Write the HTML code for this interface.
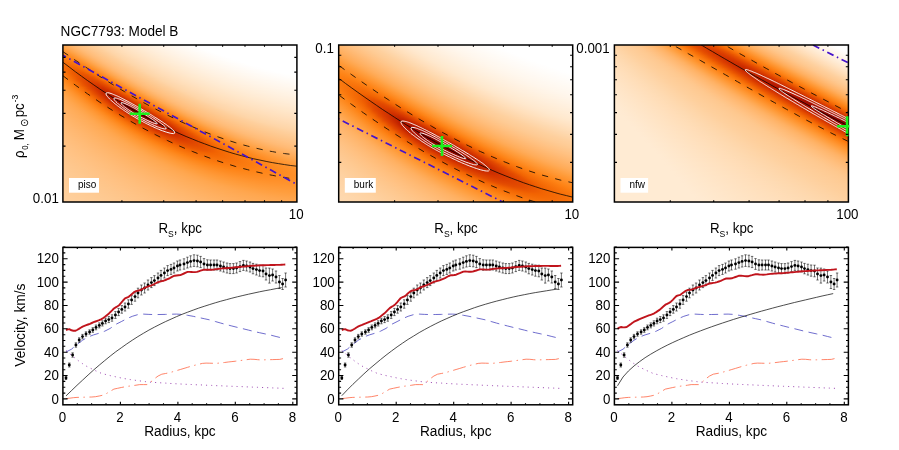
<!DOCTYPE html><html><head><meta charset="utf-8"><title>NGC7793</title><style>
html,body{margin:0;padding:0;background:#fff}body{width:899px;height:450px;position:relative;overflow:hidden;font-family:"Liberation Sans",sans-serif}
.hm{position:absolute;width:234px;overflow:hidden}.hm i{display:block;height:1px;width:100%}
svg{position:absolute;left:0;top:0;will-change:transform}text{font-family:"Liberation Sans",sans-serif;font-size:13.33px;fill:#000}
</style></head><body>
<div class="hm" style="left:63px;top:45px;height:157px">
<i style="background:linear-gradient(90deg,#ffa851,#ffb062,#ffb872,#ffbf7e,#ffc487,#fec991,#fecd99,#fed3a4,#fed7ac,#fedbb3,#ffdeb9,#ffe1bf,#ffe4c5,#ffe7cb,#ffe9d0,#ffecd5,#ffeed9,#fff0de,#fff2e2,#fff3e6,#fff5ea,#fff7ed,#fff8f1,#fffaf4,#fffbf7,#fffdfa,#fffefd,#ffffff,#ffffff,#ffffff,#ffffff,#ffffff,#ffffff,#ffffff,#ffffff,#ffffff,#ffffff,#ffffff,#ffffff,#ffffff,#ffffff,#ffffff,#ffffff,#ffffff,#ffffff,#ffffff,#ffffff,#ffffff)"></i>
<i style="background:linear-gradient(90deg,#ffa54b,#ffad5c,#ffb66d,#ffbd7a,#ffc284,#fec78e,#fecc97,#fed19f,#fed6aa,#fedab1,#ffddb7,#ffe0bd,#ffe3c3,#ffe6c9,#ffe8ce,#ffebd3,#ffedd8,#ffefdc,#fff1e0,#fff3e4,#fff4e8,#fff6ec,#fff8ef,#fff9f2,#fffbf6,#fffcf9,#fffdfb,#fffffe,#ffffff,#ffffff,#ffffff,#ffffff,#ffffff,#ffffff,#ffffff,#ffffff,#ffffff,#ffffff,#ffffff,#ffffff,#ffffff,#ffffff,#ffffff,#ffffff,#ffffff,#ffffff,#ffffff,#ffffff)"></i>
<i style="background:linear-gradient(90deg,#ffa144,#ffab57,#ffb367,#ffbb77,#ffc181,#fec68b,#fecb94,#fecf9c,#fed5a7,#fed8ae,#fedcb5,#ffdfbb,#ffe2c1,#ffe5c7,#ffe8cc,#ffead1,#ffecd6,#ffeedb,#fff0df,#fff2e3,#fff4e7,#fff5ea,#fff7ee,#fff9f1,#fffaf4,#fffbf7,#fffdfa,#fffefd,#ffffff,#ffffff,#ffffff,#ffffff,#ffffff,#ffffff,#ffffff,#ffffff,#ffffff,#ffffff,#ffffff,#ffffff,#ffffff,#ffffff,#ffffff,#ffffff,#ffffff,#ffffff,#ffffff,#ffffff)"></i>
<i style="background:linear-gradient(90deg,#ff9d3d,#ffa851,#ffb062,#ffb972,#ffbf7e,#ffc488,#fec991,#fece9a,#fed3a4,#fed7ac,#fedbb3,#ffdeb9,#ffe1bf,#ffe4c5,#ffe7ca,#ffe9cf,#ffebd4,#ffeed9,#ffefdd,#fff1e1,#fff3e5,#fff5e9,#fff6ec,#fff8f0,#fff9f3,#fffbf6,#fffcf9,#fffdfc,#fffffe,#ffffff,#ffffff,#ffffff,#ffffff,#ffffff,#ffffff,#ffffff,#ffffff,#ffffff,#ffffff,#ffffff,#ffffff,#ffffff,#ffffff,#ffffff,#ffffff,#ffffff,#ffffff,#ffffff)"></i>
<i style="background:linear-gradient(90deg,#ff9937,#ffa44a,#ffad5c,#ffb66d,#ffbd7b,#ffc285,#fec78e,#fecc97,#fed1a0,#fed6aa,#fedab1,#ffddb7,#ffe0bd,#ffe3c3,#ffe6c8,#ffe8ce,#ffebd3,#ffedd7,#ffefdc,#fff1e0,#fff2e4,#fff4e7,#fff6eb,#fff7ee,#fff9f1,#fffaf5,#fffcf7,#fffdfa,#fffefd,#ffffff,#ffffff,#ffffff,#ffffff,#ffffff,#ffffff,#ffffff,#ffffff,#ffffff,#ffffff,#ffffff,#ffffff,#ffffff,#ffffff,#ffffff,#ffffff,#ffffff,#ffffff,#ffffff)"></i>
<i style="background:linear-gradient(90deg,#ff9531,#ffa042,#ffaa56,#ffb367,#ffbb77,#ffc181,#fec68b,#fecb94,#fecf9c,#fed5a7,#fed8ae,#fedcb5,#ffdfbb,#ffe2c1,#ffe5c7,#ffe7cc,#ffead1,#ffecd6,#ffeeda,#fff0de,#fff2e2,#fff3e6,#fff5e9,#fff7ed,#fff8f0,#fffaf3,#fffbf6,#fffcf9,#fffdfc,#fffffe,#ffffff,#ffffff,#ffffff,#ffffff,#ffffff,#ffffff,#ffffff,#ffffff,#ffffff,#ffffff,#ffffff,#ffffff,#ffffff,#ffffff,#ffffff,#ffffff,#ffffff,#ffffff)"></i>
<i style="background:linear-gradient(90deg,#ff922b,#ff9c3b,#ffa750,#ffb062,#ffb972,#ffbf7e,#ffc488,#fec991,#fece9a,#fed3a4,#fed7ac,#fedbb3,#ffdeb9,#ffe1bf,#ffe4c5,#ffe6ca,#ffe9cf,#ffebd4,#ffedd8,#ffefdd,#fff1e1,#fff3e4,#fff4e8,#fff6eb,#fff7ef,#fff9f2,#fffaf5,#fffcf8,#fffdfa,#fffefd,#ffffff,#ffffff,#ffffff,#ffffff,#ffffff,#ffffff,#ffffff,#ffffff,#ffffff,#ffffff,#ffffff,#ffffff,#ffffff,#ffffff,#ffffff,#ffffff,#ffffff,#ffffff)"></i>
<i style="background:linear-gradient(90deg,#fe8e26,#ff9835,#ffa449,#ffad5c,#ffb66d,#ffbd7b,#ffc285,#fec78e,#fecc97,#fed1a0,#fed6aa,#fedab1,#ffddb7,#ffe0bd,#ffe3c3,#ffe5c8,#ffe8cd,#ffead2,#ffecd7,#ffeedb,#fff0df,#fff2e3,#fff4e6,#fff5ea,#fff7ed,#fff8f0,#fffaf3,#fffbf6,#fffcf9,#fffdfc,#fffffe,#ffffff,#ffffff,#ffffff,#ffffff,#ffffff,#ffffff,#ffffff,#ffffff,#ffffff,#ffffff,#ffffff,#ffffff,#ffffff,#ffffff,#ffffff,#ffffff,#ffffff)"></i>
<i style="background:linear-gradient(90deg,#fe8a20,#ff942f,#ffa041,#ffaa56,#ffb367,#ffbb77,#ffc181,#fec68b,#fecb94,#fecf9c,#fed5a7,#fed8ae,#fedcb5,#ffdfbb,#ffe2c1,#ffe5c6,#ffe7cb,#ffe9d0,#ffecd5,#ffeed9,#fff0dd,#fff1e1,#fff3e5,#fff5e9,#fff6ec,#fff8ef,#fff9f2,#fffaf5,#fffcf8,#fffdfa,#fffefd,#ffffff,#ffffff,#ffffff,#ffffff,#ffffff,#ffffff,#ffffff,#ffffff,#ffffff,#ffffff,#ffffff,#ffffff,#ffffff,#ffffff,#ffffff,#ffffff,#ffffff)"></i>
<i style="background:linear-gradient(90deg,#fe861b,#ff9029,#ff9b3a,#ffa750,#ffb062,#ffb972,#ffbf7e,#ffc488,#fec991,#fece9a,#fed3a4,#fed7ac,#fedbb3,#ffdeb9,#ffe1bf,#ffe4c4,#ffe6c9,#ffe9ce,#ffebd3,#ffedd8,#ffefdc,#fff1e0,#fff2e4,#fff4e7,#fff6ea,#fff7ee,#fff8f1,#fffaf4,#fffbf6,#fffcf9,#fffdfc,#fffffe,#ffffff,#ffffff,#ffffff,#ffffff,#ffffff,#ffffff,#ffffff,#ffffff,#ffffff,#ffffff,#ffffff,#ffffff,#ffffff,#ffffff,#ffffff,#ffffff)"></i>
<i style="background:linear-gradient(90deg,#fe8316,#fe8c23,#ff9734,#ffa348,#ffad5c,#ffb66d,#ffbd7b,#ffc385,#fec88e,#fecc97,#fed1a0,#fed6aa,#fed9b0,#ffddb7,#ffe0bd,#ffe3c2,#ffe5c8,#ffe8cd,#ffead1,#ffecd6,#ffeeda,#fff0de,#fff2e2,#fff3e6,#fff5e9,#fff6ec,#fff8ef,#fff9f2,#fffaf5,#fffcf8,#fffdfa,#fffefd,#ffffff,#ffffff,#ffffff,#ffffff,#ffffff,#ffffff,#ffffff,#ffffff,#ffffff,#ffffff,#ffffff,#ffffff,#ffffff,#ffffff,#ffffff,#ffffff)"></i>
<i style="background:linear-gradient(90deg,#fd8013,#fe881d,#ff932d,#ff9f40,#ffaa56,#ffb367,#ffbb77,#ffc182,#fec68b,#fecb94,#fecf9c,#fed5a7,#fed8ae,#fedcb5,#ffdfbb,#ffe2c0,#ffe4c6,#ffe7cb,#ffe9d0,#ffebd4,#ffedd9,#ffefdd,#fff1e0,#fff3e4,#fff4e8,#fff6eb,#fff7ee,#fff9f1,#fffaf4,#fffbf6,#fffcf9,#fffdfb,#fffefe,#ffffff,#ffffff,#ffffff,#ffffff,#ffffff,#ffffff,#ffffff,#ffffff,#ffffff,#ffffff,#ffffff,#ffffff,#ffffff,#ffffff,#ffffff)"></i>
<i style="background:linear-gradient(90deg,#fc7c11,#fe8417,#fe8f27,#ff9b39,#ffa74f,#ffb061,#ffb973,#ffbf7e,#ffc488,#fec991,#fece9a,#fed3a4,#fed7ac,#fedab2,#ffdeb9,#ffe1be,#ffe3c4,#ffe6c9,#ffe8ce,#ffebd3,#ffedd7,#ffeedb,#fff0df,#fff2e3,#fff4e6,#fff5e9,#fff6ed,#fff8f0,#fff9f2,#fffaf5,#fffcf8,#fffdfa,#fffefc,#ffffff,#ffffff,#ffffff,#ffffff,#ffffff,#ffffff,#ffffff,#ffffff,#ffffff,#ffffff,#ffffff,#ffffff,#ffffff,#ffffff,#ffffff)"></i>
<i style="background:linear-gradient(90deg,#fa790f,#fd8013,#fe8a20,#ff9633,#ffa347,#ffad5b,#ffb66d,#ffbd7b,#ffc385,#fec88e,#fecc97,#fed1a0,#fed6aa,#fed9b0,#ffdcb6,#ffdfbc,#ffe2c2,#ffe5c7,#ffe7cc,#ffead1,#ffecd5,#ffeed9,#fff0dd,#fff1e1,#fff3e5,#fff4e8,#fff6eb,#fff7ee,#fff9f1,#fffaf4,#fffbf6,#fffcf9,#fffdfb,#fffefd,#ffffff,#ffffff,#ffffff,#ffffff,#ffffff,#ffffff,#ffffff,#ffffff,#ffffff,#ffffff,#ffffff,#ffffff,#ffffff,#ffffff)"></i>
<i style="background:linear-gradient(90deg,#f9760d,#fc7c11,#fe861a,#ff922c,#ff9f3f,#ffaa55,#ffb367,#ffbb77,#ffc182,#fec68b,#fecb94,#fecf9c,#fed5a7,#fed8ae,#fedbb4,#ffdeba,#ffe1c0,#ffe4c5,#ffe7ca,#ffe9cf,#ffebd4,#ffedd8,#ffefdc,#fff1e0,#fff2e3,#fff4e6,#fff5ea,#fff7ed,#fff8f0,#fff9f2,#fffaf5,#fffcf8,#fffdfa,#fffefc,#fffffe,#ffffff,#ffffff,#ffffff,#ffffff,#ffffff,#ffffff,#ffffff,#ffffff,#ffffff,#ffffff,#ffffff,#ffffff,#ffffff)"></i>
<i style="background:linear-gradient(90deg,#f8740c,#fa780e,#fe8214,#fe8d25,#ff9a38,#ffa74f,#ffb061,#ffb973,#ffbf7e,#ffc488,#fec991,#fece9a,#fed3a3,#fed7ac,#fedab2,#ffddb8,#ffe0be,#ffe3c3,#ffe6c8,#ffe8cd,#ffead2,#ffecd6,#ffeeda,#fff0de,#fff1e2,#fff3e5,#fff5e8,#fff6eb,#fff7ee,#fff9f1,#fffaf4,#fffbf6,#fffcf9,#fffdfb,#fffefd,#ffffff,#ffffff,#ffffff,#ffffff,#ffffff,#ffffff,#ffffff,#ffffff,#ffffff,#ffffff,#ffffff,#ffffff,#ffffff)"></i>
<i style="background:linear-gradient(90deg,#f8720a,#f9750c,#fc7d11,#fe891e,#ff9531,#ffa247,#ffad5b,#ffb66d,#ffbd7b,#ffc385,#fec88e,#fecc97,#fed19f,#fed6a9,#fed9b0,#ffdcb6,#ffdfbc,#ffe2c1,#ffe5c6,#ffe7cb,#ffe9d0,#ffebd4,#ffedd9,#ffefdc,#fff1e0,#fff2e3,#fff4e7,#fff5ea,#fff7ed,#fff8f0,#fff9f2,#fffaf5,#fffbf7,#fffdfa,#fffefc,#fffefe,#ffffff,#ffffff,#ffffff,#ffffff,#ffffff,#ffffff,#ffffff,#ffffff,#ffffff,#ffffff,#ffffff,#ffffff)"></i>
<i style="background:linear-gradient(90deg,#f77009,#f7720a,#fa790f,#fe8417,#ff912a,#ff9e3e,#ffaa55,#ffb367,#ffbb77,#ffc182,#fec68b,#fecb94,#fecf9c,#fed5a7,#fed8ae,#fedbb4,#ffdeba,#ffe1bf,#ffe4c5,#ffe6c9,#ffe9ce,#ffebd3,#ffedd7,#ffeedb,#fff0de,#fff2e2,#fff3e5,#fff5e8,#fff6eb,#fff7ee,#fff9f1,#fffaf4,#fffbf6,#fffcf8,#fffdfb,#fffefd,#ffffff,#ffffff,#ffffff,#ffffff,#ffffff,#ffffff,#ffffff,#ffffff,#ffffff,#ffffff,#ffffff,#ffffff)"></i>
<i style="background:linear-gradient(90deg,#f66f09,#f66f08,#f9750c,#fd8013,#fe8c23,#ff9937,#ffa64e,#ffb061,#ffb973,#ffbf7e,#ffc488,#fec991,#fece99,#fed3a3,#fed7ab,#fedab2,#ffddb8,#ffe0bd,#ffe3c3,#ffe5c8,#ffe8cc,#ffead1,#ffecd5,#ffeed9,#ffefdd,#fff1e0,#fff2e4,#fff4e7,#fff5ea,#fff7ed,#fff8f0,#fff9f2,#fffaf5,#fffbf7,#fffcf9,#fffdfb,#fffefd,#ffffff,#ffffff,#ffffff,#ffffff,#ffffff,#ffffff,#ffffff,#ffffff,#ffffff,#ffffff,#ffffff)"></i>
<i style="background:linear-gradient(90deg,#f66e08,#f56c07,#f7710a,#fb7b10,#fe871c,#ff9530,#ffa246,#ffad5b,#ffb66d,#ffbd7b,#ffc385,#fec78e,#fecc97,#fed09f,#fed6a9,#fed9b0,#ffdcb6,#ffdfbb,#ffe2c1,#ffe4c6,#ffe7cb,#ffe9cf,#ffebd3,#ffedd8,#ffefdb,#fff0df,#fff2e2,#fff3e5,#fff5e9,#fff6eb,#fff7ee,#fff8f1,#fffaf3,#fffbf6,#fffcf8,#fffdfa,#fffefc,#fffffe,#ffffff,#ffffff,#ffffff,#ffffff,#ffffff,#ffffff,#ffffff,#ffffff,#ffffff,#ffffff)"></i>
<i style="background:linear-gradient(90deg,#f66e08,#f46a06,#f66d07,#f9760d,#fe8215,#fe9029,#ff9e3d,#ffaa55,#ffb367,#ffbb77,#ffc182,#fec68b,#fecb94,#fecf9c,#fed4a7,#fed8ad,#fedbb3,#ffdeb9,#ffe1bf,#ffe3c4,#ffe6c9,#ffe8cd,#ffead2,#ffecd6,#ffeeda,#fff0dd,#fff1e1,#fff3e4,#fff4e7,#fff5ea,#fff7ed,#fff8ef,#fff9f2,#fffaf4,#fffbf7,#fffcf9,#fffdfb,#fffefd,#ffffff,#ffffff,#ffffff,#ffffff,#ffffff,#ffffff,#ffffff,#ffffff,#ffffff,#ffffff)"></i>
<i style="background:linear-gradient(90deg,#f66e08,#f46805,#f46905,#f7710a,#fc7d11,#fe8b21,#ff9936,#ffa64e,#ffb061,#ffb972,#ffbf7e,#ffc488,#fec991,#fecd99,#fed2a2,#fed7ab,#fedab1,#ffddb7,#ffe0bd,#ffe2c2,#ffe5c7,#ffe7cb,#ffe9d0,#ffebd4,#ffedd8,#ffefdc,#fff0df,#fff2e3,#fff3e6,#fff5e9,#fff6eb,#fff7ee,#fff8f1,#fff9f3,#fffbf5,#fffcf7,#fffcfa,#fffdfc,#fffefd,#ffffff,#ffffff,#ffffff,#ffffff,#ffffff,#ffffff,#ffffff,#ffffff,#ffffff)"></i>
<i style="background:linear-gradient(90deg,#f66f08,#f36704,#f36603,#f56c07,#fa780e,#fe861a,#ff942f,#ffa245,#ffad5b,#ffb66d,#ffbd7b,#ffc285,#fec78e,#fecc96,#fed09e,#fed5a9,#fed9af,#fedcb5,#ffdfbb,#ffe1c0,#ffe4c5,#ffe6ca,#ffe9ce,#ffead2,#ffecd6,#ffeeda,#fff0de,#fff1e1,#fff3e4,#fff4e7,#fff5ea,#fff7ed,#fff8ef,#fff9f2,#fffaf4,#fffbf6,#fffcf8,#fffdfa,#fffefc,#fffefe,#ffffff,#ffffff,#ffffff,#ffffff,#ffffff,#ffffff,#ffffff,#ffffff)"></i>
<i style="background:linear-gradient(90deg,#f77009,#f36704,#f26302,#f46804,#f8730b,#fe8113,#fe8f27,#ff9d3d,#ffa954,#ffb367,#ffbb77,#ffc181,#fec68b,#feca93,#fecf9b,#fed4a6,#fed8ad,#fedbb3,#ffdeb9,#ffe0be,#ffe3c3,#ffe5c8,#ffe8cc,#ffead1,#ffecd5,#ffedd9,#ffefdc,#fff0df,#fff2e3,#fff3e6,#fff5e9,#fff6eb,#fff7ee,#fff8f0,#fff9f3,#fffaf5,#fffbf7,#fffcf9,#fffdfb,#fffefd,#fffffe,#ffffff,#ffffff,#ffffff,#ffffff,#ffffff,#ffffff,#ffffff)"></i>
<i style="background:linear-gradient(90deg,#f7710a,#f36704,#f06002,#f26402,#f66d08,#fb7b10,#fe8a20,#ff9835,#ffa64d,#ffb061,#ffb972,#ffbf7e,#ffc488,#fec990,#fecd99,#fed2a2,#fed6aa,#fedab1,#ffdcb6,#ffdfbc,#ffe2c1,#ffe4c6,#ffe7ca,#ffe9cf,#ffebd3,#ffedd7,#ffeedb,#fff0de,#fff1e1,#fff3e4,#fff4e7,#fff5ea,#fff6ec,#fff8ef,#fff9f1,#fffaf4,#fffbf6,#fffcf8,#fffcfa,#fffdfb,#fffefd,#ffffff,#ffffff,#ffffff,#ffffff,#ffffff,#ffffff,#ffffff)"></i>
<i style="background:linear-gradient(90deg,#f8730b,#f36804,#ee5d02,#ee5d02,#f46805,#f9750c,#fe8418,#ff932e,#ffa144,#ffac5a,#ffb66c,#ffbd7b,#ffc284,#fec78d,#fecc96,#fed09e,#fed5a8,#fed8ae,#fedbb4,#ffdeba,#ffe1bf,#ffe3c4,#ffe6c9,#ffe8cd,#ffead1,#ffecd5,#ffedd9,#ffefdc,#fff1e0,#fff2e3,#fff3e6,#fff5e8,#fff6eb,#fff7ee,#fff8f0,#fff9f2,#fffaf4,#fffbf6,#fffcf8,#fffdfa,#fffefc,#fffefd,#ffffff,#ffffff,#ffffff,#ffffff,#ffffff,#ffffff)"></i>
<i style="background:linear-gradient(90deg,#f9750c,#f46905,#ed5c02,#ec5902,#f16302,#f77009,#fd7f12,#fe8e26,#ff9d3c,#ffa954,#ffb366,#ffbb77,#ffc181,#fec68a,#feca93,#fece9b,#fed4a5,#fed7ac,#fedab2,#ffddb8,#ffe0bd,#ffe2c2,#ffe5c7,#ffe7cb,#ffe9cf,#ffebd3,#ffedd7,#ffeedb,#fff0de,#fff1e1,#fff3e4,#fff4e7,#fff5ea,#fff6ec,#fff7ef,#fff8f1,#fff9f3,#fffaf5,#fffbf7,#fffcf9,#fffdfb,#fffefc,#fffefe,#ffffff,#ffffff,#ffffff,#ffffff,#ffffff)"></i>
<i style="background:linear-gradient(90deg,#fa770e,#f46a06,#ed5c02,#ea5701,#ec5a02,#f46a06,#fa790f,#fe891e,#ff9835,#ffa54d,#ffaf60,#ffb872,#ffbf7e,#ffc487,#fec990,#fecd98,#fed1a1,#fed6aa,#fed9b0,#ffdcb6,#ffdfbb,#ffe1c0,#ffe4c5,#ffe6c9,#ffe8ce,#ffead2,#ffecd6,#ffeed9,#ffefdd,#fff1e0,#fff2e3,#fff3e6,#fff5e8,#fff6eb,#fff7ed,#fff8ef,#fff9f2,#fffaf4,#fffbf6,#fffcf8,#fffcf9,#fffdfb,#fffefd,#fffffe,#ffffff,#ffffff,#ffffff,#ffffff)"></i>
<i style="background:linear-gradient(90deg,#fb7a0f,#f56c07,#ed5c02,#e95501,#ea5701,#f26402,#f8730b,#fe8316,#ff932d,#ffa144,#ffac5a,#ffb56c,#ffbd7a,#ffc284,#fec78d,#fecb95,#fed09d,#fed5a7,#fed8ae,#fedbb4,#ffdeb9,#ffe0be,#ffe3c3,#ffe5c8,#ffe7cc,#ffe9d0,#ffebd4,#ffedd8,#ffeedb,#fff0de,#fff1e1,#fff3e4,#fff4e7,#fff5e9,#fff6ec,#fff7ee,#fff8f0,#fff9f2,#fffaf4,#fffbf6,#fffcf8,#fffdfa,#fffdfb,#fffefd,#fffffe,#ffffff,#ffffff,#ffffff)"></i>
<i style="background:linear-gradient(90deg,#fc7c10,#f66e08,#ef5e02,#e95401,#e85301,#ec5b02,#f66d07,#fc7e11,#fe8d25,#ff9c3b,#ffa953,#ffb266,#ffbb77,#ffc081,#fec58a,#feca93,#fece9a,#fed3a4,#fed7ab,#fedab1,#ffddb7,#ffdfbc,#ffe2c1,#ffe4c6,#ffe6ca,#ffe9ce,#ffead2,#ffecd6,#ffeed9,#ffefdd,#fff1e0,#fff2e3,#fff3e5,#fff4e8,#fff6ea,#fff7ed,#fff8ef,#fff9f1,#fff9f3,#fffaf5,#fffbf7,#fffcf8,#fffdfa,#fffdfb,#fffefd,#fffffe,#ffffff,#ffffff)"></i>
<i style="background:linear-gradient(90deg,#fd7f12,#f7710a,#f06102,#e85401,#e65001,#e95601,#f36704,#fa770e,#fe881d,#ff9734,#ffa54c,#ffaf60,#ffb871,#ffbf7d,#ffc487,#fec890,#fecd98,#fed1a0,#fed6a9,#fed9af,#fedcb5,#ffdeba,#ffe1bf,#ffe3c4,#ffe6c8,#ffe8cc,#ffead0,#ffebd4,#ffedd8,#ffeedb,#fff0de,#fff1e1,#fff2e4,#fff4e6,#fff5e9,#fff6eb,#fff7ee,#fff8f0,#fff9f2,#fffaf4,#fffbf5,#fffbf7,#fffcf9,#fffdfa,#fffdfc,#fffefd,#fffffe,#ffffff)"></i>
<i style="background:linear-gradient(90deg,#fe8114,#f8730b,#f26402,#e85401,#e54e01,#e75101,#ee5d02,#f7710a,#fe8214,#ff922c,#ffa043,#ffac59,#ffb56b,#ffbd7a,#ffc284,#fec78d,#fecb95,#fecf9c,#fed4a7,#fed8ad,#fedbb3,#ffddb8,#ffe0bd,#ffe2c2,#ffe5c6,#ffe7cb,#ffe9cf,#ffebd2,#ffecd6,#ffeed9,#ffefdd,#fff1e0,#fff2e2,#fff3e5,#fff4e8,#fff5ea,#fff6ec,#fff7ee,#fff8f0,#fff9f2,#fffaf4,#fffbf6,#fffcf7,#fffcf9,#fffdfa,#fffefc,#fffefd,#fffffe)"></i>
<i style="background:linear-gradient(90deg,#fe8417,#f9760d,#f36704,#e95501,#e44d01,#e44d01,#ea5601,#f46a06,#fc7c10,#fe8c24,#ff9c3a,#ffa953,#ffb265,#ffbb76,#ffc080,#fec589,#feca92,#fece9a,#fed2a3,#fed6ab,#fed9b0,#ffdcb6,#ffdfbb,#ffe1c0,#ffe4c4,#ffe6c9,#ffe8cd,#ffead1,#ffebd4,#ffedd8,#ffeedb,#fff0de,#fff1e1,#fff2e4,#fff4e6,#fff5e8,#fff6eb,#fff7ed,#fff8ef,#fff9f1,#fff9f3,#fffaf4,#fffbf6,#fffcf8,#fffcf9,#fffdfb,#fffefc,#fffefd)"></i>
<i style="background:linear-gradient(90deg,#fe861b,#fa790e,#f46905,#ea5601,#e44c01,#e24a01,#e75101,#f16302,#f9760d,#fe871b,#ff9633,#ffa54b,#ffaf5f,#ffb871,#ffbe7d,#ffc386,#fec88f,#fecc97,#fed09e,#fed5a8,#fed8ae,#fedbb4,#ffdeb9,#ffe0be,#ffe3c3,#ffe5c7,#ffe7cb,#ffe9cf,#ffebd3,#ffecd6,#ffeed9,#ffefdc,#fff0df,#fff2e2,#fff3e5,#fff4e7,#fff5e9,#fff6ec,#fff7ee,#fff8f0,#fff9f1,#fffaf3,#fffaf5,#fffbf6,#fffcf8,#fffcf9,#fffdfb,#fffefc)"></i>
<i style="background:linear-gradient(90deg,#fe891e,#fb7c10,#f56c07,#eb5801,#e44c01,#e04701,#e34c01,#eb5901,#f66f08,#fe8114,#ff912b,#ffa042,#ffac59,#ffb56b,#ffbc79,#ffc283,#fec68c,#fecb94,#fecf9c,#fed4a5,#fed7ac,#fedab2,#ffddb7,#ffdfbc,#ffe2c1,#ffe4c5,#ffe6c9,#ffe8cd,#ffead1,#ffebd4,#ffedd8,#ffeedb,#fff0de,#fff1e1,#fff2e3,#fff3e6,#fff4e8,#fff5ea,#fff6ec,#fff7ee,#fff8f0,#fff9f2,#fffaf3,#fffaf5,#fffbf7,#fffcf8,#fffcf9,#fffdfb)"></i>
<i style="background:linear-gradient(90deg,#fe8b22,#fd7e12,#f76f09,#ed5b02,#e44d01,#df4501,#e14701,#e75201,#f36804,#fb7b10,#fe8c22,#ff9b3a,#ffa852,#ffb265,#ffba75,#ffc080,#fec589,#fec991,#fecd99,#fed2a1,#fed6aa,#fed9af,#fedcb5,#ffdeba,#ffe1bf,#ffe3c3,#ffe5c7,#ffe7cb,#ffe9cf,#ffebd3,#ffecd6,#ffeed9,#ffefdc,#fff0df,#fff1e2,#fff3e4,#fff4e6,#fff5e9,#fff6eb,#fff7ed,#fff7ef,#fff8f0,#fff9f2,#fffaf4,#fffbf5,#fffbf7,#fffcf8,#fffcf9)"></i>
<i style="background:linear-gradient(90deg,#fe8e26,#fe8114,#f8730b,#f06002,#e54e01,#df4401,#de4301,#e44c01,#ee5d02,#f8740c,#fe861a,#ff9632,#ffa44a,#ffae5e,#ffb770,#ffbe7c,#ffc386,#fec88e,#fecc96,#fed09d,#fed5a7,#fed8ad,#fedbb3,#ffddb8,#ffe0bd,#ffe2c1,#ffe4c6,#ffe6ca,#ffe8cd,#ffead1,#ffebd4,#ffedd8,#ffeedb,#fff0de,#fff1e0,#fff2e3,#fff3e5,#fff4e7,#fff5e9,#fff6eb,#fff7ed,#fff8ef,#fff8f1,#fff9f2,#fffaf4,#fffbf5,#fffbf7,#fffcf8)"></i>
<i style="background:linear-gradient(90deg,#ff9029,#fe8418,#f9760d,#f26503,#e65101,#de4301,#dc3f00,#e04601,#e95501,#f66d07,#fd8013,#ff902a,#ff9f41,#ffab58,#ffb46a,#ffbc79,#ffc182,#fec68b,#feca93,#fece9b,#fed3a4,#fed7ab,#fed9b1,#ffdcb6,#ffdfbb,#ffe1bf,#ffe3c4,#ffe5c8,#ffe7cc,#ffe9cf,#ffebd3,#ffecd6,#ffeed9,#ffefdc,#fff0df,#fff1e1,#fff2e4,#fff3e6,#fff4e8,#fff5ea,#fff6ec,#fff7ee,#fff8ef,#fff9f1,#fff9f3,#fffaf4,#fffbf5,#fffbf7)"></i>
<i style="background:linear-gradient(90deg,#ff922d,#fe871c,#fa790f,#f46905,#e85301,#df4401,#da3c00,#dd4100,#e54f01,#f36503,#fb790f,#fe8b21,#ff9a39,#ffa851,#ffb164,#ffba74,#ffbf7f,#ffc488,#fec990,#fecd98,#fed1a0,#fed5a9,#fed8ae,#fedbb4,#ffdeb9,#ffe0bd,#ffe2c2,#ffe4c6,#ffe6ca,#ffe8cd,#ffead1,#ffebd4,#ffedd8,#ffeeda,#ffefdd,#fff1e0,#fff2e2,#fff3e4,#fff4e7,#fff5e9,#fff6eb,#fff6ec,#fff7ee,#fff8f0,#fff9f1,#fff9f3,#fffaf4,#fffbf5)"></i>
<i style="background:linear-gradient(90deg,#ff9530,#fe8a20,#fc7c10,#f56c07,#ea5601,#e04601,#d93b00,#da3b00,#e14801,#ec5a02,#f8720b,#fe8518,#ff9531,#ffa349,#ffae5d,#ffb76f,#ffbe7c,#ffc385,#fec78d,#fecb95,#fecf9c,#fed4a6,#fed7ac,#fedab2,#ffddb7,#ffdfbb,#ffe1c0,#ffe3c4,#ffe5c8,#ffe7cc,#ffe9cf,#ffebd3,#ffecd6,#ffedd9,#ffefdc,#fff0de,#fff1e1,#fff2e3,#fff3e5,#fff4e7,#fff5e9,#fff6eb,#fff7ed,#fff7ee,#fff8f0,#fff9f1,#fff9f3,#fffaf4)"></i>
<i style="background:linear-gradient(90deg,#ff9733,#fe8c23,#fd7f12,#f77009,#ec5902,#e14801,#d93a00,#d73700,#dd4100,#e75201,#f56b06,#fd7f12,#fe9028,#ff9f3f,#ffab57,#ffb469,#ffbc78,#ffc182,#fec58a,#feca92,#fece9a,#fed2a2,#fed6aa,#fed9af,#fedbb4,#ffdeb9,#ffe0be,#ffe2c2,#ffe5c6,#ffe6ca,#ffe8ce,#ffead1,#ffebd4,#ffedd7,#ffeeda,#ffefdd,#fff0df,#fff1e1,#fff2e4,#fff3e6,#fff4e8,#fff5ea,#fff6eb,#fff7ed,#fff7ef,#fff8f0,#fff9f2,#fff9f3)"></i>
<i style="background:linear-gradient(90deg,#ff9936,#fe8f27,#fe8315,#f8730b,#ef6002,#e34b01,#d93b00,#d33400,#d93a00,#e34b01,#f16202,#fa780e,#fe8a20,#ff9a38,#ffa750,#ffb163,#ffb973,#ffbf7e,#ffc487,#fec88f,#fecc97,#fed09e,#fed5a7,#fed8ad,#fedab2,#ffddb7,#ffdfbc,#ffe1c0,#ffe4c4,#ffe6c8,#ffe7cc,#ffe9cf,#ffebd2,#ffecd6,#ffedd8,#ffeedb,#fff0de,#fff1e0,#fff2e2,#fff3e4,#fff4e6,#fff5e8,#fff5ea,#fff6ec,#fff7ed,#fff8ef,#fff8f0,#fff9f2)"></i>
<i style="background:linear-gradient(90deg,#ff9b39,#ff912b,#fe8619,#fa770d,#f36603,#e54f01,#da3d00,#d13200,#d43400,#de4301,#ea5701,#f7710a,#fe8417,#ff9430,#ffa347,#ffad5c,#ffb66e,#ffbd7b,#ffc284,#fec78c,#fecb94,#fece9b,#fed3a4,#fed7ab,#fed9b0,#fedcb5,#ffdeba,#ffe0be,#ffe3c2,#ffe5c6,#ffe6ca,#ffe8cd,#ffead1,#ffebd4,#ffedd7,#ffeeda,#ffefdc,#fff0de,#fff1e1,#fff2e3,#fff3e5,#fff4e7,#fff5e9,#fff5ea,#fff6ec,#fff7ed,#fff8ef,#fff8f0)"></i>
<i style="background:linear-gradient(90deg,#ff9d3c,#ff932e,#fe881e,#fb7a0f,#f46a05,#e75201,#dc3f00,#d03100,#ce2f00,#da3c00,#e65001,#f46905,#fc7e11,#fe8f27,#ff9e3e,#ffaa56,#ffb368,#ffbb77,#ffc081,#fec589,#fec991,#fecd98,#fed1a0,#fed5a9,#fed8ae,#fedbb3,#ffddb8,#ffdfbc,#ffe2c0,#ffe4c4,#ffe6c8,#ffe7cc,#ffe9cf,#ffead2,#ffecd5,#ffedd8,#ffeedb,#ffefdd,#fff0df,#fff1e1,#fff2e3,#fff3e5,#fff4e7,#fff5e9,#fff6eb,#fff6ec,#fff7ed,#fff8ef)"></i>
<i style="background:linear-gradient(90deg,#ff9e3f,#ff9631,#fe8b22,#fc7e11,#f66e08,#ea5601,#de4301,#d13100,#ca2b00,#d43400,#e14801,#ef5f02,#fa770d,#fe891f,#ff9936,#ffa74f,#ffb061,#ffb872,#ffbe7d,#ffc386,#fec88e,#fecc96,#fecf9d,#fed4a6,#fed7ac,#fedab1,#ffdcb6,#ffdeba,#ffe1bf,#ffe3c3,#ffe5c6,#ffe6ca,#ffe8cd,#ffead0,#ffebd3,#ffecd6,#ffeed9,#ffefdb,#fff0de,#fff1e0,#fff2e2,#fff3e4,#fff3e6,#fff4e7,#fff5e9,#fff6eb,#fff6ec,#fff7ed)"></i>
<i style="background:linear-gradient(90deg,#ffa042,#ff9835,#fe8e25,#fe8113,#f7710a,#ec5b02,#e04701,#d33300,#c72800,#cc2d00,#dc3f00,#e95501,#f76f09,#fe8316,#ff942e,#ffa246,#ffad5b,#ffb66c,#ffbd7a,#ffc183,#fec68b,#feca93,#fece9a,#fed2a2,#fed6a9,#fed9af,#fedbb4,#ffddb8,#ffe0bd,#ffe2c1,#ffe4c4,#ffe5c8,#ffe7cb,#ffe9cf,#ffead2,#ffecd5,#ffedd7,#ffeeda,#ffefdc,#fff0de,#fff1e0,#fff2e2,#fff3e4,#fff4e6,#fff4e8,#fff5e9,#fff6eb,#fff6ec)"></i>
<i style="background:linear-gradient(90deg,#ffa144,#ff9a38,#ff9029,#fe8418,#f9750c,#f16302,#e34b01,#d63600,#c52700,#c52700,#d73700,#e44d01,#f36704,#fc7d11,#fe8e26,#ff9d3d,#ffa954,#ffb266,#ffbb76,#ffc080,#ffc488,#fec890,#fecc97,#fed09e,#fed5a7,#fed7ad,#fedab2,#ffdcb6,#ffdfbb,#ffe1bf,#ffe3c3,#ffe5c6,#ffe6ca,#ffe8cd,#ffe9d0,#ffebd3,#ffecd6,#ffedd8,#ffeedb,#ffefdd,#fff0df,#fff1e1,#fff2e3,#fff3e5,#fff4e6,#fff4e8,#fff5e9,#fff6eb)"></i>
<i style="background:linear-gradient(90deg,#ffa347,#ff9c3b,#ff932d,#fe871c,#fa790f,#f36804,#e64f01,#d93a00,#c62800,#c02200,#ce2f00,#df4401,#ed5b02,#f9760d,#fe881d,#ff9835,#ffa64d,#ffaf60,#ffb870,#ffbe7c,#ffc385,#fec78d,#fecb94,#fece9b,#fed3a3,#fed6aa,#fed9af,#fedbb4,#ffdeb9,#ffe0bd,#ffe2c1,#ffe4c4,#ffe5c8,#ffe7cb,#ffe9ce,#ffead1,#ffebd4,#ffecd7,#ffeed9,#ffefdb,#fff0de,#fff1e0,#fff1e1,#fff2e3,#fff3e5,#fff4e6,#fff4e8,#fff5e9)"></i>
<i style="background:linear-gradient(90deg,#ffa44a,#ff9e3e,#ff9530,#fe8a20,#fc7d11,#f56c07,#e85401,#db3e00,#c82a00,#bc1f00,#c52700,#da3b00,#e85301,#f66e08,#fe8214,#ff932d,#ffa144,#ffac5a,#ffb56b,#ffbc79,#ffc182,#fec58a,#fec991,#fecd98,#fed19f,#fed5a8,#fed8ad,#fedab2,#ffddb7,#ffdfbb,#ffe1bf,#ffe3c3,#ffe4c6,#ffe6c9,#ffe8cd,#ffe9d0,#ffead2,#ffecd5,#ffedd8,#ffeeda,#ffefdc,#fff0de,#fff1e0,#fff2e2,#fff2e3,#fff3e5,#fff4e7,#fff4e8)"></i>
<i style="background:linear-gradient(90deg,#ffa54c,#ff9f40,#ff9734,#fe8d24,#fd8013,#f77009,#eb5901,#de4301,#cb2d00,#bb1e00,#bd2000,#d23200,#e34b01,#f36603,#fb7c10,#fe8d25,#ff9c3b,#ffa953,#ffb265,#ffba74,#ffbf7e,#ffc487,#fec88f,#fecc96,#fecf9c,#fed4a5,#fed7ab,#fed9b0,#fedbb4,#ffdeb9,#ffe0bd,#ffe2c1,#ffe4c4,#ffe5c8,#ffe7cb,#ffe8ce,#ffead1,#ffebd3,#ffecd6,#ffedd8,#ffeeda,#ffefdd,#fff0de,#fff1e0,#fff2e2,#fff2e4,#fff3e5,#fff4e7)"></i>
<i style="background:linear-gradient(90deg,#ffa74f,#ffa143,#ff9937,#fe9028,#fe8417,#f9740c,#f06002,#e14801,#d03100,#bb1e00,#b71b00,#c82900,#dd4200,#ec5902,#f9740c,#fe871c,#ff9734,#ffa54b,#ffaf5e,#ffb76f,#ffbd7b,#ffc284,#fec68c,#feca93,#fece9a,#fed1a1,#fed5a9,#fed8ae,#fedab2,#ffddb7,#ffdfbb,#ffe1bf,#ffe3c2,#ffe4c6,#ffe6c9,#ffe8cc,#ffe9cf,#ffead2,#ffebd4,#ffecd7,#ffedd9,#ffeedb,#ffefdd,#fff0df,#fff1e1,#fff2e2,#fff2e4,#fff3e5)"></i>
<i style="background:linear-gradient(90deg,#ffa851,#ffa246,#ff9b3a,#ff922c,#fe871b,#fa780e,#f36704,#e44d01,#d53600,#bd2000,#b31700,#be2100,#d83800,#e75101,#f56d07,#fe8114,#ff922b,#ffa042,#ffab58,#ffb469,#ffbb77,#ffc080,#ffc488,#fec890,#fecc97,#fed09d,#fed4a6,#fed7ab,#fed9b0,#fedcb5,#ffdeb9,#ffe0bd,#ffe2c0,#ffe3c4,#ffe5c7,#ffe7ca,#ffe8cd,#ffe9d0,#ffebd3,#ffecd5,#ffedd7,#ffeed9,#ffefdb,#ffefdd,#fff0df,#fff1e1,#fff2e2,#fff2e4)"></i>
<i style="background:linear-gradient(90deg,#ffa954,#ffa449,#ff9d3d,#ff9430,#fe8a20,#fc7c10,#f56b06,#e85301,#da3b00,#c12300,#b01500,#b61a00,#cd2f00,#e24901,#f26402,#fb7a0f,#fe8c23,#ff9b3a,#ffa851,#ffb163,#ffb972,#ffbe7d,#ffc385,#fec78d,#fecb94,#fece9b,#fed2a2,#fed6a9,#fed8ae,#fedbb3,#ffddb7,#ffdfbb,#ffe1bf,#ffe2c2,#ffe4c5,#ffe6c9,#ffe7cb,#ffe9ce,#ffead1,#ffebd3,#ffecd6,#ffedd8,#ffeeda,#ffefdc,#fff0de,#fff0df,#fff1e1,#fff2e2)"></i>
<i style="background:linear-gradient(90deg,#ffaa55,#ffa54c,#ff9f3f,#ff9733,#fe8d24,#fd8013,#f77009,#eb5801,#dd4100,#c62800,#b11500,#ae1300,#c22500,#dc3f00,#eb5801,#f8730b,#fe861a,#ff9632,#ffa449,#ffae5d,#ffb66d,#ffbc7a,#ffc182,#fec58a,#fec991,#fecd98,#fed09e,#fed5a7,#fed7ac,#fed9b0,#fedcb5,#ffdeb9,#ffe0bd,#ffe1c0,#ffe3c4,#ffe5c7,#ffe6ca,#ffe8cc,#ffe9cf,#ffead2,#ffebd4,#ffecd6,#ffedd8,#ffeeda,#ffefdc,#fff0de,#fff0df,#fff1e1)"></i>
<i style="background:linear-gradient(90deg,#ffab57,#ffa64e,#ffa042,#ff9936,#fe8f28,#fe8316,#f8740c,#ef5f02,#e14701,#cd2e00,#b31700,#a80e00,#b91c00,#d53500,#e65001,#f56b06,#fd8013,#ff912a,#ff9f40,#ffaa56,#ffb367,#ffbb76,#ffbf7f,#ffc487,#fec88e,#fecb95,#fecf9b,#fed3a3,#fed6aa,#fed8ae,#fedbb3,#ffddb7,#ffdfbb,#ffe1be,#ffe2c2,#ffe4c5,#ffe5c8,#ffe7cb,#ffe8cd,#ffe9d0,#ffead2,#ffecd5,#ffecd7,#ffedd9,#ffeedb,#ffefdc,#fff0de,#fff0df)"></i>
<i style="background:linear-gradient(90deg,#ffab58,#ffa851,#ffa245,#ff9b39,#ff922c,#fe871b,#fa780e,#f36704,#e44d01,#d33400,#b71b00,#a40d00,#af1300,#ca2b00,#e04701,#f16202,#fa790f,#fe8b21,#ff9a38,#ffa74f,#ffb061,#ffb870,#ffbe7b,#ffc284,#fec68b,#feca92,#fecd99,#fed19f,#fed5a7,#fed7ac,#fedab1,#fedcb5,#ffdeb9,#ffe0bc,#ffe1c0,#ffe3c3,#ffe4c6,#ffe6c9,#ffe7cc,#ffe9ce,#ffead1,#ffebd3,#ffecd5,#ffedd7,#ffeed9,#ffeedb,#ffefdc,#fff0de)"></i>
<i style="background:linear-gradient(90deg,#ffac5a,#ffa953,#ffa348,#ff9d3c,#ff942f,#fe8a1f,#fc7c10,#f56b06,#e85301,#d93a00,#bd2000,#a40d00,#a50d00,#be2100,#db3d00,#ea5701,#f8720a,#fe8518,#ff9530,#ffa247,#ffad5b,#ffb56b,#ffbc78,#ffc081,#ffc488,#fec88f,#fecc96,#fecf9c,#fed3a4,#fed6aa,#fed8ae,#fedbb3,#ffddb7,#ffdfba,#ffe0be,#ffe2c1,#ffe4c4,#ffe5c7,#ffe6ca,#ffe8cd,#ffe9cf,#ffead1,#ffebd3,#ffecd6,#ffedd7,#ffeed9,#ffeedb,#ffefdc)"></i>
<i style="background:linear-gradient(90deg,#ffad5b,#ffaa55,#ffa54b,#ff9e3f,#ff9633,#fe8c24,#fd8013,#f77009,#eb5801,#dd4100,#c42600,#a80e00,#9b0a00,#b41800,#d23300,#e54e01,#f46a06,#fd7f12,#fe8f28,#ff9e3e,#ffa954,#ffb265,#ffb974,#ffbe7d,#ffc385,#fec78d,#feca93,#fece99,#fed1a0,#fed5a8,#fed7ac,#fedab1,#fedcb5,#ffdeb8,#ffdfbc,#ffe1bf,#ffe3c2,#ffe4c5,#ffe6c8,#ffe7cb,#ffe8cd,#ffe9d0,#ffead2,#ffebd4,#ffecd6,#ffedd8,#ffeed9,#ffeedb)"></i>
<i style="background:linear-gradient(90deg,#ffad5c,#ffaa56,#ffa64e,#ffa042,#ff9936,#fe8f28,#fe8417,#f9750c,#f06102,#e14801,#cc2d00,#ae1300,#960800,#a90f00,#c72900,#df4501,#f06002,#fa780e,#fe8a1f,#ff9936,#ffa64d,#ffaf5f,#ffb66e,#ffbd7a,#ffc182,#fec58a,#fec990,#fecc97,#fecf9d,#fed3a4,#fed6aa,#fed8ae,#fedbb3,#ffdcb6,#ffdeba,#ffe0bd,#ffe2c1,#ffe3c4,#ffe5c6,#ffe6c9,#ffe7cc,#ffe8ce,#ffe9d0,#ffead2,#ffebd4,#ffecd6,#ffedd8,#ffeed9)"></i>
<i style="background:linear-gradient(90deg,#ffae5e,#ffab58,#ffa750,#ffa245,#ff9b39,#ff922c,#fe871b,#fa790e,#f36704,#e54e01,#d43400,#b51900,#960800,#9b0a00,#bb1e00,#da3b00,#e95501,#f7710a,#fe8417,#ff932e,#ffa144,#ffab58,#ffb468,#ffbb76,#ffbf7f,#ffc387,#fec78e,#fecb94,#fece9a,#fed1a0,#fed5a8,#fed7ac,#fed9b0,#fedbb4,#ffddb8,#ffdfbc,#ffe1bf,#ffe2c2,#ffe4c5,#ffe5c7,#ffe6ca,#ffe8cc,#ffe9ce,#ffead1,#ffebd3,#ffebd4,#ffecd6,#ffedd8)"></i>
<i style="background:linear-gradient(90deg,#ffaf5f,#ffac59,#ffa853,#ffa348,#ff9d3c,#ff942f,#fe8a20,#fc7d11,#f56c07,#e85401,#da3b00,#bd2000,#9b0a00,#900600,#b01500,#d13100,#e44d01,#f46905,#fc7e11,#fe8e26,#ff9c3c,#ffa852,#ffb162,#ffb871,#ffbe7b,#ffc283,#fec68b,#fec991,#fecc97,#fecf9d,#fed3a5,#fed6aa,#fed8ae,#fedab2,#ffdcb6,#ffdeba,#ffe0bd,#ffe1c0,#ffe3c3,#ffe4c5,#ffe5c8,#ffe7ca,#ffe8cd,#ffe9cf,#ffead1,#ffebd3,#ffebd5,#ffecd6)"></i>
<i style="background:linear-gradient(90deg,#ffaf60,#ffad5b,#ffa954,#ffa44b,#ff9e3f,#ff9733,#fe8d24,#fd8113,#f7710a,#ec5902,#de4301,#c52700,#a40d00,#890400,#a30d00,#c52700,#df4401,#ee5e02,#f9770d,#fe881e,#ff9734,#ffa44a,#ffad5c,#ffb56b,#ffbc78,#ffc080,#ffc488,#fec88e,#fecb95,#fece9a,#fed1a1,#fed5a8,#fed7ac,#fed9b0,#fedbb4,#ffddb8,#ffdfbb,#ffe0be,#ffe2c1,#ffe3c4,#ffe5c6,#ffe6c9,#ffe7cb,#ffe8cd,#ffe9cf,#ffead1,#ffebd3,#ffecd5)"></i>
<i style="background:linear-gradient(90deg,#ffb061,#ffad5c,#ffaa56,#ffa64d,#ffa042,#ff9936,#fe8f28,#fe8417,#f9760d,#f26402,#e24a01,#ce2f00,#ae1300,#890400,#940800,#b91d00,#d93a00,#e95401,#f76f09,#fe8315,#ff922c,#ffa041,#ffaa56,#ffb266,#ffb974,#ffbe7d,#ffc285,#fec68b,#feca92,#fecd98,#fed09d,#fed3a5,#fed6aa,#fed8ae,#fedab2,#ffdcb6,#ffdeb9,#ffdfbc,#ffe1bf,#ffe2c2,#ffe4c4,#ffe5c7,#ffe6c9,#ffe7cb,#ffe8cd,#ffe9cf,#ffead1,#ffebd3)"></i>
<i style="background:linear-gradient(90deg,#ffb162,#ffae5d,#ffab58,#ffa750,#ffa245,#ff9b39,#ff922c,#fe881c,#fb7a0f,#f46905,#e65001,#d73700,#b71b00,#900600,#870300,#ae1300,#cf3000,#e44c01,#f36804,#fc7c11,#fe8d24,#ff9b39,#ffa74f,#ffaf60,#ffb76e,#ffbd7a,#ffc181,#fec589,#fec88f,#fecb95,#fece9b,#fed2a1,#fed5a8,#fed7ac,#fed9b0,#fedbb4,#ffddb7,#ffdeba,#ffe0bd,#ffe1c0,#ffe3c3,#ffe4c5,#ffe5c8,#ffe6ca,#ffe7cc,#ffe8ce,#ffe9d0,#ffead1)"></i>
<i style="background:linear-gradient(90deg,#ffb164,#ffaf5f,#ffac59,#ffa852,#ffa348,#ff9d3c,#ff9530,#fe8b21,#fc7e11,#f66e08,#ea5601,#dc3f00,#c02200,#9c0a00,#800100,#a00c00,#c42600,#de4301,#ed5c02,#f9750c,#fe871b,#ff9632,#ffa347,#ffac5a,#ffb469,#ffbb76,#ffbf7e,#ffc385,#fec68c,#feca92,#fecd98,#fed09d,#fed3a5,#fed6aa,#fed8ae,#fedab1,#fedcb5,#ffddb8,#ffdfbb,#ffe0be,#ffe2c1,#ffe3c3,#ffe4c6,#ffe5c8,#ffe7ca,#ffe8cc,#ffe8ce,#ffe9d0)"></i>
<i style="background:linear-gradient(90deg,#ffb265,#ffaf60,#ffad5a,#ffa954,#ffa44b,#ff9e3f,#ff9733,#fe8d25,#fe8214,#f8730b,#ee5e02,#e04601,#ca2b00,#a90f00,#810100,#910700,#b91c00,#d83900,#e85301,#f66e08,#fe8114,#ff912a,#ff9e3e,#ffa953,#ffb163,#ffb871,#ffbd7b,#ffc182,#fec589,#fec890,#fecb95,#fece9b,#fed1a1,#fed5a8,#fed7ac,#fed9af,#fedbb3,#ffdcb6,#ffdeb9,#ffdfbc,#ffe1bf,#ffe2c2,#ffe3c4,#ffe5c6,#ffe6c8,#ffe7ca,#ffe8cc,#ffe8ce)"></i>
<i style="background:linear-gradient(90deg,#ffb266,#ffb061,#ffad5c,#ffaa56,#ffa64d,#ffa042,#ff9937,#ff9029,#fe8519,#fa770e,#f36603,#e44d01,#d33300,#b31700,#8a0400,#840200,#ae1200,#cf3000,#e34b01,#f36603,#fb7b10,#fe8b22,#ff9937,#ffa54c,#ffae5d,#ffb56b,#ffbb77,#ffc07f,#ffc386,#fec78d,#feca93,#fecd98,#fed09d,#fed3a4,#fed6a9,#fed8ad,#fedab1,#fedbb4,#ffddb7,#ffdeba,#ffe0bd,#ffe1c0,#ffe2c2,#ffe4c4,#ffe5c7,#ffe6c9,#ffe7cb,#ffe8cc)"></i>
<i style="background:linear-gradient(90deg,#ffb367,#ffb062,#ffae5d,#ffab57,#ffa750,#ffa245,#ff9b3a,#ff932d,#fe891e,#fb7b10,#f56c07,#e85301,#da3c00,#bd2000,#980900,#7e0000,#a00c00,#c32600,#de4201,#ec5a02,#f8740c,#fe8519,#ff942f,#ffa143,#ffab57,#ffb266,#ffb973,#ffbe7c,#ffc283,#fec58a,#fec890,#fecb96,#fece9b,#fed1a1,#fed5a7,#fed7ab,#fed9af,#fedab2,#fedcb5,#ffddb8,#ffdfbb,#ffe0be,#ffe2c0,#ffe3c3,#ffe4c5,#ffe5c7,#ffe6c9,#ffe7cb)"></i>
<i style="background:linear-gradient(90deg,#ffb368,#ffb163,#ffae5e,#ffac59,#ffa852,#ffa348,#ff9d3d,#ff9531,#fe8c22,#fd7f12,#f7710a,#ec5902,#de4301,#c72900,#a60e00,#800100,#930700,#b91d00,#d83900,#e85301,#f66d07,#fd8013,#fe8f27,#ff9c3b,#ffa750,#ffaf60,#ffb66e,#ffbc79,#ffc080,#ffc487,#fec78d,#feca93,#fecd98,#fed09d,#fed3a4,#fed6a9,#fed7ad,#fed9b0,#fedbb3,#ffdcb6,#ffdeb9,#ffdfbc,#ffe1be,#ffe2c1,#ffe3c3,#ffe4c5,#ffe5c7,#ffe6c9)"></i>
<i style="background:linear-gradient(90deg,#ffb469,#ffb265,#ffaf60,#ffac5a,#ffa954,#ffa54b,#ff9f3f,#ff9734,#fe8e27,#fe8316,#f9750c,#f26402,#e34b01,#d13100,#b21600,#8b0500,#880400,#af1400,#cf3000,#e34b01,#f36503,#fb790f,#fe8a1f,#ff9734,#ffa348,#ffac5a,#ffb368,#ffba75,#ffbe7d,#ffc284,#fec58a,#fec990,#fecb96,#fece9b,#fed1a0,#fed4a7,#fed6ab,#fed8ae,#fedab1,#fedbb4,#ffddb7,#ffdeba,#ffe0bd,#ffe1bf,#ffe2c1,#ffe3c3,#ffe4c5,#ffe5c7)"></i>
<i style="background:linear-gradient(90deg,#ffb56a,#ffb266,#ffb061,#ffad5c,#ffaa56,#ffa64e,#ffa043,#ff9a37,#ff912b,#fe871b,#fb790f,#f46a05,#e75101,#d93a00,#bc1f00,#990900,#840200,#a40d00,#c42600,#de4200,#ec5902,#f8730b,#fe8417,#ff922d,#ff9f40,#ffa954,#ffb062,#ffb770,#ffbd7a,#ffc081,#ffc487,#fec78d,#feca93,#fecd98,#fecf9d,#fed3a3,#fed5a8,#fed7ac,#fed9af,#fedab2,#fedcb5,#ffddb8,#ffdfbb,#ffe0bd,#ffe1bf,#ffe2c2,#ffe3c4,#ffe4c5)"></i>
<i style="background:linear-gradient(90deg,#ffb56b,#ffb367,#ffb062,#ffae5d,#ffab57,#ffa750,#ffa246,#ff9c3b,#ff942e,#fe8a20,#fc7d11,#f66f08,#eb5801,#de4200,#c62800,#a70e00,#880400,#990900,#bb1e00,#d83900,#e75201,#f56c07,#fd7e12,#fe8d25,#ff9a38,#ffa54d,#ffae5c,#ffb46a,#ffbb76,#ffbf7e,#ffc284,#fec68a,#fec990,#fecb95,#fece9a,#fed19f,#fed4a6,#fed6aa,#fed8ad,#fed9b0,#fedbb3,#ffdcb6,#ffdeb9,#ffdfbb,#ffe0be,#ffe1c0,#ffe2c2,#ffe3c4)"></i>
<i style="background:linear-gradient(90deg,#ffb66c,#ffb368,#ffb163,#ffae5e,#ffac59,#ffa852,#ffa349,#ff9e3d,#ff9632,#fe8d24,#fe8214,#f8730b,#f06102,#e24901,#d03100,#b31700,#920700,#910700,#b21600,#d03100,#e34a01,#f26402,#fa780e,#fe881d,#ff9531,#ffa144,#ffaa56,#ffb265,#ffb871,#ffbd7a,#ffc181,#ffc488,#fec78d,#feca93,#fecd98,#fecf9c,#fed2a2,#fed5a8,#fed7ab,#fed8ae,#fedab1,#fedbb4,#ffddb7,#ffdeb9,#ffdfbc,#ffe0be,#ffe1c0,#ffe2c2)"></i>
<i style="background:linear-gradient(90deg,#ffb66d,#ffb469,#ffb264,#ffaf60,#ffac5a,#ffa954,#ffa54c,#ff9f40,#ff9835,#fe9028,#fe8519,#fa780e,#f46805,#e65001,#d83900,#bd2000,#9f0b00,#8f0600,#aa0f00,#c62800,#de4201,#eb5902,#f7710a,#fe8315,#ff902a,#ff9d3c,#ffa750,#ffaf5f,#ffb56c,#ffbb77,#ffbf7e,#ffc285,#fec68b,#fec990,#fecb95,#fece9a,#fed09e,#fed3a5,#fed6a9,#fed7ac,#fed9af,#fedab2,#fedcb5,#ffddb7,#ffdeba,#ffdfbc,#ffe0be,#ffe1c0)"></i>
<i style="background:linear-gradient(90deg,#ffb76e,#ffb56a,#ffb266,#ffb061,#ffad5c,#ffaa56,#ffa64e,#ffa144,#ff9a39,#ff922c,#fe891e,#fc7c10,#f66d08,#ea5701,#dd4200,#c72900,#ac1100,#940800,#a10c00,#bd2000,#d93a00,#e75201,#f56a06,#fc7d11,#fe8b22,#ff9835,#ffa348,#ffac59,#ffb366,#ffb973,#ffbd7b,#ffc182,#ffc488,#fec78d,#feca92,#fecc97,#fecf9c,#fed1a1,#fed4a7,#fed6aa,#fed8ad,#fed9b0,#fedbb3,#ffdcb6,#ffddb8,#ffdeba,#ffdfbc,#ffe0be)"></i>
<i style="background:linear-gradient(90deg,#ffb770,#ffb56b,#ffb367,#ffb062,#ffae5d,#ffab58,#ffa851,#ffa247,#ff9c3c,#ff9530,#fe8c22,#fd8013,#f8720b,#ef6002,#e24901,#d13200,#b61a00,#9d0b00,#9d0b00,#b61a00,#d23200,#e34a01,#f16302,#f9760d,#fe861a,#ff932e,#ff9f40,#ffa953,#ffb061,#ffb66d,#ffbc78,#ffbf7e,#ffc285,#fec68a,#fec890,#fecb95,#fecd99,#fed09d,#fed3a3,#fed5a8,#fed7ab,#fed8ae,#fedab1,#fedbb4,#ffdcb6,#ffddb8,#ffdfba,#ffe0bc)"></i>
<i style="background:linear-gradient(90deg,#ffb871,#ffb66c,#ffb368,#ffb163,#ffae5e,#ffac59,#ffa953,#ffa44a,#ff9e3e,#ff9734,#fe8e27,#fe8417,#fa770d,#f36704,#e65001,#d93a00,#c02200,#a80e00,#9d0b00,#b01400,#c92b00,#de4301,#eb5801,#f77009,#fe8113,#fe8f27,#ff9b39,#ffa54c,#ffad5b,#ffb368,#ffb974,#ffbd7b,#ffc182,#ffc488,#fec78d,#feca92,#fecc97,#fece9b,#fed19f,#fed4a5,#fed6a9,#fed7ac,#fed9af,#fedab2,#fedbb4,#ffdcb6,#ffdeb9,#ffdfbb)"></i>
<i style="background:linear-gradient(90deg,#ffb872,#ffb66d,#ffb469,#ffb265,#ffaf60,#ffad5b,#ffaa55,#ffa54c,#ffa042,#ff9937,#ff912b,#fe881c,#fb7b10,#f66d07,#ea5701,#de4301,#ca2c00,#b21600,#a20c00,#ab1000,#c12300,#da3b00,#e75201,#f46905,#fb7b10,#fe891f,#ff9632,#ffa144,#ffaa55,#ffb162,#ffb76e,#ffbc78,#ffbf7f,#ffc285,#fec58a,#fec88f,#fecb94,#fecd98,#fecf9c,#fed2a2,#fed5a7,#fed6aa,#fed8ad,#fed9b0,#fedab2,#fedbb4,#ffddb7,#ffdeb9)"></i>
<i style="background:linear-gradient(90deg,#ffb972,#ffb76e,#ffb56a,#ffb266,#ffb061,#ffad5c,#ffaa56,#ffa74f,#ffa145,#ff9b3a,#ff942e,#fe8b21,#fd7f12,#f7720a,#ef6002,#e24a01,#d43400,#bb1e00,#a90f00,#a90f00,#bb1e00,#d43400,#e34b01,#f16202,#f9750c,#fe8417,#ff912b,#ff9d3c,#ffa74f,#ffae5d,#ffb469,#ffba74,#ffbe7c,#ffc182,#ffc487,#fec78d,#fec991,#fecc96,#fece9a,#fed09e,#fed3a3,#fed5a8,#fed7ab,#fed8ae,#fed9b0,#fedab2,#fedcb5,#ffddb7)"></i>
<i style="background:linear-gradient(90deg,#ffb973,#ffb770,#ffb56b,#ffb367,#ffb062,#ffae5d,#ffab58,#ffa852,#ffa348,#ff9d3d,#ff9632,#fe8e25,#fe8316,#f9760d,#f36704,#e75101,#da3d00,#c52700,#b11600,#ab0f00,#b71a00,#cd2e00,#df4401,#eb5801,#f66f08,#fd7f12,#fe8c24,#ff9836,#ffa347,#ffab57,#ffb164,#ffb76f,#ffbc78,#ffbf7f,#ffc284,#fec58a,#fec88f,#feca93,#fecd97,#fecf9b,#fed1a0,#fed4a5,#fed5a9,#fed7ab,#fed8ae,#fed9b0,#fedbb3,#fedcb5)"></i>
<i style="background:linear-gradient(90deg,#ffba74,#ffb871,#ffb66c,#ffb368,#ffb163,#ffaf5f,#ffac59,#ffa953,#ffa54b,#ff9f40,#ff9836,#ff9029,#fe871b,#fb7b10,#f56d07,#ea5701,#df4501,#cf3000,#ba1d00,#ae1300,#b41800,#c62800,#db3d00,#e75201,#f46905,#fb790f,#fe881c,#ff942f,#ff9f3f,#ffa851,#ffae5e,#ffb46a,#ffba75,#ffbe7c,#ffc182,#ffc487,#fec68c,#fec991,#fecb95,#fecd99,#fecf9d,#fed2a1,#fed4a6,#fed6a9,#fed7ac,#fed8ae,#fedab1,#fedbb3)"></i>
<i style="background:linear-gradient(90deg,#ffba75,#ffb872,#ffb66d,#ffb469,#ffb265,#ffaf60,#ffad5b,#ffaa55,#ffa64e,#ffa143,#ff9b39,#ff932d,#fe8a20,#fd7f12,#f7720a,#f06102,#e44c01,#d73800,#c22400,#b41800,#b31700,#c12300,#d73700,#e34c01,#f06102,#f8740b,#fe8315,#fe8f28,#ff9a39,#ffa44a,#ffac59,#ffb265,#ffb770,#ffbc78,#ffbf7f,#ffc284,#fec589,#fec78e,#feca92,#fecc96,#fece9a,#fed09e,#fed2a3,#fed5a7,#fed6aa,#fed7ac,#fed9af,#fedab1)"></i>
<i style="background:linear-gradient(90deg,#ffbb76,#ffb973,#ffb76f,#ffb56a,#ffb266,#ffb061,#ffad5c,#ffab57,#ffa750,#ffa246,#ff9c3c,#ff9531,#fe8d24,#fe8316,#f9760d,#f46804,#e85301,#dc4000,#cb2d00,#ba1e00,#b51900,#be2100,#d13200,#e04501,#eb5801,#f66e08,#fc7d11,#fe8a21,#ff9632,#ffa042,#ffa953,#ffaf5f,#ffb56b,#ffba75,#ffbe7b,#ffc181,#ffc386,#fec68b,#fec890,#fecb94,#fecd98,#fecf9b,#fed19f,#fed3a4,#fed5a8,#fed6aa,#fed8ad,#fed9af)"></i>
<i style="background:linear-gradient(90deg,#ffbb77,#ffb973,#ffb770,#ffb56b,#ffb367,#ffb162,#ffae5e,#ffab58,#ffa852,#ffa449,#ff9e3f,#ff9834,#fe9028,#fe861b,#fb7a0f,#f66d08,#eb5902,#e14801,#d43500,#c22400,#b91c00,#bc1f00,#cc2d00,#dc4000,#e75201,#f46804,#fa780e,#fe8619,#ff922b,#ff9c3b,#ffa54d,#ffac5a,#ffb265,#ffb770,#ffbc78,#ffbf7e,#ffc284,#ffc488,#fec78d,#fec991,#fecb95,#fecd99,#fecf9c,#fed1a0,#fed4a5,#fed5a8,#fed6ab,#fed8ad)"></i>
<i style="background:linear-gradient(90deg,#ffbc78,#ffba74,#ffb871,#ffb66d,#ffb468,#ffb164,#ffaf5f,#ffac5a,#ffa954,#ffa54c,#ffa042,#ff9a38,#ff922c,#fe8a1f,#fd7e12,#f8720a,#f26302,#e54f01,#da3d00,#ca2c00,#bd2000,#bd2000,#c82a00,#d93a00,#e44d01,#f06002,#f8720b,#fe8113,#fe8d24,#ff9835,#ffa245,#ffa954,#ffaf60,#ffb56b,#ffba75,#ffbd7b,#ffc081,#ffc386,#fec68a,#fec88f,#feca93,#fecc96,#fece9a,#fed09d,#fed2a1,#fed4a6,#fed5a9,#fed7ab)"></i>
<i style="background:linear-gradient(90deg,#ffbc79,#ffba75,#ffb872,#ffb66e,#ffb469,#ffb265,#ffaf60,#ffad5b,#ffaa56,#ffa74f,#ffa245,#ff9c3b,#ff9530,#fe8d24,#fe8315,#f9770d,#f46905,#e95501,#df4401,#d33300,#c42600,#bf2100,#c62800,#d63600,#e14701,#eb5801,#f66d07,#fc7c10,#fe881d,#ff942e,#ff9e3d,#ffa64e,#ffad5b,#ffb266,#ffb770,#ffbc78,#ffbf7e,#ffc183,#ffc488,#fec68c,#fec990,#fecb94,#fecd97,#fece9b,#fed09e,#fed2a2,#fed4a6,#fed6a9)"></i>
<i style="background:linear-gradient(90deg,#ffbd7a,#ffbb76,#ffb973,#ffb76f,#ffb56b,#ffb266,#ffb062,#ffae5d,#ffab57,#ffa851,#ffa348,#ff9e3e,#ff9734,#fe8f28,#fe861b,#fb7b10,#f66e08,#ed5c02,#e34b01,#d93b00,#cb2d00,#c32500,#c52700,#d23300,#de4201,#e85301,#f36704,#f9770d,#fe8416,#fe8f28,#ff9937,#ffa347,#ffaa55,#ffb061,#ffb56b,#ffba75,#ffbd7b,#ffc080,#ffc385,#fec589,#fec78e,#fec991,#fecb95,#fecd98,#fecf9b,#fed09f,#fed2a3,#fed4a7)"></i>
<i style="background:linear-gradient(90deg,#ffbd7b,#ffbb77,#ffb974,#ffb770,#ffb56c,#ffb367,#ffb163,#ffae5e,#ffac59,#ffa953,#ffa54b,#ff9f41,#ff9937,#ff922c,#fe891f,#fd7f12,#f8730b,#f36603,#e75201,#de4200,#d33300,#c82a00,#c72800,#d03000,#db3e00,#e54e01,#f06002,#f7710a,#fd7f12,#fe8b21,#ff9531,#ff9f40,#ffa750,#ffad5b,#ffb266,#ffb770,#ffbb78,#ffbe7d,#ffc182,#ffc387,#fec68b,#fec88f,#feca92,#fecc96,#fecd99,#fecf9c,#fed19f,#fed3a3)"></i>
<i style="background:linear-gradient(90deg,#ffbd7b,#ffbc78,#ffba75,#ffb871,#ffb66d,#ffb469,#ffb164,#ffaf5f,#ffac5a,#ffaa55,#ffa64e,#ffa144,#ff9b3a,#ff9430,#fe8c24,#fe8316,#fa780e,#f56b06,#eb5801,#e24901,#d93a00,#ce2f00,#c92b00,#ce2f00,#d93b00,#e24a01,#eb5901,#f56c07,#fb7a0f,#fe861a,#ff912b,#ff9b39,#ffa349,#ffaa56,#ffb061,#ffb56b,#ffba74,#ffbd7a,#ffbf7f,#ffc284,#ffc488,#fec68c,#fec890,#feca93,#fecc97,#fece9a,#fecf9c,#fed1a0)"></i>
<i style="background:linear-gradient(90deg,#ffbe7c,#ffbc79,#ffba75,#ffb872,#ffb66e,#ffb46a,#ffb265,#ffb061,#ffad5c,#ffab57,#ffa750,#ffa347,#ff9d3d,#ff9733,#fe8f28,#fe871b,#fb7c10,#f77009,#f16202,#e65001,#dd4100,#d53500,#cd2e00,#cf3000,#d83800,#e04601,#e95401,#f36704,#f9750c,#fe8214,#fe8d24,#ff9733,#ffa042,#ffa751,#ffad5c,#ffb266,#ffb76f,#ffbb77,#ffbe7c,#ffc181,#ffc385,#fec58a,#fec78d,#fec991,#fecb94,#fecc97,#fece9a,#fecf9d)"></i>
<i style="background:linear-gradient(90deg,#ffbe7d,#ffbd7a,#ffbb76,#ffb973,#ffb76f,#ffb56b,#ffb367,#ffb062,#ffae5d,#ffab58,#ffa852,#ffa44a,#ff9f40,#ff9937,#ff922c,#fe8a20,#fd8013,#f9750c,#f46805,#e95601,#e14801,#da3b00,#d23300,#d13100,#d73700,#de4301,#e65001,#f06102,#f77009,#fc7d11,#fe891e,#ff932d,#ff9c3b,#ffa44a,#ffaa56,#ffb061,#ffb56a,#ffb973,#ffbc79,#ffbf7e,#ffc183,#ffc487,#fec68b,#fec88e,#fec992,#fecb95,#fecd98,#fece9a)"></i>
<i style="background:linear-gradient(90deg,#ffbf7e,#ffbd7b,#ffbb77,#ffb974,#ffb770,#ffb56c,#ffb368,#ffb163,#ffaf5f,#ffac5a,#ffa954,#ffa64d,#ffa143,#ff9b3a,#ff9430,#fe8d24,#fe8417,#fa790f,#f66d08,#ee5e02,#e54e01,#dd4200,#d73800,#d33400,#d73700,#dc4000,#e44c01,#ec5a02,#f56c07,#fa790e,#fe8418,#fe8f27,#ff9835,#ffa143,#ffa851,#ffad5c,#ffb265,#ffb76e,#ffbb76,#ffbd7b,#ffc080,#ffc284,#ffc488,#fec68c,#fec88f,#feca92,#fecb95,#fecd98)"></i>
<i style="background:linear-gradient(90deg,#ffbf7f,#ffbe7b,#ffbc78,#ffba75,#ffb871,#ffb66d,#ffb469,#ffb265,#ffaf60,#ffad5b,#ffaa56,#ffa750,#ffa246,#ff9d3d,#ff9733,#fe8f28,#fe871c,#fc7d11,#f8720a,#f36603,#e95401,#e14801,#db3d00,#d73700,#d73800,#dc3f00,#e24901,#e95601,#f36704,#f9740c,#fd8013,#fe8b21,#ff942f,#ff9d3c,#ffa54b,#ffab57,#ffb061,#ffb46a,#ffb972,#ffbc78,#ffbe7d,#ffc181,#ffc385,#fec589,#fec78d,#fec890,#feca93,#fecc96)"></i>
<i style="background:linear-gradient(90deg,#ffc07f,#ffbe7c,#ffbc79,#ffba76,#ffb872,#ffb76e,#ffb46a,#ffb266,#ffb061,#ffae5d,#ffab58,#ffa852,#ffa44a,#ff9f40,#ff9936,#ff922c,#fe8a20,#fe8114,#f9760d,#f56b06,#ec5b02,#e54e01,#de4301,#da3c00,#d93a00,#db3e00,#e14701,#e75201,#f16202,#f77009,#fc7c10,#fe871b,#ff9029,#ff9937,#ffa144,#ffa851,#ffad5b,#ffb265,#ffb66d,#ffba75,#ffbd7a,#ffbf7f,#ffc183,#ffc387,#fec58a,#fec78d,#fec990,#feca93)"></i>
<i style="background:linear-gradient(90deg,#ffc080,#ffbe7d,#ffbd7a,#ffbb77,#ffb973,#ffb76f,#ffb56b,#ffb367,#ffb163,#ffae5e,#ffac59,#ffa954,#ffa54d,#ffa043,#ff9b3a,#ff9530,#fe8d25,#fe8518,#fb7b10,#f77009,#f26402,#e85401,#e24901,#dd4100,#da3d00,#dc3f00,#e04601,#e65001,#ed5b02,#f56c07,#fa780e,#fe8315,#fe8c23,#ff9531,#ff9e3d,#ffa54b,#ffaa56,#ffaf60,#ffb469,#ffb871,#ffbb77,#ffbe7c,#ffc080,#ffc284,#ffc487,#fec68b,#fec78e,#fec991)"></i>
<i style="background:linear-gradient(90deg,#ffc081,#ffbf7e,#ffbd7b,#ffbb77,#ffba74,#ffb870,#ffb66c,#ffb468,#ffb164,#ffaf5f,#ffad5b,#ffaa55,#ffa74f,#ffa246,#ff9d3c,#ff9733,#fe9029,#fe881d,#fd7f12,#f9740c,#f46a05,#ec5902,#e54f01,#e04601,#dd4000,#dc4000,#df4501,#e44d01,#eb5801,#f46804,#f8740b,#fd7f12,#fe881e,#ff922b,#ff9a38,#ffa145,#ffa851,#ffad5b,#ffb164,#ffb56c,#ffb974,#ffbc79,#ffbe7d,#ffc181,#ffc385,#ffc488,#fec68b,#fec88e)"></i>
<i style="background:linear-gradient(90deg,#ffc182,#ffbf7f,#ffbe7c,#ffbc78,#ffba75,#ffb871,#ffb66d,#ffb469,#ffb265,#ffb061,#ffad5c,#ffab57,#ffa851,#ffa449,#ff9f3f,#ff9937,#ff932d,#fe8b22,#fe8315,#fa790e,#f66e08,#f26302,#e95401,#e34b01,#df4501,#de4201,#df4501,#e44c01,#e95501,#f26402,#f77009,#fb7b10,#fe8518,#fe8e26,#ff9632,#ff9e3e,#ffa54c,#ffaa56,#ffaf5f,#ffb367,#ffb76f,#ffbb76,#ffbd7a,#ffbf7e,#ffc182,#ffc386,#fec589,#fec68c)"></i>
<i style="background:linear-gradient(90deg,#ffc182,#ffc07f,#ffbe7c,#ffbc79,#ffbb76,#ffb972,#ffb76f,#ffb56b,#ffb366,#ffb062,#ffae5d,#ffac59,#ffa953,#ffa54c,#ffa043,#ff9b3a,#ff9530,#fe8e26,#fe861a,#fc7d11,#f8730b,#f46905,#ec5a02,#e65001,#e24901,#e04501,#e04601,#e34b01,#e85301,#ef5f02,#f56c07,#fa770d,#fe8114,#fe8a20,#ff932d,#ff9a39,#ffa245,#ffa851,#ffac5a,#ffb163,#ffb56b,#ffb872,#ffbb77,#ffbe7c,#ffc07f,#ffc283,#ffc386,#fec589)"></i>
<i style="background:linear-gradient(90deg,#ffc283,#ffc080,#ffbe7d,#ffbd7a,#ffbb77,#ffb973,#ffb770,#ffb56c,#ffb368,#ffb163,#ffaf5f,#ffac5a,#ffaa55,#ffa74f,#ffa246,#ff9d3d,#ff9734,#ff912a,#fe891f,#fe8113,#fa770e,#f66e08,#f16302,#e95501,#e54e01,#e24901,#e14801,#e34b01,#e75201,#ec5a02,#f46905,#f8730b,#fc7d11,#fe871b,#fe8f28,#ff9733,#ff9e3f,#ffa54b,#ffaa55,#ffae5e,#ffb266,#ffb66d,#ffba74,#ffbc79,#ffbe7d,#ffc080,#ffc284,#ffc487)"></i>
<i style="background:linear-gradient(90deg,#ffc284,#ffc081,#ffbf7e,#ffbd7b,#ffbc78,#ffba74,#ffb871,#ffb66d,#ffb469,#ffb265,#ffaf60,#ffad5c,#ffab57,#ffa851,#ffa449,#ff9f40,#ff9937,#ff932e,#fe8c23,#fe8518,#fb7b10,#f8720a,#f46805,#ed5b02,#e75201,#e44d01,#e34a01,#e44c01,#e75101,#eb5801,#f36603,#f77009,#fb7a0f,#fe8316,#fe8c22,#ff932e,#ff9b39,#ffa245,#ffa750,#ffac59,#ffb061,#ffb469,#ffb770,#ffbb76,#ffbd7a,#ffbf7e,#ffc081,#ffc284)"></i>
<i style="background:linear-gradient(90deg,#ffc284,#ffc182,#ffbf7f,#ffbe7c,#ffbc79,#ffba75,#ffb872,#ffb66e,#ffb46a,#ffb266,#ffb062,#ffae5d,#ffab58,#ffa953,#ffa54c,#ffa143,#ff9b3a,#ff9631,#fe8f27,#fe881d,#fd7f12,#f9760d,#f66d07,#f26402,#ea5701,#e65101,#e44d01,#e44d01,#e75101,#ea5701,#f26302,#f66d07,#f9760d,#fd8013,#fe881d,#ff9029,#ff9834,#ff9e3f,#ffa54b,#ffa954,#ffae5d,#ffb264,#ffb56b,#ffb872,#ffbb77,#ffbd7b,#ffbf7e,#ffc182)"></i>
<i style="background:linear-gradient(90deg,#ffc385,#ffc182,#ffc080,#ffbe7d,#ffbc79,#ffbb76,#ffb973,#ffb76f,#ffb56b,#ffb367,#ffb163,#ffaf5e,#ffac5a,#ffaa55,#ffa74f,#ffa246,#ff9d3d,#ff9835,#ff922b,#fe8b21,#fe8316,#fb7a0f,#f7720a,#f46905,#ee5e02,#e95501,#e65101,#e64f01,#e75101,#ea5601,#f06002,#f56a06,#f8730b,#fc7c11,#fe8518,#fe8d24,#ff942f,#ff9b3a,#ffa145,#ffa750,#ffab58,#ffaf60,#ffb367,#ffb66e,#ffb974,#ffbc78,#ffbe7c,#ffbf7f)"></i>
<i style="background:linear-gradient(90deg,#ffc386,#ffc283,#ffc080,#ffbf7d,#ffbd7a,#ffbb77,#ffb974,#ffb870,#ffb66c,#ffb468,#ffb164,#ffaf60,#ffad5b,#ffaa56,#ffa851,#ffa449,#ff9f40,#ff9a38,#ff942f,#fe8e25,#fe871b,#fc7e12,#f9760d,#f66d08,#f26503,#ec5902,#e95401,#e75201,#e85301,#ea5601,#ee5d02,#f46804,#f7710a,#fb790f,#fe8214,#fe8a1f,#ff912a,#ff9835,#ff9e3f,#ffa44a,#ffa953,#ffad5b,#ffb163,#ffb469,#ffb770,#ffba75,#ffbc79,#ffbe7c)"></i>
<i style="background:linear-gradient(90deg,#ffc386,#ffc284,#ffc181,#ffbf7e,#ffbd7b,#ffbc78,#ffba75,#ffb871,#ffb66d,#ffb46a,#ffb265,#ffb061,#ffae5d,#ffab58,#ffa953,#ffa54c,#ffa143,#ff9c3b,#ff9633,#ff9029,#fe8a1f,#fe8215,#fb7a0f,#f7720a,#f46a05,#f06102,#eb5801,#e95501,#e95401,#ea5701,#ed5c02,#f36603,#f66e08,#f9760d,#fd7f12,#fe861b,#fe8e26,#ff9530,#ff9b3a,#ffa144,#ffa74f,#ffab57,#ffae5e,#ffb265,#ffb56b,#ffb871,#ffbb76,#ffbc79)"></i>
<i style="background:linear-gradient(90deg,#ffc487,#ffc284,#ffc182,#ffbf7f,#ffbe7c,#ffbc79,#ffba76,#ffb972,#ffb76f,#ffb56b,#ffb367,#ffb163,#ffae5e,#ffac5a,#ffaa55,#ffa74f,#ffa247,#ff9e3e,#ff9936,#ff932d,#fe8c24,#fe8619,#fc7d11,#f9760d,#f66e08,#f36704,#ee5e02,#eb5801,#ea5601,#ea5701,#ed5c02,#f26503,#f56c07,#f8740c,#fc7c10,#fe8316,#fe8b21,#ff922b,#ff9835,#ff9e3e,#ffa449,#ffa852,#ffac5a,#ffb061,#ffb367,#ffb66d,#ffb972,#ffbb77)"></i>
<i style="background:linear-gradient(90deg,#ffc488,#ffc385,#ffc183,#ffc080,#ffbe7d,#ffbd7a,#ffbb77,#ffb973,#ffb770,#ffb56c,#ffb368,#ffb164,#ffaf60,#ffad5b,#ffaa56,#ffa851,#ffa44a,#ffa041,#ff9b39,#ff9531,#fe8f28,#fe891e,#fe8214,#fb790f,#f8720a,#f56b06,#f26503,#ee5d02,#eb5902,#eb5902,#ee5d02,#f26502,#f56b06,#f7720a,#fb790f,#fe8113,#fe881d,#fe8f27,#ff9531,#ff9b3a,#ffa143,#ffa64e,#ffaa55,#ffad5c,#ffb163,#ffb469,#ffb76e,#ffb974)"></i>
<i style="background:linear-gradient(90deg,#ffc488,#ffc386,#ffc283,#ffc080,#ffbf7e,#ffbd7b,#ffbb77,#ffba74,#ffb871,#ffb66d,#ffb469,#ffb265,#ffb061,#ffae5d,#ffab58,#ffa953,#ffa64d,#ffa144,#ff9d3c,#ff9734,#ff922b,#fe8b22,#fe8518,#fc7d11,#f9760d,#f66f09,#f46905,#f26402,#ee5e02,#ed5c02,#ef5e02,#f26402,#f46a05,#f77009,#fa770d,#fc7e12,#fe8519,#fe8c23,#ff922c,#ff9835,#ff9e3e,#ffa348,#ffa851,#ffab58,#ffae5e,#ffb265,#ffb56a,#ffb770)"></i>
<i style="background:linear-gradient(90deg,#fec589,#ffc386,#ffc284,#ffc181,#ffbf7e,#ffbe7b,#ffbc78,#ffba75,#ffb872,#ffb66e,#ffb56a,#ffb366,#ffb062,#ffae5e,#ffac59,#ffaa55,#ffa74f,#ffa347,#ff9e3f,#ff9a37,#ff942f,#fe8e26,#fe881d,#fe8114,#fb7a0f,#f8730b,#f66d07,#f36804,#f26402,#f06002,#f06102,#f26502,#f46905,#f66f08,#f9750c,#fc7c10,#fe8315,#fe891f,#fe8f28,#ff9531,#ff9b3a,#ffa042,#ffa54c,#ffa953,#ffac5a,#ffaf60,#ffb266,#ffb56b)"></i>
<i style="background:linear-gradient(90deg,#fec58a,#ffc487,#ffc285,#ffc182,#ffc07f,#ffbe7c,#ffbc79,#ffbb76,#ffb973,#ffb76f,#ffb56b,#ffb368,#ffb164,#ffaf5f,#ffad5b,#ffaa56,#ffa851,#ffa44a,#ffa042,#ff9c3a,#ff9633,#ff912a,#fe8b21,#fe8518,#fc7d11,#fa770d,#f7710a,#f56b06,#f36704,#f26502,#f26402,#f36603,#f46905,#f66e08,#f8730b,#fb7a0f,#fd8013,#fe871b,#fe8d24,#ff932d,#ff9835,#ff9e3d,#ffa247,#ffa74f,#ffaa56,#ffad5c,#ffb062,#ffb367)"></i>
<i style="background:linear-gradient(90deg,#fec58a,#ffc488,#ffc385,#ffc183,#ffc080,#ffbe7d,#ffbd7a,#ffbb77,#ffb974,#ffb870,#ffb66d,#ffb469,#ffb265,#ffb061,#ffae5c,#ffab58,#ffa953,#ffa64d,#ffa245,#ff9d3d,#ff9936,#ff932e,#fe8e25,#fe881d,#fe8214,#fb7a0f,#f9740c,#f66f09,#f56b06,#f36804,#f36603,#f36704,#f46905,#f66d07,#f8720a,#fa780e,#fc7e12,#fe8417,#fe8a20,#fe9029,#ff9531,#ff9b39,#ffa041,#ffa44a,#ffa852,#ffab58,#ffae5e,#ffb163)"></i>
<i style="background:linear-gradient(90deg,#fec68b,#ffc488,#ffc386,#ffc283,#ffc081,#ffbf7e,#ffbd7b,#ffbc78,#ffba75,#ffb871,#ffb66e,#ffb46a,#ffb266,#ffb062,#ffae5e,#ffac5a,#ffaa55,#ffa750,#ffa348,#ff9f40,#ff9b39,#ff9631,#ff9029,#fe8b21,#fe8518,#fc7e11,#fa780e,#f8730b,#f66e08,#f56b06,#f46905,#f46805,#f46a06,#f66d07,#f7710a,#f9770d,#fc7c11,#fe8214,#fe881d,#fe8d25,#ff932d,#ff9835,#ff9d3d,#ffa245,#ffa64d,#ffa954,#ffac5a,#ffaf5f)"></i>
<i style="background:linear-gradient(90deg,#fec68b,#fec589,#ffc387,#ffc284,#ffc181,#ffbf7f,#ffbe7c,#ffbc79,#ffba76,#ffb972,#ffb76f,#ffb56b,#ffb367,#ffb163,#ffaf5f,#ffad5b,#ffab57,#ffa852,#ffa54b,#ffa143,#ff9c3c,#ff9835,#ff932d,#fe8d25,#fe881d,#fe8214,#fb7b10,#f9760d,#f7710a,#f66e08,#f56b06,#f56a06,#f56b06,#f66d08,#f7710a,#f9750c,#fb7b10,#fd8013,#fe861a,#fe8b22,#ff902a,#ff9531,#ff9a39,#ff9f40,#ffa348,#ffa750,#ffaa56,#ffad5b)"></i>
<i style="background:linear-gradient(90deg,#fec68c,#fec58a,#ffc487,#ffc385,#ffc182,#ffc080,#ffbe7d,#ffbd7a,#ffbb77,#ffb973,#ffb770,#ffb66c,#ffb469,#ffb265,#ffb061,#ffae5c,#ffab58,#ffa954,#ffa64e,#ffa247,#ff9e3f,#ff9a38,#ff9530,#fe9029,#fe8a21,#fe8519,#fd7f12,#fb790f,#f9750c,#f7710a,#f66e08,#f56d07,#f56d07,#f66e08,#f7710a,#f9750c,#fb790f,#fd7f12,#fe8417,#fe891e,#fe8e26,#ff932e,#ff9835,#ff9c3c,#ffa143,#ffa54b,#ffa852,#ffab57)"></i>
<i style="background:linear-gradient(90deg,#fec78c,#fec58a,#ffc488,#ffc385,#ffc283,#ffc080,#ffbf7d,#ffbd7b,#ffbb78,#ffba74,#ffb871,#ffb66d,#ffb46a,#ffb266,#ffb062,#ffae5e,#ffac5a,#ffaa55,#ffa750,#ffa44a,#ffa042,#ff9c3b,#ff9734,#ff922c,#fe8d25,#fe881d,#fe8315,#fc7d11,#fa780e,#f8740c,#f7710a,#f66f09,#f66e08,#f66f09,#f7710a,#f9740c,#fa790e,#fc7d11,#fe8214,#fe871c,#fe8c23,#ff912a,#ff9531,#ff9a38,#ff9e3f,#ffa246,#ffa64e,#ffa953)"></i>
<i style="background:linear-gradient(90deg,#fec78d,#fec68b,#fec589,#ffc386,#ffc284,#ffc081,#ffbf7e,#ffbe7b,#ffbc78,#ffba75,#ffb872,#ffb76f,#ffb56b,#ffb367,#ffb163,#ffaf5f,#ffad5b,#ffab57,#ffa852,#ffa54d,#ffa245,#ff9e3d,#ff9937,#ff9530,#fe9028,#fe8b21,#fe8619,#fd8013,#fb7b10,#fa770d,#f8740b,#f7710a,#f77009,#f7710a,#f8720a,#f9750c,#fa780e,#fc7c10,#fd8113,#fe8519,#fe8a20,#fe8f27,#ff932e,#ff9834,#ff9c3b,#ffa042,#ffa449,#ffa74f)"></i>
<i style="background:linear-gradient(90deg,#fec78e,#fec68b,#fec589,#ffc487,#ffc284,#ffc182,#ffbf7f,#ffbe7c,#ffbc79,#ffbb76,#ffb973,#ffb770,#ffb56c,#ffb468,#ffb265,#ffb061,#ffae5d,#ffab58,#ffa954,#ffa74f,#ffa348,#ff9f41,#ff9b3a,#ff9733,#ff922c,#fe8d25,#fe881e,#fe8417,#fd7e12,#fb7a0f,#f9770d,#f8740c,#f8720b,#f8720a,#f8730b,#f9750c,#fa780e,#fb7b10,#fd8013,#fe8417,#fe881d,#fe8d24,#ff912b,#ff9531,#ff9a37,#ff9e3d,#ffa144,#ffa54b)"></i>
<i style="background:linear-gradient(90deg,#fec78e,#fec68c,#fec58a,#ffc487,#ffc385,#ffc182,#ffc080,#ffbe7d,#ffbd7a,#ffbb77,#ffba74,#ffb871,#ffb66d,#ffb46a,#ffb266,#ffb062,#ffae5e,#ffac5a,#ffaa56,#ffa851,#ffa54b,#ffa144,#ff9d3d,#ff9936,#ff9430,#fe9029,#fe8b22,#fe871b,#fe8214,#fc7d11,#fb790f,#f9770d,#f9750c,#f8740c,#f8740c,#f9760d,#fa780e,#fb7b10,#fd7f12,#fe8315,#fe871b,#fe8b21,#fe8f28,#ff932e,#ff9734,#ff9b3a,#ff9f40,#ffa247)"></i>
<i style="background:linear-gradient(90deg,#fec88f,#fec78d,#fec58a,#ffc488,#ffc386,#ffc283,#ffc081,#ffbf7e,#ffbd7b,#ffbc78,#ffba75,#ffb872,#ffb76e,#ffb56b,#ffb367,#ffb163,#ffaf60,#ffad5c,#ffab57,#ffa953,#ffa64e,#ffa347,#ff9f40,#ff9b39,#ff9733,#ff922c,#fe8e25,#fe891f,#fe8518,#fd8113,#fc7c11,#fb790f,#fa770d,#f9760d,#f9760d,#f9770d,#fa780e,#fb7b10,#fc7e12,#fe8214,#fe8619,#fe891f,#fe8d25,#ff912b,#ff9531,#ff9937,#ff9d3c,#ffa042)"></i>
<i style="background:linear-gradient(90deg,#fec88f,#fec78d,#fec68b,#fec589,#ffc386,#ffc284,#ffc181,#ffbf7f,#ffbe7c,#ffbc79,#ffbb76,#ffb973,#ffb76f,#ffb56c,#ffb468,#ffb265,#ffb061,#ffae5d,#ffac59,#ffaa55,#ffa750,#ffa44a,#ffa043,#ff9d3c,#ff9936,#ff9430,#ff9029,#fe8c23,#fe881c,#fe8416,#fd7f12,#fc7c10,#fb7a0f,#fa780e,#fa770e,#fa780e,#fa790f,#fb7b10,#fc7e11,#fe8113,#fe8518,#fe881d,#fe8c23,#fe9029,#ff932e,#ff9734,#ff9b39,#ff9e3e)"></i>
<i style="background:linear-gradient(90deg,#fec890,#fec78e,#fec68c,#fec589,#ffc487,#ffc285,#ffc182,#ffc07f,#ffbe7d,#ffbd7a,#ffbb77,#ffb974,#ffb871,#ffb66d,#ffb46a,#ffb266,#ffb062,#ffaf5e,#ffad5a,#ffaa56,#ffa852,#ffa64d,#ffa246,#ff9e3f,#ff9b39,#ff9733,#ff922d,#fe8e26,#fe8a20,#fe861a,#fe8315,#fd7f12,#fc7c10,#fb7a0f,#fb790f,#fa790f,#fb7a0f,#fb7b10,#fc7e11,#fd8113,#fe8417,#fe871c,#fe8b21,#fe8e26,#ff922c,#ff9531,#ff9936,#ff9c3b)"></i>
<i style="background:linear-gradient(90deg,#fec990,#fec88e,#fec68c,#fec58a,#ffc488,#ffc385,#ffc183,#ffc080,#ffbf7e,#ffbd7b,#ffbc78,#ffba75,#ffb872,#ffb76e,#ffb56b,#ffb367,#ffb164,#ffaf60,#ffad5c,#ffab58,#ffa954,#ffa74f,#ffa449,#ffa042,#ff9c3c,#ff9936,#ff9530,#ff912a,#fe8d24,#fe891e,#fe8519,#fe8214,#fd7f12,#fc7d11,#fb7b10,#fb7b10,#fb7b10,#fc7c11,#fc7e12,#fd8013,#fe8316,#fe861b,#fe8a1f,#fe8d24,#ff9029,#ff942e,#ff9733,#ff9a38)"></i>
<i style="background:linear-gradient(90deg,#fec991,#fec88f,#fec78d,#fec68b,#ffc488,#ffc386,#ffc284,#ffc081,#ffbf7e,#ffbe7c,#ffbc79,#ffba76,#ffb973,#ffb76f,#ffb56c,#ffb469,#ffb265,#ffb061,#ffae5d,#ffac5a,#ffaa56,#ffa851,#ffa54c,#ffa245,#ff9e3e,#ff9b39,#ff9733,#ff932d,#fe8f28,#fe8b22,#fe881d,#fe8518,#fe8214,#fd7f12,#fc7d11,#fc7c11,#fc7c11,#fc7d11,#fd7f12,#fd8013,#fe8316,#fe861a,#fe891e,#fe8c23,#fe8f27,#ff922c,#ff9531,#ff9835)"></i>
<i style="background:linear-gradient(90deg,#fec991,#fec88f,#fec78d,#fec68b,#fec589,#ffc387,#ffc284,#ffc182,#ffbf7f,#ffbe7c,#ffbd7a,#ffbb77,#ffb974,#ffb870,#ffb66d,#ffb46a,#ffb266,#ffb163,#ffaf5f,#ffad5b,#ffab57,#ffa953,#ffa64f,#ffa348,#ffa042,#ff9c3c,#ff9936,#ff9531,#ff912b,#fe8e26,#fe8a20,#fe871c,#fe8417,#fe8214,#fd8013,#fd7e12,#fc7e12,#fd7e12,#fd7f12,#fe8113,#fe8316,#fe8519,#fe881d,#fe8b21,#fe8e26,#ff912a,#ff942f,#ff9733)"></i>
<i style="background:linear-gradient(90deg,#fec992,#fec890,#fec78e,#fec68c,#fec58a,#ffc487,#ffc385,#ffc182,#ffc080,#ffbe7d,#ffbd7a,#ffbb78,#ffba75,#ffb872,#ffb76e,#ffb56b,#ffb367,#ffb164,#ffaf60,#ffae5d,#ffac59,#ffaa55,#ffa751,#ffa54b,#ffa145,#ff9e3e,#ff9b39,#ff9734,#ff942e,#ff9029,#fe8d24,#fe8a1f,#fe871b,#fe8417,#fe8215,#fd8113,#fd8013,#fd8013,#fd8013,#fe8214,#fe8316,#fe8519,#fe881c,#fe8a20,#fe8d24,#fe9028,#ff922d,#ff9531)"></i>
<i style="background:linear-gradient(90deg,#feca92,#fec990,#fec88e,#fec78c,#fec58a,#ffc488,#ffc386,#ffc283,#ffc081,#ffbf7e,#ffbd7b,#ffbc79,#ffba76,#ffb973,#ffb76f,#ffb56c,#ffb469,#ffb265,#ffb062,#ffae5e,#ffac5a,#ffaa56,#ffa852,#ffa64e,#ffa348,#ffa042,#ff9d3c,#ff9937,#ff9632,#ff922c,#fe8f27,#fe8c23,#fe891e,#fe871b,#fe8518,#fe8316,#fe8214,#fe8214,#fe8214,#fe8315,#fe8417,#fe8519,#fe871c,#fe8a20,#fe8c23,#fe8f27,#ff912b,#ff942f)"></i>
<i style="background:linear-gradient(90deg,#feca93,#fec991,#fec88f,#fec78d,#fec68b,#fec589,#ffc386,#ffc284,#ffc181,#ffbf7f,#ffbe7c,#ffbc79,#ffbb77,#ffb974,#ffb870,#ffb66d,#ffb46a,#ffb366,#ffb163,#ffaf5f,#ffad5c,#ffab58,#ffa954,#ffa750,#ffa54b,#ffa145,#ff9e3e,#ff9b3a,#ff9835,#ff9430,#ff912b,#fe8e26,#fe8b22,#fe891e,#fe871b,#fe8519,#fe8417,#fe8316,#fe8316,#fe8416,#fe8418,#fe861a,#fe871c,#fe891f,#fe8c22,#fe8e26,#ff9029,#ff932d)"></i>
<i style="background:linear-gradient(90deg,#feca93,#fec991,#fec88f,#fec78d,#fec68b,#fec589,#ffc487,#ffc285,#ffc182,#ffc080,#ffbe7d,#ffbd7a,#ffbb77,#ffba75,#ffb871,#ffb76e,#ffb56b,#ffb368,#ffb164,#ffb061,#ffae5d,#ffac5a,#ffaa56,#ffa852,#ffa64e,#ffa348,#ffa042,#ff9d3c,#ff9a38,#ff9633,#ff932e,#ff9029,#fe8d25,#fe8b21,#fe891e,#fe871c,#fe861a,#fe8518,#fe8518,#fe8518,#fe8519,#fe861a,#fe881d,#fe891f,#fe8b22,#fe8d25,#fe9028,#ff922c)"></i>
<i style="background:linear-gradient(90deg,#feca94,#fec992,#fec890,#fec78e,#fec68c,#fec58a,#ffc488,#ffc385,#ffc183,#ffc080,#ffbf7e,#ffbd7b,#ffbc78,#ffba76,#ffb973,#ffb76f,#ffb66c,#ffb469,#ffb266,#ffb062,#ffaf5f,#ffad5b,#ffab57,#ffa954,#ffa750,#ffa44b,#ffa145,#ff9e3f,#ff9b3a,#ff9836,#ff9531,#ff922d,#fe9028,#fe8d25,#fe8b21,#fe891f,#fe881c,#fe871b,#fe861a,#fe861a,#fe861a,#fe871b,#fe881d,#fe8a1f,#fe8b22,#fe8d25,#fe8f28,#ff912b)"></i>
<i style="background:linear-gradient(90deg,#fecb94,#feca92,#fec990,#fec88e,#fec78c,#fec58a,#ffc488,#ffc386,#ffc284,#ffc181,#ffbf7f,#ffbe7c,#ffbc79,#ffbb76,#ffb974,#ffb871,#ffb66d,#ffb46a,#ffb367,#ffb163,#ffaf60,#ffae5d,#ffac59,#ffaa55,#ffa852,#ffa64d,#ffa348,#ffa042,#ff9d3d,#ff9a38,#ff9734,#ff9430,#ff922c,#fe8f28,#fe8d24,#fe8b22,#fe891f,#fe881d,#fe881c,#fe871c,#fe871c,#fe881d,#fe891e,#fe8a20,#fe8b22,#fe8d24,#fe8f27,#ff912a)"></i>
<i style="background:linear-gradient(90deg,#fecb94,#feca93,#fec991,#fec88f,#fec78d,#fec68b,#fec589,#ffc387,#ffc284,#ffc182,#ffc07f,#ffbe7d,#ffbd7a,#ffbb77,#ffba75,#ffb872,#ffb76e,#ffb56b,#ffb368,#ffb265,#ffb061,#ffae5e,#ffad5a,#ffab57,#ffa953,#ffa750,#ffa44b,#ffa245,#ff9f40,#ff9c3b,#ff9937,#ff9633,#ff942f,#ff912b,#fe8f27,#fe8d24,#fe8b22,#fe8a20,#fe891f,#fe891e,#fe891e,#fe891e,#fe891f,#fe8a20,#fe8c22,#fe8d24,#fe8e27,#ff9029)"></i>
<i style="background:linear-gradient(90deg,#fecb95,#feca93,#fec991,#fec890,#fec78e,#fec68c,#fec589,#ffc487,#ffc385,#ffc183,#ffc080,#ffbf7e,#ffbd7b,#ffbc78,#ffba75,#ffb973,#ffb770,#ffb66c,#ffb469,#ffb266,#ffb163,#ffaf5f,#ffad5c,#ffac59,#ffaa55,#ffa851,#ffa64d,#ffa348,#ffa043,#ff9e3e,#ff9b3a,#ff9835,#ff9632,#ff932e,#ff912a,#fe8f27,#fe8d25,#fe8c23,#fe8b21,#fe8a20,#fe8a20,#fe8a20,#fe8a20,#fe8b21,#fe8c23,#fe8d25,#fe8e27,#fe9029)"></i>
<i style="background:linear-gradient(90deg,#fecb95,#feca94,#fec992,#fec990,#fec78e,#fec68c,#fec58a,#ffc488,#ffc386,#ffc283,#ffc081,#ffbf7e,#ffbe7c,#ffbc79,#ffbb76,#ffb974,#ffb871,#ffb66e,#ffb56a,#ffb367,#ffb164,#ffb061,#ffae5d,#ffac5a,#ffab57,#ffa953,#ffa750,#ffa54b,#ffa246,#ff9f41,#ff9d3c,#ff9a38,#ff9834,#ff9531,#ff932d,#ff912a,#fe8f28,#fe8e25,#fe8d24,#fe8c23,#fe8b22,#fe8b22,#fe8b22,#fe8c23,#fe8c24,#fe8d25,#fe8f27,#fe9029)"></i>
<i style="background:linear-gradient(90deg,#fecc96,#fecb94,#feca92,#fec991,#fec88f,#fec78d,#fec68b,#fec589,#ffc386,#ffc284,#ffc182,#ffc07f,#ffbe7d,#ffbd7a,#ffbb77,#ffba75,#ffb872,#ffb76f,#ffb56c,#ffb469,#ffb265,#ffb062,#ffaf5f,#ffad5c,#ffab58,#ffaa55,#ffa851,#ffa64e,#ffa349,#ffa144,#ff9e3f,#ff9c3b,#ff9937,#ff9734,#ff9530,#ff932d,#ff912a,#fe8f28,#fe8e26,#fe8d25,#fe8d24,#fe8c24,#fe8c24,#fe8d24,#fe8d25,#fe8e26,#fe8f27,#ff9029)"></i>
<i style="background:linear-gradient(90deg,#fecc96,#fecb94,#feca93,#fec991,#fec88f,#fec78d,#fec68b,#fec589,#ffc487,#ffc285,#ffc182,#ffc080,#ffbf7e,#ffbd7b,#ffbc78,#ffba76,#ffb973,#ffb770,#ffb66d,#ffb46a,#ffb367,#ffb163,#ffaf60,#ffae5d,#ffac5a,#ffaa57,#ffa953,#ffa750,#ffa54b,#ffa246,#ffa042,#ff9d3d,#ff9b3a,#ff9936,#ff9733,#ff9530,#ff932d,#ff912b,#fe9029,#fe8f27,#fe8e26,#fe8e26,#fe8e25,#fe8e25,#fe8e26,#fe8f27,#fe8f28,#ff9029)"></i>
<i style="background:linear-gradient(90deg,#fecc97,#fecb95,#feca93,#fec992,#fec890,#fec78e,#fec68c,#fec58a,#ffc488,#ffc385,#ffc283,#ffc081,#ffbf7e,#ffbe7c,#ffbc79,#ffbb77,#ffb974,#ffb871,#ffb66e,#ffb56b,#ffb368,#ffb265,#ffb062,#ffaf5e,#ffad5b,#ffab58,#ffaa55,#ffa852,#ffa64e,#ffa449,#ffa145,#ff9f40,#ff9d3c,#ff9b39,#ff9836,#ff9633,#ff9530,#ff932d,#ff922b,#ff902a,#fe9028,#fe8f28,#fe8f27,#fe8f27,#fe8f27,#fe8f28,#fe9029,#ff912a)"></i>
<i style="background:linear-gradient(90deg,#fecc97,#fecb95,#feca94,#feca92,#fec990,#fec88e,#fec78c,#fec58a,#ffc488,#ffc386,#ffc284,#ffc182,#ffbf7f,#ffbe7d,#ffbd7a,#ffbb77,#ffba75,#ffb872,#ffb76f,#ffb56c,#ffb469,#ffb266,#ffb163,#ffaf60,#ffae5d,#ffac5a,#ffaa56,#ffa953,#ffa750,#ffa54c,#ffa347,#ffa143,#ff9e3f,#ff9c3b,#ff9a38,#ff9835,#ff9632,#ff9530,#ff932e,#ff922c,#ff912b,#ff902a,#ff9029,#fe9029,#fe9029,#ff9029,#ff912a,#ff912b)"></i>
<i style="background:linear-gradient(90deg,#fecc97,#fecc96,#fecb94,#feca92,#fec991,#fec88f,#fec78d,#fec68b,#fec589,#ffc487,#ffc285,#ffc182,#ffc080,#ffbf7d,#ffbd7b,#ffbc78,#ffba76,#ffb973,#ffb870,#ffb66d,#ffb56a,#ffb367,#ffb164,#ffb061,#ffae5e,#ffad5b,#ffab58,#ffaa55,#ffa852,#ffa64f,#ffa44a,#ffa246,#ffa042,#ff9e3e,#ff9c3b,#ff9a38,#ff9835,#ff9633,#ff9530,#ff942f,#ff932d,#ff922c,#ff912b,#ff912b,#ff912a,#ff912b,#ff912b,#ff922c)"></i>
<i style="background:linear-gradient(90deg,#fecd98,#fecc96,#fecb95,#feca93,#fec991,#fec88f,#fec78d,#fec68c,#fec58a,#ffc487,#ffc385,#ffc283,#ffc081,#ffbf7e,#ffbe7c,#ffbc79,#ffbb77,#ffba74,#ffb871,#ffb76e,#ffb56b,#ffb469,#ffb266,#ffb163,#ffaf60,#ffae5d,#ffac5a,#ffab57,#ffa954,#ffa750,#ffa64d,#ffa349,#ffa144,#ff9f40,#ff9d3d,#ff9b3a,#ff9a38,#ff9835,#ff9733,#ff9531,#ff942f,#ff932e,#ff932d,#ff922d,#ff922c,#ff922c,#ff922c,#ff932d)"></i>
<i style="background:linear-gradient(90deg,#fecd98,#fecc97,#fecb95,#feca93,#fec992,#fec890,#fec78e,#fec68c,#fec58a,#ffc488,#ffc386,#ffc284,#ffc181,#ffbf7f,#ffbe7d,#ffbd7a,#ffbb78,#ffba75,#ffb972,#ffb76f,#ffb66d,#ffb46a,#ffb367,#ffb164,#ffb061,#ffae5e,#ffad5b,#ffab58,#ffaa55,#ffa852,#ffa74f,#ffa54b,#ffa347,#ffa143,#ff9f40,#ff9d3d,#ff9b3a,#ff9a38,#ff9835,#ff9733,#ff9632,#ff9530,#ff942f,#ff942e,#ff932e,#ff932e,#ff932e,#ff932e)"></i>
<i style="background:linear-gradient(90deg,#fecd99,#fecc97,#fecb95,#fecb94,#feca92,#fec990,#fec88f,#fec78d,#fec68b,#fec589,#ffc387,#ffc284,#ffc182,#ffc080,#ffbf7d,#ffbd7b,#ffbc78,#ffbb76,#ffb973,#ffb871,#ffb66e,#ffb56b,#ffb368,#ffb265,#ffb062,#ffaf5f,#ffae5c,#ffac5a,#ffab57,#ffa954,#ffa851,#ffa64e,#ffa44a,#ffa246,#ffa042,#ff9e3f,#ff9d3c,#ff9b3a,#ff9a38,#ff9836,#ff9734,#ff9633,#ff9631,#ff9530,#ff9530,#ff942f,#ff942f,#ff9430)"></i>
<i style="background:linear-gradient(90deg,#fecd99,#fecc97,#fecc96,#fecb94,#feca93,#fec991,#fec88f,#fec78d,#fec68b,#fec589,#ffc487,#ffc385,#ffc183,#ffc081,#ffbf7e,#ffbe7c,#ffbc79,#ffbb77,#ffba74,#ffb872,#ffb76f,#ffb56c,#ffb469,#ffb366,#ffb164,#ffb061,#ffae5e,#ffad5b,#ffab58,#ffaa56,#ffa953,#ffa750,#ffa64d,#ffa449,#ffa245,#ffa042,#ff9e3f,#ff9d3c,#ff9b3a,#ff9a38,#ff9936,#ff9835,#ff9733,#ff9632,#ff9632,#ff9631,#ff9531,#ff9531)"></i>
<i style="background:linear-gradient(90deg,#fecd99,#fecd98,#fecc96,#fecb95,#feca93,#fec991,#fec890,#fec78e,#fec68c,#fec58a,#ffc488,#ffc386,#ffc284,#ffc181,#ffbf7f,#ffbe7d,#ffbd7a,#ffbc78,#ffba75,#ffb973,#ffb770,#ffb66d,#ffb56a,#ffb368,#ffb265,#ffb062,#ffaf5f,#ffae5c,#ffac5a,#ffab57,#ffa954,#ffa852,#ffa74f,#ffa54c,#ffa348,#ffa145,#ffa041,#ff9e3e,#ff9d3c,#ff9b3a,#ff9a39,#ff9937,#ff9836,#ff9835,#ff9734,#ff9733,#ff9633,#ff9633)"></i>
<i style="background:linear-gradient(90deg,#fece9a,#fecd98,#fecc97,#fecb95,#feca94,#feca92,#fec990,#fec88e,#fec78c,#fec68b,#fec589,#ffc386,#ffc284,#ffc182,#ffc080,#ffbf7e,#ffbd7b,#ffbc79,#ffbb76,#ffb974,#ffb871,#ffb76e,#ffb56c,#ffb469,#ffb266,#ffb163,#ffb061,#ffae5e,#ffad5b,#ffac59,#ffaa56,#ffa953,#ffa851,#ffa64e,#ffa44b,#ffa347,#ffa144,#ffa041,#ff9e3e,#ff9d3c,#ff9c3b,#ff9b39,#ff9a38,#ff9937,#ff9836,#ff9835,#ff9834,#ff9734)"></i>
<i style="background:linear-gradient(90deg,#fece9a,#fecd99,#fecc97,#fecc96,#fecb94,#feca92,#fec991,#fec88f,#fec78d,#fec68b,#fec589,#ffc487,#ffc385,#ffc183,#ffc081,#ffbf7e,#ffbe7c,#ffbd7a,#ffbb77,#ffba75,#ffb972,#ffb76f,#ffb66d,#ffb46a,#ffb367,#ffb265,#ffb062,#ffaf5f,#ffae5d,#ffac5a,#ffab57,#ffaa55,#ffa852,#ffa750,#ffa64d,#ffa44a,#ffa247,#ffa144,#ffa041,#ff9e3f,#ff9d3d,#ff9c3b,#ff9b3a,#ff9a39,#ff9a38,#ff9937,#ff9936,#ff9936)"></i>
<i style="background:linear-gradient(90deg,#fece9a,#fecd99,#fecd98,#fecc96,#fecb94,#feca93,#fec991,#fec88f,#fec78e,#fec68c,#fec58a,#ffc488,#ffc386,#ffc284,#ffc181,#ffbf7f,#ffbe7d,#ffbd7a,#ffbc78,#ffba76,#ffb973,#ffb871,#ffb66e,#ffb56b,#ffb469,#ffb266,#ffb163,#ffb061,#ffae5e,#ffad5b,#ffac59,#ffaa57,#ffa954,#ffa852,#ffa74f,#ffa54d,#ffa449,#ffa246,#ffa144,#ffa041,#ff9e3f,#ff9d3d,#ff9c3c,#ff9c3b,#ff9b3a,#ff9a39,#ff9a38,#ff9a37)"></i>
<i style="background:linear-gradient(90deg,#fece9b,#fece99,#fecd98,#fecc96,#fecb95,#feca93,#fec992,#fec890,#fec88e,#fec78c,#fec58a,#ffc488,#ffc386,#ffc284,#ffc182,#ffc080,#ffbf7e,#ffbd7b,#ffbc79,#ffbb77,#ffba74,#ffb872,#ffb76f,#ffb66c,#ffb46a,#ffb367,#ffb265,#ffb062,#ffaf5f,#ffae5d,#ffac5a,#ffab58,#ffaa56,#ffa953,#ffa851,#ffa74f,#ffa54c,#ffa449,#ffa246,#ffa144,#ffa041,#ff9f3f,#ff9e3e,#ff9d3c,#ff9c3b,#ff9c3b,#ff9b3a,#ff9b39)"></i>
<i style="background:linear-gradient(90deg,#fece9b,#fece9a,#fecd98,#fecc97,#fecb95,#fecb94,#feca92,#fec990,#fec88f,#fec78d,#fec68b,#fec589,#ffc487,#ffc385,#ffc183,#ffc081,#ffbf7e,#ffbe7c,#ffbd7a,#ffbb77,#ffba75,#ffb973,#ffb870,#ffb66e,#ffb56b,#ffb468,#ffb266,#ffb163,#ffb061,#ffae5e,#ffad5c,#ffac59,#ffab57,#ffaa55,#ffa953,#ffa750,#ffa64e,#ffa54c,#ffa449,#ffa246,#ffa144,#ffa042,#ff9f40,#ff9e3e,#ff9d3d,#ff9d3c,#ff9c3b,#ff9c3b)"></i>
<i style="background:linear-gradient(90deg,#fecf9b,#fece9a,#fecd99,#fecc97,#fecc96,#fecb94,#feca93,#fec991,#fec88f,#fec78d,#fec68c,#fec58a,#ffc488,#ffc386,#ffc284,#ffc181,#ffc07f,#ffbe7d,#ffbd7b,#ffbc78,#ffbb76,#ffb974,#ffb871,#ffb76f,#ffb66c,#ffb46a,#ffb367,#ffb265,#ffb062,#ffaf60,#ffae5d,#ffad5b,#ffac59,#ffaa56,#ffa954,#ffa852,#ffa750,#ffa64e,#ffa54b,#ffa349,#ffa246,#ffa144,#ffa042,#ff9f41,#ff9f3f,#ff9e3e,#ff9d3d,#ff9d3d)"></i>
<i style="background:linear-gradient(90deg,#fecf9c,#fece9a,#fecd99,#fecd98,#fecc96,#fecb95,#feca93,#fec991,#fec890,#fec78e,#fec68c,#fec58a,#ffc488,#ffc386,#ffc284,#ffc182,#ffc080,#ffbf7e,#ffbe7c,#ffbc79,#ffbb77,#ffba75,#ffb972,#ffb770,#ffb66d,#ffb56b,#ffb468,#ffb266,#ffb163,#ffb061,#ffaf5f,#ffad5c,#ffac5a,#ffab58,#ffaa56,#ffa954,#ffa852,#ffa750,#ffa64e,#ffa54b,#ffa449,#ffa247,#ffa145,#ffa143,#ffa042,#ff9f40,#ff9f3f,#ff9e3e)"></i>
<i style="background:linear-gradient(90deg,#fecf9c,#fece9b,#fece99,#fecd98,#fecc97,#fecb95,#feca94,#feca92,#fec990,#fec88e,#fec78d,#fec68b,#fec589,#ffc487,#ffc385,#ffc183,#ffc081,#ffbf7f,#ffbe7c,#ffbd7a,#ffbc78,#ffba76,#ffb973,#ffb871,#ffb76e,#ffb56c,#ffb46a,#ffb367,#ffb265,#ffb162,#ffaf60,#ffae5e,#ffad5c,#ffac59,#ffab57,#ffaa55,#ffa953,#ffa851,#ffa750,#ffa64e,#ffa54b,#ffa449,#ffa347,#ffa245,#ffa144,#ffa043,#ffa041,#ff9f40)"></i>
<i style="background:linear-gradient(90deg,#fecf9c,#fece9b,#fece9a,#fecd98,#fecc97,#fecb95,#fecb94,#feca92,#fec991,#fec88f,#fec78d,#fec68b,#fec58a,#ffc488,#ffc386,#ffc284,#ffc182,#ffc07f,#ffbe7d,#ffbd7b,#ffbc79,#ffbb77,#ffba74,#ffb872,#ffb76f,#ffb66d,#ffb56b,#ffb468,#ffb266,#ffb164,#ffb061,#ffaf5f,#ffae5d,#ffad5b,#ffac59,#ffab57,#ffaa55,#ffa953,#ffa851,#ffa750,#ffa64e,#ffa54c,#ffa44a,#ffa348,#ffa246,#ffa145,#ffa144,#ffa042)"></i>
<i style="background:linear-gradient(90deg,#fecf9d,#fecf9b,#fece9a,#fecd99,#fecc97,#fecc96,#fecb94,#feca93,#fec991,#fec890,#fec78e,#fec68c,#fec58a,#ffc488,#ffc386,#ffc284,#ffc182,#ffc080,#ffbf7e,#ffbe7c,#ffbd7a,#ffbb77,#ffba75,#ffb973,#ffb871,#ffb76e,#ffb56c,#ffb46a,#ffb367,#ffb265,#ffb163,#ffb060,#ffae5e,#ffad5c,#ffac5a,#ffab58,#ffaa56,#ffaa55,#ffa953,#ffa851,#ffa750,#ffa64e,#ffa54c,#ffa44a,#ffa349,#ffa347,#ffa246,#ffa145)"></i>
<i style="background:linear-gradient(90deg,#fecf9d,#fecf9c,#fece9b,#fecd99,#fecd98,#fecc96,#fecb95,#feca93,#fec992,#fec990,#fec88e,#fec78d,#fec68b,#fec589,#ffc487,#ffc385,#ffc283,#ffc081,#ffbf7f,#ffbe7d,#ffbd7b,#ffbc78,#ffbb76,#ffb974,#ffb872,#ffb76f,#ffb66d,#ffb56b,#ffb468,#ffb266,#ffb164,#ffb062,#ffaf60,#ffae5e,#ffad5c,#ffac5a,#ffab58,#ffaa56,#ffa954,#ffa953,#ffa851,#ffa750,#ffa64e,#ffa54d,#ffa54b,#ffa449,#ffa348,#ffa247)"></i>
<i style="background:linear-gradient(90deg,#fed09d,#fecf9c,#fece9b,#fece9a,#fecd98,#fecc97,#fecb95,#fecb94,#feca92,#fec991,#fec88f,#fec78d,#fec68b,#fec589,#ffc488,#ffc386,#ffc284,#ffc182,#ffc080,#ffbf7e,#ffbd7b,#ffbc79,#ffbb77,#ffba75,#ffb973,#ffb870,#ffb76e,#ffb56c,#ffb46a,#ffb367,#ffb265,#ffb163,#ffb061,#ffaf5f,#ffae5d,#ffad5b,#ffac59,#ffab58,#ffaa56,#ffa954,#ffa953,#ffa851,#ffa750,#ffa64f,#ffa64d,#ffa54c,#ffa44a,#ffa449)"></i>
<i style="background:linear-gradient(90deg,#fed09e,#fecf9c,#fecf9b,#fece9a,#fecd99,#fecc97,#fecc96,#fecb94,#feca93,#fec991,#fec88f,#fec78e,#fec68c,#fec58a,#ffc488,#ffc386,#ffc284,#ffc182,#ffc080,#ffbf7e,#ffbe7c,#ffbd7a,#ffbc78,#ffbb76,#ffb974,#ffb871,#ffb76f,#ffb66d,#ffb56b,#ffb469,#ffb366,#ffb264,#ffb062,#ffaf60,#ffae5e,#ffad5c,#ffad5b,#ffac59,#ffab57,#ffaa56,#ffa954,#ffa953,#ffa851,#ffa750,#ffa74f,#ffa64e,#ffa54c,#ffa54b)"></i>
<i style="background:linear-gradient(90deg,#fed09e,#fecf9d,#fecf9c,#fece9a,#fecd99,#fecd98,#fecc96,#fecb95,#feca93,#fec992,#fec890,#fec88e,#fec78c,#fec68b,#fec589,#ffc487,#ffc385,#ffc283,#ffc181,#ffbf7f,#ffbe7d,#ffbd7b,#ffbc79,#ffbb77,#ffba75,#ffb972,#ffb870,#ffb66e,#ffb56c,#ffb46a,#ffb368,#ffb266,#ffb164,#ffb062,#ffaf60,#ffae5e,#ffad5c,#ffac5a,#ffac59,#ffab57,#ffaa56,#ffa954,#ffa953,#ffa852,#ffa751,#ffa750,#ffa64f,#ffa64d)"></i>
<i style="background:linear-gradient(90deg,#fed09e,#fed09d,#fecf9c,#fece9b,#fecd99,#fecd98,#fecc97,#fecb95,#feca94,#feca92,#fec990,#fec88f,#fec78d,#fec68b,#fec589,#ffc488,#ffc386,#ffc284,#ffc182,#ffc080,#ffbf7e,#ffbe7c,#ffbd7a,#ffbb78,#ffba76,#ffb973,#ffb871,#ffb76f,#ffb66d,#ffb56b,#ffb469,#ffb367,#ffb265,#ffb163,#ffb061,#ffaf5f,#ffae5d,#ffad5c,#ffac5a,#ffac59,#ffab57,#ffaa56,#ffa954,#ffa953,#ffa852,#ffa851,#ffa750,#ffa74f)"></i>
</div>
<div class="hm" style="left:339px;top:45px;height:157px">
<i style="background:linear-gradient(90deg,#ffb770,#ffbc78,#ffc080,#ffc488,#fec88f,#fecc96,#fecf9c,#fed2a2,#fed6aa,#fedab1,#ffdeb9,#ffe1bf,#ffe4c6,#ffe8cc,#ffead1,#ffecd5,#ffedd9,#ffefdc,#fff1e0,#fff2e3,#fff4e7,#fff5ea,#fff6ed,#fff8ef,#fff9f1,#fffaf3,#fffaf5,#fffbf7,#fffcf9,#fffdfb,#fffefd,#fffffe,#ffffff,#ffffff,#ffffff,#ffffff,#ffffff,#ffffff,#ffffff,#ffffff,#ffffff,#ffffff,#ffffff,#ffffff,#ffffff,#ffffff,#ffffff,#ffffff)"></i>
<i style="background:linear-gradient(90deg,#ffb66d,#ffba75,#ffbf7d,#ffc385,#fec78d,#fecb94,#fece9a,#fed1a0,#fed5a7,#fed9af,#ffdcb6,#ffe0bd,#ffe3c4,#ffe7ca,#ffe9cf,#ffebd3,#ffedd7,#ffeedb,#fff0df,#fff2e2,#fff3e5,#fff5e9,#fff6ec,#fff7ee,#fff8f0,#fff9f2,#fffaf4,#fffbf6,#fffcf8,#fffdfa,#fffefc,#fffefe,#ffffff,#ffffff,#ffffff,#ffffff,#ffffff,#ffffff,#ffffff,#ffffff,#ffffff,#ffffff,#ffffff,#ffffff,#ffffff,#ffffff,#ffffff,#ffffff)"></i>
<i style="background:linear-gradient(90deg,#ffb56a,#ffb973,#ffbd7b,#ffc183,#fec58a,#fec992,#fecd98,#fed09d,#fed4a5,#fed7ad,#fedbb4,#ffdfbb,#ffe2c2,#ffe6c8,#ffe8ce,#ffead2,#ffecd6,#ffeeda,#ffefdd,#fff1e1,#fff3e4,#fff4e7,#fff6ea,#fff7ed,#fff8ef,#fff9f1,#fffaf3,#fffbf5,#fffbf7,#fffcf9,#fffdfb,#fffefd,#fffffe,#ffffff,#ffffff,#ffffff,#ffffff,#ffffff,#ffffff,#ffffff,#ffffff,#ffffff,#ffffff,#ffffff,#ffffff,#ffffff,#ffffff,#ffffff)"></i>
<i style="background:linear-gradient(90deg,#ffb368,#ffb770,#ffbc78,#ffc080,#ffc488,#fec88f,#fecc96,#fecf9c,#fed2a2,#fed6aa,#fedab1,#ffdeb9,#ffe1bf,#ffe4c6,#ffe8cc,#ffead1,#ffebd4,#ffedd8,#ffefdc,#fff0df,#fff2e3,#fff4e6,#fff5e9,#fff6ec,#fff7ee,#fff8f0,#fff9f3,#fffaf5,#fffbf7,#fffcf8,#fffdfa,#fffefc,#fffefe,#ffffff,#ffffff,#ffffff,#ffffff,#ffffff,#ffffff,#ffffff,#ffffff,#ffffff,#ffffff,#ffffff,#ffffff,#ffffff,#ffffff,#ffffff)"></i>
<i style="background:linear-gradient(90deg,#ffb265,#ffb66d,#ffba75,#ffbf7e,#ffc385,#fec78d,#fecb94,#fece9a,#fed1a0,#fed5a8,#fed9af,#ffdcb6,#ffe0bd,#ffe3c4,#ffe6ca,#ffe9cf,#ffebd3,#ffedd7,#ffeedb,#fff0de,#fff1e2,#fff3e5,#fff4e8,#fff6eb,#fff7ed,#fff8f0,#fff9f2,#fffaf4,#fffbf6,#fffcf8,#fffcf9,#fffdfb,#fffefd,#ffffff,#ffffff,#ffffff,#ffffff,#ffffff,#ffffff,#ffffff,#ffffff,#ffffff,#ffffff,#ffffff,#ffffff,#ffffff,#ffffff,#ffffff)"></i>
<i style="background:linear-gradient(90deg,#ffb062,#ffb56a,#ffb973,#ffbd7b,#ffc183,#fec68a,#feca92,#fecd98,#fed09d,#fed4a5,#fed7ad,#fedbb4,#ffdfbb,#ffe2c1,#ffe5c8,#ffe8ce,#ffead2,#ffecd6,#ffeed9,#ffefdd,#fff1e0,#fff2e4,#fff4e7,#fff5ea,#fff7ed,#fff8ef,#fff8f1,#fff9f3,#fffaf5,#fffbf7,#fffcf9,#fffdfa,#fffefc,#fffefe,#ffffff,#ffffff,#ffffff,#ffffff,#ffffff,#ffffff,#ffffff,#ffffff,#ffffff,#ffffff,#ffffff,#ffffff,#ffffff,#ffffff)"></i>
<i style="background:linear-gradient(90deg,#ffaf5f,#ffb367,#ffb770,#ffbc78,#ffc080,#ffc488,#fec88f,#fecc96,#fecf9c,#fed2a2,#fed6aa,#fedab1,#ffdeb8,#ffe1bf,#ffe4c6,#ffe7cc,#ffead0,#ffebd4,#ffedd8,#ffefdc,#fff0df,#fff2e2,#fff3e6,#fff5e9,#fff6ec,#fff7ee,#fff8f0,#fff9f2,#fffaf4,#fffbf6,#fffcf8,#fffcfa,#fffdfb,#fffefd,#ffffff,#ffffff,#ffffff,#ffffff,#ffffff,#ffffff,#ffffff,#ffffff,#ffffff,#ffffff,#ffffff,#ffffff,#ffffff,#ffffff)"></i>
<i style="background:linear-gradient(90deg,#ffad5c,#ffb264,#ffb66d,#ffba75,#ffbf7e,#ffc385,#fec78d,#fecb94,#fece9a,#fed1a0,#fed5a8,#fed9af,#ffdcb6,#ffe0bd,#ffe3c3,#ffe6ca,#ffe9cf,#ffebd3,#ffecd7,#ffeeda,#fff0de,#fff1e1,#fff3e4,#fff4e7,#fff6ea,#fff7ed,#fff8ef,#fff9f1,#fffaf3,#fffaf5,#fffbf7,#fffcf9,#fffdfa,#fffefc,#fffefe,#ffffff,#ffffff,#ffffff,#ffffff,#ffffff,#ffffff,#ffffff,#ffffff,#ffffff,#ffffff,#ffffff,#ffffff,#ffffff)"></i>
<i style="background:linear-gradient(90deg,#ffac59,#ffb062,#ffb46a,#ffb973,#ffbd7b,#ffc283,#fec68b,#feca92,#fecd98,#fed09d,#fed4a5,#fed7ac,#fedbb4,#ffdfbb,#ffe2c1,#ffe5c8,#ffe8cd,#ffead1,#ffecd5,#ffedd9,#ffefdc,#fff1e0,#fff2e3,#fff4e6,#fff5e9,#fff6ec,#fff7ee,#fff8f0,#fff9f2,#fffaf4,#fffbf6,#fffcf8,#fffdfa,#fffdfb,#fffefd,#ffffff,#ffffff,#ffffff,#ffffff,#ffffff,#ffffff,#ffffff,#ffffff,#ffffff,#ffffff,#ffffff,#ffffff,#ffffff)"></i>
<i style="background:linear-gradient(90deg,#ffaa56,#ffaf5f,#ffb367,#ffb770,#ffbc78,#ffc080,#ffc488,#fec890,#fecc96,#fecf9c,#fed2a2,#fed6aa,#fedab1,#ffddb8,#ffe1bf,#ffe4c5,#ffe7cc,#ffe9d0,#ffebd4,#ffedd8,#ffeedb,#fff0df,#fff2e2,#fff3e5,#fff4e8,#fff6eb,#fff7ed,#fff8ef,#fff9f1,#fffaf3,#fffbf5,#fffbf7,#fffcf9,#fffdfb,#fffefc,#fffefe,#ffffff,#ffffff,#ffffff,#ffffff,#ffffff,#ffffff,#ffffff,#ffffff,#ffffff,#ffffff,#ffffff,#ffffff)"></i>
<i style="background:linear-gradient(90deg,#ffa852,#ffad5b,#ffb164,#ffb66d,#ffba75,#ffbf7e,#ffc386,#fec78d,#fecb94,#fece9a,#fed1a0,#fed5a7,#fed9af,#ffdcb6,#ffe0bd,#ffe3c3,#ffe6c9,#ffe9cf,#ffebd2,#ffecd6,#ffeeda,#ffefdd,#fff1e1,#fff2e4,#fff4e7,#fff5ea,#fff6ec,#fff7ef,#fff8f1,#fff9f3,#fffaf4,#fffbf6,#fffcf8,#fffdfa,#fffdfb,#fffefd,#ffffff,#ffffff,#ffffff,#ffffff,#ffffff,#ffffff,#ffffff,#ffffff,#ffffff,#ffffff,#ffffff,#ffffff)"></i>
<i style="background:linear-gradient(90deg,#ffa64e,#ffab58,#ffb061,#ffb46a,#ffb973,#ffbd7b,#ffc283,#fec68b,#feca92,#fecd98,#fed09d,#fed4a5,#fed7ac,#fedbb4,#ffdeba,#ffe2c1,#ffe5c7,#ffe8cd,#ffead1,#ffecd5,#ffedd8,#ffefdc,#fff0df,#fff2e3,#fff3e6,#fff5e9,#fff6ec,#fff7ee,#fff8f0,#fff9f2,#fffaf4,#fffbf5,#fffbf7,#fffcf9,#fffdfb,#fffefc,#fffefe,#ffffff,#ffffff,#ffffff,#ffffff,#ffffff,#ffffff,#ffffff,#ffffff,#ffffff,#ffffff,#ffffff)"></i>
<i style="background:linear-gradient(90deg,#ffa449,#ffaa55,#ffae5e,#ffb367,#ffb770,#ffbc78,#ffc080,#ffc488,#fec890,#fecc97,#fecf9c,#fed2a2,#fed6aa,#fedab1,#ffddb8,#ffe1bf,#ffe4c5,#ffe7cb,#ffe9d0,#ffebd3,#ffedd7,#ffeedb,#fff0de,#fff1e1,#fff3e4,#fff4e7,#fff5ea,#fff7ed,#fff8ef,#fff8f1,#fff9f3,#fffaf5,#fffbf6,#fffcf8,#fffdfa,#fffdfb,#fffefd,#fffffe,#ffffff,#ffffff,#ffffff,#ffffff,#ffffff,#ffffff,#ffffff,#ffffff,#ffffff,#ffffff)"></i>
<i style="background:linear-gradient(90deg,#ffa245,#ffa851,#ffad5b,#ffb164,#ffb66d,#ffba75,#ffbf7e,#ffc386,#fec78d,#fecb94,#fece9a,#fed1a0,#fed5a7,#fed8af,#ffdcb6,#ffdfbc,#ffe3c3,#ffe6c9,#ffe9ce,#ffead2,#ffecd6,#ffeed9,#ffefdd,#fff1e0,#fff2e3,#fff4e6,#fff5e9,#fff6ec,#fff7ee,#fff8f0,#fff9f2,#fffaf4,#fffbf6,#fffbf7,#fffcf9,#fffdfb,#fffefc,#fffefe,#ffffff,#ffffff,#ffffff,#ffffff,#ffffff,#ffffff,#ffffff,#ffffff,#ffffff,#ffffff)"></i>
<i style="background:linear-gradient(90deg,#ffa041,#ffa54c,#ffab58,#ffb061,#ffb46a,#ffb973,#ffbd7b,#ffc283,#fec68b,#feca92,#fecd98,#fed09d,#fed3a5,#fed7ac,#fedbb3,#ffdeba,#ffe2c0,#ffe5c7,#ffe8cd,#ffead1,#ffebd4,#ffedd8,#ffefdb,#fff0df,#fff2e2,#fff3e5,#fff4e8,#fff6eb,#fff7ed,#fff8ef,#fff9f1,#fff9f3,#fffaf5,#fffbf6,#fffcf8,#fffdfa,#fffdfb,#fffefd,#fffffe,#ffffff,#ffffff,#ffffff,#ffffff,#ffffff,#ffffff,#ffffff,#ffffff,#ffffff)"></i>
<i style="background:linear-gradient(90deg,#ff9d3d,#ffa348,#ffa954,#ffae5e,#ffb367,#ffb770,#ffbc78,#ffc080,#ffc488,#fec890,#fecc96,#fecf9c,#fed2a2,#fed6aa,#fedab1,#ffddb8,#ffe0be,#ffe4c4,#ffe7cb,#ffe9cf,#ffebd3,#ffecd7,#ffeeda,#fff0dd,#fff1e1,#fff2e4,#fff4e7,#fff5ea,#fff6ec,#fff7ee,#fff8f0,#fff9f2,#fffaf4,#fffbf6,#fffbf7,#fffcf9,#fffdfb,#fffefc,#fffefe,#ffffff,#ffffff,#ffffff,#ffffff,#ffffff,#ffffff,#ffffff,#ffffff,#ffffff)"></i>
<i style="background:linear-gradient(90deg,#ff9b3a,#ffa144,#ffa750,#ffad5b,#ffb164,#ffb66d,#ffba75,#ffbf7e,#ffc386,#fec78d,#fecb94,#fece9a,#fed1a0,#fed5a7,#fed8ae,#fedcb5,#ffdfbc,#ffe3c2,#ffe6c8,#ffe8ce,#ffead2,#ffecd5,#ffedd9,#ffefdc,#fff0df,#fff2e2,#fff3e5,#fff5e8,#fff6eb,#fff7ed,#fff8ef,#fff9f1,#fff9f3,#fffaf5,#fffbf7,#fffcf8,#fffdfa,#fffdfb,#fffefd,#fffffe,#ffffff,#ffffff,#ffffff,#ffffff,#ffffff,#ffffff,#ffffff,#ffffff)"></i>
<i style="background:linear-gradient(90deg,#ff9937,#ff9f40,#ffa54b,#ffab57,#ffb061,#ffb46a,#ffb973,#ffbd7b,#ffc283,#fec68b,#feca92,#fecd98,#fed09d,#fed3a5,#fed7ac,#fedbb3,#ffdeba,#ffe1c0,#ffe5c6,#ffe8cc,#ffe9d0,#ffebd4,#ffedd7,#ffeedb,#fff0de,#fff1e1,#fff3e4,#fff4e7,#fff5ea,#fff6ec,#fff7ee,#fff8f0,#fff9f2,#fffaf4,#fffbf6,#fffbf7,#fffcf9,#fffdfb,#fffefc,#fffefd,#ffffff,#ffffff,#ffffff,#ffffff,#ffffff,#ffffff,#ffffff,#ffffff)"></i>
<i style="background:linear-gradient(90deg,#ff9733,#ff9d3c,#ffa347,#ffa953,#ffae5e,#ffb367,#ffb770,#ffbc78,#ffc080,#ffc488,#fec890,#fecc96,#fecf9c,#fed2a2,#fed6a9,#fed9b0,#ffddb7,#ffe0be,#ffe3c4,#ffe6ca,#ffe9cf,#ffebd2,#ffecd6,#ffeed9,#ffefdd,#fff1e0,#fff2e3,#fff3e6,#fff5e9,#fff6eb,#fff7ee,#fff8ef,#fff9f1,#fffaf3,#fffaf5,#fffbf7,#fffcf8,#fffdfa,#fffdfb,#fffefd,#fffffe,#ffffff,#ffffff,#ffffff,#ffffff,#ffffff,#ffffff,#ffffff)"></i>
<i style="background:linear-gradient(90deg,#ff9530,#ff9a38,#ffa043,#ffa74f,#ffac5a,#ffb164,#ffb66d,#ffba75,#ffbf7e,#ffc386,#fec78d,#fecb94,#fece9a,#fed19f,#fed4a7,#fed8ae,#fedcb5,#ffdfbb,#ffe2c2,#ffe5c8,#ffe8cd,#ffead1,#ffecd5,#ffedd8,#ffefdb,#fff0df,#fff2e2,#fff3e5,#fff4e8,#fff5ea,#fff7ed,#fff7ef,#fff8f0,#fff9f2,#fffaf4,#fffbf6,#fffbf7,#fffcf9,#fffdfa,#fffefc,#fffefd,#ffffff,#ffffff,#ffffff,#ffffff,#ffffff,#ffffff,#ffffff)"></i>
<i style="background:linear-gradient(90deg,#ff932d,#ff9835,#ff9e3e,#ffa44a,#ffab57,#ffb060,#ffb46a,#ffb972,#ffbd7b,#ffc183,#fec68b,#fec992,#fecd98,#fed09d,#fed3a4,#fed7ac,#fedab2,#ffdeb9,#ffe1bf,#ffe4c6,#ffe7cb,#ffe9d0,#ffebd3,#ffedd7,#ffeeda,#fff0dd,#fff1e0,#fff2e3,#fff4e6,#fff5e9,#fff6ec,#fff7ee,#fff8f0,#fff9f1,#fffaf3,#fffaf5,#fffbf7,#fffcf8,#fffdfa,#fffdfb,#fffefd,#fffefe,#ffffff,#ffffff,#ffffff,#ffffff,#ffffff,#ffffff)"></i>
<i style="background:linear-gradient(90deg,#ff912a,#ff9632,#ff9c3b,#ffa246,#ffa953,#ffae5d,#ffb367,#ffb770,#ffbc78,#ffc080,#ffc488,#fec88f,#fecc96,#fecf9b,#fed2a2,#fed6a9,#fed9b0,#ffddb7,#ffe0bd,#ffe3c3,#ffe6c9,#ffe9ce,#ffead2,#ffecd5,#ffedd9,#ffefdc,#fff0df,#fff2e2,#fff3e5,#fff4e8,#fff6eb,#fff7ed,#fff8ef,#fff8f1,#fff9f2,#fffaf4,#fffbf6,#fffbf7,#fffcf9,#fffdfa,#fffdfc,#fffefd,#fffffe,#ffffff,#ffffff,#ffffff,#ffffff,#ffffff)"></i>
<i style="background:linear-gradient(90deg,#fe8e27,#ff932e,#ff9937,#ffa041,#ffa64e,#ffac5a,#ffb163,#ffb66d,#ffba75,#ffbf7e,#ffc385,#fec78d,#fecb94,#fece9a,#fed09f,#fed4a6,#fed8ae,#fedbb4,#ffdfbb,#ffe2c1,#ffe5c7,#ffe8cd,#ffead1,#ffebd4,#ffedd7,#ffeedb,#fff0de,#fff1e1,#fff3e4,#fff4e7,#fff5e9,#fff6ec,#fff7ee,#fff8f0,#fff9f1,#fffaf3,#fffaf5,#fffbf6,#fffcf8,#fffcf9,#fffdfb,#fffefc,#fffefe,#ffffff,#ffffff,#ffffff,#ffffff,#ffffff)"></i>
<i style="background:linear-gradient(90deg,#fe8c24,#ff912b,#ff9733,#ff9d3d,#ffa44a,#ffaa57,#ffaf60,#ffb469,#ffb972,#ffbd7b,#ffc183,#fec68a,#fec992,#fecd98,#fecf9d,#fed3a4,#fed7ab,#fedab2,#ffdeb9,#ffe1bf,#ffe4c5,#ffe7cb,#ffe9cf,#ffebd3,#ffecd6,#ffeed9,#ffefdd,#fff1e0,#fff2e3,#fff3e5,#fff5e8,#fff6eb,#fff7ed,#fff8ef,#fff8f1,#fff9f2,#fffaf4,#fffbf6,#fffbf7,#fffcf9,#fffdfa,#fffdfc,#fffefd,#fffffe,#ffffff,#ffffff,#ffffff,#ffffff)"></i>
<i style="background:linear-gradient(90deg,#fe8b21,#fe8f27,#ff9430,#ff9b39,#ffa245,#ffa852,#ffae5d,#ffb366,#ffb76f,#ffbc78,#ffc080,#ffc488,#fec88f,#fecc96,#fece9b,#fed2a1,#fed5a9,#fed9af,#ffdcb6,#ffe0bd,#ffe3c3,#ffe6c8,#ffe8ce,#ffead1,#ffecd5,#ffedd8,#ffefdb,#fff0de,#fff1e1,#fff3e4,#fff4e7,#fff5ea,#fff6ec,#fff7ee,#fff8f0,#fff9f1,#fffaf3,#fffaf5,#fffbf6,#fffcf8,#fffcf9,#fffdfb,#fffefc,#fffefd,#ffffff,#ffffff,#ffffff,#ffffff)"></i>
<i style="background:linear-gradient(90deg,#fe891e,#fe8d24,#ff922c,#ff9836,#ff9f40,#ffa64d,#ffac5a,#ffb163,#ffb66c,#ffba75,#ffbf7d,#ffc385,#fec78d,#fecb94,#fece99,#fed09f,#fed4a6,#fed8ad,#fedbb4,#ffdeba,#ffe2c0,#ffe5c6,#ffe7cc,#ffe9d0,#ffebd3,#ffedd7,#ffeeda,#ffefdd,#fff1e0,#fff2e3,#fff3e6,#fff5e8,#fff6eb,#fff7ed,#fff8ef,#fff8f1,#fff9f2,#fffaf4,#fffbf6,#fffbf7,#fffcf9,#fffdfa,#fffdfb,#fffefd,#fffefe,#ffffff,#ffffff,#ffffff)"></i>
<i style="background:linear-gradient(90deg,#fe871b,#fe8a21,#fe9028,#ff9632,#ff9d3c,#ffa349,#ffaa56,#ffaf60,#ffb469,#ffb972,#ffbd7b,#ffc183,#fec58a,#fec991,#fecd98,#fecf9d,#fed3a3,#fed6ab,#fedab1,#ffddb8,#ffe0be,#ffe3c4,#ffe6ca,#ffe9ce,#ffead2,#ffecd5,#ffedd9,#ffefdc,#fff0df,#fff2e2,#fff3e5,#fff4e7,#fff5ea,#fff6ec,#fff7ee,#fff8f0,#fff9f1,#fffaf3,#fffaf5,#fffbf6,#fffcf8,#fffcf9,#fffdfb,#fffefc,#fffefd,#fffffe,#ffffff,#ffffff)"></i>
<i style="background:linear-gradient(90deg,#fe8519,#fe881e,#fe8d25,#ff932e,#ff9a38,#ffa144,#ffa851,#ffae5d,#ffb266,#ffb76f,#ffbc78,#ffc080,#ffc488,#fec88f,#fecc96,#fece9b,#fed1a1,#fed5a8,#fed9af,#fedcb5,#ffdfbc,#ffe2c2,#ffe5c8,#ffe8cd,#ffead1,#ffebd4,#ffedd7,#ffeedb,#fff0de,#fff1e1,#fff2e3,#fff4e6,#fff5e9,#fff6eb,#fff7ed,#fff8ef,#fff8f1,#fff9f2,#fffaf4,#fffbf5,#fffbf7,#fffcf8,#fffdfa,#fffdfb,#fffefc,#fffefe,#ffffff,#ffffff)"></i>
<i style="background:linear-gradient(90deg,#fe8416,#fe861a,#fe8b21,#ff912a,#ff9734,#ff9f3f,#ffa54d,#ffac59,#ffb163,#ffb56c,#ffba75,#ffbe7d,#ffc385,#fec78c,#feca94,#fecd99,#fed09e,#fed4a5,#fed7ac,#fedbb3,#ffdeb9,#ffe1c0,#ffe4c5,#ffe7cb,#ffe9cf,#ffebd3,#ffecd6,#ffeed9,#ffefdc,#fff0df,#fff2e2,#fff3e5,#fff4e7,#fff5ea,#fff6ec,#fff7ee,#fff8f0,#fff9f1,#fff9f3,#fffaf5,#fffbf6,#fffcf8,#fffcf9,#fffdfa,#fffdfc,#fffefd,#fffffe,#ffffff)"></i>
<i style="background:linear-gradient(90deg,#fe8214,#fe8417,#fe891e,#fe8e26,#ff9530,#ff9c3b,#ffa348,#ffaa55,#ffaf60,#ffb469,#ffb872,#ffbd7a,#ffc182,#fec58a,#fec991,#fecc97,#fecf9c,#fed2a3,#fed6aa,#fedab1,#ffddb7,#ffe0bd,#ffe3c3,#ffe6c9,#ffe8ce,#ffead1,#ffecd5,#ffedd8,#ffeedb,#fff0de,#fff1e1,#fff2e4,#fff4e6,#fff5e9,#fff6eb,#fff7ed,#fff8ef,#fff8f1,#fff9f2,#fffaf4,#fffbf5,#fffbf7,#fffcf8,#fffcf9,#fffdfb,#fffefc,#fffefd,#fffffe)"></i>
<i style="background:linear-gradient(90deg,#fd8013,#fe8215,#fe861a,#fe8c22,#ff922c,#ff9937,#ffa143,#ffa751,#ffad5c,#ffb266,#ffb76f,#ffbb78,#ffc080,#ffc487,#fec88f,#fecb96,#fece9b,#fed1a0,#fed5a7,#fed8ae,#fedcb5,#ffdfbb,#ffe2c1,#ffe5c7,#ffe8cc,#ffe9d0,#ffebd3,#ffecd7,#ffeeda,#ffefdd,#fff1e0,#fff2e2,#fff3e5,#fff4e8,#fff5ea,#fff6ec,#fff7ee,#fff8f0,#fff9f1,#fff9f3,#fffaf4,#fffbf6,#fffbf7,#fffcf9,#fffdfa,#fffdfb,#fffefc,#fffefe)"></i>
<i style="background:linear-gradient(90deg,#fd7f12,#fd8013,#fe8417,#fe891f,#fe9028,#ff9733,#ff9e3e,#ffa54c,#ffac59,#ffb163,#ffb56c,#ffba75,#ffbe7d,#ffc285,#fec68c,#feca93,#fecd99,#fed09e,#fed3a5,#fed7ac,#fedab2,#ffdeb9,#ffe1bf,#ffe4c4,#ffe6ca,#ffe9ce,#ffead2,#ffecd5,#ffedd8,#ffefdb,#fff0de,#fff1e1,#fff2e4,#fff4e6,#fff5e9,#fff6eb,#fff7ed,#fff8ef,#fff8f0,#fff9f2,#fffaf4,#fffaf5,#fffbf6,#fffcf8,#fffcf9,#fffdfa,#fffdfc,#fffefd)"></i>
<i style="background:linear-gradient(90deg,#fc7e11,#fc7e12,#fe8214,#fe871b,#fe8d24,#ff942f,#ff9b3a,#ffa347,#ffaa55,#ffaf5f,#ffb469,#ffb872,#ffbd7a,#ffc182,#fec58a,#fec991,#fecc97,#fecf9c,#fed2a2,#fed6a9,#fed9b0,#ffdcb6,#ffdfbc,#ffe2c2,#ffe5c8,#ffe8cd,#ffead1,#ffebd4,#ffedd7,#ffeeda,#ffefdd,#fff1e0,#fff2e3,#fff3e5,#fff4e8,#fff5ea,#fff6ec,#fff7ee,#fff8f0,#fff9f1,#fff9f3,#fffaf4,#fffbf6,#fffbf7,#fffcf8,#fffdfa,#fffdfb,#fffefc)"></i>
<i style="background:linear-gradient(90deg,#fc7d11,#fc7c10,#fd7f12,#fe8417,#fe8a20,#ff912b,#ff9936,#ffa042,#ffa750,#ffad5c,#ffb265,#ffb76f,#ffbb77,#ffc07f,#ffc487,#fec88e,#fecb95,#fece9a,#fed1a0,#fed4a7,#fed8ad,#fedbb4,#ffdeba,#ffe1c0,#ffe4c6,#ffe7cb,#ffe9cf,#ffebd2,#ffecd6,#ffedd9,#ffefdc,#fff0df,#fff1e1,#fff3e4,#fff4e6,#fff5e9,#fff6eb,#fff7ed,#fff8ef,#fff8f0,#fff9f2,#fffaf3,#fffaf5,#fffbf6,#fffcf8,#fffcf9,#fffdfa,#fffdfb)"></i>
<i style="background:linear-gradient(90deg,#fc7c10,#fb7b10,#fc7c11,#fe8214,#fe871c,#fe8e27,#ff9632,#ff9d3d,#ffa54b,#ffab58,#ffb062,#ffb56c,#ffba74,#ffbe7d,#ffc284,#fec68c,#feca93,#fecd98,#fed09d,#fed3a4,#fed7ab,#fedab1,#ffddb8,#ffe0be,#ffe3c3,#ffe6c9,#ffe8ce,#ffead1,#ffebd4,#ffedd7,#ffeeda,#ffefdd,#fff1e0,#fff2e3,#fff3e5,#fff4e8,#fff5ea,#fff6ec,#fff7ee,#fff8ef,#fff9f1,#fff9f3,#fffaf4,#fffbf5,#fffbf7,#fffcf8,#fffcf9,#fffdfb)"></i>
<i style="background:linear-gradient(90deg,#fb7b10,#fa790f,#fb7a0f,#fd7e12,#fe8518,#fe8c22,#ff932d,#ff9b39,#ffa246,#ffa954,#ffaf5f,#ffb468,#ffb871,#ffbd7a,#ffc182,#fec589,#fec990,#fecc97,#fecf9c,#fed2a1,#fed5a8,#fed9af,#fedcb5,#ffdfbb,#ffe2c1,#ffe5c7,#ffe7cc,#ffe9d0,#ffebd3,#ffecd6,#ffeed9,#ffefdc,#fff0df,#fff1e1,#fff3e4,#fff4e7,#fff5e9,#fff6eb,#fff7ed,#fff7ef,#fff8f0,#fff9f2,#fffaf3,#fffaf5,#fffbf6,#fffbf7,#fffcf9,#fffdfa)"></i>
<i style="background:linear-gradient(90deg,#fb7b10,#fa780e,#fa780e,#fb7c10,#fe8214,#fe891e,#ff9029,#ff9835,#ffa041,#ffa74f,#ffad5b,#ffb265,#ffb76e,#ffbb77,#ffbf7f,#ffc387,#fec78e,#fecb95,#fece9a,#fed09f,#fed4a6,#fed7ad,#fedbb3,#ffdeb9,#ffe1bf,#ffe4c4,#ffe6ca,#ffe9ce,#ffead2,#ffecd5,#ffedd8,#ffeedb,#fff0de,#fff1e0,#fff2e3,#fff3e5,#fff4e8,#fff5ea,#fff6ec,#fff7ee,#fff8ef,#fff8f1,#fff9f2,#fffaf4,#fffaf5,#fffbf6,#fffcf8,#fffcf9)"></i>
<i style="background:linear-gradient(90deg,#fb7b10,#fa770d,#f9760d,#fa790f,#fd7f12,#fe861a,#fe8d25,#ff9531,#ff9d3c,#ffa44a,#ffab58,#ffb062,#ffb56b,#ffba74,#ffbe7c,#ffc284,#fec68b,#feca92,#fecd98,#fecf9d,#fed3a3,#fed6aa,#fed9b1,#ffddb7,#ffe0bd,#ffe2c2,#ffe5c8,#ffe8cd,#ffe9d0,#ffebd3,#ffecd6,#ffeed9,#ffefdc,#fff0df,#fff1e2,#fff3e4,#fff4e7,#fff5e9,#fff6eb,#fff7ed,#fff7ee,#fff8f0,#fff9f1,#fff9f3,#fffaf4,#fffbf6,#fffbf7,#fffcf8)"></i>
<i style="background:linear-gradient(90deg,#fb7b10,#f9760d,#f9750c,#f9770d,#fb7b10,#fe8315,#fe8a20,#ff922c,#ff9a38,#ffa245,#ffa953,#ffae5e,#ffb368,#ffb871,#ffbc79,#ffc181,#fec589,#fec890,#fecc96,#fece9b,#fed1a1,#fed5a8,#fed8ae,#fedbb4,#ffdeba,#ffe1c0,#ffe4c5,#ffe7cb,#ffe9cf,#ffead2,#ffecd5,#ffedd8,#ffeedb,#fff0de,#fff1e0,#fff2e3,#fff3e5,#fff4e8,#fff5ea,#fff6ec,#fff7ee,#fff8ef,#fff8f1,#fff9f2,#fffaf3,#fffaf5,#fffbf6,#fffbf7)"></i>
<i style="background:linear-gradient(90deg,#fb7b10,#f9760d,#f8730b,#f9740c,#fa780e,#fd7f12,#fe871c,#fe8f28,#ff9734,#ff9f40,#ffa64f,#ffad5b,#ffb265,#ffb66e,#ffbb76,#ffbf7f,#ffc386,#fec78d,#fecb94,#fece99,#fed09e,#fed4a5,#fed7ac,#fedab2,#ffddb8,#ffe0be,#ffe3c3,#ffe6c8,#ffe8cd,#ffead1,#ffebd4,#ffecd7,#ffeeda,#ffefdc,#fff0df,#fff1e2,#fff3e4,#fff4e6,#fff5e9,#fff6eb,#fff7ed,#fff7ee,#fff8f0,#fff9f1,#fff9f3,#fffaf4,#fffbf5,#fffbf7)"></i>
<i style="background:linear-gradient(90deg,#fc7c10,#f9760d,#f8720b,#f8720b,#f9760d,#fc7c10,#fe8417,#fe8c23,#ff942f,#ff9c3b,#ffa449,#ffab57,#ffb061,#ffb56b,#ffb974,#ffbe7c,#ffc283,#fec68b,#fec992,#fecd98,#fecf9c,#fed2a2,#fed6a9,#fed9af,#ffdcb6,#ffdfbb,#ffe2c1,#ffe5c6,#ffe7cb,#ffe9cf,#ffead2,#ffecd5,#ffedd8,#ffeedb,#fff0de,#fff1e0,#fff2e3,#fff3e5,#fff4e8,#fff5ea,#fff6ec,#fff7ed,#fff8ef,#fff8f0,#fff9f2,#fffaf3,#fffaf4,#fffbf6)"></i>
<i style="background:linear-gradient(90deg,#fc7d11,#f9760d,#f7710a,#f77009,#f8730b,#fa790e,#fe8113,#fe891f,#ff912b,#ff9937,#ffa144,#ffa953,#ffae5e,#ffb367,#ffb870,#ffbc79,#ffc081,#ffc488,#fec88f,#fecc96,#fece9b,#fed1a0,#fed4a7,#fed8ad,#fedbb3,#ffdeb9,#ffe1bf,#ffe3c4,#ffe6c9,#ffe8ce,#ffead1,#ffebd4,#ffedd7,#ffeeda,#ffefdd,#fff0df,#fff1e2,#fff3e4,#fff4e6,#fff5e9,#fff6eb,#fff6ed,#fff7ee,#fff8f0,#fff9f1,#fff9f2,#fffaf4,#fffaf5)"></i>
<i style="background:linear-gradient(90deg,#fc7e11,#f9760d,#f7710a,#f66f08,#f77009,#f9750c,#fc7d11,#fe861a,#fe8e26,#ff9633,#ff9f3f,#ffa64e,#ffac5a,#ffb164,#ffb66d,#ffbb76,#ffbf7e,#ffc386,#fec78d,#feca93,#fecd99,#fed09d,#fed3a4,#fed6ab,#fedab1,#ffddb7,#ffe0bc,#ffe2c2,#ffe5c7,#ffe8cc,#ffe9d0,#ffebd3,#ffecd6,#ffedd8,#ffefdb,#fff0de,#fff1e0,#fff2e3,#fff3e5,#fff4e7,#fff5ea,#fff6ec,#fff7ed,#fff7ef,#fff8f0,#fff9f1,#fff9f3,#fffaf4)"></i>
<i style="background:linear-gradient(90deg,#fd7f12,#f9770d,#f7710a,#f66d08,#f66e08,#f8720b,#fb790f,#fe8315,#fe8b22,#ff932e,#ff9c3b,#ffa349,#ffab57,#ffb061,#ffb56a,#ffb973,#ffbd7b,#ffc183,#fec58a,#fec991,#fecc97,#fecf9c,#fed2a1,#fed5a8,#fed8ae,#fedbb4,#ffdeba,#ffe1c0,#ffe4c5,#ffe6ca,#ffe9ce,#ffead1,#ffebd4,#ffedd7,#ffeeda,#ffefdd,#fff0df,#fff1e2,#fff3e4,#fff4e6,#fff5e8,#fff6ea,#fff6ec,#fff7ee,#fff8ef,#fff8f1,#fff9f2,#fffaf3)"></i>
<i style="background:linear-gradient(90deg,#fd8013,#fa770e,#f7710a,#f56c07,#f56c07,#f66f09,#f9760d,#fd7f12,#fe881d,#ff902a,#ff9936,#ffa143,#ffa852,#ffae5d,#ffb367,#ffb770,#ffbc78,#ffc080,#ffc488,#fec88e,#fecb95,#fece9a,#fed09f,#fed4a5,#fed7ac,#fedab2,#ffddb8,#ffe0bd,#ffe3c3,#ffe5c8,#ffe8cd,#ffe9d0,#ffebd3,#ffecd6,#ffedd9,#ffefdb,#fff0de,#fff1e0,#fff2e3,#fff3e5,#fff4e7,#fff5e9,#fff6eb,#fff7ed,#fff7ee,#fff8f0,#fff9f1,#fff9f2)"></i>
<i style="background:linear-gradient(90deg,#fe8214,#fa780e,#f7710a,#f56c07,#f46a06,#f56c07,#f8720b,#fb7b10,#fe8518,#fe8d25,#ff9632,#ff9e3e,#ffa64d,#ffac5a,#ffb164,#ffb66d,#ffba75,#ffbf7d,#ffc385,#fec68c,#feca93,#fecd98,#fecf9d,#fed2a3,#fed6a9,#fed9b0,#fedcb5,#ffdfbb,#ffe2c0,#ffe4c6,#ffe7cb,#ffe9cf,#ffead2,#ffebd4,#ffedd7,#ffeeda,#ffefdd,#fff0df,#fff1e1,#fff2e4,#fff3e6,#fff4e8,#fff5ea,#fff6ec,#fff7ed,#fff8ef,#fff8f0,#fff9f2)"></i>
<i style="background:linear-gradient(90deg,#fe8316,#fb790f,#f7710a,#f56b06,#f46805,#f46a05,#f66f08,#fa770d,#fe8113,#fe8a20,#ff932d,#ff9b3a,#ffa348,#ffaa56,#ffaf60,#ffb46a,#ffb972,#ffbd7b,#ffc182,#fec589,#fec990,#fecc96,#fece9b,#fed1a0,#fed5a7,#fed8ad,#fedbb3,#ffdeb9,#ffe0be,#ffe3c3,#ffe6c8,#ffe8cd,#ffe9d0,#ffebd3,#ffecd6,#ffedd9,#ffefdb,#fff0de,#fff1e0,#fff2e3,#fff3e5,#fff4e7,#fff5e9,#fff6eb,#fff7ed,#fff7ee,#fff8ef,#fff8f1)"></i>
<i style="background:linear-gradient(90deg,#fe8418,#fb7b10,#f8720a,#f56b06,#f36704,#f36704,#f56b06,#f8730b,#fc7c11,#fe871b,#fe9028,#ff9835,#ffa042,#ffa851,#ffae5d,#ffb366,#ffb76f,#ffbc78,#ffc07f,#ffc487,#fec78e,#fecb94,#fecd99,#fed09e,#fed3a4,#fed6ab,#fedab1,#ffdcb6,#ffdfbc,#ffe2c1,#ffe5c6,#ffe7cb,#ffe9cf,#ffead2,#ffecd5,#ffedd7,#ffeeda,#ffefdd,#fff0df,#fff1e1,#fff2e4,#fff3e6,#fff4e8,#fff5ea,#fff6ec,#fff7ed,#fff7ef,#fff8f0)"></i>
<i style="background:linear-gradient(90deg,#fe861a,#fc7c11,#f8730b,#f56b06,#f36603,#f26503,#f46805,#f66f09,#fa780e,#fe8316,#fe8c23,#ff9531,#ff9d3d,#ffa54c,#ffac59,#ffb163,#ffb66c,#ffba75,#ffbe7d,#ffc284,#fec68b,#fec992,#fecd97,#fecf9c,#fed2a2,#fed5a8,#fed8ae,#fedbb4,#ffdeba,#ffe1bf,#ffe3c4,#ffe6c9,#ffe8cd,#ffead0,#ffebd3,#ffecd6,#ffedd9,#ffefdb,#fff0de,#fff1e0,#fff2e2,#fff3e5,#fff4e7,#fff5e9,#fff6eb,#fff6ec,#fff7ee,#fff8ef)"></i>
<i style="background:linear-gradient(90deg,#fe871c,#fc7e11,#f8740c,#f56c07,#f36503,#f16202,#f26503,#f56b06,#f9740c,#fd7f12,#fe891e,#ff922c,#ff9b39,#ffa247,#ffaa55,#ffaf60,#ffb469,#ffb872,#ffbd7a,#ffc181,#fec589,#fec88f,#fecc96,#fece9a,#fed19f,#fed4a6,#fed7ac,#fedab2,#ffddb7,#ffe0bd,#ffe2c2,#ffe5c7,#ffe7cb,#ffe9cf,#ffead2,#ffecd5,#ffedd7,#ffeeda,#ffefdc,#fff0df,#fff1e1,#fff2e3,#fff3e5,#fff4e7,#fff5e9,#fff6eb,#fff7ed,#fff7ee)"></i>
<i style="background:linear-gradient(90deg,#fe891e,#fd8013,#f9750c,#f56c07,#f26503,#ef5f02,#f06102,#f36804,#f77009,#fb7b10,#fe8519,#fe8f27,#ff9734,#ffa041,#ffa750,#ffad5c,#ffb266,#ffb76f,#ffbb77,#ffbf7f,#ffc386,#fec78d,#feca93,#fecd99,#fecf9d,#fed3a3,#fed6a9,#fed9af,#fedcb5,#ffdeba,#ffe1c0,#ffe4c5,#ffe6c9,#ffe8ce,#ffead1,#ffebd3,#ffecd6,#ffedd9,#ffefdb,#fff0de,#fff1e0,#fff2e2,#fff3e4,#fff4e6,#fff5e8,#fff5ea,#fff6ec,#fff7ed)"></i>
<i style="background:linear-gradient(90deg,#fe8b21,#fe8214,#fa770d,#f66d08,#f26503,#ee5d02,#ed5c02,#f26402,#f56c07,#f9760d,#fe8214,#fe8b22,#ff9430,#ff9d3c,#ffa54b,#ffab58,#ffb162,#ffb56b,#ffba74,#ffbe7c,#ffc283,#fec58a,#fec991,#fecc97,#fecf9b,#fed1a0,#fed4a7,#fed8ad,#fedbb3,#ffddb8,#ffe0bd,#ffe3c2,#ffe5c7,#ffe7cc,#ffe9cf,#ffead2,#ffecd5,#ffedd7,#ffeeda,#ffefdc,#fff0df,#fff1e1,#fff2e3,#fff3e5,#fff4e7,#fff5e9,#fff6eb,#fff6ec)"></i>
<i style="background:linear-gradient(90deg,#fe8c23,#fe8316,#fa790e,#f66e08,#f36603,#ed5c02,#eb5801,#ee5e02,#f46804,#f8720a,#fc7d11,#fe881d,#ff912b,#ff9a38,#ffa246,#ffa954,#ffaf5f,#ffb468,#ffb871,#ffbc79,#ffc081,#ffc488,#fec88e,#fecb95,#fece9a,#fed09e,#fed3a4,#fed6aa,#fed9b0,#ffdcb6,#ffdfbb,#ffe1c0,#ffe4c5,#ffe6ca,#ffe8ce,#ffead1,#ffebd3,#ffecd6,#ffedd9,#ffeedb,#fff0dd,#fff1e0,#fff2e2,#fff3e4,#fff3e6,#fff4e8,#fff5ea,#fff6eb)"></i>
<i style="background:linear-gradient(90deg,#fe8e26,#fe8519,#fb7b10,#f77009,#f36603,#ed5b02,#e95501,#eb5801,#f26402,#f66e08,#fa790e,#fe8418,#fe8e26,#ff9733,#ff9f40,#ffa74f,#ffad5b,#ffb265,#ffb66e,#ffbb76,#ffbf7e,#ffc385,#fec68c,#feca92,#fecd98,#fecf9c,#fed2a2,#fed5a8,#fed8ae,#fedbb3,#ffdeb9,#ffe0be,#ffe3c3,#ffe5c7,#ffe7cc,#ffe9cf,#ffead2,#ffecd5,#ffedd7,#ffeeda,#ffefdc,#fff0de,#fff1e1,#fff2e3,#fff3e5,#fff4e7,#fff5e8,#fff5ea)"></i>
<i style="background:linear-gradient(90deg,#fe9028,#fe871b,#fc7d11,#f7720a,#f36704,#ec5b02,#e75201,#e85301,#ee5d02,#f46905,#f9740c,#fd8013,#fe8a21,#ff942e,#ff9c3b,#ffa44a,#ffab58,#ffb062,#ffb56b,#ffb973,#ffbd7b,#ffc182,#fec589,#fec890,#fecc96,#fece9a,#fed09f,#fed4a5,#fed7ab,#fedab1,#ffdcb6,#ffdfbc,#ffe2c1,#ffe4c5,#ffe6ca,#ffe8ce,#ffead1,#ffebd3,#ffecd6,#ffedd8,#ffeedb,#ffefdd,#fff0df,#fff1e1,#fff2e3,#fff3e5,#fff4e7,#fff5e9)"></i>
<i style="background:linear-gradient(90deg,#ff912b,#fe891e,#fd7f12,#f8730b,#f46905,#ed5b02,#e65001,#e54e01,#ea5601,#f26502,#f77009,#fb7b10,#fe871b,#ff902a,#ff9937,#ffa145,#ffa953,#ffae5e,#ffb367,#ffb870,#ffbc78,#ffc080,#ffc487,#fec78d,#feca94,#fecd99,#fecf9d,#fed2a3,#fed6a9,#fed8af,#fedbb4,#ffdeb9,#ffe1be,#ffe3c3,#ffe5c8,#ffe8cc,#ffe9cf,#ffead2,#ffebd5,#ffedd7,#ffeeda,#ffefdc,#fff0de,#fff1e0,#fff2e2,#fff3e4,#fff4e6,#fff4e8)"></i>
<i style="background:linear-gradient(90deg,#ff932e,#fe8a21,#fe8113,#f9750c,#f46a06,#ee5d02,#e64f01,#e34c01,#e64f01,#ee5d02,#f56b06,#fa770d,#fe8316,#fe8d24,#ff9632,#ff9f3f,#ffa64e,#ffad5b,#ffb164,#ffb66d,#ffba75,#ffbe7d,#ffc284,#fec68b,#fec991,#fecc97,#fecf9b,#fed1a0,#fed4a6,#fed7ac,#fedab2,#ffddb7,#ffdfbc,#ffe2c1,#ffe4c6,#ffe6ca,#ffe8ce,#ffead1,#ffebd3,#ffecd6,#ffedd8,#ffeedb,#ffefdd,#fff0df,#fff1e1,#fff2e3,#fff3e5,#fff4e7)"></i>
<i style="background:linear-gradient(90deg,#ff9530,#fe8c23,#fe8316,#fa780e,#f56c07,#ef5f02,#e54f01,#e24a01,#e34b01,#e95501,#f36603,#f8720b,#fd7f12,#fe891f,#ff932d,#ff9c3a,#ffa349,#ffab57,#ffb061,#ffb46a,#ffb972,#ffbd7a,#ffc181,#ffc488,#fec88f,#fecb95,#fece99,#fed09e,#fed3a4,#fed6aa,#fed9af,#fedcb5,#ffdeba,#ffe1bf,#ffe3c3,#ffe5c8,#ffe8cc,#ffe9cf,#ffead2,#ffebd4,#ffedd7,#ffeed9,#ffefdc,#fff0de,#fff1e0,#fff2e2,#fff2e4,#fff3e6)"></i>
<i style="background:linear-gradient(90deg,#ff9733,#fe8e26,#fe8519,#fb7a0f,#f66e08,#f06102,#e64f01,#e14801,#e14801,#e54e01,#ef6002,#f66d08,#fb7a0f,#fe861a,#fe9028,#ff9936,#ffa143,#ffa852,#ffae5d,#ffb367,#ffb76f,#ffbb77,#ffbf7f,#ffc386,#fec78c,#feca92,#fecd98,#fecf9c,#fed2a1,#fed5a7,#fed8ad,#fedab2,#ffddb8,#ffe0bc,#ffe2c1,#ffe4c6,#ffe6ca,#ffe8ce,#ffead1,#ffebd3,#ffecd6,#ffedd8,#ffeeda,#ffefdc,#fff0df,#fff1e1,#fff2e3,#fff3e4)"></i>
<i style="background:linear-gradient(90deg,#ff9836,#ff9029,#fe871b,#fc7c10,#f77009,#f26402,#e65101,#e14801,#e04501,#e24901,#ea5701,#f46905,#f9750c,#fe8214,#fe8c23,#ff9531,#ff9e3e,#ffa64d,#ffac5a,#ffb163,#ffb56c,#ffba74,#ffbe7c,#ffc283,#fec58a,#fec990,#fecc96,#fece9a,#fed09f,#fed3a5,#fed6aa,#fed9b0,#fedcb5,#ffdeba,#ffe1bf,#ffe3c4,#ffe5c8,#ffe8cc,#ffe9cf,#ffead2,#ffebd4,#ffecd7,#ffedd9,#ffefdb,#ffefdd,#fff0df,#fff1e1,#fff2e3)"></i>
<i style="background:linear-gradient(90deg,#ff9a38,#ff922c,#fe891e,#fd7e12,#f8720b,#f36603,#e85301,#e14701,#de4301,#e04601,#e54e01,#f16302,#f77009,#fc7d11,#fe891e,#ff922c,#ff9b39,#ffa348,#ffaa56,#ffaf60,#ffb469,#ffb871,#ffbc79,#ffc080,#ffc487,#fec78e,#feca94,#fecd98,#fecf9d,#fed2a2,#fed5a8,#fed8ad,#fedbb3,#ffddb8,#ffe0bd,#ffe2c1,#ffe4c6,#ffe6ca,#ffe8ce,#ffead0,#ffebd3,#ffecd5,#ffedd8,#ffeeda,#ffefdc,#fff0de,#fff1e0,#fff2e2)"></i>
<i style="background:linear-gradient(90deg,#ff9c3b,#ff942f,#fe8b21,#fe8113,#f9750c,#f46805,#e95601,#e14801,#dd4100,#de4200,#e24901,#ec5a02,#f56b06,#fa780e,#fe8518,#fe8f27,#ff9835,#ffa042,#ffa751,#ffad5c,#ffb266,#ffb76e,#ffbb76,#ffbf7e,#ffc285,#fec68b,#fec991,#fecc97,#fece9b,#fed19f,#fed4a5,#fed7ab,#fed9b0,#ffdcb6,#ffdfba,#ffe1bf,#ffe3c4,#ffe5c8,#ffe7cc,#ffe9cf,#ffead2,#ffebd4,#ffecd6,#ffedd9,#ffeedb,#ffefdd,#fff0df,#fff1e1)"></i>
<i style="background:linear-gradient(90deg,#ff9e3d,#ff9631,#fe8d24,#fe8316,#fa770e,#f56b06,#eb5902,#e14801,#dd4000,#dc3f00,#df4401,#e65001,#f36603,#f8730b,#fd8113,#fe8b22,#ff9530,#ff9d3d,#ffa54b,#ffac59,#ffb062,#ffb56b,#ffb973,#ffbd7b,#ffc182,#fec589,#fec88f,#fecb95,#fecd99,#fed09d,#fed2a3,#fed5a9,#fed8ae,#fedbb3,#ffddb8,#ffe0bd,#ffe2c1,#ffe4c6,#ffe6ca,#ffe8ce,#ffe9d0,#ffebd3,#ffecd5,#ffedd7,#ffeed9,#ffefdc,#fff0de,#fff1e0)"></i>
<i style="background:linear-gradient(90deg,#ff9f40,#ff9734,#fe8f27,#fe8619,#fb7a0f,#f66d07,#ee5d02,#e24a01,#dc4000,#da3c00,#dc4000,#e24a01,#ee5e02,#f66e08,#fb7c10,#fe881c,#ff912b,#ff9a38,#ffa246,#ffa954,#ffaf5f,#ffb368,#ffb870,#ffbc78,#ffc07f,#ffc386,#fec78c,#feca92,#fecc97,#fecf9c,#fed1a0,#fed4a6,#fed7ac,#fedab1,#ffdcb6,#ffdfbb,#ffe1bf,#ffe3c4,#ffe5c8,#ffe7cc,#ffe9cf,#ffead1,#ffebd4,#ffecd6,#ffedd8,#ffeeda,#ffefdc,#fff0de)"></i>
<i style="background:linear-gradient(90deg,#ffa144,#ff9937,#ff912a,#fe881c,#fc7c11,#f77009,#f06102,#e34b01,#dc4000,#d93a00,#da3c00,#df4401,#e85401,#f46905,#f9770d,#fe8417,#fe8e26,#ff9734,#ff9f41,#ffa74f,#ffad5b,#ffb264,#ffb66d,#ffba75,#ffbe7c,#ffc283,#fec58a,#fec890,#fecc96,#fece9a,#fed09e,#fed3a4,#fed6a9,#fed8ae,#fedbb4,#ffddb8,#ffe0bd,#ffe2c1,#ffe4c6,#ffe6ca,#ffe8cd,#ffe9d0,#ffead2,#ffecd5,#ffedd7,#ffeed9,#ffeedb,#ffefdd)"></i>
<i style="background:linear-gradient(90deg,#ffa347,#ff9b3a,#ff932d,#fe8a20,#fd7f12,#f8720b,#f26503,#e44d01,#dd4100,#d83900,#d83800,#dc3f00,#e34b01,#f26302,#f7720a,#fd7f12,#fe8a20,#ff942f,#ff9c3c,#ffa44a,#ffab58,#ffb061,#ffb46a,#ffb972,#ffbd7a,#ffc081,#ffc487,#fec78d,#feca93,#fecd98,#fecf9c,#fed2a1,#fed4a7,#fed7ac,#fedab1,#ffdcb6,#ffdfbb,#ffe1bf,#ffe3c3,#ffe5c8,#ffe7cb,#ffe9cf,#ffead1,#ffebd3,#ffecd6,#ffedd8,#ffeeda,#ffefdc)"></i>
<i style="background:linear-gradient(90deg,#ffa44a,#ff9d3c,#ff9530,#fe8c23,#fe8214,#f9750c,#f36804,#e75101,#de4201,#d83800,#d53500,#d93a00,#e04601,#eb5902,#f56c07,#fb7a0f,#fe871b,#ff902a,#ff9937,#ffa145,#ffa953,#ffae5e,#ffb367,#ffb76f,#ffbb77,#ffbf7e,#ffc285,#fec68b,#fec991,#fecc96,#fece9a,#fed09e,#fed3a4,#fed6aa,#fed9af,#fedbb4,#ffdeb8,#ffe0bd,#ffe2c1,#ffe4c5,#ffe6c9,#ffe8cd,#ffe9d0,#ffead2,#ffebd4,#ffecd6,#ffedd8,#ffeeda)"></i>
<i style="background:linear-gradient(90deg,#ffa64d,#ff9f3f,#ff9733,#fe8e26,#fe8417,#fa780e,#f56b06,#ea5601,#df4401,#d83800,#d23300,#d53500,#dc4000,#e54e01,#f36704,#f9750c,#fe8315,#fe8d24,#ff9632,#ff9f3f,#ffa64e,#ffac5a,#ffb163,#ffb56c,#ffb974,#ffbd7b,#ffc182,#ffc488,#fec88e,#fecb94,#fecd99,#fecf9d,#fed2a2,#fed5a7,#fed7ac,#fedab1,#ffdcb6,#ffdfbb,#ffe1bf,#ffe3c3,#ffe5c7,#ffe7cb,#ffe9ce,#ffead1,#ffebd3,#ffecd5,#ffedd7,#ffeed9)"></i>
<i style="background:linear-gradient(90deg,#ffa750,#ffa043,#ff9936,#fe9029,#fe871b,#fb7b10,#f66e08,#ed5b02,#e04601,#d83900,#d13100,#d13100,#d93a00,#e14801,#ef5f02,#f77009,#fc7e11,#fe891f,#ff932d,#ff9c3a,#ffa348,#ffaa56,#ffaf60,#ffb469,#ffb871,#ffbc78,#ffc07f,#ffc386,#fec68c,#fec992,#fecc97,#fece9b,#fed09f,#fed3a5,#fed6aa,#fed9af,#fedbb4,#ffdeb8,#ffe0bd,#ffe2c1,#ffe4c5,#ffe6c9,#ffe8cd,#ffe9cf,#ffead2,#ffebd4,#ffecd6,#ffedd8)"></i>
<i style="background:linear-gradient(90deg,#ffa953,#ffa246,#ff9a39,#ff922c,#fe891e,#fc7e11,#f77009,#f06102,#e24901,#d93b00,#d03100,#cd2e00,#d43400,#dd4200,#e95401,#f56b06,#fa790e,#fe8619,#fe8f28,#ff9836,#ffa143,#ffa851,#ffad5c,#ffb265,#ffb66e,#ffba75,#ffbe7d,#ffc283,#fec589,#fec88f,#fecb95,#fecd99,#fecf9d,#fed2a2,#fed5a7,#fed7ad,#fedab1,#ffdcb6,#ffdfbb,#ffe1bf,#ffe3c3,#ffe5c7,#ffe7cb,#ffe8ce,#ffe9d0,#ffead2,#ffebd5,#ffecd7)"></i>
<i style="background:linear-gradient(90deg,#ffaa56,#ffa449,#ff9c3b,#ff942f,#fe8b21,#fd8113,#f8740b,#f36503,#e44c01,#da3d00,#d03100,#ca2b00,#ce2f00,#d93b00,#e34b01,#f26503,#f8740b,#fe8214,#fe8c23,#ff9531,#ff9e3e,#ffa54c,#ffac59,#ffb062,#ffb56b,#ffb972,#ffbd7a,#ffc081,#ffc487,#fec78d,#feca93,#fecc97,#fecf9b,#fed19f,#fed4a5,#fed6aa,#fed9af,#fedbb4,#ffddb8,#ffe0bd,#ffe2c1,#ffe4c5,#ffe6c9,#ffe8cc,#ffe9cf,#ffead1,#ffebd3,#ffecd5)"></i>
<i style="background:linear-gradient(90deg,#ffac59,#ffa54c,#ff9e3e,#ff9632,#fe8d25,#fe8316,#f9770d,#f46905,#e65101,#dc3f00,#d13100,#c82900,#c92b00,#d53500,#df4401,#ec5b02,#f66e08,#fc7c11,#fe881d,#ff922c,#ff9b39,#ffa247,#ffa955,#ffaf5f,#ffb367,#ffb76f,#ffbb77,#ffbf7e,#ffc284,#fec68a,#fec990,#fecb96,#fece9a,#fed09d,#fed2a2,#fed5a8,#fed8ad,#fedab2,#ffdcb6,#ffdfba,#ffe1bf,#ffe3c3,#ffe5c6,#ffe7ca,#ffe8cd,#ffe9d0,#ffead2,#ffebd4)"></i>
<i style="background:linear-gradient(90deg,#ffad5c,#ffa74f,#ffa042,#ff9835,#fe8f28,#fe861a,#fb7a0f,#f56c07,#ea5701,#de4201,#d33300,#c72900,#c52700,#ce2f00,#db3e00,#e64f01,#f46905,#fa770e,#fe8418,#fe8f27,#ff9834,#ffa041,#ffa74f,#ffad5b,#ffb164,#ffb66c,#ffba74,#ffbd7b,#ffc182,#ffc488,#fec78e,#feca93,#fecd98,#fecf9c,#fed1a0,#fed4a5,#fed6aa,#fed9af,#fedbb4,#ffddb8,#ffe0bc,#ffe2c0,#ffe4c4,#ffe5c8,#ffe7cc,#ffe9ce,#ffead1,#ffebd3)"></i>
<i style="background:linear-gradient(90deg,#ffaf5f,#ffa853,#ffa245,#ff9a38,#ff912b,#fe881d,#fc7d11,#f66f09,#ee5d02,#e04601,#d53500,#c72900,#c12300,#c82900,#d63700,#e14801,#f16202,#f8720a,#fd8013,#fe8b21,#ff942f,#ff9d3c,#ffa44a,#ffab57,#ffb061,#ffb469,#ffb871,#ffbc78,#ffbf7f,#ffc385,#fec68b,#fec991,#fecc96,#fece9a,#fed09e,#fed2a3,#fed5a8,#fed8ad,#fedab1,#ffdcb6,#ffdeba,#ffe0be,#ffe2c2,#ffe4c6,#ffe6c9,#ffe8cd,#ffe9cf,#ffead1)"></i>
<i style="background:linear-gradient(90deg,#ffb061,#ffaa56,#ffa348,#ff9c3b,#ff942e,#fe8a21,#fd8013,#f8720b,#f26302,#e24901,#d83800,#c82a00,#be2100,#c12400,#cf3000,#dd4100,#ea5701,#f56d07,#fb7b10,#fe871c,#ff912a,#ff9a38,#ffa245,#ffa953,#ffae5d,#ffb266,#ffb66e,#ffba75,#ffbe7c,#ffc183,#fec589,#fec88e,#fecb94,#fecd98,#fecf9c,#fed1a0,#fed4a5,#fed6aa,#fed9af,#fedbb4,#ffddb8,#ffdfbc,#ffe1c0,#ffe3c4,#ffe5c7,#ffe7cb,#ffe8ce,#ffe9d0)"></i>
<i style="background:linear-gradient(90deg,#ffb163,#ffac59,#ffa54c,#ff9e3e,#ff9631,#fe8d24,#fe8315,#f9760d,#f36704,#e44d01,#da3b00,#ca2b00,#bd2000,#bc1f00,#c82a00,#d93a00,#e44c01,#f36704,#f9760d,#fe8316,#fe8e25,#ff9733,#ff9f3f,#ffa64e,#ffac5a,#ffb162,#ffb56b,#ffb972,#ffbc79,#ffc080,#ffc386,#fec68c,#fec991,#fecc96,#fece9a,#fed09e,#fed2a3,#fed5a8,#fed7ad,#fedab1,#ffdcb6,#ffdeba,#ffe0be,#ffe2c2,#ffe4c5,#ffe6c9,#ffe8cc,#ffe9cf)"></i>
<i style="background:linear-gradient(90deg,#ffb265,#ffad5c,#ffa74f,#ffa041,#ff9835,#fe8f27,#fe8519,#fa790f,#f56b06,#e85301,#dc3f00,#cd2e00,#bd2000,#b91c00,#c12300,#d23300,#df4501,#ef5e02,#f77009,#fd7e12,#fe8a20,#ff932e,#ff9c3b,#ffa348,#ffaa56,#ffaf5f,#ffb368,#ffb76f,#ffbb77,#ffbf7d,#ffc284,#fec589,#fec88f,#fecb94,#fecd98,#fecf9c,#fed1a0,#fed4a5,#fed6aa,#fed9af,#fedbb3,#ffddb8,#ffdfbc,#ffe1bf,#ffe3c3,#ffe5c7,#ffe6ca,#ffe8cd)"></i>
<i style="background:linear-gradient(90deg,#ffb367,#ffaf5f,#ffa852,#ffa145,#ff9a38,#ff912b,#fe881d,#fc7c10,#f66e08,#ec5a02,#de4301,#d03100,#be2100,#b61a00,#ba1d00,#ca2b00,#db3e00,#e85301,#f56b06,#fb790f,#fe861a,#fe9029,#ff9936,#ffa143,#ffa851,#ffad5c,#ffb164,#ffb66c,#ffb974,#ffbd7b,#ffc081,#ffc487,#fec78d,#feca92,#fecc97,#fece9a,#fed09e,#fed2a3,#fed5a8,#fed7ad,#fedab1,#fedcb5,#ffdeb9,#ffe0bd,#ffe2c1,#ffe4c5,#ffe5c8,#ffe7cb)"></i>
<i style="background:linear-gradient(90deg,#ffb469,#ffb061,#ffaa55,#ffa348,#ff9c3b,#ff932e,#fe8a20,#fd7f12,#f8720a,#f06102,#e14701,#d43500,#c12300,#b51900,#b51900,#c22400,#d63600,#e24a01,#f26503,#f8740c,#fe8214,#fe8c24,#ff9631,#ff9e3e,#ffa54c,#ffab58,#ffb061,#ffb469,#ffb871,#ffbc78,#ffbf7e,#ffc284,#fec58a,#fec890,#fecb95,#fecd99,#fecf9c,#fed1a0,#fed4a5,#fed6aa,#fed8af,#fedbb3,#ffddb7,#ffdfbb,#ffe1bf,#ffe3c2,#ffe4c6,#ffe6c9)"></i>
<i style="background:linear-gradient(90deg,#ffb56b,#ffb163,#ffab58,#ffa54b,#ff9e3d,#ff9631,#fe8d24,#fe8315,#f9750c,#f36603,#e34c01,#d83900,#c42600,#b51900,#b11600,#ba1d00,#ce2f00,#de4201,#ec5b02,#f66f09,#fc7d11,#fe891e,#ff922c,#ff9b39,#ffa246,#ffa954,#ffae5d,#ffb266,#ffb66e,#ffba75,#ffbe7c,#ffc182,#ffc488,#fec78d,#feca92,#fecc97,#fece9a,#fed09e,#fed2a3,#fed5a8,#fed7ac,#fedab1,#fedcb5,#ffdeb9,#ffe0bd,#ffe1c0,#ffe3c4,#ffe5c7)"></i>
<i style="background:linear-gradient(90deg,#ffb66c,#ffb265,#ffad5b,#ffa64f,#ff9f41,#ff9834,#fe8f27,#fe8519,#fa790e,#f56a06,#e75201,#db3d00,#c92a00,#b61a00,#ae1300,#b41800,#c52700,#d93b00,#e54f01,#f46905,#fa780e,#fe8518,#fe8f27,#ff9834,#ff9f41,#ffa64f,#ffac5a,#ffb163,#ffb56b,#ffb872,#ffbc79,#ffbf7f,#ffc385,#fec68b,#fec890,#fecb95,#fecd99,#fecf9c,#fed1a0,#fed4a5,#fed6aa,#fed8ae,#fedab2,#ffddb7,#ffdeba,#ffe0be,#ffe2c2,#ffe4c5)"></i>
<i style="background:linear-gradient(90deg,#ffb76e,#ffb367,#ffae5e,#ffa852,#ffa144,#ff9a38,#ff912b,#fe881d,#fc7c10,#f66e08,#ec5902,#de4200,#cd2e00,#b91c00,#ad1200,#ae1300,#bc1f00,#d23300,#e14701,#f16302,#f8730b,#fd8113,#fe8b22,#ff9430,#ff9d3c,#ffa449,#ffaa56,#ffaf5f,#ffb367,#ffb76f,#ffbb76,#ffbe7c,#ffc182,#ffc488,#fec78e,#feca93,#fecc97,#fece9b,#fed09e,#fed2a3,#fed5a7,#fed7ac,#fed9b0,#fedbb4,#ffddb8,#ffdfbc,#ffe1bf,#ffe3c3)"></i>
<i style="background:linear-gradient(90deg,#ffb770,#ffb469,#ffb061,#ffaa55,#ffa348,#ff9c3b,#ff932e,#fe8a20,#fd7f12,#f8720a,#f06102,#e04701,#d23300,#bc1f00,#ad1200,#aa0f00,#b51900,#ca2b00,#dc4000,#ea5701,#f66d08,#fb7b10,#fe881c,#ff912b,#ff9a37,#ffa144,#ffa851,#ffad5c,#ffb164,#ffb56c,#ffb973,#ffbd7a,#ffc080,#ffc386,#fec68b,#fec990,#fecb95,#fecd99,#fecf9c,#fed1a0,#fed4a5,#fed6a9,#fed8ae,#fedab2,#ffdcb6,#ffdeba,#ffe0bd,#ffe2c1)"></i>
<i style="background:linear-gradient(90deg,#ffb872,#ffb56b,#ffb163,#ffab58,#ffa54b,#ff9e3e,#ff9631,#fe8d24,#fe8315,#f9750c,#f36603,#e34b01,#d73800,#c12300,#af1300,#a50d00,#ae1300,#c02300,#d73800,#e44c01,#f36704,#f9760d,#fe8417,#fe8e25,#ff9633,#ff9e3f,#ffa54c,#ffab58,#ffb061,#ffb469,#ffb770,#ffbb77,#ffbe7d,#ffc283,#fec589,#fec78e,#feca93,#fecc97,#fece9b,#fed09e,#fed2a2,#fed5a7,#fed7ab,#fed9b0,#fedbb4,#ffddb7,#ffdfbb,#ffe1bf)"></i>
<i style="background:linear-gradient(90deg,#ffb973,#ffb66c,#ffb265,#ffad5b,#ffa74f,#ffa041,#ff9835,#fe8f28,#fe8519,#fa790f,#f56b06,#e75201,#da3d00,#c62800,#b21600,#a30d00,#a70e00,#b81b00,#cf3000,#df4501,#ef5f02,#f7710a,#fd7f12,#fe8a20,#ff932e,#ff9b3a,#ffa347,#ffa954,#ffae5d,#ffb265,#ffb66d,#ffba74,#ffbd7a,#ffc080,#ffc386,#fec68b,#fec991,#fecb95,#fecd99,#fecf9c,#fed1a0,#fed3a5,#fed6a9,#fed8ad,#fedab1,#fedcb5,#ffdeb9,#ffe0bc)"></i>
<i style="background:linear-gradient(90deg,#ffba75,#ffb66e,#ffb367,#ffae5e,#ffa852,#ffa145,#ff9a38,#ff912b,#fe881d,#fc7c11,#f66f08,#ec5a02,#de4200,#cc2d00,#b51900,#a30d00,#a00c00,#b01400,#c62800,#db3d00,#e85401,#f56c07,#fb7a0f,#fe861b,#fe9029,#ff9835,#ffa042,#ffa74f,#ffac5a,#ffb062,#ffb46a,#ffb871,#ffbb78,#ffbf7e,#ffc284,#fec589,#fec88e,#feca93,#fecc97,#fece9a,#fed09e,#fed2a2,#fed4a7,#fed7ab,#fed9af,#fedbb3,#ffddb7,#ffdeba)"></i>
<i style="background:linear-gradient(90deg,#ffbb76,#ffb770,#ffb469,#ffb061,#ffaa55,#ffa348,#ff9c3b,#ff942f,#fe8b21,#fd8013,#f8720b,#f16202,#e14701,#d23300,#ba1d00,#a60e00,#9a0a00,#a80e00,#bc1f00,#d53500,#e24a01,#f36603,#f9750c,#fe8215,#fe8c24,#ff9531,#ff9d3d,#ffa44a,#ffaa56,#ffaf5f,#ffb367,#ffb66e,#ffba75,#ffbd7b,#ffc081,#ffc386,#fec68c,#fec991,#fecb95,#fecd99,#fecf9c,#fed1a0,#fed3a4,#fed5a8,#fed7ad,#fed9b1,#fedbb4,#ffddb8)"></i>
<i style="background:linear-gradient(90deg,#ffbc78,#ffb871,#ffb56b,#ffb163,#ffab58,#ffa54c,#ff9e3e,#ff9632,#fe8d25,#fe8316,#f9760d,#f36704,#e44c01,#d83800,#c02200,#ab1000,#980900,#9e0b00,#b41800,#cc2d00,#de4301,#ed5c02,#f77009,#fc7d11,#fe891e,#ff922c,#ff9a38,#ffa145,#ffa851,#ffad5b,#ffb163,#ffb56b,#ffb872,#ffbc78,#ffbf7e,#ffc284,#fec589,#fec88e,#feca93,#fecc97,#fece9a,#fed09d,#fed2a2,#fed4a6,#fed6aa,#fed8ae,#fedab2,#ffdcb6)"></i>
<i style="background:linear-gradient(90deg,#ffbc79,#ffb973,#ffb66c,#ffb265,#ffad5b,#ffa74f,#ffa042,#ff9835,#fe9028,#fe861a,#fb7a0f,#f56b06,#e85401,#db3e00,#c62800,#af1400,#990900,#960800,#ac1000,#c22400,#d93b00,#e65001,#f46a06,#fa780e,#fe8519,#fe8f27,#ff9733,#ff9f3f,#ffa54c,#ffab58,#ffaf60,#ffb368,#ffb76f,#ffba76,#ffbe7c,#ffc181,#ffc487,#fec68c,#fec991,#fecb95,#fecd99,#fecf9c,#fed19f,#fed3a4,#fed5a8,#fed7ac,#fed9b0,#fedbb3)"></i>
<i style="background:linear-gradient(90deg,#ffbd7b,#ffba75,#ffb66e,#ffb367,#ffaf5f,#ffa852,#ffa245,#ff9a38,#ff922c,#fe891e,#fc7d11,#f77009,#ed5c02,#de4301,#cd2e00,#b51900,#9d0b00,#900600,#a10c00,#b91c00,#d23300,#e14801,#f26402,#f8730b,#fe8113,#fe8b22,#ff942f,#ff9c3b,#ffa347,#ffa953,#ffae5d,#ffb265,#ffb56c,#ffb973,#ffbc79,#ffbf7f,#ffc284,#fec589,#fec88e,#feca93,#fecc97,#fece9a,#fed09d,#fed2a1,#fed4a5,#fed6a9,#fed8ad,#fedab1)"></i>
<i style="background:linear-gradient(90deg,#ffbe7c,#ffbb76,#ffb770,#ffb469,#ffb061,#ffaa56,#ffa449,#ff9c3c,#ff942f,#fe8b22,#fe8113,#f8740b,#f26402,#e24901,#d43400,#ba1e00,#a30d00,#8d0500,#960800,#b11500,#c92b00,#dd4100,#eb5902,#f66e08,#fb7c10,#fe871c,#ff912a,#ff9936,#ffa042,#ffa64f,#ffac59,#ffb061,#ffb469,#ffb770,#ffbb76,#ffbe7c,#ffc182,#ffc487,#fec68c,#fec991,#fecb95,#fecd98,#fecf9b,#fed09f,#fed3a3,#fed5a7,#fed7ab,#fed9af)"></i>
<i style="background:linear-gradient(90deg,#ffbf7d,#ffbb78,#ffb871,#ffb56b,#ffb163,#ffac59,#ffa54c,#ff9e3f,#ff9733,#fe8e26,#fe8417,#fa770e,#f46905,#e54e01,#d93a00,#c22400,#aa0f00,#8f0600,#8d0500,#a70e00,#bf2200,#d83900,#e44d01,#f46805,#fa770d,#fe8416,#fe8d25,#ff9631,#ff9d3d,#ffa44a,#ffaa55,#ffae5e,#ffb266,#ffb66d,#ffb973,#ffbc79,#ffbf7f,#ffc284,#fec589,#fec88e,#feca93,#fecc97,#fece9a,#fecf9d,#fed1a0,#fed3a5,#fed5a9,#fed7ac)"></i>
<i style="background:linear-gradient(90deg,#ffbf7f,#ffbc79,#ffb973,#ffb66c,#ffb265,#ffad5c,#ffa750,#ffa042,#ff9936,#ff9029,#fe871b,#fb7b10,#f66d07,#ea5701,#dc4000,#c92b00,#b01500,#940800,#860300,#9b0a00,#b61a00,#d03100,#e04601,#f06102,#f7720a,#fd7f12,#fe8a1f,#ff922d,#ff9a38,#ffa144,#ffa751,#ffad5b,#ffb162,#ffb46a,#ffb870,#ffbb77,#ffbe7c,#ffc182,#ffc487,#fec68c,#fec990,#fecb95,#fecd98,#fece9b,#fed09e,#fed2a2,#fed4a6,#fed6aa)"></i>
<i style="background:linear-gradient(90deg,#ffc080,#ffbd7b,#ffba75,#ffb76e,#ffb367,#ffaf5f,#ffa953,#ffa246,#ff9b39,#ff932d,#fe8a20,#fd7f12,#f7710a,#f06002,#e04601,#d03100,#b71a00,#9c0a00,#840200,#900600,#ae1200,#c72800,#dc3f00,#e95601,#f56c07,#fb7a0f,#fe861a,#fe8f28,#ff9734,#ff9f3f,#ffa54c,#ffab57,#ffaf5f,#ffb367,#ffb66d,#ffb974,#ffbd7a,#ffc07f,#ffc284,#fec589,#fec78e,#feca92,#fecc96,#fece99,#fecf9c,#fed1a0,#fed3a4,#fed5a8)"></i>
<i style="background:linear-gradient(90deg,#ffc181,#ffbe7c,#ffbb76,#ffb770,#ffb469,#ffb062,#ffaa56,#ffa44a,#ff9d3c,#ff9531,#fe8c23,#fe8315,#f9750c,#f36603,#e34b01,#d73700,#be2000,#a50d00,#870300,#860300,#a30d00,#bd2000,#d73700,#e34b01,#f36704,#f9750c,#fe8214,#fe8c23,#ff942f,#ff9c3b,#ffa247,#ffa852,#ffad5c,#ffb163,#ffb56a,#ffb871,#ffbb77,#ffbe7d,#ffc182,#ffc487,#fec68c,#fec990,#fecb94,#fecd98,#fece9b,#fed09d,#fed2a1,#fed4a5)"></i>
<i style="background:linear-gradient(90deg,#ffc182,#ffbf7d,#ffbc78,#ffb872,#ffb56b,#ffb164,#ffac5a,#ffa64d,#ff9f40,#ff9734,#fe8f27,#fe8519,#fa790f,#f56b06,#e85301,#db3d00,#c62800,#ad1200,#8e0600,#800100,#980900,#b51800,#ce2f00,#df4401,#ee5e02,#f77009,#fc7d11,#fe881d,#ff912a,#ff9936,#ffa041,#ffa64e,#ffab58,#ffaf60,#ffb367,#ffb66e,#ffba74,#ffbd7a,#ffc07f,#ffc284,#fec589,#fec78e,#feca92,#fecc96,#fecd99,#fecf9c,#fed09f,#fed2a3)"></i>
<i style="background:linear-gradient(90deg,#ffc284,#ffbf7f,#ffbc79,#ffb973,#ffb66d,#ffb266,#ffae5d,#ffa851,#ffa144,#ff9a37,#ff912b,#fe881d,#fc7d11,#f76f09,#ed5c02,#de4301,#cd2f00,#b41800,#980900,#7f0100,#8c0500,#ac1100,#c52700,#db3d00,#e85301,#f56b06,#fa780e,#fe8518,#fe8e25,#ff9632,#ff9d3c,#ffa349,#ffa954,#ffae5d,#ffb164,#ffb56b,#ffb871,#ffbb77,#ffbe7d,#ffc182,#ffc487,#fec68b,#fec890,#fecb94,#fecc97,#fece9a,#fecf9d,#fed1a0)"></i>
<i style="background:linear-gradient(90deg,#ffc385,#ffc080,#ffbd7b,#ffba75,#ffb76f,#ffb368,#ffaf60,#ffa954,#ffa347,#ff9c3b,#ff942f,#fe8b21,#fe8113,#f8740b,#f26502,#e24901,#d53500,#bb1e00,#a20c00,#830200,#830200,#a10c00,#bb1e00,#d53500,#e24a01,#f26503,#f8730b,#fd8013,#fe8a20,#ff932d,#ff9a38,#ffa144,#ffa74f,#ffac59,#ffb061,#ffb368,#ffb76e,#ffba74,#ffbd7a,#ffc07f,#ffc284,#fec589,#fec78d,#fec992,#fecc96,#fecd99,#fecf9b,#fed09e)"></i>
<i style="background:linear-gradient(90deg,#ffc386,#ffc181,#ffbe7c,#ffbb76,#ffb870,#ffb46a,#ffb062,#ffab57,#ffa54b,#ff9e3e,#ff9632,#fe8e25,#fe8417,#fa780e,#f46905,#e65001,#da3c00,#c42600,#ac1000,#8c0500,#7e0000,#960800,#b31700,#cc2e00,#de4301,#ed5b02,#f66e08,#fb7b10,#fe871b,#fe8f28,#ff9734,#ff9e3e,#ffa44a,#ffaa56,#ffae5e,#ffb265,#ffb56b,#ffb872,#ffbb77,#ffbe7d,#ffc182,#ffc387,#fec68b,#fec88f,#feca93,#fecc97,#fece9a,#fecf9c)"></i>
<i style="background:linear-gradient(90deg,#ffc487,#ffc183,#ffbf7d,#ffbc78,#ffb872,#ffb56b,#ffb164,#ffad5b,#ffa64f,#ffa041,#ff9835,#ff9029,#fe871b,#fb7b10,#f66e08,#ec5902,#de4200,#cc2d00,#b31700,#970900,#7e0000,#8c0500,#ab1000,#c32600,#da3b00,#e65001,#f46905,#f9770d,#fe8315,#fe8c23,#ff942f,#ff9b3a,#ffa245,#ffa851,#ffac5a,#ffb062,#ffb468,#ffb76f,#ffba75,#ffbd7a,#ffc07f,#ffc284,#fec589,#fec78d,#fec991,#fecb95,#fecd98,#fece9b)"></i>
<i style="background:linear-gradient(90deg,#ffc488,#ffc284,#ffbf7f,#ffbc79,#ffb974,#ffb66d,#ffb366,#ffae5e,#ffa852,#ffa245,#ff9b39,#ff932d,#fe8a20,#fd7f12,#f8720a,#f16302,#e14801,#d33400,#bb1e00,#a20c00,#840200,#840200,#a10c00,#ba1e00,#d43400,#e14801,#f16302,#f7720a,#fc7e12,#fe891e,#ff912a,#ff9836,#ff9f40,#ffa54c,#ffab57,#ffae5e,#ffb265,#ffb56c,#ffb872,#ffbb77,#ffbe7d,#ffc182,#ffc386,#fec68b,#fec88f,#feca93,#fecc96,#fecd99)"></i>
<i style="background:linear-gradient(90deg,#fec58a,#ffc385,#ffc080,#ffbd7b,#ffba75,#ffb76f,#ffb368,#ffb061,#ffaa55,#ffa449,#ff9d3c,#ff9530,#fe8c24,#fe8316,#f9760d,#f46804,#e54e01,#d93b00,#c32500,#ac1100,#8e0600,#810100,#970900,#b31700,#cb2d00,#dd4100,#eb5801,#f56d07,#fb7a0f,#fe8519,#fe8e26,#ff9531,#ff9c3c,#ffa347,#ffa852,#ffad5b,#ffb062,#ffb469,#ffb76f,#ffba75,#ffbd7a,#ffbf7f,#ffc284,#ffc488,#fec78c,#fec990,#fecb94,#fecc97)"></i>
<i style="background:linear-gradient(90deg,#fec68b,#ffc386,#ffc181,#ffbe7c,#ffbb77,#ffb871,#ffb46a,#ffb163,#ffac59,#ffa54d,#ff9f3f,#ff9734,#fe8f28,#fe861a,#fb7a0f,#f56d07,#eb5801,#dd4100,#cc2d00,#b41800,#990900,#830200,#8f0600,#ac1000,#c32500,#d93a00,#e44d01,#f36704,#f9750c,#fe8114,#fe8a21,#ff922d,#ff9a37,#ffa042,#ffa64d,#ffab58,#ffaf5f,#ffb266,#ffb56c,#ffb872,#ffbb77,#ffbe7c,#ffc181,#ffc386,#fec58a,#fec88e,#feca92,#fecc96)"></i>
<i style="background:linear-gradient(90deg,#fec68c,#ffc487,#ffc183,#ffbf7e,#ffbc78,#ffb972,#ffb56c,#ffb265,#ffad5c,#ffa750,#ffa143,#ff9a37,#ff922b,#fe891e,#fc7e12,#f7710a,#f06102,#e14701,#d33400,#bb1e00,#a40d00,#8a0400,#890400,#a30d00,#ba1e00,#d33300,#e04701,#ef6002,#f77009,#fc7c11,#fe871b,#fe8f28,#ff9733,#ff9d3d,#ffa349,#ffa953,#ffad5c,#ffb163,#ffb469,#ffb76f,#ffba75,#ffbd7a,#ffbf7f,#ffc283,#ffc488,#fec68c,#fec890,#feca94)"></i>
<i style="background:linear-gradient(90deg,#fec78d,#ffc488,#ffc284,#ffbf7f,#ffbd7a,#ffba74,#ffb66e,#ffb367,#ffaf5f,#ffa953,#ffa347,#ff9c3b,#ff942f,#fe8c22,#fe8214,#f9750c,#f36704,#e44d01,#d93b00,#c42600,#ae1200,#940800,#880400,#9b0a00,#b41800,#cb2c00,#dc4000,#e95501,#f56b06,#fa780e,#fe8316,#fe8c23,#ff942f,#ff9b39,#ffa144,#ffa74f,#ffab58,#ffaf5f,#ffb266,#ffb56c,#ffb872,#ffbb77,#ffbe7c,#ffc081,#ffc385,#fec58a,#fec78d,#fec991)"></i>
<i style="background:linear-gradient(90deg,#fec78e,#fec58a,#ffc385,#ffc080,#ffbd7b,#ffba76,#ffb76f,#ffb469,#ffb062,#ffab57,#ffa54b,#ff9e3e,#ff9633,#fe8e26,#fe8519,#fb790f,#f56c07,#ea5701,#dd4100,#cc2e00,#b61900,#9e0b00,#8c0500,#940800,#ad1200,#c32500,#d83900,#e44c01,#f36603,#f8730b,#fd7f12,#fe891e,#ff912a,#ff9835,#ff9e3f,#ffa44a,#ffa954,#ffad5c,#ffb163,#ffb469,#ffb76f,#ffba74,#ffbd7a,#ffbf7e,#ffc183,#ffc487,#fec68b,#fec88f)"></i>
<i style="background:linear-gradient(90deg,#fec88f,#fec68b,#ffc386,#ffc182,#ffbe7c,#ffbb77,#ffb871,#ffb56b,#ffb164,#ffac5a,#ffa64e,#ffa042,#ff9936,#ff912a,#fe881d,#fc7d11,#f7710a,#f06002,#e14701,#d43400,#bd2000,#a90f00,#930700,#910700,#a60e00,#bb1e00,#d23300,#e04601,#ee5d02,#f66e08,#fb7a0f,#fe8519,#fe8d25,#ff9530,#ff9c3a,#ffa245,#ffa750,#ffac59,#ffaf60,#ffb266,#ffb56c,#ffb872,#ffbb77,#ffbe7c,#ffc080,#ffc285,#fec589,#fec78d)"></i>
<i style="background:linear-gradient(90deg,#fec890,#fec68c,#ffc487,#ffc183,#ffbf7e,#ffbc79,#ffb973,#ffb66d,#ffb266,#ffae5d,#ffa852,#ffa246,#ff9b39,#ff932e,#fe8b21,#fe8114,#f9750c,#f36704,#e44d01,#da3b00,#c62800,#b11500,#9c0a00,#920700,#a00c00,#b51900,#cb2c00,#dc3f00,#e85301,#f46905,#f9760d,#fe8214,#fe8a20,#ff922c,#ff9936,#ff9f40,#ffa54b,#ffaa55,#ffae5d,#ffb163,#ffb469,#ffb76f,#ffba74,#ffbc79,#ffbf7e,#ffc182,#ffc386,#fec58a)"></i>
<i style="background:linear-gradient(90deg,#fec991,#fec78d,#fec589,#ffc284,#ffc07f,#ffbd7a,#ffba74,#ffb76e,#ffb368,#ffb060,#ffaa55,#ffa449,#ff9d3d,#ff9632,#fe8e25,#fe8518,#fa790f,#f56c07,#ea5701,#de4200,#ce2f00,#b91c00,#a50d00,#960800,#9c0a00,#af1400,#c32500,#d83900,#e34b01,#f26402,#f7710a,#fc7d11,#fe871b,#fe8f27,#ff9632,#ff9c3c,#ffa246,#ffa751,#ffac59,#ffaf60,#ffb266,#ffb56c,#ffb871,#ffbb77,#ffbd7b,#ffc080,#ffc284,#ffc488)"></i>
<i style="background:linear-gradient(90deg,#fec992,#fec78e,#fec58a,#ffc385,#ffc081,#ffbe7b,#ffbb76,#ffb870,#ffb46a,#ffb163,#ffac59,#ffa64d,#ff9f40,#ff9835,#ff9029,#fe881c,#fc7d11,#f77009,#f06102,#e14801,#d63600,#c12300,#ae1300,#9d0b00,#9b0a00,#ab1000,#bc1f00,#d23200,#df4501,#ec5a02,#f56c07,#fa780e,#fe8316,#fe8c22,#ff932d,#ff9a37,#ffa041,#ffa54c,#ffaa56,#ffae5d,#ffb163,#ffb469,#ffb76f,#ffb974,#ffbc79,#ffbe7d,#ffc182,#ffc386)"></i>
<i style="background:linear-gradient(90deg,#feca93,#fec88f,#fec68b,#ffc386,#ffc182,#ffbe7d,#ffbb78,#ffb872,#ffb56c,#ffb265,#ffad5c,#ffa750,#ffa144,#ff9a38,#ff932d,#fe8a21,#fe8113,#f9750c,#f36704,#e54f01,#db3d00,#c92b00,#b51900,#a50d00,#9c0a00,#a60e00,#b71b00,#cb2c00,#dc3f00,#e65101,#f36804,#f8740c,#fd7f12,#fe881e,#fe9029,#ff9733,#ff9d3d,#ffa347,#ffa851,#ffac5a,#ffaf60,#ffb266,#ffb56c,#ffb871,#ffbb76,#ffbd7b,#ffbf7f,#ffc283)"></i>
<i style="background:linear-gradient(90deg,#feca94,#fec890,#fec68c,#ffc488,#ffc283,#ffbf7e,#ffbc79,#ffb973,#ffb66d,#ffb367,#ffaf5f,#ffa954,#ffa348,#ff9d3c,#ff9531,#fe8d25,#fe8418,#fa790f,#f56c07,#eb5901,#df4401,#d13200,#bd1f00,#ad1200,#a10c00,#a40d00,#b31700,#c52700,#d83800,#e24a01,#f06102,#f76f09,#fb7b10,#fe8519,#fe8d24,#ff942f,#ff9a39,#ffa042,#ffa54d,#ffaa56,#ffae5d,#ffb163,#ffb469,#ffb76e,#ffb973,#ffbc78,#ffbe7d,#ffc081)"></i>
<i style="background:linear-gradient(90deg,#fecb95,#fec991,#fec78d,#fec589,#ffc284,#ffc080,#ffbd7a,#ffba75,#ffb76f,#ffb469,#ffb062,#ffab57,#ffa54c,#ff9f3f,#ff9834,#fe9029,#fe871c,#fc7d11,#f7710a,#f16202,#e24a01,#d83900,#c52700,#b41800,#a70e00,#a40d00,#af1400,#be2100,#d23300,#df4401,#eb5801,#f56b06,#f9770d,#fe8214,#fe8a20,#ff912b,#ff9834,#ff9e3d,#ffa348,#ffa852,#ffac5a,#ffaf60,#ffb266,#ffb56b,#ffb871,#ffba75,#ffbd7a,#ffbf7e)"></i>
<i style="background:linear-gradient(90deg,#fecb95,#fec992,#fec78e,#fec58a,#ffc385,#ffc081,#ffbe7c,#ffbb77,#ffb871,#ffb56b,#ffb164,#ffad5b,#ffa74f,#ffa143,#ff9a38,#ff922d,#fe8a20,#fe8113,#f9750c,#f46804,#e75101,#dc3f00,#cd2e00,#ba1e00,#ad1200,#a70e00,#ad1200,#ba1d00,#cc2d00,#db3e00,#e54f01,#f36603,#f8720b,#fc7d11,#fe871b,#fe8e26,#ff9530,#ff9b3a,#ffa143,#ffa64d,#ffaa56,#ffae5d,#ffb163,#ffb469,#ffb66e,#ffb973,#ffbb77,#ffbe7c)"></i>
<i style="background:linear-gradient(90deg,#fecc96,#feca93,#fec88f,#fec68b,#ffc487,#ffc182,#ffbf7d,#ffbc78,#ffb973,#ffb66d,#ffb266,#ffae5e,#ffa953,#ffa347,#ff9c3b,#ff9530,#fe8d24,#fe8418,#fb790f,#f66d07,#ed5b02,#e04601,#d53500,#c32500,#b41800,#ab1000,#ac1100,#b61a00,#c72800,#d83900,#e24901,#ef5f02,#f66e08,#fa790f,#fe8316,#fe8b21,#ff922c,#ff9835,#ff9e3e,#ffa348,#ffa852,#ffac5a,#ffaf60,#ffb266,#ffb56b,#ffb770,#ffba75,#ffbc79)"></i>
<i style="background:linear-gradient(90deg,#fecc97,#feca94,#fec890,#fec68c,#ffc488,#ffc283,#ffbf7f,#ffbd7a,#ffba74,#ffb76e,#ffb368,#ffb061,#ffaa56,#ffa54b,#ff9e3f,#ff9734,#fe9028,#fe871c,#fc7d11,#f7710a,#f26402,#e34c01,#da3c00,#cb2c00,#ba1d00,#b01400,#ad1200,#b41800,#c22400,#d33400,#df4401,#ea5601,#f46905,#f9750c,#fd7f12,#fe881d,#fe8f28,#ff9631,#ff9c3a,#ffa144,#ffa64d,#ffaa56,#ffae5d,#ffb163,#ffb368,#ffb66d,#ffb972,#ffbb77)"></i>
<i style="background:linear-gradient(90deg,#fecd98,#fecb95,#fec991,#fec78d,#fec589,#ffc285,#ffc080,#ffbd7b,#ffba76,#ffb870,#ffb46a,#ffb163,#ffac5a,#ffa64e,#ffa043,#ff9a37,#ff922c,#fe8a20,#fe8114,#f9760d,#f46905,#e95501,#de4301,#d23300,#c12400,#b51900,#b01400,#b31700,#bd2000,#ce2f00,#db3e00,#e44d01,#f26502,#f77009,#fb7b10,#fe8518,#fe8c23,#ff932d,#ff9936,#ff9f3f,#ffa449,#ffa852,#ffac5a,#ffaf60,#ffb265,#ffb56a,#ffb76f,#ffba74)"></i>
<i style="background:linear-gradient(90deg,#fecd99,#fecb95,#feca92,#fec88e,#fec58a,#ffc386,#ffc181,#ffbe7c,#ffbb77,#ffb872,#ffb56c,#ffb265,#ffae5d,#ffa852,#ffa246,#ff9c3b,#ff9530,#fe8d25,#fe8518,#fb7a0f,#f66e08,#ef5e02,#e24901,#d83900,#c92b00,#ba1e00,#b31700,#b31700,#bb1e00,#c92b00,#d83900,#e14801,#ee5d02,#f56c07,#fa770d,#fe8114,#fe891e,#fe9029,#ff9632,#ff9c3b,#ffa144,#ffa64e,#ffaa56,#ffae5d,#ffb062,#ffb368,#ffb66d,#ffb871)"></i>
<i style="background:linear-gradient(90deg,#fece9a,#fecc96,#feca93,#fec88f,#fec68b,#ffc487,#ffc183,#ffbf7e,#ffbc79,#ffb973,#ffb66e,#ffb367,#ffaf60,#ffaa55,#ffa44a,#ff9e3e,#ff9734,#fe9029,#fe881c,#fc7e12,#f8730b,#f36603,#e54f01,#dc4000,#d03100,#c12400,#b71b00,#b51800,#b91d00,#c52700,#d53500,#de4301,#e95401,#f36804,#f8730b,#fc7d11,#fe861a,#fe8d24,#ff932e,#ff9937,#ff9f40,#ffa449,#ffa852,#ffac59,#ffaf5f,#ffb265,#ffb46a,#ffb76f)"></i>
<i style="background:linear-gradient(90deg,#fece9a,#fecc97,#fecb94,#fec990,#fec78c,#ffc488,#ffc284,#ffc07f,#ffbd7a,#ffba75,#ffb76f,#ffb469,#ffb163,#ffac59,#ffa64e,#ffa042,#ff9937,#ff922c,#fe8b21,#fe8214,#fa770d,#f56b06,#eb5902,#e04601,#d73700,#c92a00,#bc1f00,#b71b00,#b91c00,#c22500,#d03100,#dc3f00,#e44d01,#f16302,#f66f08,#fa790f,#fe8315,#fe8a20,#ff912a,#ff9733,#ff9c3b,#ffa145,#ffa64e,#ffaa56,#ffad5c,#ffb062,#ffb367,#ffb56c)"></i>
<i style="background:linear-gradient(90deg,#fecf9b,#fecd98,#fecb95,#fec991,#fec78d,#fec589,#ffc385,#ffc081,#ffbe7c,#ffbb77,#ffb871,#ffb56b,#ffb265,#ffad5c,#ffa851,#ffa246,#ff9c3b,#ff9530,#fe8d25,#fe8519,#fb7b10,#f77009,#f16302,#e44c01,#db3e00,#d03000,#c32500,#ba1e00,#ba1d00,#c02300,#cd2e00,#d93a00,#e14801,#ed5b02,#f56b06,#f9750c,#fd7f12,#fe871c,#fe8e26,#ff942f,#ff9a38,#ff9f40,#ffa449,#ffa852,#ffac59,#ffaf5f,#ffb164,#ffb469)"></i>
<i style="background:linear-gradient(90deg,#fecf9c,#fecd99,#fecb96,#feca92,#fec88e,#fec68a,#ffc386,#ffc182,#ffbe7d,#ffbc78,#ffb973,#ffb66d,#ffb367,#ffaf5f,#ffaa55,#ffa44a,#ff9e3e,#ff9734,#fe9029,#fe881d,#fd7f12,#f8740c,#f46805,#e95501,#df4401,#d63600,#c92b00,#bf2200,#bc1f00,#c02200,#ca2b00,#d63700,#df4401,#e85301,#f36603,#f7710a,#fb7b10,#fe8417,#fe8b21,#ff912b,#ff9734,#ff9c3c,#ffa145,#ffa64d,#ffaa56,#ffad5c,#ffb061,#ffb266)"></i>
<i style="background:linear-gradient(90deg,#fecf9d,#fece9a,#fecc96,#feca93,#fec88f,#fec68c,#ffc487,#ffc283,#ffbf7f,#ffbd7a,#ffba74,#ffb76f,#ffb469,#ffb062,#ffab58,#ffa64d,#ffa042,#ff9a37,#ff932d,#fe8b22,#fe8315,#fa780e,#f66d07,#ef5e02,#e24a01,#da3d00,#d03100,#c52700,#bf2200,#c02300,#c82900,#d33300,#dc4000,#e44c01,#f06102,#f66d08,#fa770d,#fd8113,#fe881d,#fe8e27,#ff9430,#ff9a38,#ff9f40,#ffa449,#ffa851,#ffac59,#ffae5e,#ffb163)"></i>
<i style="background:linear-gradient(90deg,#fed09e,#fece9b,#fecc97,#fecb94,#fec990,#fec78d,#fec589,#ffc284,#ffc080,#ffbd7b,#ffbb76,#ffb871,#ffb56b,#ffb264,#ffad5c,#ffa851,#ffa246,#ff9c3b,#ff9531,#fe8e26,#fe861a,#fc7c11,#f7720a,#f36603,#e75101,#de4301,#d63600,#cb2c00,#c32600,#c22400,#c72800,#d03100,#da3c00,#e14801,#ec5a02,#f46905,#f8730b,#fc7d11,#fe8519,#fe8c23,#ff922c,#ff9734,#ff9d3c,#ffa145,#ffa64d,#ffaa55,#ffad5b,#ffb060)"></i>
<i style="background:linear-gradient(90deg,#fed09f,#fecf9b,#fecd98,#fecb95,#fec991,#fec78e,#fec58a,#ffc386,#ffc181,#ffbe7c,#ffbb78,#ffb972,#ffb66c,#ffb366,#ffaf5f,#ffa955,#ffa44a,#ff9e3e,#ff9734,#ff902a,#fe891e,#fd8013,#f9760d,#f56b06,#ed5b02,#e24901,#da3c00,#d13200,#c82a00,#c42600,#c72900,#ce2f00,#d83900,#df4501,#e85301,#f36503,#f77009,#fa790f,#fe8214,#fe891e,#fe8f28,#ff9530,#ff9a38,#ff9f40,#ffa349,#ffa851,#ffab58,#ffae5d)"></i>
<i style="background:linear-gradient(90deg,#fed1a0,#fecf9c,#fecd99,#fecc96,#feca92,#fec88f,#fec68b,#ffc487,#ffc182,#ffbf7e,#ffbc79,#ffb974,#ffb76e,#ffb468,#ffb062,#ffab58,#ffa64d,#ffa042,#ff9a38,#ff932e,#fe8c23,#fe8417,#fb7a0f,#f76f09,#f26402,#e54f01,#de4201,#d73700,#ce2f00,#c82a00,#c82a00,#cd2e00,#d63600,#dd4100,#e44d01,#ef6002,#f56c07,#f9750c,#fc7e12,#fe861a,#fe8c24,#ff922c,#ff9834,#ff9d3c,#ffa144,#ffa54d,#ffa954,#ffad5a)"></i>
<i style="background:linear-gradient(90deg,#fed1a1,#fecf9d,#fece9a,#fecc97,#feca93,#fec890,#fec68c,#ffc488,#ffc284,#ffc07f,#ffbd7a,#ffba75,#ffb770,#ffb56a,#ffb164,#ffad5b,#ffa851,#ffa246,#ff9c3b,#ff9531,#fe8e27,#fe871b,#fc7e12,#f8740b,#f46905,#eb5801,#e14801,#db3d00,#d33300,#cc2d00,#ca2b00,#cd2e00,#d43500,#db3e00,#e24901,#eb5902,#f46804,#f7720a,#fb7b10,#fe8316,#fe8a1f,#fe9028,#ff9531,#ff9a38,#ff9f40,#ffa348,#ffa750,#ffab57)"></i>
<i style="background:linear-gradient(90deg,#fed2a2,#fed09e,#fece9b,#fecd97,#fecb94,#fec991,#fec78d,#fec589,#ffc385,#ffc081,#ffbe7c,#ffbb77,#ffb872,#ffb56c,#ffb266,#ffaf5e,#ffa954,#ffa44a,#ff9e3e,#ff9835,#ff912b,#fe8a20,#fe8214,#fa780e,#f66e08,#f16202,#e44d01,#de4301,#d83800,#d13100,#cd2e00,#ce2f00,#d33400,#da3c00,#e04601,#e85301,#f26502,#f66e08,#fa770d,#fd8013,#fe871b,#fe8d24,#ff932d,#ff9835,#ff9d3c,#ffa144,#ffa54c,#ffa954)"></i>
<i style="background:linear-gradient(90deg,#fed2a2,#fed09f,#fecf9b,#fecd98,#fecb95,#fec992,#fec78e,#fec58a,#ffc386,#ffc182,#ffbf7d,#ffbc79,#ffb973,#ffb66e,#ffb368,#ffb062,#ffab58,#ffa64e,#ffa043,#ff9a38,#ff942e,#fe8d24,#fe8519,#fc7c10,#f8720a,#f36804,#ea5701,#e14801,#db3e00,#d63600,#d03100,#cf3000,#d33300,#d93a00,#de4301,#e44d01,#ef5f02,#f56b06,#f8740b,#fc7c10,#fe8417,#fe8a20,#fe9029,#ff9531,#ff9a38,#ff9f40,#ffa348,#ffa74f)"></i>
<i style="background:linear-gradient(90deg,#fed2a3,#fed1a0,#fecf9c,#fecd99,#fecc96,#feca93,#fec88f,#fec68b,#ffc487,#ffc283,#ffbf7f,#ffbd7a,#ffba75,#ffb770,#ffb46a,#ffb164,#ffad5b,#ffa851,#ffa246,#ff9c3c,#ff9632,#fe8f28,#fe881d,#fd8013,#f9760d,#f56c07,#f06002,#e44d01,#de4301,#d93b00,#d43500,#d23200,#d33400,#d83900,#dd4100,#e24a01,#eb5902,#f36704,#f77009,#fa790e,#fe8113,#fe881c,#fe8d25,#ff932d,#ff9835,#ff9d3c,#ffa143,#ffa54b)"></i>
<i style="background:linear-gradient(90deg,#fed3a3,#fed1a1,#fecf9d,#fece9a,#fecc97,#feca94,#fec990,#fec78c,#ffc488,#ffc284,#ffc080,#ffbe7b,#ffbb77,#ffb871,#ffb56c,#ffb266,#ffaf5e,#ffaa55,#ffa44a,#ff9f3f,#ff9836,#ff922c,#fe8b22,#fe8416,#fb7a0f,#f7710a,#f36704,#ea5601,#e14801,#dc4000,#d83900,#d53500,#d53500,#d83800,#dc3f00,#e14801,#e85301,#f26402,#f66d07,#f9750c,#fc7d11,#fe8518,#fe8b21,#ff9029,#ff9531,#ff9a38,#ff9f3f,#ffa347)"></i>
<i style="background:linear-gradient(90deg,#fed3a4,#fed2a2,#fed09e,#fece9b,#fecd98,#fecb94,#fec991,#fec78d,#fec58a,#ffc386,#ffc181,#ffbe7d,#ffbc78,#ffb973,#ffb66e,#ffb368,#ffb062,#ffab58,#ffa64e,#ffa143,#ff9b39,#ff9430,#fe8e26,#fe871b,#fd7e12,#f9750c,#f56b06,#ef5f02,#e44d01,#df4501,#db3d00,#d83800,#d73700,#d83900,#db3e00,#e04501,#e54e01,#ef5f02,#f46a05,#f8720b,#fb7a0f,#fe8214,#fe881d,#fe8e26,#ff932d,#ff9835,#ff9c3b,#ffa043)"></i>
<i style="background:linear-gradient(90deg,#fed3a5,#fed2a2,#fed09f,#fecf9c,#fecd99,#fecb95,#feca92,#fec88e,#fec68b,#ffc487,#ffc183,#ffbf7e,#ffbd7a,#ffba75,#ffb76f,#ffb46a,#ffb164,#ffad5b,#ffa852,#ffa347,#ff9d3d,#ff9733,#ff902a,#fe8a1f,#fe8215,#fa790f,#f77009,#f36603,#ea5601,#e24901,#dd4200,#da3c00,#d83900,#d93a00,#db3e00,#df4401,#e34c01,#ec5902,#f36704,#f66f09,#fa770d,#fd7f12,#fe8619,#fe8b22,#ff902a,#ff9531,#ff9a38,#ff9e3f)"></i>
<i style="background:linear-gradient(90deg,#fed4a5,#fed3a3,#fed1a0,#fecf9c,#fece99,#fecc96,#feca93,#fec88f,#fec68c,#ffc488,#ffc284,#ffc080,#ffbd7b,#ffbb76,#ffb871,#ffb56c,#ffb266,#ffaf5f,#ffaa55,#ffa54b,#ff9f40,#ff9937,#ff932d,#fe8c24,#fe8519,#fc7d11,#f8740c,#f56b06,#ef5f02,#e54f01,#e04601,#dc4000,#da3c00,#da3b00,#db3e00,#de4301,#e24a01,#e95501,#f26402,#f56c07,#f8740c,#fb7b10,#fe8315,#fe891e,#fe8e26,#ff932d,#ff9834,#ff9c3b)"></i>
<i style="background:linear-gradient(90deg,#fed4a6,#fed3a4,#fed2a1,#fed09d,#fece9a,#fecc97,#fecb94,#fec990,#fec78d,#fec589,#ffc385,#ffc081,#ffbe7c,#ffbc78,#ffb973,#ffb66e,#ffb368,#ffb062,#ffab58,#ffa64f,#ffa144,#ff9c3a,#ff9531,#fe8f28,#fe881d,#fe8113,#fa780e,#f66f09,#f36603,#eb5801,#e34b01,#df4401,#dc4000,#db3e00,#dc3f00,#de4201,#e14801,#e75101,#ef5f02,#f46905,#f7710a,#fa780e,#fd8013,#fe861a,#fe8c22,#ff912a,#ff9531,#ff9a38)"></i>
<i style="background:linear-gradient(90deg,#fed4a7,#fed3a4,#fed2a2,#fed09e,#fece9b,#fecd98,#fecb95,#fec991,#fec78e,#fec58a,#ffc386,#ffc182,#ffbf7e,#ffbc79,#ffba74,#ffb76f,#ffb46a,#ffb164,#ffad5c,#ffa852,#ffa348,#ff9e3e,#ff9835,#ff922c,#fe8b22,#fe8417,#fc7c10,#f8730b,#f56a06,#f06002,#e75101,#e14801,#de4301,#dc4000,#dc4000,#de4201,#e14701,#e54e01,#ed5b02,#f36704,#f66e08,#f9760d,#fc7d11,#fe8416,#fe891f,#fe8e26,#ff932d,#ff9734)"></i>
<i style="background:linear-gradient(90deg,#fed5a7,#fed3a5,#fed2a2,#fed19f,#fecf9c,#fecd99,#fecc96,#feca92,#fec88f,#fec68b,#ffc487,#ffc283,#ffc07f,#ffbd7b,#ffbb76,#ffb871,#ffb56c,#ffb266,#ffaf5f,#ffaa56,#ffa54c,#ffa042,#ff9a38,#ff942f,#fe8e26,#fe871c,#fd8013,#fa770e,#f66f08,#f36603,#ec5902,#e44d01,#e14701,#de4301,#dd4200,#de4301,#e04701,#e44c01,#ea5701,#f26402,#f56c07,#f8730b,#fb7a0f,#fe8113,#fe871b,#fe8c23,#ff912a,#ff9531)"></i>
<i style="background:linear-gradient(90deg,#fed5a8,#fed4a5,#fed3a3,#fed1a0,#fecf9d,#fece9a,#fecc97,#feca93,#fec890,#fec78c,#fec589,#ffc285,#ffc081,#ffbe7c,#ffbb78,#ffb973,#ffb66d,#ffb368,#ffb062,#ffac59,#ffa750,#ffa246,#ff9c3c,#ff9733,#ff912a,#fe8a20,#fe8316,#fb7b10,#f8730b,#f56b06,#f06102,#e85401,#e34b01,#e04601,#df4401,#df4401,#e14701,#e34b01,#e95401,#f06002,#f46905,#f77009,#fa770d,#fc7e11,#fe8417,#fe891f,#fe8e26,#ff932d)"></i>
<i style="background:linear-gradient(90deg,#fed5a8,#fed4a6,#fed3a4,#fed2a1,#fed09d,#fece9a,#fecc97,#fecb94,#fec991,#fec78d,#fec58a,#ffc386,#ffc182,#ffbf7e,#ffbc79,#ffba74,#ffb76f,#ffb46a,#ffb164,#ffad5c,#ffa953,#ffa449,#ff9f3f,#ff9936,#ff932e,#fe8d24,#fe861b,#fd7f12,#fa770d,#f66f09,#f36704,#ed5c02,#e65001,#e24a01,#e04701,#e04601,#e14701,#e34b01,#e75201,#ee5d02,#f36704,#f66e08,#f9740c,#fb7b10,#fe8214,#fe871c,#fe8c23,#ff912a)"></i>
<i style="background:linear-gradient(90deg,#fed6a9,#fed4a7,#fed3a4,#fed2a2,#fed09e,#fecf9b,#fecd98,#fecb95,#feca92,#fec88e,#fec68b,#ffc487,#ffc283,#ffbf7f,#ffbd7b,#ffbb76,#ffb871,#ffb56c,#ffb266,#ffaf60,#ffab57,#ffa64d,#ffa143,#ff9b3a,#ff9631,#fe9028,#fe891f,#fe8315,#fb7b10,#f8730b,#f56b06,#f26402,#eb5801,#e54e01,#e24a01,#e14801,#e14801,#e34b01,#e65101,#ec5a02,#f26502,#f56b06,#f8720a,#fa780e,#fd7f12,#fe8518,#fe8a20,#fe8e27)"></i>
<i style="background:linear-gradient(90deg,#fed6a9,#fed5a7,#fed4a5,#fed2a3,#fed19f,#fecf9c,#fecd99,#fecc96,#feca93,#fec890,#fec68c,#ffc488,#ffc284,#ffc080,#ffbe7c,#ffbb77,#ffb973,#ffb66e,#ffb468,#ffb163,#ffac5a,#ffa851,#ffa347,#ff9d3d,#ff9835,#ff922c,#fe8c23,#fe861a,#fd7f12,#fa770d,#f76f09,#f46804,#ef5f02,#e95401,#e44d01,#e34a01,#e24a01,#e34c01,#e65001,#eb5801,#f16202,#f46905,#f77009,#f9760d,#fc7c10,#fe8315,#fe871c,#fe8c23)"></i>
<i style="background:linear-gradient(90deg,#fed6aa,#fed5a8,#fed4a6,#fed3a3,#fed1a1,#fecf9d,#fece9a,#fecc97,#fecb94,#fec991,#fec78d,#fec589,#ffc386,#ffc182,#ffbf7d,#ffbc79,#ffba74,#ffb76f,#ffb46a,#ffb265,#ffae5d,#ffa954,#ffa54b,#ffa041,#ff9a38,#ff9530,#fe8f27,#fe891e,#fe8315,#fb7b10,#f8730b,#f56c07,#f36503,#ed5b02,#e85301,#e44d01,#e44c01,#e44c01,#e65001,#ea5701,#f06002,#f36704,#f66d08,#f8740b,#fb7a0f,#fd8013,#fe8519,#fe8a20)"></i>
<i style="background:linear-gradient(90deg,#fed6aa,#fed5a8,#fed4a6,#fed3a4,#fed2a1,#fed09e,#fece9b,#fecd98,#fecb95,#fec991,#fec78e,#fec68b,#ffc487,#ffc183,#ffbf7f,#ffbd7a,#ffbb76,#ffb871,#ffb56c,#ffb367,#ffaf60,#ffab58,#ffa64f,#ffa245,#ff9c3c,#ff9733,#ff912b,#fe8b22,#fe8519,#fd7f12,#fa770e,#f77009,#f46905,#f16202,#ec5902,#e75201,#e54f01,#e54e01,#e75101,#ea5701,#ef5e02,#f36603,#f56c07,#f7710a,#fa770e,#fc7d11,#fe8316,#fe881d)"></i>
<i style="background:linear-gradient(90deg,#fed7ab,#fed6a9,#fed4a7,#fed3a4,#fed2a2,#fed09f,#fecf9c,#fecd99,#fecc96,#feca92,#fec88f,#fec68c,#ffc488,#ffc284,#ffc080,#ffbe7c,#ffbb77,#ffb973,#ffb66e,#ffb469,#ffb163,#ffad5b,#ffa852,#ffa449,#ff9f3f,#ff9937,#ff942f,#fe8e26,#fe881d,#fe8215,#fb7b10,#f8740c,#f66d08,#f36704,#ef6002,#eb5801,#e85301,#e75101,#e85301,#ea5701,#ee5d02,#f26502,#f46a06,#f76f09,#f9750c,#fb7b10,#fd8113,#fe8619)"></i>
<i style="background:linear-gradient(90deg,#fed7ac,#fed6a9,#fed5a7,#fed4a5,#fed2a3,#fed1a0,#fecf9c,#fece9a,#fecc97,#feca93,#fec990,#fec78d,#fec589,#ffc385,#ffc181,#ffbf7d,#ffbc79,#ffba74,#ffb770,#ffb56a,#ffb265,#ffae5e,#ffaa56,#ffa54d,#ffa143,#ff9c3a,#ff9632,#ff912a,#fe8b22,#fe8519,#fd7f12,#fa780e,#f7710a,#f56b06,#f36503,#ee5e02,#eb5801,#e95501,#e95501,#eb5801,#ee5d02,#f26402,#f46905,#f66e08,#f8730b,#fa790e,#fc7e12,#fe8416)"></i>
<i style="background:linear-gradient(90deg,#fed7ac,#fed6aa,#fed5a8,#fed4a6,#fed3a3,#fed1a1,#fed09d,#fece9a,#fecc97,#fecb94,#fec991,#fec78e,#fec58a,#ffc387,#ffc183,#ffbf7f,#ffbd7a,#ffbb76,#ffb871,#ffb66c,#ffb367,#ffb061,#ffac59,#ffa750,#ffa347,#ff9e3e,#ff9936,#ff932e,#fe8e26,#fe881d,#fe8215,#fb7b10,#f9750c,#f66f08,#f46905,#f26402,#ee5e02,#ec5902,#eb5801,#ec5902,#ee5d02,#f16302,#f36804,#f56c07,#f7710a,#f9770d,#fc7c10,#fe8214)"></i>
<i style="background:linear-gradient(90deg,#fed7ad,#fed6ab,#fed5a8,#fed4a6,#fed3a4,#fed2a2,#fed09e,#fece9b,#fecd98,#fecb95,#feca92,#fec88f,#fec68b,#ffc488,#ffc284,#ffc080,#ffbe7c,#ffbb78,#ffb973,#ffb76e,#ffb469,#ffb164,#ffad5c,#ffa954,#ffa54b,#ffa042,#ff9b39,#ff9631,#ff9029,#fe8b21,#fe8519,#fd7f12,#fa790e,#f8720b,#f56d07,#f36804,#f26302,#ee5e02,#ed5b02,#ed5b02,#ee5e02,#f16302,#f36704,#f56b06,#f77009,#f9750c,#fb7a0f,#fd7f12)"></i>
<i style="background:linear-gradient(90deg,#fed8ad,#fed7ab,#fed6a9,#fed5a7,#fed3a5,#fed2a2,#fed19f,#fecf9c,#fecd99,#fecc96,#feca93,#fec890,#fec78c,#fec589,#ffc385,#ffc181,#ffbf7d,#ffbc79,#ffba75,#ffb770,#ffb56b,#ffb266,#ffaf5f,#ffab57,#ffa64e,#ffa245,#ff9d3d,#ff9835,#ff932d,#fe8d25,#fe881d,#fe8315,#fc7c11,#f9760d,#f77009,#f56b06,#f36704,#f16302,#ef5f02,#ef5e02,#ef6002,#f16302,#f36603,#f46a06,#f66e08,#f8730b,#fa780e,#fc7d11)"></i>
<i style="background:linear-gradient(90deg,#fed8ae,#fed7ac,#fed6aa,#fed5a7,#fed4a5,#fed3a3,#fed1a0,#fecf9d,#fece9a,#fecc97,#fecb94,#fec991,#fec78d,#fec58a,#ffc386,#ffc183,#ffbf7f,#ffbd7b,#ffbb76,#ffb872,#ffb66d,#ffb368,#ffb162,#ffac5a,#ffa852,#ffa449,#ff9f40,#ff9a38,#ff9531,#ff9029,#fe8b21,#fe8619,#fd8013,#fb7a0f,#f8740c,#f66f08,#f46a06,#f36603,#f26402,#f16202,#f16202,#f26402,#f36603,#f46a05,#f66d08,#f8720a,#f9760d,#fb7b10)"></i>
<i style="background:linear-gradient(90deg,#fed8ae,#fed7ac,#fed6aa,#fed5a8,#fed4a6,#fed3a4,#fed2a1,#fed09d,#fece9b,#fecd98,#fecb95,#fec992,#fec88f,#fec68b,#ffc488,#ffc284,#ffc080,#ffbe7c,#ffbc78,#ffb973,#ffb76f,#ffb46a,#ffb265,#ffae5e,#ffaa55,#ffa64d,#ffa144,#ff9c3c,#ff9834,#ff932d,#fe8d25,#fe881d,#fe8316,#fc7d11,#fa770e,#f8720a,#f66d08,#f46905,#f36704,#f26502,#f26402,#f26503,#f36704,#f46905,#f56d07,#f7710a,#f9750c,#fb790f)"></i>
<i style="background:linear-gradient(90deg,#fed8ae,#fed7ad,#fed6ab,#fed5a9,#fed4a6,#fed3a4,#fed2a2,#fed09e,#fecf9c,#fecd99,#fecc96,#feca93,#fec890,#fec68c,#fec589,#ffc385,#ffc181,#ffbf7d,#ffbc79,#ffba75,#ffb870,#ffb56c,#ffb367,#ffb061,#ffac59,#ffa751,#ffa348,#ff9f3f,#ff9a38,#ff9530,#fe9029,#fe8b21,#fe861a,#fd8113,#fb7b10,#f9760d,#f7710a,#f56d07,#f46905,#f36704,#f36603,#f36603,#f36704,#f46905,#f56c07,#f77009,#f8740b,#fa780e)"></i>
<i style="background:linear-gradient(90deg,#fed9af,#fed8ad,#fed7ab,#fed6a9,#fed5a7,#fed3a5,#fed2a3,#fed1a0,#fecf9c,#fece9a,#fecc97,#feca94,#fec991,#fec78d,#fec58a,#ffc386,#ffc183,#ffbf7f,#ffbd7b,#ffbb76,#ffb972,#ffb66d,#ffb469,#ffb163,#ffad5c,#ffa954,#ffa54c,#ffa143,#ff9c3b,#ff9734,#ff922d,#fe8e25,#fe891e,#fe8417,#fd7e12,#fa790f,#f8740c,#f77009,#f56c07,#f46a05,#f46804,#f36804,#f46804,#f46a05,#f56c07,#f66f09,#f8730b,#f9760d)"></i>
<i style="background:linear-gradient(90deg,#fed9af,#fed8ae,#fed7ac,#fed6aa,#fed5a8,#fed4a5,#fed3a3,#fed1a1,#fed09d,#fece9a,#fecd98,#fecb95,#fec992,#fec88e,#fec68b,#ffc487,#ffc284,#ffc080,#ffbe7c,#ffbc78,#ffb974,#ffb76f,#ffb56a,#ffb265,#ffaf5f,#ffab57,#ffa74f,#ffa347,#ff9e3e,#ff9a37,#ff9530,#ff9029,#fe8b22,#fe871b,#fe8214,#fc7c11,#fa770e,#f8730b,#f66f09,#f56c07,#f46a06,#f46905,#f46905,#f56a06,#f56c07,#f66f08,#f8720a,#f9750c)"></i>
<i style="background:linear-gradient(90deg,#fed9b0,#fed8ae,#fed7ac,#fed6aa,#fed5a8,#fed4a6,#fed3a4,#fed2a1,#fed09e,#fece9b,#fecd98,#fecb96,#feca92,#fec88f,#fec68c,#fec589,#ffc385,#ffc181,#ffbf7e,#ffbc7a,#ffba75,#ffb871,#ffb66c,#ffb367,#ffb162,#ffad5b,#ffa953,#ffa44b,#ffa042,#ff9c3b,#ff9734,#ff932d,#fe8e26,#fe891f,#fe8518,#fd8013,#fb7b10,#f9760d,#f8720a,#f66f09,#f56d07,#f56b06,#f56b06,#f56b06,#f56d07,#f66f08,#f7710a,#f9750c)"></i>
<i style="background:linear-gradient(90deg,#fed9b0,#fed8af,#fed7ad,#fed6ab,#fed5a9,#fed4a7,#fed3a4,#fed2a2,#fed09f,#fecf9c,#fecd99,#fecc96,#feca93,#fec990,#fec78d,#fec58a,#ffc386,#ffc183,#ffbf7f,#ffbd7b,#ffbb77,#ffb973,#ffb66e,#ffb469,#ffb264,#ffae5e,#ffaa56,#ffa64e,#ffa246,#ff9e3e,#ff9937,#ff9530,#ff9029,#fe8c23,#fe871c,#fe8315,#fc7e11,#fa790f,#f9750c,#f7720a,#f66f09,#f66d08,#f56c07,#f56c07,#f66d08,#f66f09,#f7710a,#f8740c)"></i>
<i style="background:linear-gradient(90deg,#fedab1,#fed9af,#fed8ad,#fed7ab,#fed6a9,#fed5a7,#fed4a5,#fed2a3,#fed1a0,#fecf9d,#fece9a,#fecc97,#fecb94,#fec991,#fec88e,#fec68b,#ffc487,#ffc284,#ffc080,#ffbe7c,#ffbc78,#ffba74,#ffb770,#ffb56b,#ffb366,#ffb061,#ffac5a,#ffa852,#ffa44a,#ffa042,#ff9c3a,#ff9734,#ff932d,#fe8e26,#fe8a20,#fe8619,#fe8114,#fc7c11,#fa780e,#f9750c,#f7720a,#f77009,#f66e08,#f66e08,#f66e08,#f76f09,#f7710a,#f8740b)"></i>
<i style="background:linear-gradient(90deg,#fedab1,#fed9af,#fed8ae,#fed7ac,#fed6aa,#fed5a8,#fed4a6,#fed3a3,#fed2a1,#fed09e,#fece9b,#fecd98,#fecb95,#feca92,#fec88f,#fec68c,#fec589,#ffc385,#ffc182,#ffbf7e,#ffbd7a,#ffbb76,#ffb872,#ffb66d,#ffb468,#ffb164,#ffae5d,#ffaa55,#ffa64e,#ffa246,#ff9e3e,#ff9937,#ff9531,#ff912a,#fe8c24,#fe881d,#fe8417,#fd8013,#fb7b10,#fa780e,#f9740c,#f8720a,#f77009,#f76f09,#f76f09,#f77009,#f7710a,#f8730b)"></i>
</div>
<div class="hm" style="left:614px;top:45px;height:157px">
<i style="background:linear-gradient(90deg,#fed4a6,#fed1a1,#fecf9c,#fecd97,#feca93,#fec78d,#ffc283,#ffbc79,#ffb66e,#ffaf60,#ffa64d,#ff9b39,#fe8f27,#fe8316,#f8730b,#f16202,#e65001,#df4501,#dd4100,#e04701,#e85301,#f36603,#f9760d,#fe8518,#ff9029,#ff9c3b,#ffa750,#ffb062,#ffb770,#ffbe7c,#ffc488,#fec992,#fecd99,#fed2a1,#fed7ac,#ffdcb6,#ffe1bf,#ffe6c8,#ffead1,#ffeeda,#fff1e1,#fff5e8,#fff8ef,#fffbf6,#fffefd,#ffffff,#ffffff,#ffffff)"></i>
<i style="background:linear-gradient(90deg,#fed5a7,#fed2a2,#fecf9d,#fecd99,#fecb94,#fec88f,#ffc386,#ffbe7c,#ffb871,#ffb265,#ffa953,#ff9e3e,#ff922d,#fe871b,#fa780e,#f36804,#e85401,#e14701,#dd4000,#de4301,#e44d01,#ed5c02,#f77009,#fd8013,#fe8c23,#ff9835,#ffa348,#ffad5b,#ffb56a,#ffbb77,#ffc284,#fec88f,#fecc96,#fed09d,#fed5a8,#fedab2,#ffdfbc,#ffe4c5,#ffe8ce,#ffecd7,#fff0de,#fff3e6,#fff7ed,#fffaf4,#fffdfa,#ffffff,#ffffff,#ffffff)"></i>
<i style="background:linear-gradient(90deg,#fed6a9,#fed3a4,#fed09e,#fece9a,#fecb95,#fec991,#fec589,#ffc07f,#ffba74,#ffb469,#ffac59,#ffa145,#ff9632,#fe8a20,#fc7d11,#f56d07,#eb5901,#e24a01,#dd4100,#dc4000,#e14801,#e95501,#f46905,#fb7a0f,#fe871c,#ff932e,#ff9f40,#ffa954,#ffb265,#ffb972,#ffbf7f,#fec68b,#feca93,#fece9b,#fed3a4,#fed8ae,#ffddb8,#ffe2c1,#ffe7ca,#ffebd3,#ffefdb,#fff2e3,#fff5ea,#fff9f1,#fffcf8,#fffffe,#ffffff,#ffffff)"></i>
<i style="background:linear-gradient(90deg,#fed6aa,#fed4a5,#fed19f,#fece9b,#fecc97,#feca92,#fec68b,#ffc182,#ffbc78,#ffb66c,#ffae5e,#ffa54b,#ff9a38,#fe8e26,#fe8214,#f8720a,#ef5f02,#e54e01,#de4200,#db3e00,#de4301,#e64f01,#f16202,#f8730b,#fe8316,#fe8e26,#ff9a39,#ffa54c,#ffaf5f,#ffb66d,#ffbd7a,#ffc386,#fec991,#fecd98,#fed1a0,#fed6aa,#fedbb4,#ffe0be,#ffe5c7,#ffe9d0,#ffedd8,#fff1e0,#fff4e7,#fff7ee,#fffaf5,#fffefc,#ffffff,#ffffff)"></i>
<i style="background:linear-gradient(90deg,#fed7ab,#fed4a6,#fed1a1,#fecf9c,#fecd98,#feca93,#fec78e,#ffc385,#ffbd7b,#ffb770,#ffb163,#ffa851,#ff9d3d,#ff912b,#fe861a,#fa770d,#f36603,#e75201,#df4401,#db3d00,#dc3f00,#e24901,#eb5801,#f66d07,#fc7d11,#fe8a20,#ff9632,#ffa144,#ffab58,#ffb368,#ffba75,#ffc182,#fec78d,#fecb95,#fecf9c,#fed4a6,#fed9b0,#ffdeba,#ffe3c3,#ffe8cc,#ffecd5,#ffefdd,#fff3e5,#fff6ec,#fff9f3,#fffcf9,#ffffff,#ffffff)"></i>
<i style="background:linear-gradient(90deg,#fed7ad,#fed5a8,#fed2a2,#fecf9d,#fecd99,#fecb95,#fec890,#ffc488,#ffbf7e,#ffb973,#ffb367,#ffab57,#ffa143,#ff9531,#fe891f,#fc7c10,#f56b06,#ea5701,#e14801,#db3e00,#da3c00,#df4401,#e75201,#f36603,#fa770d,#fe8619,#ff912a,#ff9d3c,#ffa851,#ffb162,#ffb870,#ffbe7d,#fec589,#feca92,#fece9a,#fed2a2,#fed7ac,#ffdcb6,#ffe1c0,#ffe6c9,#ffead2,#ffeeda,#fff2e2,#fff5e9,#fff8f0,#fffbf7,#fffefd,#ffffff)"></i>
<i style="background:linear-gradient(90deg,#fed8ae,#fed6a9,#fed3a4,#fed09e,#fece9a,#fecc96,#fec991,#fec58a,#ffc081,#ffbb76,#ffb56b,#ffad5c,#ffa449,#ff9936,#fe8d24,#fe8114,#f7710a,#ed5c02,#e44c01,#dc3f00,#d93a00,#dc3f00,#e34c01,#ed5c02,#f77009,#fd8113,#fe8c23,#ff9836,#ffa449,#ffae5d,#ffb56b,#ffbc78,#ffc284,#fec88f,#fecc97,#fed09e,#fed5a8,#fedab3,#ffdfbc,#ffe4c6,#ffe9ce,#ffedd7,#fff0df,#fff4e6,#fff7ed,#fffaf4,#fffdfb,#ffffff)"></i>
<i style="background:linear-gradient(90deg,#fed9af,#fed6aa,#fed4a5,#fed19f,#fece9b,#fecc97,#feca92,#fec78d,#ffc284,#ffbd7a,#ffb76e,#ffb062,#ffa74f,#ff9c3b,#ff912a,#fe8519,#f9760d,#f26502,#e65001,#de4200,#d93a00,#da3b00,#e04601,#e95501,#f46a05,#fb7a0f,#fe881d,#ff942f,#ff9f41,#ffaa55,#ffb266,#ffb973,#ffc080,#fec68b,#fecb94,#fece9b,#fed3a4,#fed9af,#ffdeb9,#ffe2c2,#ffe7cb,#ffebd4,#ffefdc,#fff2e4,#fff6eb,#fff9f2,#fffcf8,#ffffff)"></i>
<i style="background:linear-gradient(90deg,#fed9b0,#fed7ab,#fed4a6,#fed1a1,#fecf9c,#fecd98,#fecb94,#fec88f,#ffc386,#ffbe7d,#ffb872,#ffb266,#ffaa55,#ffa041,#ff942f,#fe891e,#fb7b10,#f46a06,#e95501,#e04601,#d93b00,#d83800,#dc4000,#e54e01,#f16202,#f8740c,#fe8416,#fe8f27,#ff9b3a,#ffa64d,#ffaf60,#ffb66e,#ffbd7b,#ffc487,#fec991,#fecd98,#fed1a0,#fed7ab,#fedcb5,#ffe1be,#ffe5c8,#ffead1,#ffeed9,#fff1e1,#fff4e8,#fff8ef,#fffbf6,#fffefd)"></i>
<i style="background:linear-gradient(90deg,#fedab1,#fed7ad,#fed5a8,#fed2a2,#fed09d,#fecd99,#fecb95,#fec990,#fec589,#ffc07f,#ffba75,#ffb46a,#ffad5b,#ffa348,#ff9835,#fe8c23,#fd8013,#f76f09,#ec5b02,#e24a01,#da3d00,#d73700,#da3b00,#e14801,#eb5801,#f66d08,#fc7e12,#fe8a21,#ff9633,#ffa245,#ffac59,#ffb469,#ffbb76,#ffc182,#fec78e,#fecc96,#fecf9d,#fed4a7,#fedab1,#ffdfbb,#ffe3c4,#ffe8cd,#ffecd6,#fff0de,#fff3e5,#fff6ec,#fffaf3,#fffdfa)"></i>
<i style="background:linear-gradient(90deg,#fedab2,#fed8ae,#fed6a9,#fed3a4,#fed09e,#fece9a,#fecc96,#fec992,#fec68b,#ffc182,#ffbc78,#ffb66d,#ffaf60,#ffa64e,#ff9c3a,#fe9029,#fe8418,#f9750c,#f16302,#e54f01,#dc4000,#d73700,#d73700,#dd4200,#e75101,#f36704,#fa780e,#fe861a,#ff922c,#ff9e3d,#ffa852,#ffb163,#ffb871,#ffbf7e,#fec589,#feca93,#fece9a,#fed2a3,#fed8ad,#ffddb7,#ffe2c1,#ffe6ca,#ffebd3,#ffeedb,#fff2e2,#fff5ea,#fff8f1,#fffcf8)"></i>
<i style="background:linear-gradient(90deg,#fedbb3,#fed9af,#fed6aa,#fed4a5,#fed1a0,#fecf9b,#fecc97,#feca93,#fec78e,#ffc385,#ffbd7b,#ffb871,#ffb265,#ffa954,#ff9f40,#ff942e,#fe881d,#fb7a0f,#f46905,#e85401,#df4401,#d73800,#d53500,#da3c00,#e34b01,#ed5c02,#f7710a,#fe8114,#fe8d24,#ff9937,#ffa44a,#ffae5e,#ffb56c,#ffbc79,#ffc385,#fec890,#fecc97,#fed09f,#fed6a9,#fedbb3,#ffe0bd,#ffe5c6,#ffe9cf,#ffedd8,#fff1e0,#fff4e7,#fff7ee,#fffaf5)"></i>
<i style="background:linear-gradient(90deg,#fedbb4,#fed9b0,#fed7ab,#fed4a6,#fed2a1,#fecf9c,#fecd98,#fecb94,#fec890,#ffc488,#ffbf7e,#ffba74,#ffb469,#ffac59,#ffa246,#ff9734,#fe8c22,#fd7f12,#f66e08,#ec5a02,#e14801,#d93a00,#d33400,#d73700,#df4401,#e95501,#f56a06,#fb7b10,#fe891e,#ff9430,#ffa042,#ffaa56,#ffb367,#ffba74,#ffc080,#fec68c,#fecb94,#fecf9c,#fed4a5,#fed9b0,#ffdeb9,#ffe3c3,#ffe7cc,#ffecd5,#ffefdd,#fff3e4,#fff6eb,#fff9f2)"></i>
<i style="background:linear-gradient(90deg,#fedcb5,#fedab1,#fed7ac,#fed5a8,#fed2a2,#fed09d,#fece9a,#fecb95,#fec991,#fec58a,#ffc181,#ffbb77,#ffb66c,#ffaf5f,#ffa54c,#ff9b39,#fe8f28,#fe8417,#f8740c,#f06102,#e44d01,#db3e00,#d43400,#d43400,#db3e00,#e54e01,#f16302,#f9750c,#fe8417,#fe9029,#ff9c3b,#ffa74f,#ffb061,#ffb76f,#ffbe7c,#ffc488,#fec992,#fecd99,#fed2a1,#fed7ac,#ffdcb6,#ffe1bf,#ffe6c9,#ffead1,#ffeeda,#fff1e2,#fff5e9,#fff8f0)"></i>
<i style="background:linear-gradient(90deg,#ffdcb6,#fedab2,#fed8ae,#fed6a9,#fed3a4,#fed09e,#fece9b,#fecc97,#feca92,#fec78d,#ffc284,#ffbd7a,#ffb770,#ffb164,#ffa852,#ff9e3e,#ff932d,#fe871c,#fa790f,#f46804,#e85301,#dd4200,#d53500,#d13200,#d83800,#e14701,#eb5801,#f66e08,#fd7f12,#fe8b22,#ff9734,#ffa347,#ffad5b,#ffb46a,#ffbb77,#ffc283,#fec88f,#fecc96,#fed09d,#fed5a8,#fedab2,#ffdfbc,#ffe4c5,#ffe9ce,#ffedd7,#fff0df,#fff4e6,#fff7ed)"></i>
<i style="background:linear-gradient(90deg,#ffddb7,#fedbb3,#fed9af,#fed6aa,#fed4a5,#fed1a0,#fecf9c,#fecd98,#feca94,#fec88f,#ffc386,#ffbe7d,#ffb973,#ffb368,#ffab58,#ffa145,#ff9733,#fe8b21,#fd7e12,#f66e08,#eb5801,#e04701,#d73800,#d03100,#d43400,#dd4000,#e75101,#f36704,#fa780e,#fe871b,#ff932d,#ff9e3f,#ffa953,#ffb264,#ffb972,#ffbf7f,#fec58a,#feca93,#fece9b,#fed3a4,#fed8ae,#ffddb8,#ffe2c2,#ffe7cb,#ffebd4,#ffefdc,#fff2e3,#fff6eb)"></i>
<i style="background:linear-gradient(90deg,#ffddb8,#fedbb4,#fed9b0,#fed7ab,#fed4a6,#fed2a1,#fecf9d,#fecd99,#fecb95,#fec990,#fec589,#ffc080,#ffbb76,#ffb56b,#ffae5d,#ffa54b,#ff9a38,#fe8e27,#fe8316,#f8730b,#ef5f02,#e44c01,#da3c00,#d13100,#d03100,#d93a00,#e34a01,#ee5d02,#f8720a,#fe8214,#fe8e25,#ff9a38,#ffa54c,#ffaf5f,#ffb66d,#ffbd7a,#ffc386,#fec990,#fecd98,#fed1a0,#fed6aa,#fedbb4,#ffe0be,#ffe5c7,#ffead0,#ffedd9,#fff1e1,#fff4e8)"></i>
<i style="background:linear-gradient(90deg,#ffdeb9,#fedcb5,#fedab1,#fed7ac,#fed5a8,#fed2a3,#fed09e,#fece9a,#fecc96,#fec992,#fec68b,#ffc183,#ffbc79,#ffb76f,#ffb163,#ffa851,#ff9e3d,#ff922c,#fe871b,#fa780e,#f36704,#e75201,#dc4000,#d23300,#ce2f00,#d43500,#de4301,#e95501,#f56b06,#fc7c11,#fe891f,#ff9531,#ffa144,#ffab58,#ffb368,#ffba75,#ffc181,#fec78d,#fecb95,#fecf9c,#fed4a6,#fed9b0,#ffdeba,#ffe3c4,#ffe8cd,#ffecd6,#fff0de,#fff3e5)"></i>
<i style="background:linear-gradient(90deg,#ffdeb9,#ffdcb6,#fedab2,#fed8ad,#fed6a9,#fed3a4,#fed09f,#fece9b,#fecc97,#feca93,#fec78e,#ffc385,#ffbe7c,#ffb872,#ffb367,#ffaa56,#ffa143,#ff9632,#fe8a21,#fc7e11,#f66d07,#ea5701,#e04501,#d63600,#cd2e00,#d03000,#da3c00,#e54e01,#f26402,#f9760d,#fe8518,#ff912a,#ff9d3c,#ffa750,#ffb062,#ffb770,#ffbe7d,#fec589,#feca92,#fece9a,#fed2a2,#fed7ad,#ffddb7,#ffe1c0,#ffe6c9,#ffead2,#ffeedb,#fff2e2)"></i>
<i style="background:linear-gradient(90deg,#ffdeba,#ffddb7,#fedbb3,#fed8af,#fed6aa,#fed4a5,#fed1a0,#fecf9c,#fecd98,#fecb94,#fec890,#ffc488,#ffbf7f,#ffba75,#ffb46a,#ffad5c,#ffa44a,#ff9937,#fe8e26,#fe8315,#f8720b,#ee5e02,#e34b01,#d93a00,#ce2f00,#cc2d00,#d63600,#e04701,#eb5902,#f66f09,#fd8013,#fe8c23,#ff9835,#ffa348,#ffad5c,#ffb56b,#ffbc78,#ffc284,#fec88f,#fecc97,#fed09e,#fed5a9,#fedbb3,#ffe0bd,#ffe4c6,#ffe9cf,#ffedd8,#fff1e0)"></i>
<i style="background:linear-gradient(90deg,#ffdfbb,#ffddb8,#fedbb4,#fed9b0,#fed7ab,#fed4a6,#fed2a1,#fecf9d,#fecd99,#fecb95,#fec991,#fec58a,#ffc182,#ffbc78,#ffb66e,#ffb061,#ffa750,#ff9d3c,#ff922b,#fe861b,#fa780e,#f36603,#e65101,#dc3f00,#d03100,#ca2c00,#d03100,#dc3f00,#e75201,#f46804,#fb790f,#fe881c,#ff932e,#ff9f40,#ffaa55,#ffb265,#ffb973,#ffc080,#fec68b,#fecb94,#fecf9b,#fed3a5,#fed9af,#ffdeb9,#ffe3c2,#ffe7cc,#ffebd5,#ffefdd)"></i>
<i style="background:linear-gradient(90deg,#ffdfbc,#ffddb8,#fedcb5,#fedab1,#fed7ac,#fed5a8,#fed2a3,#fed09e,#fece9a,#fecc96,#feca92,#fec78d,#ffc284,#ffbd7b,#ffb871,#ffb266,#ffaa55,#ffa042,#ff9531,#fe8a20,#fc7d11,#f56c07,#ea5701,#df4401,#d33400,#ca2b00,#cc2d00,#d83800,#e24a01,#ee5e02,#f8730b,#fe8316,#fe8f27,#ff9b39,#ffa64d,#ffaf60,#ffb66e,#ffbd7b,#ffc487,#fec991,#fecd99,#fed1a1,#fed7ab,#fedcb5,#ffe1bf,#ffe6c8,#ffead1,#ffeeda)"></i>
<i style="background:linear-gradient(90deg,#ffe0bd,#ffdeb9,#ffdcb6,#fedab2,#fed8ad,#fed6a9,#fed3a4,#fed09f,#fece9b,#fecc97,#feca93,#fec88f,#ffc487,#ffbf7e,#ffba74,#ffb469,#ffad5b,#ffa348,#ff9936,#fe8e25,#fe8214,#f8720a,#ee5d02,#e24a01,#d83800,#cb2c00,#c82a00,#d23200,#de4301,#e95501,#f56c07,#fc7d11,#fe8a20,#ff9632,#ffa245,#ffac59,#ffb469,#ffbb76,#ffc182,#fec78e,#fecc96,#fecf9d,#fed5a7,#fedab1,#ffdfbb,#ffe4c5,#ffe8ce,#ffecd7)"></i>
<i style="background:linear-gradient(90deg,#ffe0bd,#ffdeba,#ffddb6,#fedbb3,#fed8ae,#fed6aa,#fed4a5,#fed1a0,#fecf9c,#fecd98,#fecb95,#fec990,#fec589,#ffc081,#ffbb77,#ffb66d,#ffaf60,#ffa64e,#ff9c3c,#ff912b,#fe861a,#fa770e,#f36603,#e65001,#db3d00,#ce2f00,#c72900,#cc2d00,#da3b00,#e54e01,#f26502,#f9770d,#fe861a,#ff912b,#ff9d3d,#ffa852,#ffb163,#ffb871,#ffbf7e,#fec58a,#feca93,#fece9a,#fed3a3,#fed8ae,#ffddb8,#ffe2c1,#ffe7ca,#ffebd3)"></i>
<i style="background:linear-gradient(90deg,#ffe0be,#ffdfbb,#ffddb7,#fedbb4,#fed9af,#fed7ab,#fed4a7,#fed2a2,#fecf9d,#fece99,#fecc96,#fec991,#fec68c,#ffc283,#ffbd7a,#ffb770,#ffb265,#ffa954,#ffa041,#ff9530,#fe8a1f,#fc7d11,#f56c07,#ea5601,#de4301,#d23200,#c72800,#c82900,#d43500,#e04601,#ec5a02,#f77009,#fe8113,#fe8d24,#ff9936,#ffa44a,#ffae5e,#ffb56c,#ffbc79,#ffc385,#fec990,#fecd98,#fed19f,#fed6aa,#fedbb4,#ffe0be,#ffe5c7,#ffe9d0)"></i>
<i style="background:linear-gradient(90deg,#ffe1bf,#ffdfbc,#ffddb8,#fedcb5,#fed9b1,#fed7ac,#fed5a8,#fed3a3,#fed09e,#fece9a,#fecc97,#feca93,#fec78e,#ffc386,#ffbe7d,#ffb973,#ffb468,#ffac5a,#ffa348,#ff9836,#fe8d25,#fe8214,#f7710a,#ed5c02,#e24901,#d63700,#c82a00,#c52700,#ce2f00,#dc3f00,#e75201,#f46905,#fb7b10,#fe881e,#ff942f,#ffa042,#ffaa56,#ffb367,#ffba74,#ffc081,#fec78c,#fecb95,#fecf9c,#fed4a6,#fed9b0,#ffdeba,#ffe3c4,#ffe8cd)"></i>
<i style="background:linear-gradient(90deg,#ffe1c0,#ffe0bc,#ffdeb9,#fedcb5,#fedab2,#fed8ad,#fed6a9,#fed3a4,#fed19f,#fecf9b,#fecd98,#fecb94,#fec890,#ffc488,#ffc080,#ffbb76,#ffb56c,#ffaf5f,#ffa64d,#ff9c3b,#ff912a,#fe861a,#fa770d,#f36503,#e64f01,#da3c00,#cb2d00,#c32500,#c82a00,#d73700,#e34a01,#ef6002,#f8740c,#fe8417,#fe8f28,#ff9c3b,#ffa74f,#ffb061,#ffb76f,#ffbe7c,#ffc488,#fec992,#fecd99,#fed2a2,#fed7ac,#ffdcb6,#ffe1c0,#ffe6c9)"></i>
<i style="background:linear-gradient(90deg,#ffe1c0,#ffe0bd,#ffdeba,#ffdcb6,#fedab3,#fed8ae,#fed6aa,#fed4a5,#fed1a1,#fecf9c,#fecd99,#fecb95,#fec991,#fec68b,#ffc182,#ffbc79,#ffb76f,#ffb164,#ffa953,#ff9f40,#ff9430,#fe891f,#fc7c11,#f56b06,#e95501,#de4200,#d03100,#c42600,#c42600,#d03100,#de4301,#ea5601,#f66d07,#fd7e12,#fe8b21,#ff9734,#ffa347,#ffad5b,#ffb46a,#ffbb77,#ffc283,#fec88f,#fecc96,#fed09e,#fed5a8,#fedab3,#ffe0bc,#ffe4c6)"></i>
<i style="background:linear-gradient(90deg,#ffe2c1,#ffe0be,#ffdfbb,#ffddb7,#fedbb3,#fed9af,#fed7ab,#fed4a7,#fed2a2,#fed09d,#fece9a,#fecc96,#feca92,#fec78d,#ffc385,#ffbe7c,#ffb972,#ffb368,#ffac59,#ffa247,#ff9835,#fe8d24,#fe8214,#f7710a,#ed5c02,#e14801,#d53500,#c62800,#c12300,#c92b00,#d93b00,#e54f01,#f36603,#fa780e,#fe871b,#ff922d,#ff9e3f,#ffa953,#ffb265,#ffb972,#ffbf7f,#fec68b,#feca94,#fece9b,#fed3a4,#fed9af,#ffdeb9,#ffe3c2)"></i>
<i style="background:linear-gradient(90deg,#ffe2c2,#ffe1bf,#ffdfbb,#ffddb8,#fedbb4,#fed9b0,#fed7ac,#fed5a8,#fed3a3,#fed09e,#fece9b,#fecc97,#feca93,#fec88f,#ffc487,#ffbf7f,#ffba75,#ffb56b,#ffae5e,#ffa54d,#ff9c3a,#ff902a,#fe8519,#f9770d,#f26503,#e54f01,#d93b00,#c92b00,#c02300,#c42600,#d33400,#e04701,#ec5a02,#f7710a,#fe8214,#fe8e25,#ff9a38,#ffa54c,#ffaf5f,#ffb66d,#ffbd7a,#ffc386,#fec991,#fecd98,#fed1a0,#fed7ab,#fedcb5,#ffe1bf)"></i>
<i style="background:linear-gradient(90deg,#ffe3c2,#ffe1bf,#ffdfbc,#ffdeb9,#fedcb5,#fedab1,#fed8ad,#fed6a9,#fed3a4,#fed19f,#fecf9c,#fecd98,#fecb94,#fec990,#fec58a,#ffc181,#ffbc78,#ffb76e,#ffb163,#ffa852,#ff9f40,#ff942f,#fe891f,#fc7c10,#f56b06,#e95501,#dd4100,#ce2f00,#c12300,#c02200,#cc2d00,#dc3f00,#e85301,#f46a06,#fb7c10,#fe891f,#ff9531,#ffa144,#ffab58,#ffb368,#ffba75,#ffc182,#fec78d,#fecb95,#fecf9d,#fed5a7,#fedab1,#ffdfbb)"></i>
<i style="background:linear-gradient(90deg,#ffe3c3,#ffe1c0,#ffe0bd,#ffdeb9,#ffdcb6,#fedab2,#fed8ae,#fed6aa,#fed4a6,#fed1a1,#fecf9d,#fecd99,#fecb95,#fec991,#fec68c,#ffc284,#ffbd7b,#ffb872,#ffb367,#ffab58,#ffa246,#ff9835,#fe8d24,#fe8114,#f7710a,#ed5b02,#e14801,#d43400,#c42600,#bd2000,#c52700,#d73700,#e34b01,#f06102,#f9750c,#fe8518,#ff912a,#ff9d3c,#ffa751,#ffb162,#ffb870,#ffbe7d,#fec589,#feca93,#fece9a,#fed2a3,#fed8ad,#ffddb7)"></i>
<i style="background:linear-gradient(90deg,#ffe3c4,#ffe2c1,#ffe0bd,#ffdeba,#ffddb7,#fedbb3,#fed9af,#fed7ab,#fed4a7,#fed2a2,#fed09d,#fece9a,#fecc97,#feca93,#fec88e,#ffc386,#ffbf7e,#ffba75,#ffb56a,#ffae5d,#ffa54c,#ff9b3a,#ff9029,#fe8519,#f9760d,#f26502,#e54e01,#d93a00,#c82900,#bd2000,#c02200,#cf3000,#de4301,#ea5701,#f66e08,#fd8013,#fe8c23,#ff9835,#ffa349,#ffae5d,#ffb56b,#ffbc78,#ffc285,#fec890,#fecc97,#fed09f,#fed6a9,#fedbb4)"></i>
<i style="background:linear-gradient(90deg,#ffe4c4,#ffe2c1,#ffe0be,#ffdfbb,#ffddb8,#fedbb4,#fed9b0,#fed7ac,#fed5a8,#fed3a3,#fed09e,#fece9b,#fecd98,#fecb94,#fec890,#fec589,#ffc081,#ffbb78,#ffb66e,#ffb162,#ffa852,#ff9f3f,#ff942f,#fe891e,#fc7c10,#f56b06,#e95501,#dd4100,#cd2e00,#be2100,#bc1f00,#c72900,#d93b00,#e64f01,#f36704,#fa790f,#fe871c,#ff932e,#ff9f41,#ffaa55,#ffb266,#ffb974,#ffc080,#fec68c,#fecb94,#fecf9c,#fed4a5,#fed9b0)"></i>
<i style="background:linear-gradient(90deg,#ffe4c5,#ffe2c2,#ffe1bf,#ffdfbc,#ffdeb8,#fedcb5,#fedab1,#fed8ad,#fed6a9,#fed3a4,#fed1a0,#fecf9c,#fecd99,#fecb95,#fec991,#fec68b,#ffc283,#ffbd7a,#ffb871,#ffb366,#ffab57,#ffa245,#ff9734,#fe8c24,#fe8113,#f7710a,#ed5b02,#e14701,#d33300,#c12400,#ba1d00,#c12300,#d23300,#e14701,#ed5c02,#f8720b,#fe8315,#fe8f27,#ff9b39,#ffa64e,#ffb060,#ffb76e,#ffbe7b,#ffc487,#fec992,#fecd99,#fed2a1,#fed7ac)"></i>
<i style="background:linear-gradient(90deg,#ffe4c6,#ffe3c3,#ffe1c0,#ffe0bc,#ffdeb9,#ffdcb6,#fedab2,#fed8ae,#fed6aa,#fed4a6,#fed2a1,#fecf9d,#fece9a,#fecc96,#feca92,#fec78d,#ffc386,#ffbe7d,#ffba74,#ffb46a,#ffad5c,#ffa54b,#ff9b39,#fe9029,#fe8519,#f9760d,#f26502,#e54e01,#d93a00,#c62800,#ba1d00,#bc1f00,#ca2c00,#dc3f00,#e85401,#f56b06,#fc7d11,#fe8a20,#ff9633,#ffa246,#ffac5a,#ffb469,#ffbb77,#ffc283,#fec88f,#fecc96,#fed09d,#fed5a8)"></i>
<i style="background:linear-gradient(90deg,#ffe5c6,#ffe3c3,#ffe2c0,#ffe0bd,#ffdeba,#ffddb7,#fedbb3,#fed9af,#fed7ab,#fed4a7,#fed2a2,#fed09e,#fece9a,#fecc97,#feca93,#fec88f,#ffc488,#ffc080,#ffbb77,#ffb66d,#ffb062,#ffa851,#ff9e3f,#ff942f,#fe891e,#fb7c10,#f56b06,#e95501,#dd4000,#cc2d00,#bc1f00,#b91c00,#c32500,#d63700,#e34c01,#f26402,#f9760d,#fe861a,#ff922b,#ff9e3e,#ffa852,#ffb164,#ffb872,#ffbf7e,#fec58a,#feca93,#fece9b,#fed3a4)"></i>
<i style="background:linear-gradient(90deg,#ffe5c7,#ffe3c4,#ffe2c1,#ffe0be,#ffdfbb,#ffddb7,#fedbb4,#fed9b0,#fed7ac,#fed5a8,#fed3a3,#fed09f,#fecf9b,#fecd98,#fecb94,#fec990,#fec58a,#ffc182,#ffbd7a,#ffb870,#ffb266,#ffaa56,#ffa145,#ff9734,#fe8c24,#fe8113,#f7710a,#ed5b02,#e14701,#d23300,#c02200,#b81b00,#bc1f00,#ce2f00,#de4301,#eb5801,#f76f09,#fe8113,#fe8d24,#ff9937,#ffa44b,#ffae5e,#ffb66d,#ffbd7a,#ffc386,#fec991,#fecd98,#fed1a0)"></i>
<i style="background:linear-gradient(90deg,#ffe5c7,#ffe4c5,#ffe2c2,#ffe1bf,#ffdfbb,#ffddb8,#fedcb5,#fedab1,#fed8ad,#fed6a9,#fed3a5,#fed1a0,#fecf9c,#fecd99,#fecb95,#fec992,#fec78c,#ffc285,#ffbe7c,#ffb973,#ffb469,#ffad5c,#ffa44b,#ff9b39,#fe9029,#fe8519,#f9760d,#f26502,#e54e01,#d83900,#c52700,#b81c00,#b81c00,#c62800,#d93b00,#e65001,#f46805,#fb7a0f,#fe881e,#ff9530,#ffa043,#ffab57,#ffb367,#ffba75,#ffc181,#fec78d,#fecb95,#fecf9d)"></i>
<i style="background:linear-gradient(90deg,#ffe5c8,#ffe4c5,#ffe3c2,#ffe1bf,#ffdfbc,#ffdeb9,#ffdcb6,#fedab2,#fed8ae,#fed6aa,#fed4a6,#fed2a1,#fed09d,#fece9a,#fecc96,#feca93,#fec88f,#ffc487,#ffbf7f,#ffbb76,#ffb66c,#ffb061,#ffa750,#ff9e3e,#ff942e,#fe891e,#fc7c10,#f56b06,#e95501,#dd4000,#cb2c00,#ba1d00,#b61a00,#be2100,#d23300,#e14801,#ee5e02,#f8740b,#fe8417,#fe9029,#ff9c3b,#ffa74f,#ffb062,#ffb770,#ffbe7d,#fec589,#feca92,#fece9a)"></i>
<i style="background:linear-gradient(90deg,#ffe6c9,#ffe4c6,#ffe3c3,#ffe1c0,#ffe0bd,#ffdeba,#ffdcb6,#fedbb3,#fed9af,#fed7ab,#fed5a7,#fed2a3,#fed09e,#fece9b,#fecc97,#fecb94,#fec890,#fec589,#ffc182,#ffbc79,#ffb770,#ffb265,#ffaa56,#ffa144,#ff9734,#fe8c24,#fe8113,#f7710a,#ed5b02,#e14701,#d23200,#be2100,#b51900,#b91c00,#c92b00,#dc4000,#e95501,#f56d07,#fd7e12,#fe8b22,#ff9734,#ffa348,#ffad5c,#ffb56b,#ffbc78,#ffc284,#fec88f,#fecc97)"></i>
<i style="background:linear-gradient(90deg,#ffe6c9,#ffe5c6,#ffe3c4,#ffe2c1,#ffe0be,#ffdfba,#ffddb7,#fedbb4,#fed9b0,#fed7ac,#fed5a8,#fed3a4,#fed19f,#fecf9c,#fecd98,#fecb95,#fec991,#fec68c,#ffc284,#ffbe7c,#ffb973,#ffb469,#ffad5b,#ffa44a,#ff9b39,#fe9029,#fe8519,#f9760d,#f26502,#e54e01,#d83900,#c42600,#b61a00,#b51900,#c12300,#d73700,#e44d01,#f26503,#fa780e,#fe871b,#ff932d,#ff9f3f,#ffa954,#ffb265,#ffb973,#ffc080,#fec68b,#fecb94)"></i>
<i style="background:linear-gradient(90deg,#ffe6ca,#ffe5c7,#ffe3c4,#ffe2c1,#ffe0be,#ffdfbb,#ffddb8,#fedcb5,#fedab1,#fed8ad,#fed6a9,#fed3a5,#fed1a0,#fecf9d,#fecd99,#fecc96,#feca92,#fec78e,#ffc386,#ffbf7e,#ffba76,#ffb56c,#ffaf60,#ffa750,#ff9e3e,#ff932e,#fe891e,#fc7c10,#f56b06,#e95501,#dc4000,#ca2c00,#b91c00,#b31700,#ba1d00,#ce2f00,#df4401,#ec5902,#f7710a,#fe8214,#fe8e26,#ff9a38,#ffa54d,#ffaf60,#ffb66e,#ffbd7b,#ffc487,#fec991)"></i>
<i style="background:linear-gradient(90deg,#ffe7ca,#ffe5c8,#ffe4c5,#ffe2c2,#ffe1bf,#ffdfbc,#ffdeb9,#fedcb5,#fedab2,#fed8ae,#fed6aa,#fed4a6,#fed2a2,#fed09d,#fece9a,#fecc97,#feca93,#fec88f,#fec589,#ffc081,#ffbc78,#ffb76f,#ffb265,#ffaa55,#ffa144,#ff9734,#fe8c24,#fe8114,#f7710a,#ed5c02,#e14701,#d13200,#bc1f00,#b31700,#b51900,#c52700,#da3b00,#e75101,#f46a05,#fc7c10,#fe891f,#ff9632,#ffa145,#ffac59,#ffb469,#ffbb76,#ffc183,#fec88e)"></i>
<i style="background:linear-gradient(90deg,#ffe7cb,#ffe6c8,#ffe4c5,#ffe3c3,#ffe1c0,#ffe0bd,#ffdeb9,#ffdcb6,#fedbb3,#fed9af,#fed7ab,#fed5a7,#fed2a3,#fed09e,#fece9b,#fecd98,#fecb94,#fec991,#fec68b,#ffc283,#ffbd7b,#ffb972,#ffb468,#ffad5b,#ffa44a,#ff9b39,#fe9029,#fe8519,#f9770d,#f26503,#e54e01,#d83900,#c32500,#b41800,#b21600,#bc1f00,#d23300,#e24901,#f06002,#f9750c,#fe8518,#ff912a,#ff9d3d,#ffa851,#ffb163,#ffb871,#ffbf7e,#fec58a)"></i>
<i style="background:linear-gradient(90deg,#ffe7cb,#ffe6c9,#ffe4c6,#ffe3c3,#ffe1c0,#ffe0bd,#ffdeba,#ffddb7,#fedbb4,#fed9b0,#fed7ac,#fed5a8,#fed3a4,#fed19f,#fecf9c,#fecd99,#fecb95,#fec992,#fec78d,#ffc386,#ffbf7e,#ffba75,#ffb56c,#ffaf60,#ffa750,#ff9e3e,#ff932e,#fe891e,#fc7c10,#f56b06,#e95501,#dd4000,#ca2b00,#b71b00,#b01500,#b61a00,#c92b00,#dd4000,#ea5601,#f66e08,#fd8013,#fe8c23,#ff9936,#ffa44a,#ffae5e,#ffb56c,#ffbc79,#ffc385)"></i>
<i style="background:linear-gradient(90deg,#ffe7cc,#ffe6c9,#ffe5c7,#ffe3c4,#ffe2c1,#ffe0be,#ffdfbb,#ffddb8,#fedbb5,#fedab1,#fed8ad,#fed6a9,#fed4a5,#fed1a1,#fecf9d,#fece9a,#fecc96,#feca93,#fec88f,#ffc488,#ffc080,#ffbc78,#ffb76f,#ffb264,#ffaa55,#ffa144,#ff9734,#fe8c24,#fe8114,#f7710a,#ed5c02,#e14801,#d13200,#bb1f00,#b11500,#b21600,#c02200,#d73700,#e54e01,#f36704,#fa790f,#fe881d,#ff942f,#ffa042,#ffaa56,#ffb367,#ffba74,#ffc081)"></i>
<i style="background:linear-gradient(90deg,#ffe8cc,#ffe6ca,#ffe5c7,#ffe4c4,#ffe2c1,#ffe1bf,#ffdfbc,#ffdeb8,#fedcb5,#fedab2,#fed8ae,#fed6aa,#fed4a6,#fed2a2,#fed09e,#fece9b,#fecc97,#fecb94,#fec990,#fec58a,#ffc183,#ffbd7b,#ffb872,#ffb368,#ffac5a,#ffa44a,#ff9b39,#fe9029,#fe8519,#fa770d,#f36503,#e54f01,#d83900,#c22400,#b31700,#af1300,#b81c00,#ce2f00,#e04501,#ec5b02,#f8720b,#fe8316,#fe8f28,#ff9b3a,#ffa64f,#ffb061,#ffb76f,#ffbe7c)"></i>
<i style="background:linear-gradient(90deg,#ffe8cd,#ffe7ca,#ffe5c8,#ffe4c5,#ffe2c2,#ffe1bf,#ffdfbc,#ffdeb9,#ffdcb6,#fedbb3,#fed9af,#fed7ab,#fed5a7,#fed3a3,#fed09f,#fecf9b,#fecd98,#fecb95,#fec991,#fec78c,#ffc385,#ffbe7d,#ffba75,#ffb56b,#ffaf5f,#ffa74f,#ff9e3e,#ff942e,#fe891f,#fc7c11,#f56c07,#e95601,#dd4100,#ca2b00,#b61a00,#ae1200,#b31700,#c42600,#da3c00,#e85301,#f56b06,#fc7d11,#fe8a21,#ff9733,#ffa247,#ffad5b,#ffb46a,#ffbb78)"></i>
<i style="background:linear-gradient(90deg,#ffe8cd,#ffe7cb,#ffe6c8,#ffe4c6,#ffe3c3,#ffe1c0,#ffe0bd,#ffdeba,#ffddb7,#fedbb4,#fed9b0,#fed7ac,#fed5a8,#fed3a4,#fed1a0,#fecf9c,#fecd99,#fecc96,#feca92,#fec88e,#ffc487,#ffc080,#ffbb77,#ffb76e,#ffb164,#ffaa55,#ffa144,#ff9734,#fe8d24,#fe8214,#f7720a,#ed5c02,#e14801,#d23200,#bb1e00,#ae1300,#ae1300,#bb1e00,#d33300,#e34a01,#f16302,#f9770d,#fe861a,#ff922c,#ff9e3e,#ffa953,#ffb265,#ffb973)"></i>
<i style="background:linear-gradient(90deg,#ffe8ce,#ffe7cb,#ffe6c9,#ffe4c6,#ffe3c3,#ffe2c1,#ffe0be,#ffdfbb,#ffddb8,#fedbb4,#fedab1,#fed8ad,#fed6a9,#fed4a5,#fed2a1,#fed09d,#fece9a,#fecc97,#feca93,#fec890,#fec58a,#ffc182,#ffbd7a,#ffb871,#ffb368,#ffac5a,#ffa44a,#ff9b39,#ff9029,#fe8619,#fa770e,#f36603,#e64f01,#d83900,#c22400,#b11500,#ac1000,#b51800,#c92b00,#dd4100,#eb5801,#f76f09,#fe8114,#fe8d25,#ff9a38,#ffa54c,#ffaf5f,#ffb66d)"></i>
<i style="background:linear-gradient(90deg,#ffe9ce,#ffe7cc,#ffe6c9,#ffe5c7,#ffe3c4,#ffe2c1,#ffe0be,#ffdfbb,#ffddb8,#fedcb5,#fedab2,#fed8ae,#fed6aa,#fed4a6,#fed2a2,#fed09e,#fece9b,#fecd98,#fecb94,#fec991,#fec68c,#ffc285,#ffbe7d,#ffba74,#ffb56b,#ffaf5f,#ffa74f,#ff9e3e,#ff942f,#fe891f,#fc7d11,#f56c07,#ea5601,#dd4100,#ca2b00,#b51900,#ab1000,#af1300,#bf2200,#d83800,#e64f01,#f46804,#fb7b10,#fe891e,#ff9531,#ffa144,#ffab58,#ffb368)"></i>
<i style="background:linear-gradient(90deg,#ffe9cf,#ffe8cc,#ffe6ca,#ffe5c7,#ffe4c5,#ffe2c2,#ffe1bf,#ffdfbc,#ffdeb9,#ffdcb6,#fedbb3,#fed9af,#fed7ab,#fed5a7,#fed3a3,#fed19f,#fecf9c,#fecd99,#fecb95,#feca92,#fec78e,#ffc487,#ffc07f,#ffbb77,#ffb66e,#ffb164,#ffaa55,#ffa144,#ff9734,#fe8d24,#fe8214,#f8720a,#ee5d02,#e24901,#d23200,#ba1e00,#ac1100,#ab1000,#b71b00,#ce2f00,#e04701,#ee5d02,#f8740b,#fe8417,#ff9029,#ff9d3c,#ffa851,#ffb163)"></i>
<i style="background:linear-gradient(90deg,#ffe9cf,#ffe8cd,#ffe7ca,#ffe5c8,#ffe4c5,#ffe3c2,#ffe1c0,#ffe0bd,#ffdeba,#ffddb7,#fedbb3,#fed9b0,#fed7ac,#fed5a8,#fed3a4,#fed1a0,#fecf9d,#fece9a,#fecc96,#feca93,#fec88f,#fec589,#ffc182,#ffbd7a,#ffb871,#ffb367,#ffac5a,#ffa44a,#ff9b39,#ff9029,#fe861a,#fa780e,#f36603,#e65001,#d93a00,#c22400,#b01400,#a80e00,#b11500,#c42600,#db3d00,#e95401,#f56d07,#fd7f12,#fe8c22,#ff9835,#ffa349,#ffae5d)"></i>
<i style="background:linear-gradient(90deg,#ffe9d0,#ffe8ce,#ffe7cb,#ffe6c8,#ffe4c6,#ffe3c3,#ffe1c0,#ffe0bd,#ffdeba,#ffddb7,#fedbb4,#fedab1,#fed8ad,#fed6a9,#fed4a5,#fed2a1,#fed09d,#fece9a,#fecc97,#fecb94,#fec991,#fec68b,#ffc284,#ffbe7c,#ffba74,#ffb56b,#ffaf5f,#ffa74f,#ff9e3e,#ff942f,#fe8a1f,#fc7d11,#f56d07,#ea5701,#dd4200,#ca2b00,#b51800,#a80e00,#ab1000,#ba1e00,#d43400,#e34c01,#f26503,#fa780e,#fe871c,#ff932e,#ff9f41,#ffaa55)"></i>
<i style="background:linear-gradient(90deg,#ffead0,#ffe8ce,#ffe7cb,#ffe6c9,#ffe5c6,#ffe3c4,#ffe2c1,#ffe0be,#ffdfbb,#ffddb8,#fedcb5,#fedab2,#fed8ae,#fed6aa,#fed4a6,#fed2a2,#fed09e,#fecf9b,#fecd98,#fecb95,#fec992,#fec78d,#ffc386,#ffbf7f,#ffbb77,#ffb66e,#ffb164,#ffaa55,#ffa144,#ff9734,#fe8d25,#fe8215,#f8730b,#ee5e02,#e24901,#d23300,#ba1d00,#ab1000,#a60e00,#b31700,#c92b00,#de4301,#eb5902,#f7710a,#fe8215,#fe8e27,#ff9b39,#ffa64e)"></i>
<i style="background:linear-gradient(90deg,#ffead1,#ffe9cf,#ffe7cc,#ffe6c9,#ffe5c7,#ffe3c4,#ffe2c1,#ffe1bf,#ffdfbc,#ffdeb9,#ffdcb6,#fedbb3,#fed9af,#fed7ab,#fed5a8,#fed3a4,#fed19f,#fecf9c,#fecd99,#fecc96,#feca93,#fec88f,#fec589,#ffc181,#ffbc79,#ffb871,#ffb367,#ffac5a,#ffa44a,#ff9b39,#ff902a,#fe861a,#fa780e,#f36704,#e65101,#d93b00,#c22400,#af1300,#a40d00,#ac1100,#bf2200,#d83900,#e65101,#f46a05,#fc7c11,#fe8a20,#ff9632,#ffa246)"></i>
<i style="background:linear-gradient(90deg,#ffead1,#ffe9cf,#ffe8cc,#ffe6ca,#ffe5c7,#ffe4c5,#ffe2c2,#ffe1bf,#ffe0bc,#ffdeb9,#ffddb6,#fedbb3,#fed9b0,#fed7ac,#fed5a9,#fed3a5,#fed1a1,#fecf9d,#fece9a,#fecc97,#feca94,#fec990,#fec68b,#ffc284,#ffbe7c,#ffb974,#ffb56b,#ffaf5f,#ffa74f,#ff9e3e,#ff942f,#fe8a20,#fc7e12,#f66d08,#eb5801,#de4301,#cb2c00,#b41800,#a50d00,#a60e00,#b61a00,#cf3000,#e14801,#f06002,#f9750c,#fe8519,#ff912b,#ff9e3e)"></i>
<i style="background:linear-gradient(90deg,#ffead2,#ffe9cf,#ffe8cd,#ffe7ca,#ffe5c8,#ffe4c5,#ffe3c3,#ffe1c0,#ffe0bd,#ffdeba,#ffddb7,#fedbb4,#fedab1,#fed8ad,#fed6aa,#fed4a6,#fed2a2,#fed09e,#fece9b,#fecd98,#fecb95,#fec991,#fec78d,#ffc386,#ffbf7e,#ffbb76,#ffb66e,#ffb164,#ffaa55,#ffa144,#ff9835,#fe8d25,#fe8315,#f8730b,#ef6002,#e34a01,#d33400,#ba1d00,#a90f00,#a20c00,#af1300,#c42700,#dc3f00,#e95601,#f66e08,#fd8013,#fe8d24,#ff9937)"></i>
<i style="background:linear-gradient(90deg,#ffead2,#ffe9d0,#ffe8cd,#ffe7cb,#ffe6c8,#ffe4c6,#ffe3c3,#ffe2c0,#ffe0be,#ffdfbb,#ffddb8,#fedcb5,#fedab2,#fed8ae,#fed6aa,#fed4a7,#fed2a3,#fed09f,#fecf9c,#fecd99,#fecc96,#feca92,#fec88f,#ffc488,#ffc081,#ffbc79,#ffb871,#ffb367,#ffac5a,#ffa44a,#ff9b3a,#ff912a,#fe871b,#fa790f,#f46804,#e75201,#da3b00,#c22500,#ae1300,#a10c00,#a80e00,#ba1d00,#d53500,#e44d01,#f36704,#fb7a0f,#fe881d,#ff9530)"></i>
<i style="background:linear-gradient(90deg,#ffebd3,#ffead0,#ffe8ce,#ffe7cb,#ffe6c9,#ffe5c6,#ffe3c4,#ffe2c1,#ffe0be,#ffdfbb,#ffdeb9,#ffdcb6,#fedab3,#fed9af,#fed7ab,#fed5a8,#fed3a4,#fed1a0,#fecf9c,#fece9a,#fecc97,#feca93,#fec890,#fec58a,#ffc283,#ffbe7c,#ffb974,#ffb56a,#ffaf5f,#ffa74f,#ff9e3f,#ff9430,#fe8a20,#fd7f12,#f66e08,#eb5901,#df4401,#cb2d00,#b41800,#a30d00,#a10c00,#b21600,#ca2c00,#df4401,#ec5b02,#f8730b,#fe8416,#fe9028)"></i>
<i style="background:linear-gradient(90deg,#ffebd3,#ffead1,#ffe9ce,#ffe7cc,#ffe6c9,#ffe5c7,#ffe4c4,#ffe2c2,#ffe1bf,#ffdfbc,#ffdeb9,#ffdcb6,#fedbb3,#fed9b0,#fed7ac,#fed5a9,#fed4a5,#fed1a1,#fed09d,#fece9a,#fecd97,#fecb94,#fec991,#fec68c,#ffc385,#ffbf7e,#ffbb76,#ffb66e,#ffb164,#ffaa55,#ffa145,#ff9835,#fe8e26,#fe8316,#f8740c,#f06102,#e34b01,#d43400,#ba1e00,#a80e00,#9e0b00,#aa0f00,#bf2200,#d93a00,#e75201,#f56b06,#fc7e11,#fe8b21)"></i>
<i style="background:linear-gradient(90deg,#ffebd3,#ffead1,#ffe9cf,#ffe8cc,#ffe6ca,#ffe5c7,#ffe4c5,#ffe2c2,#ffe1c0,#ffe0bd,#ffdeba,#ffddb7,#fedbb4,#fedab1,#fed8ad,#fed6aa,#fed4a6,#fed2a2,#fed09e,#fecf9b,#fecd98,#fecb95,#feca92,#fec88e,#ffc488,#ffc081,#ffbc79,#ffb871,#ffb367,#ffac5a,#ffa44a,#ff9b3a,#ff912b,#fe871c,#fb7a0f,#f46905,#e85301,#da3d00,#c32500,#ae1200,#9d0b00,#a20c00,#b61a00,#d03100,#e24901,#f16302,#fa770d,#fe861b)"></i>
<i style="background:linear-gradient(90deg,#ffebd3,#ffead2,#ffe9cf,#ffe8cd,#ffe7ca,#ffe5c8,#ffe4c5,#ffe3c3,#ffe1c0,#ffe0bd,#ffdfbb,#ffddb8,#fedcb5,#fedab2,#fed8ae,#fed6ab,#fed5a7,#fed3a3,#fed19f,#fecf9c,#fecd99,#fecc96,#feca93,#fec890,#fec58a,#ffc183,#ffbe7b,#ffb973,#ffb56a,#ffaf5f,#ffa750,#ff9f3f,#ff9530,#fe8b21,#fd7f12,#f66f09,#ec5a02,#df4501,#cc2d00,#b41800,#a10c00,#9c0a00,#ae1200,#c52700,#dc4000,#ea5701,#f77009,#fe8214)"></i>
<i style="background:linear-gradient(90deg,#ffebd3,#ffead2,#ffe9d0,#ffe8cd,#ffe7cb,#ffe6c8,#ffe4c6,#ffe3c3,#ffe2c1,#ffe0be,#ffdfbb,#ffddb8,#ffdcb6,#fedab2,#fed9af,#fed7ac,#fed5a8,#fed3a4,#fed1a0,#fecf9d,#fece9a,#fecc97,#fecb94,#fec991,#fec68c,#ffc385,#ffbf7e,#ffbb76,#ffb66d,#ffb164,#ffaa55,#ffa245,#ff9835,#fe8e26,#fe8417,#f9750c,#f16302,#e44c01,#d53500,#bb1e00,#a60e00,#990900,#a50d00,#ba1d00,#d63600,#e54f01,#f46804,#fb7b10)"></i>
<i style="background:linear-gradient(90deg,#ffebd3,#ffebd3,#ffead0,#ffe8ce,#ffe7cb,#ffe6c9,#ffe5c6,#ffe3c4,#ffe2c1,#ffe1bf,#ffdfbc,#ffdeb9,#ffdcb6,#fedbb3,#fed9b0,#fed7ac,#fed6a9,#fed4a5,#fed2a1,#fed09e,#fece9b,#fecd98,#fecb95,#fec992,#fec78e,#ffc487,#ffc080,#ffbc79,#ffb870,#ffb367,#ffac5a,#ffa44b,#ff9c3a,#ff922b,#fe881c,#fb7b10,#f46a06,#e85401,#db3e00,#c42600,#ad1200,#9a0a00,#9c0a00,#b11600,#cb2c00,#e04601,#ee5d02,#f8740c)"></i>
<i style="background:linear-gradient(90deg,#ffebd3,#ffebd3,#ffead1,#ffe9ce,#ffe7cc,#ffe6c9,#ffe5c7,#ffe4c4,#ffe2c2,#ffe1bf,#ffe0bd,#ffdeba,#ffddb7,#fedbb4,#fedab1,#fed8ad,#fed6aa,#fed4a6,#fed2a2,#fed09e,#fecf9c,#fecd99,#fecc96,#feca93,#fec88f,#fec589,#ffc183,#ffbd7b,#ffb973,#ffb56a,#ffaf5f,#ffa750,#ff9f40,#ff9531,#fe8b22,#fd8013,#f77009,#ec5b02,#e04601,#cd2e00,#b41800,#9f0b00,#970900,#a90f00,#c02200,#da3c00,#e85401,#f66d07)"></i>
<i style="background:linear-gradient(90deg,#ffebd3,#ffebd3,#ffead1,#ffe9cf,#ffe8cc,#ffe6ca,#ffe5c8,#ffe4c5,#ffe3c2,#ffe1c0,#ffe0bd,#ffdfba,#ffddb8,#fedcb5,#fedab2,#fed8ae,#fed7ab,#fed5a7,#fed3a3,#fed1a0,#fecf9c,#fece9a,#fecc97,#feca94,#fec990,#fec68b,#ffc385,#ffbf7e,#ffbb76,#ffb66d,#ffb164,#ffaa55,#ffa246,#ff9936,#fe8f27,#fe8418,#f9760d,#f26502,#e54e01,#d63600,#bc1f00,#a60e00,#950800,#9e0b00,#b61a00,#d13200,#e34b01,#f26503)"></i>
<i style="background:linear-gradient(90deg,#ffebd3,#ffebd3,#ffead2,#ffe9cf,#ffe8cd,#ffe7ca,#ffe5c8,#ffe4c6,#ffe3c3,#ffe2c0,#ffe0be,#ffdfbb,#ffddb8,#fedcb5,#fedab2,#fed9af,#fed7ac,#fed5a8,#fed3a4,#fed1a1,#fed09d,#fece9a,#fecd98,#fecb95,#fec991,#fec78d,#ffc487,#ffc080,#ffbc79,#ffb870,#ffb367,#ffad5b,#ffa54b,#ff9c3b,#ff922c,#fe881d,#fb7c10,#f56b06,#e95501,#dc3f00,#c52700,#ae1200,#970900,#960800,#ad1100,#c62800,#dd4200,#eb5902)"></i>
<i style="background:linear-gradient(90deg,#ffebd3,#ffebd3,#ffead2,#ffe9d0,#ffe8cd,#ffe7cb,#ffe6c9,#ffe4c6,#ffe3c4,#ffe2c1,#ffe1be,#ffdfbc,#ffdeb9,#ffdcb6,#fedbb3,#fed9b0,#fed7ad,#fed6a9,#fed4a5,#fed2a2,#fed09e,#fecf9b,#fecd98,#fecb96,#feca92,#fec88f,#fec589,#ffc182,#ffbd7b,#ffb973,#ffb56b,#ffaf5f,#ffa751,#ff9f40,#ff9632,#fe8c23,#fe8113,#f7710a,#ed5c02,#e14701,#cf3000,#b51900,#9d0b00,#920700,#a20c00,#ba1e00,#d73700,#e65001)"></i>
<i style="background:linear-gradient(90deg,#ffebd3,#ffebd3,#ffebd2,#ffe9d0,#ffe8ce,#ffe7cb,#ffe6c9,#ffe5c7,#ffe3c4,#ffe2c2,#ffe1bf,#ffdfbc,#ffdeba,#ffddb7,#fedbb4,#fedab1,#fed8ad,#fed6aa,#fed4a6,#fed2a3,#fed09f,#fecf9c,#fecd99,#fecc96,#feca93,#fec990,#fec68b,#ffc285,#ffbf7e,#ffbb76,#ffb66e,#ffb164,#ffaa56,#ffa246,#ff9937,#fe8f28,#fe8519,#fa770d,#f36603,#e54f01,#d83800,#bd1f00,#a60e00,#910700,#980900,#b11500,#cc2d00,#e14701)"></i>
<i style="background:linear-gradient(90deg,#ffebd3,#ffebd3,#ffebd3,#ffead1,#ffe9ce,#ffe7cc,#ffe6ca,#ffe5c7,#ffe4c5,#ffe2c2,#ffe1c0,#ffe0bd,#ffdeba,#ffddb7,#fedcb5,#fedab2,#fed8ae,#fed7ab,#fed5a7,#fed3a4,#fed1a0,#fecf9d,#fece9a,#fecc97,#fecb94,#fec991,#fec78d,#ffc487,#ffc080,#ffbc79,#ffb870,#ffb368,#ffad5b,#ffa54c,#ff9c3c,#ff932d,#fe891e,#fc7d11,#f56c07,#ea5601,#dd4000,#c72800,#ae1200,#950800,#900600,#a70e00,#c02300,#db3d00)"></i>
<i style="background:linear-gradient(90deg,#ffebd3,#ffebd3,#ffebd3,#ffead1,#ffe9cf,#ffe8cc,#ffe6ca,#ffe5c8,#ffe4c5,#ffe3c3,#ffe1c0,#ffe0bd,#ffdfbb,#ffddb8,#fedcb5,#fedab2,#fed9af,#fed7ac,#fed5a8,#fed3a5,#fed2a1,#fed09d,#fece9b,#fecd98,#fecb95,#feca92,#fec88f,#fec589,#ffc182,#ffbd7b,#ffb973,#ffb56b,#ffaf60,#ffa851,#ffa041,#ff9632,#fe8c23,#fe8214,#f8720b,#ee5d02,#e24901,#d03100,#b61900,#9c0a00,#8c0500,#9b0a00,#b61a00,#d33300)"></i>
<i style="background:linear-gradient(90deg,#ffebd3,#ffebd3,#ffebd3,#ffead1,#ffe9cf,#ffe8cd,#ffe7ca,#ffe5c8,#ffe4c6,#ffe3c3,#ffe2c1,#ffe0be,#ffdfbb,#ffdeb9,#ffdcb6,#fedbb3,#fed9b0,#fed8ad,#fed6a9,#fed4a6,#fed2a2,#fed09e,#fecf9c,#fecd99,#fecc96,#feca93,#fec890,#fec68b,#ffc284,#ffbf7e,#ffbb76,#ffb66e,#ffb265,#ffaa56,#ffa347,#ff9a38,#fe9029,#fe861a,#fa780e,#f36704,#e65001,#d83900,#be2100,#a60e00,#8e0600,#910700,#ac1100,#c72900)"></i>
<i style="background:linear-gradient(90deg,#ffebd3,#ffebd3,#ffebd3,#ffead2,#ffe9d0,#ffe8cd,#ffe7cb,#ffe6c9,#ffe5c6,#ffe3c4,#ffe2c1,#ffe1bf,#ffdfbc,#ffdeb9,#ffddb7,#fedbb4,#fedab1,#fed8ae,#fed6aa,#fed4a7,#fed3a3,#fed19f,#fecf9c,#fece9a,#fecc97,#fecb94,#fec991,#fec78d,#ffc387,#ffc080,#ffbc79,#ffb871,#ffb368,#ffad5b,#ffa54c,#ff9d3c,#ff932e,#fe891f,#fc7e11,#f66d08,#eb5801,#de4200,#c82a00,#af1300,#930700,#8a0400,#a00c00,#bb1e00)"></i>
<i style="background:linear-gradient(90deg,#ffebd3,#ffebd3,#ffebd3,#ffead2,#ffe9d0,#ffe8ce,#ffe7cb,#ffe6c9,#ffe5c7,#ffe4c4,#ffe2c2,#ffe1bf,#ffe0bd,#ffdeba,#ffddb7,#fedcb5,#fedab2,#fed8ae,#fed7ab,#fed5a8,#fed3a4,#fed1a0,#fed09d,#fece9b,#fecd98,#fecb95,#feca92,#fec88f,#fec589,#ffc182,#ffbd7b,#ffb973,#ffb56b,#ffaf60,#ffa852,#ffa042,#ff9733,#fe8d24,#fe8315,#f8730b,#f06002,#e34a01,#d23300,#b71a00,#9c0a00,#880400,#940800,#b11500)"></i>
<i style="background:linear-gradient(90deg,#ffebd3,#ffebd3,#ffebd3,#ffebd3,#ffead0,#ffe9ce,#ffe7cc,#ffe6ca,#ffe5c7,#ffe4c5,#ffe3c2,#ffe1c0,#ffe0bd,#ffdfbb,#ffddb8,#fedcb5,#fedab2,#fed9af,#fed7ac,#fed5a9,#fed4a5,#fed2a2,#fed09e,#fecf9b,#fecd99,#fecc96,#feca93,#fec890,#fec68b,#ffc284,#ffbf7d,#ffbb76,#ffb66e,#ffb265,#ffab57,#ffa348,#ff9a38,#ff9029,#fe861b,#fa790f,#f46805,#e75201,#d93b00,#c02200,#a60e00,#8b0500,#8a0400,#a60e00)"></i>
<i style="background:linear-gradient(90deg,#ffebd3,#ffebd3,#ffebd3,#ffebd3,#ffead1,#ffe9cf,#ffe8cc,#ffe6ca,#ffe5c8,#ffe4c5,#ffe3c3,#ffe2c0,#ffe0be,#ffdfbb,#ffdeb9,#ffdcb6,#fedbb3,#fed9b0,#fed8ad,#fed6aa,#fed4a6,#fed2a3,#fed09f,#fecf9c,#fece9a,#fecc97,#fecb94,#fec991,#fec78d,#ffc386,#ffc080,#ffbc79,#ffb871,#ffb368,#ffad5c,#ffa64d,#ff9d3d,#ff942f,#fe8a20,#fd7f12,#f66f08,#ec5902,#df4401,#ca2b00,#b01400,#920700,#830200,#990900)"></i>
<i style="background:linear-gradient(90deg,#ffebd3,#ffebd3,#ffebd3,#ffebd3,#ffead1,#ffe9cf,#ffe8cd,#ffe7ca,#ffe6c8,#ffe4c6,#ffe3c3,#ffe2c1,#ffe1be,#ffdfbc,#ffdeb9,#ffddb7,#fedbb4,#fedab1,#fed8ae,#fed6aa,#fed5a7,#fed3a4,#fed1a0,#fecf9d,#fece9a,#fecd98,#fecb95,#fec992,#fec88f,#ffc488,#ffc182,#ffbd7b,#ffb974,#ffb56b,#ffb061,#ffa853,#ffa143,#ff9734,#fe8e25,#fe8316,#f9750c,#f16202,#e44c01,#d43400,#b81b00,#9c0a00,#830200,#8c0500)"></i>
<i style="background:linear-gradient(90deg,#ffebd3,#ffebd3,#ffebd3,#ffebd3,#ffead2,#ffe9d0,#ffe8cd,#ffe7cb,#ffe6c9,#ffe5c6,#ffe3c4,#ffe2c1,#ffe1bf,#ffe0bc,#ffdeba,#ffddb7,#fedcb5,#fedab2,#fed8af,#fed7ab,#fed5a8,#fed3a5,#fed2a1,#fed09e,#fece9b,#fecd98,#fecc96,#feca93,#fec890,#fec68a,#ffc284,#ffbf7e,#ffbb76,#ffb76e,#ffb265,#ffab58,#ffa349,#ff9b39,#ff912b,#fe871c,#fb7a0f,#f46a05,#e85401,#db3d00,#c12400,#a70e00,#880400,#820200)"></i>
<i style="background:linear-gradient(90deg,#ffebd3,#ffebd3,#ffebd3,#ffebd3,#ffead2,#ffe9d0,#ffe8ce,#ffe7cb,#ffe6c9,#ffe5c7,#ffe4c4,#ffe2c2,#ffe1c0,#ffe0bd,#ffdfba,#ffddb8,#fedcb5,#fedab2,#fed9af,#fed7ac,#fed6a9,#fed4a6,#fed2a2,#fed09e,#fecf9c,#fecd99,#fecc97,#fecb94,#fec991,#fec78c,#ffc386,#ffc080,#ffbc79,#ffb871,#ffb468,#ffae5d,#ffa64e,#ff9e3e,#ff9530,#fe8b21,#fd8013,#f77009,#ed5b02,#e04601,#cc2d00,#b11500,#910700,#7d0000)"></i>
<i style="background:linear-gradient(90deg,#ffebd3,#ffebd3,#ffebd3,#ffebd3,#ffebd3,#ffead0,#ffe9ce,#ffe7cc,#ffe6ca,#ffe5c7,#ffe4c5,#ffe3c3,#ffe1c0,#ffe0be,#ffdfbb,#ffdeb9,#ffdcb6,#fedbb3,#fed9b0,#fed8ad,#fed6aa,#fed4a6,#fed3a3,#fed19f,#fecf9d,#fece9a,#fecc97,#fecb95,#fec992,#fec88e,#ffc488,#ffc182,#ffbd7b,#ffb974,#ffb56b,#ffb062,#ffa953,#ffa144,#ff9835,#fe8e27,#fe8417,#f9760d,#f26502,#e54e01,#d63600,#b91d00,#9d0b00,#7f0100)"></i>
<i style="background:linear-gradient(90deg,#ffebd3,#ffebd3,#ffebd3,#ffebd3,#ffebd3,#ffead1,#ffe9cf,#ffe8cc,#ffe6ca,#ffe5c8,#ffe4c5,#ffe3c3,#ffe2c1,#ffe0be,#ffdfbc,#ffdeb9,#ffddb7,#fedbb4,#fedab1,#fed8ae,#fed6ab,#fed5a7,#fed3a4,#fed1a0,#fed09d,#fece9b,#fecd98,#fecb96,#feca93,#fec890,#fec68a,#ffc284,#ffbf7e,#ffbb76,#ffb76e,#ffb266,#ffac59,#ffa44a,#ff9b3a,#ff922c,#fe881d,#fb7c10,#f56b06,#e95501,#dc3f00,#c42600,#a90f00,#860300)"></i>
<i style="background:linear-gradient(90deg,#ffebd3,#ffebd3,#ffebd3,#ffebd3,#ffebd3,#ffead1,#ffe9cf,#ffe8cd,#ffe7ca,#ffe6c8,#ffe4c6,#ffe3c4,#ffe2c1,#ffe1bf,#ffdfbc,#ffdeba,#ffddb7,#fedbb5,#fedab2,#fed9af,#fed7ac,#fed5a8,#fed4a5,#fed2a2,#fed09e,#fecf9c,#fecd99,#fecc96,#feca94,#fec991,#fec78c,#ffc386,#ffc080,#ffbc79,#ffb871,#ffb469,#ffae5d,#ffa74f,#ff9f3f,#ff9531,#fe8c22,#fe8113,#f7710a,#ee5d02,#e14701,#ce2f00,#b21600,#910700)"></i>
<i style="background:linear-gradient(90deg,#ffebd3,#ffebd3,#ffebd3,#ffebd3,#ffebd3,#ffead2,#ffe9cf,#ffe8cd,#ffe7cb,#ffe6c9,#ffe5c6,#ffe3c4,#ffe2c2,#ffe1bf,#ffe0bd,#ffdeba,#ffddb8,#fedcb5,#fedab2,#fed9af,#fed7ac,#fed6a9,#fed4a6,#fed2a3,#fed09f,#fecf9c,#fece9a,#fecc97,#fecb94,#fec992,#fec88e,#ffc488,#ffc182,#ffbd7b,#ffba74,#ffb56c,#ffb062,#ffa954,#ffa245,#ff9936,#fe8f28,#fe8519,#fa770e,#f36603,#e65001,#d83800,#bb1e00,#9e0b00)"></i>
<i style="background:linear-gradient(90deg,#ffebd3,#ffebd3,#ffebd3,#ffebd3,#ffebd3,#ffead2,#ffe9d0,#ffe8ce,#ffe7cb,#ffe6c9,#ffe5c7,#ffe4c5,#ffe2c2,#ffe1c0,#ffe0bd,#ffdfbb,#ffddb8,#ffdcb6,#fedbb3,#fed9b0,#fed8ad,#fed6aa,#fed5a7,#fed3a3,#fed1a0,#fecf9d,#fece9b,#fecd98,#fecb95,#feca93,#fec88f,#fec58a,#ffc284,#ffbf7e,#ffbb77,#ffb76f,#ffb266,#ffac59,#ffa44b,#ff9c3b,#ff932d,#fe891e,#fc7d11,#f66d07,#ea5701,#dd4100,#c62800,#aa0f00)"></i>
<i style="background:linear-gradient(90deg,#ffebd3,#ffebd3,#ffebd3,#ffebd3,#ffebd3,#ffead2,#ffe9d0,#ffe8ce,#ffe7cc,#ffe6ca,#ffe5c7,#ffe4c5,#ffe3c3,#ffe2c0,#ffe0be,#ffdfbc,#ffdeb9,#ffdcb6,#fedbb4,#fedab1,#fed8ae,#fed7ab,#fed5a8,#fed3a4,#fed2a1,#fed09e,#fecf9b,#fecd99,#fecc96,#feca93,#fec991,#fec78c,#ffc386,#ffc080,#ffbc79,#ffb872,#ffb469,#ffae5e,#ffa750,#ff9f41,#ff9632,#fe8c24,#fe8214,#f8730b,#ef5f02,#e24901,#d03100,#b41800)"></i>
<i style="background:linear-gradient(90deg,#ffebd3,#ffebd3,#ffebd3,#ffebd3,#ffebd3,#ffebd3,#ffead1,#ffe9ce,#ffe8cc,#ffe6ca,#ffe5c8,#ffe4c6,#ffe3c3,#ffe2c1,#ffe1bf,#ffdfbc,#ffdeba,#ffddb7,#fedbb5,#fedab2,#fed9af,#fed7ac,#fed5a9,#fed4a5,#fed2a2,#fed09f,#fecf9c,#fece9a,#fecc97,#fecb94,#fec991,#fec88e,#ffc488,#ffc182,#ffbe7c,#ffba74,#ffb66c,#ffb163,#ffaa55,#ffa246,#ff9a37,#fe9029,#fe861a,#fa790e,#f46804,#e75101,#d93a00,#bd2000)"></i>
<i style="background:linear-gradient(90deg,#ffebd3,#ffebd3,#ffebd3,#ffebd3,#ffebd3,#ffebd3,#ffead1,#ffe9cf,#ffe8cd,#ffe7ca,#ffe6c8,#ffe4c6,#ffe3c4,#ffe2c1,#ffe1bf,#ffe0bd,#ffdeba,#ffddb8,#fedcb5,#fedab3,#fed9b0,#fed7ad,#fed6aa,#fed4a6,#fed3a3,#fed1a0,#fecf9d,#fece9a,#fecd98,#fecb95,#feca92,#fec88f,#fec58a,#ffc284,#ffbf7e,#ffbb77,#ffb76f,#ffb367,#ffac5a,#ffa54c,#ff9d3c,#ff942e,#fe8a20,#fd7e12,#f66e08,#eb5902,#de4301,#c82a00)"></i>
<i style="background:linear-gradient(90deg,#ffebd3,#ffebd3,#ffebd3,#ffebd3,#ffebd3,#ffebd3,#ffead1,#ffe9cf,#ffe8cd,#ffe7cb,#ffe6c9,#ffe5c6,#ffe4c4,#ffe2c2,#ffe1c0,#ffe0bd,#ffdfbb,#ffddb8,#ffdcb6,#fedbb3,#fed9b0,#fed8ad,#fed6aa,#fed5a7,#fed3a4,#fed1a1,#fed09d,#fece9b,#fecd99,#fecc96,#feca93,#fec990,#fec78c,#ffc386,#ffc080,#ffbc79,#ffb972,#ffb46a,#ffaf5f,#ffa851,#ffa042,#ff9734,#fe8d25,#fe8316,#f9740c,#f16202,#e34c01,#d33300)"></i>
<i style="background:linear-gradient(90deg,#ffebd3,#ffebd3,#ffebd3,#ffebd3,#ffebd3,#ffebd3,#ffead2,#ffe9d0,#ffe8ce,#ffe7cb,#ffe6c9,#ffe5c7,#ffe4c5,#ffe3c2,#ffe1c0,#ffe0be,#ffdfbb,#ffdeb9,#ffdcb6,#fedbb4,#fedab1,#fed8ae,#fed7ab,#fed5a8,#fed4a5,#fed2a2,#fed09e,#fecf9c,#fece99,#fecc97,#fecb94,#fec991,#fec88e,#ffc488,#ffc182,#ffbe7c,#ffba75,#ffb66d,#ffb164,#ffaa56,#ffa348,#ff9a39,#ff912a,#fe871c,#fb7a0f,#f46a05,#e85301,#da3c00)"></i>
<i style="background:linear-gradient(90deg,#ffebd3,#ffebd3,#ffebd3,#ffebd3,#ffebd3,#ffebd3,#ffead2,#ffe9d0,#ffe8ce,#ffe7cc,#ffe6ca,#ffe5c7,#ffe4c5,#ffe3c3,#ffe2c1,#ffe0be,#ffdfbc,#ffdeba,#ffddb7,#fedcb5,#fedab2,#fed9af,#fed7ac,#fed6a9,#fed4a6,#fed2a3,#fed19f,#fecf9d,#fece9a,#fecd98,#fecb95,#feca92,#fec88f,#fec68a,#ffc284,#ffbf7e,#ffbb77,#ffb770,#ffb367,#ffad5b,#ffa64d,#ff9e3d,#ff9430,#fe8b21,#fd8013,#f77009,#ec5b02,#e04501)"></i>
<i style="background:linear-gradient(90deg,#ffebd3,#ffebd3,#ffebd3,#ffebd3,#ffebd3,#ffebd3,#ffebd3,#ffead0,#ffe9ce,#ffe8cc,#ffe6ca,#ffe5c8,#ffe4c6,#ffe3c3,#ffe2c1,#ffe1bf,#ffe0bc,#ffdeba,#ffddb8,#fedcb5,#fedbb3,#fed9b0,#fed8ad,#fed6aa,#fed4a7,#fed3a4,#fed1a0,#fed09d,#fece9b,#fecd99,#fecc96,#feca93,#fec990,#fec78c,#ffc387,#ffc080,#ffbd7a,#ffb972,#ffb56a,#ffaf60,#ffa852,#ffa143,#ff9835,#fe8e26,#fe8417,#f9760d,#f26502,#e54e01)"></i>
<i style="background:linear-gradient(90deg,#ffebd3,#ffebd3,#ffebd3,#ffebd3,#ffebd3,#ffebd3,#ffebd3,#ffead1,#ffe9cf,#ffe8cd,#ffe7ca,#ffe6c8,#ffe4c6,#ffe3c4,#ffe2c2,#ffe1bf,#ffe0bd,#ffdfbb,#ffddb8,#ffdcb6,#fedbb3,#fed9b1,#fed8ae,#fed6ab,#fed5a8,#fed3a4,#fed2a1,#fed09e,#fecf9c,#fecd99,#fecc97,#fecb94,#fec991,#fec88e,#fec589,#ffc183,#ffbe7c,#ffba75,#ffb66d,#ffb265,#ffab58,#ffa449,#ff9b3a,#ff922c,#fe881d,#fc7c10,#f56b06,#e95501)"></i>
<i style="background:linear-gradient(90deg,#ffebd3,#ffebd3,#ffebd3,#ffebd3,#ffebd3,#ffebd3,#ffebd3,#ffead1,#ffe9cf,#ffe8cd,#ffe7cb,#ffe6c9,#ffe5c7,#ffe4c4,#ffe2c2,#ffe1c0,#ffe0be,#ffdfbb,#ffdeb9,#ffdcb6,#fedbb4,#fedab1,#fed8ae,#fed7ac,#fed5a8,#fed4a5,#fed2a2,#fed09f,#fecf9c,#fece9a,#fecd98,#fecb95,#feca92,#fec88f,#fec68b,#ffc285,#ffbf7e,#ffbb78,#ffb870,#ffb368,#ffae5c,#ffa64e,#ff9e3f,#ff9531,#fe8c23,#fe8114,#f7720a,#ee5d02)"></i>
<i style="background:linear-gradient(90deg,#ffebd3,#ffebd3,#ffebd3,#ffebd3,#ffebd3,#ffebd3,#ffebd3,#ffead2,#ffe9d0,#ffe8cd,#ffe7cb,#ffe6c9,#ffe5c7,#ffe4c5,#ffe3c3,#ffe2c0,#ffe0be,#ffdfbc,#ffdeb9,#ffddb7,#fedcb5,#fedab2,#fed9af,#fed7ac,#fed6a9,#fed4a6,#fed3a3,#fed1a0,#fecf9d,#fece9b,#fecd98,#fecc96,#feca93,#fec990,#fec78c,#ffc487,#ffc081,#ffbd7a,#ffb973,#ffb56b,#ffb061,#ffa954,#ffa145,#ff9936,#fe8f28,#fe8519,#fa780e,#f36704)"></i>
<i style="background:linear-gradient(90deg,#ffebd3,#ffebd3,#ffebd3,#ffebd3,#ffebd3,#ffebd3,#ffebd3,#ffead2,#ffe9d0,#ffe8ce,#ffe7cc,#ffe6ca,#ffe5c7,#ffe4c5,#ffe3c3,#ffe2c1,#ffe1bf,#ffdfbc,#ffdeba,#ffddb8,#fedcb5,#fedbb3,#fed9b0,#fed8ad,#fed6aa,#fed5a7,#fed3a4,#fed1a1,#fed09e,#fecf9b,#fecd99,#fecc97,#fecb94,#fec991,#fec88e,#fec589,#ffc183,#ffbe7c,#ffba76,#ffb66e,#ffb265,#ffac59,#ffa44a,#ff9c3b,#ff932d,#fe891f,#fc7d11,#f66d08)"></i>
<i style="background:linear-gradient(90deg,#ffebd3,#ffebd3,#ffebd3,#ffebd3,#ffebd3,#ffebd3,#ffebd3,#ffead2,#ffead0,#ffe9ce,#ffe8cc,#ffe6ca,#ffe5c8,#ffe4c6,#ffe3c4,#ffe2c1,#ffe1bf,#ffe0bd,#ffdfbb,#ffddb8,#ffdcb6,#fedbb3,#fedab1,#fed8ae,#fed7ab,#fed5a8,#fed4a5,#fed2a2,#fed09f,#fecf9c,#fece9a,#fecd98,#fecb95,#feca92,#fec88f,#fec68b,#ffc385,#ffbf7f,#ffbc78,#ffb871,#ffb469,#ffae5e,#ffa750,#ff9f40,#ff9632,#fe8d24,#fe8315,#f8730b)"></i>
<i style="background:linear-gradient(90deg,#ffebd3,#ffebd3,#ffebd3,#ffebd3,#ffebd3,#ffebd3,#ffebd3,#ffebd3,#ffead1,#ffe9cf,#ffe8cd,#ffe7ca,#ffe6c8,#ffe5c6,#ffe3c4,#ffe2c2,#ffe1c0,#ffe0bd,#ffdfbb,#ffdeb9,#ffdcb6,#fedbb4,#fedab1,#fed9af,#fed7ac,#fed6a9,#fed4a6,#fed2a3,#fed1a0,#fecf9d,#fece9b,#fecd98,#fecc96,#feca93,#fec990,#fec78d,#ffc487,#ffc081,#ffbd7b,#ffb973,#ffb56c,#ffb162,#ffaa55,#ffa246,#ff9a38,#ff9029,#fe861b,#fb790f)"></i>
<i style="background:linear-gradient(90deg,#ffebd3,#ffebd3,#ffebd3,#ffebd3,#ffebd3,#ffebd3,#ffebd3,#ffebd3,#ffead1,#ffe9cf,#ffe8cd,#ffe7cb,#ffe6c9,#ffe5c7,#ffe4c5,#ffe3c2,#ffe1c0,#ffe0be,#ffdfbc,#ffdeb9,#ffddb7,#fedcb5,#fedab2,#fed9af,#fed7ad,#fed6aa,#fed4a7,#fed3a4,#fed1a1,#fed09e,#fecf9b,#fecd99,#fecc97,#fecb94,#fec991,#fec88e,#fec589,#ffc283,#ffbe7d,#ffbb76,#ffb76f,#ffb266,#ffac5a,#ffa54c,#ff9d3c,#ff942f,#fe8a20,#fd7f12)"></i>
<i style="background:linear-gradient(90deg,#ffebd3,#ffebd3,#ffebd3,#ffebd3,#ffebd3,#ffebd3,#ffebd3,#ffebd3,#ffead1,#ffe9cf,#ffe8cd,#ffe7cb,#ffe6c9,#ffe5c7,#ffe4c5,#ffe3c3,#ffe2c1,#ffe1be,#ffdfbc,#ffdeba,#ffddb8,#fedcb5,#fedbb3,#fed9b0,#fed8ad,#fed6ab,#fed5a8,#fed3a5,#fed2a2,#fed09e,#fecf9c,#fece9a,#fecd97,#fecb95,#feca92,#fec890,#fec68b,#ffc385,#ffbf7f,#ffbc79,#ffb871,#ffb469,#ffaf5f,#ffa851,#ffa042,#ff9734,#fe8e25,#fe8417)"></i>
<i style="background:linear-gradient(90deg,#ffebd3,#ffebd3,#ffebd3,#ffebd3,#ffebd3,#ffebd3,#ffebd3,#ffebd3,#ffead2,#ffe9d0,#ffe8ce,#ffe7cc,#ffe6ca,#ffe5c8,#ffe4c5,#ffe3c3,#ffe2c1,#ffe1bf,#ffe0bd,#ffdfba,#ffddb8,#ffdcb6,#fedbb3,#fedab1,#fed8ae,#fed7ab,#fed5a8,#fed4a6,#fed2a2,#fed19f,#fecf9d,#fece9b,#fecd98,#fecc96,#feca93,#fec991,#fec78d,#ffc487,#ffc181,#ffbd7b,#ffba74,#ffb66c,#ffb163,#ffaa56,#ffa348,#ff9b39,#ff912b,#fe881c)"></i>
<i style="background:linear-gradient(90deg,#ffebd3,#ffebd3,#ffebd3,#ffebd3,#ffebd3,#ffebd3,#ffebd3,#ffebd3,#ffead2,#ffe9d0,#ffe9ce,#ffe8cc,#ffe6ca,#ffe5c8,#ffe4c6,#ffe3c4,#ffe2c2,#ffe1bf,#ffe0bd,#ffdfbb,#ffdeb9,#ffdcb6,#fedbb4,#fedab2,#fed9af,#fed7ac,#fed6a9,#fed4a6,#fed3a3,#fed1a0,#fed09d,#fecf9b,#fecd99,#fecc97,#fecb94,#fec991,#fec88f,#fec589,#ffc283,#ffbe7d,#ffbb77,#ffb76f,#ffb367,#ffad5b,#ffa64d,#ff9e3e,#ff9530,#fe8b22)"></i>
<i style="background:linear-gradient(90deg,#ffebd3,#ffebd3,#ffebd3,#ffebd3,#ffebd3,#ffebd3,#ffebd3,#ffebd3,#ffebd2,#ffead1,#ffe9ce,#ffe8cc,#ffe7ca,#ffe6c8,#ffe5c6,#ffe4c4,#ffe2c2,#ffe1c0,#ffe0be,#ffdfbc,#ffdeb9,#ffddb7,#fedcb5,#fedab2,#fed9b0,#fed8ad,#fed6aa,#fed5a7,#fed3a4,#fed2a1,#fed09e,#fecf9c,#fece9a,#fecc97,#fecb95,#feca92,#fec890,#fec68b,#ffc386,#ffc080,#ffbc79,#ffb872,#ffb46a,#ffaf60,#ffa853,#ffa144,#ff9835,#fe8f27)"></i>
<i style="background:linear-gradient(90deg,#ffebd3,#ffebd3,#ffebd3,#ffebd3,#ffebd3,#ffebd3,#ffebd3,#ffebd3,#ffebd3,#ffead1,#ffe9cf,#ffe8cd,#ffe7cb,#ffe6c9,#ffe5c7,#ffe4c5,#ffe3c3,#ffe2c0,#ffe0be,#ffdfbc,#ffdeba,#ffddb8,#fedcb5,#fedbb3,#fed9b0,#fed8ae,#fed7ab,#fed5a8,#fed4a5,#fed2a2,#fed19f,#fecf9d,#fece9a,#fecd98,#fecc96,#feca93,#fec991,#fec78d,#ffc488,#ffc182,#ffbe7b,#ffba75,#ffb66d,#ffb265,#ffab58,#ffa449,#ff9c3a,#ff922c)"></i>
<i style="background:linear-gradient(90deg,#ffebd3,#ffebd3,#ffebd3,#ffebd3,#ffebd3,#ffebd3,#ffebd3,#ffebd3,#ffebd3,#ffead1,#ffe9cf,#ffe8cd,#ffe7cb,#ffe6c9,#ffe5c7,#ffe4c5,#ffe3c3,#ffe2c1,#ffe1bf,#ffe0bd,#ffdfba,#ffddb8,#ffdcb6,#fedbb4,#fedab1,#fed8ae,#fed7ac,#fed6a9,#fed4a6,#fed3a3,#fed1a0,#fed09d,#fece9b,#fecd99,#fecc97,#fecb94,#fec992,#fec88f,#fec589,#ffc284,#ffbf7e,#ffbb77,#ffb770,#ffb368,#ffae5d,#ffa74f,#ff9f40,#ff9632)"></i>
<i style="background:linear-gradient(90deg,#ffebd3,#ffebd3,#ffebd3,#ffebd3,#ffebd3,#ffebd3,#ffebd3,#ffebd3,#ffebd3,#ffead2,#ffe9d0,#ffe8ce,#ffe7cc,#ffe6ca,#ffe5c8,#ffe4c6,#ffe3c4,#ffe2c1,#ffe1bf,#ffe0bd,#ffdfbb,#ffdeb9,#ffddb7,#fedbb4,#fedab2,#fed9af,#fed7ad,#fed6aa,#fed5a7,#fed3a4,#fed2a1,#fed09e,#fecf9c,#fece9a,#fecc97,#fecb95,#feca92,#fec890,#fec68b,#ffc386,#ffc080,#ffbd7a,#ffb973,#ffb56b,#ffb061,#ffa954,#ffa245,#ff9937)"></i>
<i style="background:linear-gradient(90deg,#ffebd3,#ffebd3,#ffebd3,#ffebd3,#ffebd3,#ffebd3,#ffebd3,#ffebd3,#ffebd3,#ffead2,#ffe9d0,#ffe8ce,#ffe7cc,#ffe6ca,#ffe5c8,#ffe4c6,#ffe3c4,#ffe2c2,#ffe1c0,#ffe0be,#ffdfbc,#ffdeb9,#ffddb7,#fedcb5,#fedab3,#fed9b0,#fed8ad,#fed6ab,#fed5a8,#fed4a5,#fed2a2,#fed09f,#fecf9d,#fece9a,#fecd98,#fecc96,#feca93,#fec991,#fec78d,#ffc488,#ffc182,#ffbe7c,#ffba75,#ffb66e,#ffb266,#ffac59,#ffa54b,#ff9d3c)"></i>
<i style="background:linear-gradient(90deg,#ffebd3,#ffebd3,#ffebd3,#ffebd3,#ffebd3,#ffebd3,#ffebd3,#ffebd3,#ffebd3,#ffead2,#ffead0,#ffe9ce,#ffe8cc,#ffe7ca,#ffe6c8,#ffe5c6,#ffe4c4,#ffe3c2,#ffe1c0,#ffe0be,#ffdfbc,#ffdeba,#ffddb8,#fedcb5,#fedbb3,#fedab1,#fed8ae,#fed7ab,#fed5a9,#fed4a6,#fed2a3,#fed1a0,#fed09d,#fece9b,#fecd99,#fecc97,#fecb94,#fec992,#fec88f,#fec58a,#ffc284,#ffbf7e,#ffbc78,#ffb871,#ffb469,#ffae5e,#ffa750,#ffa041)"></i>
<i style="background:linear-gradient(90deg,#ffebd3,#ffebd3,#ffebd3,#ffebd3,#ffebd3,#ffebd3,#ffebd3,#ffebd3,#ffebd3,#ffebd3,#ffead1,#ffe9cf,#ffe8cd,#ffe7cb,#ffe6c9,#ffe5c7,#ffe4c5,#ffe3c3,#ffe2c1,#ffe1bf,#ffe0bd,#ffdfba,#ffddb8,#ffdcb6,#fedbb4,#fedab1,#fed9af,#fed7ac,#fed6a9,#fed4a7,#fed3a4,#fed1a1,#fed09e,#fecf9c,#fece9a,#fecc97,#fecb95,#feca93,#fec890,#fec68c,#ffc386,#ffc080,#ffbd7a,#ffb973,#ffb56c,#ffb163,#ffaa56,#ffa347)"></i>
<i style="background:linear-gradient(90deg,#ffebd3,#ffebd3,#ffebd3,#ffebd3,#ffebd3,#ffebd3,#ffebd3,#ffebd3,#ffebd3,#ffebd3,#ffead1,#ffe9cf,#ffe8cd,#ffe7cb,#ffe6c9,#ffe5c7,#ffe4c5,#ffe3c3,#ffe2c1,#ffe1bf,#ffe0bd,#ffdfbb,#ffdeb9,#ffddb7,#fedbb4,#fedab2,#fed9b0,#fed8ad,#fed6aa,#fed5a7,#fed3a5,#fed2a2,#fed09f,#fecf9c,#fece9a,#fecd98,#fecc96,#feca93,#fec991,#fec78d,#ffc488,#ffc183,#ffbe7d,#ffbb76,#ffb76f,#ffb366,#ffad5b,#ffa54d)"></i>
<i style="background:linear-gradient(90deg,#ffebd3,#ffebd3,#ffebd3,#ffebd3,#ffebd3,#ffebd3,#ffebd3,#ffebd3,#ffebd3,#ffebd3,#ffead1,#ffe9cf,#ffe8ce,#ffe7cc,#ffe6ca,#ffe5c8,#ffe4c6,#ffe3c4,#ffe2c2,#ffe1c0,#ffe0be,#ffdfbb,#ffdeb9,#ffddb7,#fedcb5,#fedbb3,#fed9b0,#fed8ae,#fed7ab,#fed5a8,#fed4a6,#fed2a3,#fed1a0,#fed09d,#fece9b,#fecd99,#fecc97,#fecb94,#fec992,#fec88f,#fec58a,#ffc285,#ffbf7f,#ffbc78,#ffb871,#ffb46a,#ffaf5f,#ffa852)"></i>
<i style="background:linear-gradient(90deg,#ffebd3,#ffebd3,#ffebd3,#ffebd3,#ffebd3,#ffebd3,#ffebd3,#ffebd3,#ffebd3,#ffebd3,#ffead2,#ffe9d0,#ffe8ce,#ffe7cc,#ffe6ca,#ffe5c8,#ffe4c6,#ffe3c4,#ffe2c2,#ffe1c0,#ffe0be,#ffdfbc,#ffdeba,#ffddb8,#ffdcb6,#fedbb3,#fedab1,#fed8ae,#fed7ac,#fed6a9,#fed4a6,#fed3a4,#fed1a1,#fed09e,#fecf9c,#fece9a,#fecd97,#fecb95,#feca93,#fec990,#fec68c,#ffc487,#ffc081,#ffbd7b,#ffba74,#ffb66d,#ffb164,#ffab57)"></i>
<i style="background:linear-gradient(90deg,#ffebd3,#ffebd3,#ffebd3,#ffebd3,#ffebd3,#ffebd3,#ffebd3,#ffebd3,#ffebd3,#ffebd3,#ffead2,#ffe9d0,#ffe9ce,#ffe8cc,#ffe7ca,#ffe6c8,#ffe5c7,#ffe4c5,#ffe3c3,#ffe2c1,#ffe1bf,#ffe0bc,#ffdeba,#ffddb8,#ffdcb6,#fedbb4,#fedab2,#fed9af,#fed7ad,#fed6aa,#fed5a7,#fed3a4,#fed2a2,#fed09f,#fecf9c,#fece9a,#fecd98,#fecc96,#feca94,#fec991,#fec78e,#fec589,#ffc283,#ffbe7d,#ffbb77,#ffb76f,#ffb367,#ffad5c)"></i>
<i style="background:linear-gradient(90deg,#ffebd3,#ffebd3,#ffebd3,#ffebd3,#ffebd3,#ffebd3,#ffebd3,#ffebd3,#ffebd3,#ffebd3,#ffead2,#ffead1,#ffe9cf,#ffe8cd,#ffe7cb,#ffe6c9,#ffe5c7,#ffe4c5,#ffe3c3,#ffe2c1,#ffe1bf,#ffe0bd,#ffdfbb,#ffdeb9,#ffddb7,#fedbb5,#fedab2,#fed9b0,#fed8ad,#fed6ab,#fed5a8,#fed4a5,#fed2a2,#fed1a0,#fed09d,#fece9b,#fecd99,#fecc97,#fecb94,#feca92,#fec88f,#fec68b,#ffc385,#ffc07f,#ffbc79,#ffb972,#ffb56a,#ffb061)"></i>
<i style="background:linear-gradient(90deg,#ffebd3,#ffebd3,#ffebd3,#ffebd3,#ffebd3,#ffebd3,#ffebd3,#ffebd3,#ffebd3,#ffebd3,#ffebd3,#ffead1,#ffe9cf,#ffe8cd,#ffe7cb,#ffe6c9,#ffe5c7,#ffe4c5,#ffe3c3,#ffe2c1,#ffe1bf,#ffe0bd,#ffdfbb,#ffdeb9,#ffddb7,#fedcb5,#fedbb3,#fed9b1,#fed8ae,#fed7ab,#fed6a9,#fed4a6,#fed3a3,#fed1a1,#fed09e,#fecf9c,#fece9a,#fecd98,#fecb95,#feca93,#fec990,#fec78c,#ffc487,#ffc182,#ffbe7b,#ffba75,#ffb66d,#ffb265)"></i>
<i style="background:linear-gradient(90deg,#ffebd3,#ffebd3,#ffebd3,#ffebd3,#ffebd3,#ffebd3,#ffebd3,#ffebd3,#ffebd3,#ffebd3,#ffebd3,#ffead1,#ffe9cf,#ffe8cd,#ffe7cc,#ffe6ca,#ffe5c8,#ffe4c6,#ffe3c4,#ffe2c2,#ffe1c0,#ffe0be,#ffdfbc,#ffdeba,#ffddb8,#ffdcb6,#fedbb4,#fedab1,#fed9af,#fed7ac,#fed6aa,#fed5a7,#fed3a4,#fed2a1,#fed09f,#fecf9c,#fece9a,#fecd98,#fecc96,#feca94,#fec991,#fec88e,#fec589,#ffc284,#ffbf7e,#ffbb77,#ffb870,#ffb468)"></i>
<i style="background:linear-gradient(90deg,#ffebd3,#ffebd3,#ffebd3,#ffebd3,#ffebd3,#ffebd3,#ffebd3,#ffebd3,#ffebd3,#ffebd3,#ffebd3,#ffead2,#ffe9d0,#ffe8ce,#ffe7cc,#ffe6ca,#ffe6c8,#ffe5c6,#ffe4c4,#ffe3c2,#ffe2c0,#ffe1be,#ffe0bc,#ffdfba,#ffddb8,#ffdcb6,#fedbb4,#fedab2,#fed9af,#fed8ad,#fed6aa,#fed5a8,#fed4a5,#fed2a2,#fed19f,#fecf9d,#fece9b,#fecd99,#fecc97,#fecb95,#feca92,#fec88f,#fec68b,#ffc386,#ffc080,#ffbd7a,#ffb973,#ffb56b)"></i>
<i style="background:linear-gradient(90deg,#ffebd3,#ffebd3,#ffebd3,#ffebd3,#ffebd3,#ffebd3,#ffebd3,#ffebd3,#ffebd3,#ffebd3,#ffebd3,#ffead2,#ffe9d0,#ffe9ce,#ffe8cc,#ffe7ca,#ffe6c9,#ffe5c7,#ffe4c5,#ffe3c3,#ffe2c1,#ffe1bf,#ffe0bd,#ffdfbb,#ffdeb9,#ffddb7,#fedcb5,#fedab3,#fed9b0,#fed8ae,#fed7ab,#fed5a9,#fed4a6,#fed3a3,#fed1a0,#fed09e,#fecf9c,#fece9a,#fecd98,#fecb95,#feca93,#fec990,#fec78d,#ffc488,#ffc182,#ffbe7c,#ffba76,#ffb76e)"></i>
<i style="background:linear-gradient(90deg,#ffebd3,#ffebd3,#ffebd3,#ffebd3,#ffebd3,#ffebd3,#ffebd3,#ffebd3,#ffebd3,#ffebd3,#ffebd3,#ffead2,#ffead0,#ffe9ce,#ffe8cd,#ffe7cb,#ffe6c9,#ffe5c7,#ffe4c5,#ffe3c3,#ffe2c1,#ffe1bf,#ffe0bd,#ffdfbb,#ffdeb9,#ffddb7,#fedcb5,#fedbb3,#fedab1,#fed8ae,#fed7ac,#fed6a9,#fed5a7,#fed3a4,#fed2a1,#fed09f,#fecf9c,#fece9a,#fecd98,#fecc96,#fecb94,#fec991,#fec88f,#fec58a,#ffc284,#ffbf7e,#ffbc78,#ffb871)"></i>
<i style="background:linear-gradient(90deg,#ffebd3,#ffebd3,#ffebd3,#ffebd3,#ffebd3,#ffebd3,#ffebd3,#ffebd3,#ffebd3,#ffebd3,#ffebd3,#ffebd2,#ffead1,#ffe9cf,#ffe8cd,#ffe7cb,#ffe6c9,#ffe5c7,#ffe4c6,#ffe3c4,#ffe2c2,#ffe1c0,#ffe0be,#ffdfbc,#ffdeba,#ffddb8,#ffdcb6,#fedbb4,#fedab2,#fed9af,#fed8ad,#fed6aa,#fed5a8,#fed4a5,#fed2a2,#fed19f,#fed09d,#fece9b,#fecd99,#fecc97,#fecb95,#feca92,#fec890,#fec68b,#ffc386,#ffc081,#ffbd7a,#ffb974)"></i>
<i style="background:linear-gradient(90deg,#ffebd3,#ffebd3,#ffebd3,#ffebd3,#ffebd3,#ffebd3,#ffebd3,#ffebd3,#ffebd3,#ffebd3,#ffebd3,#ffebd3,#ffead1,#ffe9cf,#ffe8cd,#ffe7cc,#ffe6ca,#ffe5c8,#ffe4c6,#ffe3c4,#ffe2c2,#ffe2c0,#ffe1be,#ffe0bc,#ffdfba,#ffddb8,#ffdcb6,#fedbb4,#fedab2,#fed9b0,#fed8ad,#fed7ab,#fed5a8,#fed4a6,#fed3a3,#fed1a0,#fed09e,#fecf9c,#fece9a,#fecd98,#fecb95,#feca93,#fec991,#fec78d,#ffc488,#ffc183,#ffbe7d,#ffbb76)"></i>
<i style="background:linear-gradient(90deg,#ffebd3,#ffebd3,#ffebd3,#ffebd3,#ffebd3,#ffebd3,#ffebd3,#ffebd3,#ffebd3,#ffebd3,#ffebd3,#ffebd3,#ffead1,#ffe9d0,#ffe8ce,#ffe7cc,#ffe6ca,#ffe6c8,#ffe5c6,#ffe4c5,#ffe3c3,#ffe2c1,#ffe1bf,#ffe0bd,#ffdfbb,#ffdeb9,#ffddb7,#fedcb5,#fedbb3,#fed9b1,#fed8ae,#fed7ac,#fed6a9,#fed4a7,#fed3a4,#fed2a1,#fed09f,#fecf9c,#fece9b,#fecd98,#fecc96,#fecb94,#fec992,#fec88f,#fec58a,#ffc385,#ffbf7f,#ffbc79)"></i>
<i style="background:linear-gradient(90deg,#ffebd3,#ffebd3,#ffebd3,#ffebd3,#ffebd3,#ffebd3,#ffebd3,#ffebd3,#ffebd3,#ffebd3,#ffebd3,#ffebd3,#ffead2,#ffe9d0,#ffe8ce,#ffe8cc,#ffe7ca,#ffe6c9,#ffe5c7,#ffe4c5,#ffe3c3,#ffe2c1,#ffe1bf,#ffe0bd,#ffdfbb,#ffdeb9,#ffddb7,#fedcb5,#fedbb3,#fedab1,#fed9af,#fed7ac,#fed6aa,#fed5a8,#fed4a5,#fed2a2,#fed19f,#fed09d,#fece9b,#fecd99,#fecc97,#fecb95,#feca92,#fec890,#fec68c,#ffc487,#ffc181,#ffbd7b)"></i>
<i style="background:linear-gradient(90deg,#ffebd3,#ffebd3,#ffebd3,#ffebd3,#ffebd3,#ffebd3,#ffebd3,#ffebd3,#ffebd3,#ffebd3,#ffebd3,#ffebd3,#ffead2,#ffe9d0,#ffe9ce,#ffe8cd,#ffe7cb,#ffe6c9,#ffe5c7,#ffe4c5,#ffe3c3,#ffe2c2,#ffe1c0,#ffe0be,#ffdfbc,#ffdeba,#ffddb8,#ffdcb6,#fedbb4,#fedab2,#fed9b0,#fed8ad,#fed7ab,#fed5a8,#fed4a6,#fed3a3,#fed1a0,#fed09e,#fecf9c,#fece9a,#fecd98,#fecc96,#feca93,#fec991,#fec78e,#fec589,#ffc283,#ffbf7e)"></i>
<i style="background:linear-gradient(90deg,#ffebd3,#ffebd3,#ffebd3,#ffebd3,#ffebd3,#ffebd3,#ffebd3,#ffebd3,#ffebd3,#ffebd3,#ffebd3,#ffebd3,#ffead2,#ffead0,#ffe9cf,#ffe8cd,#ffe7cb,#ffe6c9,#ffe5c8,#ffe4c6,#ffe3c4,#ffe2c2,#ffe1c0,#ffe0be,#ffe0bc,#ffdfba,#ffdeb9,#ffddb7,#fedcb5,#fedab3,#fed9b0,#fed8ae,#fed7ac,#fed6a9,#fed4a7,#fed3a4,#fed2a1,#fed09f,#fecf9d,#fece9b,#fecd99,#fecc96,#fecb94,#fec992,#fec88f,#fec68b,#ffc385,#ffc080)"></i>
<i style="background:linear-gradient(90deg,#ffebd3,#ffebd3,#ffebd3,#ffebd3,#ffebd3,#ffebd3,#ffebd3,#ffebd3,#ffebd3,#ffebd3,#ffebd3,#ffebd3,#ffebd3,#ffead1,#ffe9cf,#ffe8cd,#ffe7cb,#ffe6ca,#ffe5c8,#ffe4c6,#ffe4c4,#ffe3c2,#ffe2c1,#ffe1bf,#ffe0bd,#ffdfbb,#ffdeb9,#ffddb7,#fedcb5,#fedbb3,#fedab1,#fed8af,#fed7ac,#fed6aa,#fed5a7,#fed3a5,#fed2a2,#fed19f,#fed09d,#fecf9b,#fecd99,#fecc97,#fecb95,#feca93,#fec990,#fec78d,#ffc487,#ffc182)"></i>
<i style="background:linear-gradient(90deg,#ffebd3,#ffebd3,#ffebd3,#ffebd3,#ffebd3,#ffebd3,#ffebd3,#ffebd3,#ffebd3,#ffebd3,#ffebd3,#ffebd3,#ffebd3,#ffead1,#ffe9cf,#ffe8ce,#ffe7cc,#ffe7ca,#ffe6c8,#ffe5c7,#ffe4c5,#ffe3c3,#ffe2c1,#ffe1bf,#ffe0bd,#ffdfbb,#ffdeba,#ffddb8,#ffdcb6,#fedbb4,#fedab2,#fed9af,#fed8ad,#fed6ab,#fed5a8,#fed4a6,#fed3a3,#fed1a0,#fed09e,#fecf9c,#fece9a,#fecd98,#fecc96,#feca94,#fec991,#fec88e,#fec589,#ffc284)"></i>
<i style="background:linear-gradient(90deg,#ffebd3,#ffebd3,#ffebd3,#ffebd3,#ffebd3,#ffebd3,#ffebd3,#ffebd3,#ffebd3,#ffebd3,#ffebd3,#ffebd3,#ffebd3,#ffead1,#ffe9d0,#ffe8ce,#ffe8cc,#ffe7ca,#ffe6c9,#ffe5c7,#ffe4c5,#ffe3c3,#ffe2c1,#ffe1c0,#ffe0be,#ffdfbc,#ffdeba,#ffddb8,#ffdcb6,#fedbb4,#fedab2,#fed9b0,#fed8ae,#fed7ab,#fed6a9,#fed4a7,#fed3a4,#fed2a1,#fed09f,#fecf9d,#fece9b,#fecd99,#fecc97,#fecb94,#feca92,#fec88f,#fec68b,#ffc386)"></i>
<i style="background:linear-gradient(90deg,#ffebd3,#ffebd3,#ffebd3,#ffebd3,#ffebd3,#ffebd3,#ffebd3,#ffebd3,#ffebd3,#ffebd3,#ffebd3,#ffebd3,#ffebd3,#ffead2,#ffe9d0,#ffe9ce,#ffe8cd,#ffe7cb,#ffe6c9,#ffe5c7,#ffe4c5,#ffe3c4,#ffe2c2,#ffe1c0,#ffe0be,#ffe0bc,#ffdfbb,#ffdeb9,#ffddb7,#fedcb5,#fedbb3,#fedab1,#fed8ae,#fed7ac,#fed6aa,#fed5a7,#fed3a5,#fed2a2,#fed1a0,#fed09d,#fecf9b,#fece99,#fecc97,#fecb95,#feca93,#fec990,#fec78d,#ffc488)"></i>
<i style="background:linear-gradient(90deg,#ffebd3,#ffebd3,#ffebd3,#ffebd3,#ffebd3,#ffebd3,#ffebd3,#ffebd3,#ffebd3,#ffebd3,#ffebd3,#ffebd3,#ffebd3,#ffead2,#ffead0,#ffe9cf,#ffe8cd,#ffe7cb,#ffe6c9,#ffe5c8,#ffe4c6,#ffe3c4,#ffe3c2,#ffe2c1,#ffe1bf,#ffe0bd,#ffdfbb,#ffdeb9,#ffddb7,#fedcb5,#fedbb3,#fedab1,#fed9af,#fed8ad,#fed6ab,#fed5a8,#fed4a6,#fed3a3,#fed1a0,#fed09e,#fecf9c,#fece9a,#fecd98,#fecc96,#fecb94,#fec991,#fec88f,#fec58a)"></i>
<i style="background:linear-gradient(90deg,#ffebd3,#ffebd3,#ffebd3,#ffebd3,#ffebd3,#ffebd3,#ffebd3,#ffebd3,#ffebd3,#ffebd3,#ffebd3,#ffebd3,#ffebd3,#ffead2,#ffead1,#ffe9cf,#ffe8cd,#ffe7cb,#ffe6ca,#ffe5c8,#ffe5c6,#ffe4c5,#ffe3c3,#ffe2c1,#ffe1bf,#ffe0bd,#ffdfbc,#ffdeba,#ffddb8,#ffdcb6,#fedbb4,#fedab2,#fed9b0,#fed8ae,#fed7ab,#fed6a9,#fed4a6,#fed3a4,#fed2a1,#fed09f,#fecf9d,#fece9b,#fecd99,#fecc97,#fecb95,#feca92,#fec890,#fec68c)"></i>
<i style="background:linear-gradient(90deg,#ffebd3,#ffebd3,#ffebd3,#ffebd3,#ffebd3,#ffebd3,#ffebd3,#ffebd3,#ffebd3,#ffebd3,#ffebd3,#ffebd3,#ffebd3,#ffebd3,#ffead1,#ffe9cf,#ffe8ce,#ffe7cc,#ffe7ca,#ffe6c8,#ffe5c7,#ffe4c5,#ffe3c3,#ffe2c1,#ffe1c0,#ffe0be,#ffdfbc,#ffdeba,#ffddb8,#ffdcb6,#fedcb5,#fedbb3,#fed9b0,#fed8ae,#fed7ac,#fed6aa,#fed5a7,#fed3a5,#fed2a2,#fed1a0,#fed09d,#fecf9b,#fece9a,#fecd98,#fecb95,#feca93,#fec991,#fec78e)"></i>
<i style="background:linear-gradient(90deg,#ffebd3,#ffebd3,#ffebd3,#ffebd3,#ffebd3,#ffebd3,#ffebd3,#ffebd3,#ffebd3,#ffebd3,#ffebd3,#ffebd3,#ffebd3,#ffebd3,#ffead1,#ffe9d0,#ffe8ce,#ffe8cc,#ffe7ca,#ffe6c9,#ffe5c7,#ffe4c5,#ffe3c4,#ffe2c2,#ffe1c0,#ffe0be,#ffe0bc,#ffdfbb,#ffdeb9,#ffddb7,#fedcb5,#fedbb3,#fedab1,#fed9af,#fed8ad,#fed6aa,#fed5a8,#fed4a6,#fed3a3,#fed1a1,#fed09e,#fecf9c,#fece9a,#fecd98,#fecc96,#fecb94,#fec992,#fec88f)"></i>
<i style="background:linear-gradient(90deg,#ffebd3,#ffebd3,#ffebd3,#ffebd3,#ffebd3,#ffebd3,#ffebd3,#ffebd3,#ffebd3,#ffebd3,#ffebd3,#ffebd3,#ffebd3,#ffebd3,#ffead2,#ffe9d0,#ffe9ce,#ffe8cc,#ffe7cb,#ffe6c9,#ffe5c7,#ffe4c6,#ffe3c4,#ffe2c2,#ffe2c0,#ffe1bf,#ffe0bd,#ffdfbb,#ffdeb9,#ffddb8,#ffdcb6,#fedbb4,#fedab2,#fed9b0,#fed8ad,#fed7ab,#fed6a9,#fed4a6,#fed3a4,#fed2a1,#fed09f,#fecf9d,#fece9b,#fecd99,#fecc97,#fecb95,#feca93,#fec990)"></i>
<i style="background:linear-gradient(90deg,#ffebd3,#ffebd3,#ffebd3,#ffebd3,#ffebd3,#ffebd3,#ffebd3,#ffebd3,#ffebd3,#ffebd3,#ffebd3,#ffebd3,#ffebd3,#ffebd3,#ffead2,#ffe9d0,#ffe9ce,#ffe8cd,#ffe7cb,#ffe6c9,#ffe5c8,#ffe4c6,#ffe4c4,#ffe3c3,#ffe2c1,#ffe1bf,#ffe0bd,#ffdfbc,#ffdeba,#ffddb8,#ffdcb6,#fedbb4,#fedab2,#fed9b0,#fed8ae,#fed7ac,#fed6aa,#fed5a7,#fed4a5,#fed2a2,#fed1a0,#fed09d,#fecf9c,#fece9a,#fecd98,#fecc96,#feca93,#fec991)"></i>
<i style="background:linear-gradient(90deg,#ffebd3,#ffebd3,#ffebd3,#ffebd3,#ffebd3,#ffebd3,#ffebd3,#ffebd3,#ffebd3,#ffebd3,#ffebd3,#ffebd3,#ffebd3,#ffebd3,#ffead2,#ffead0,#ffe9cf,#ffe8cd,#ffe7cb,#ffe6ca,#ffe5c8,#ffe5c6,#ffe4c5,#ffe3c3,#ffe2c1,#ffe1c0,#ffe0be,#ffdfbc,#ffdeba,#ffdeb9,#ffddb7,#fedcb5,#fedbb3,#fedab1,#fed9af,#fed7ad,#fed6aa,#fed5a8,#fed4a6,#fed3a3,#fed1a1,#fed09e,#fecf9c,#fece9a,#fecd99,#fecc96,#fecb94,#feca92)"></i>
<i style="background:linear-gradient(90deg,#ffebd3,#ffebd3,#ffebd3,#ffebd3,#ffebd3,#ffebd3,#ffebd3,#ffebd3,#ffebd3,#ffebd3,#ffebd3,#ffebd3,#ffebd3,#ffebd3,#ffead2,#ffead1,#ffe9cf,#ffe8cd,#ffe7cc,#ffe7ca,#ffe6c8,#ffe5c7,#ffe4c5,#ffe3c3,#ffe2c2,#ffe1c0,#ffe0be,#ffe0bd,#ffdfbb,#ffdeb9,#ffddb7,#fedcb5,#fedbb4,#fedab2,#fed9af,#fed8ad,#fed7ab,#fed6a9,#fed4a7,#fed3a4,#fed2a2,#fed19f,#fecf9d,#fece9b,#fecd99,#fecc97,#fecb95,#feca93)"></i>
<i style="background:linear-gradient(90deg,#ffebd3,#ffebd3,#ffebd3,#ffebd3,#ffebd3,#ffebd3,#ffebd3,#ffebd3,#ffebd3,#ffebd3,#ffebd3,#ffebd3,#ffebd3,#ffebd3,#ffebd3,#ffead1,#ffe9cf,#ffe8ce,#ffe8cc,#ffe7ca,#ffe6c9,#ffe5c7,#ffe4c5,#ffe3c4,#ffe2c2,#ffe2c0,#ffe1bf,#ffe0bd,#ffdfbb,#ffdeba,#ffddb8,#ffdcb6,#fedbb4,#fedab2,#fed9b0,#fed8ae,#fed7ac,#fed6aa,#fed5a7,#fed4a5,#fed2a2,#fed1a0,#fed09e,#fecf9c,#fece9a,#fecd98,#fecc96,#feca94)"></i>
<i style="background:linear-gradient(90deg,#ffebd3,#ffebd3,#ffebd3,#ffebd3,#ffebd3,#ffebd3,#ffebd3,#ffebd3,#ffebd3,#ffebd3,#ffebd3,#ffebd3,#ffebd3,#ffebd3,#ffebd3,#ffead1,#ffe9d0,#ffe8ce,#ffe8cc,#ffe7cb,#ffe6c9,#ffe5c8,#ffe4c6,#ffe4c4,#ffe3c3,#ffe2c1,#ffe1bf,#ffe0bd,#ffdfbc,#ffdeba,#ffddb8,#ffdcb6,#fedcb5,#fedbb3,#fedab1,#fed9af,#fed7ad,#fed6aa,#fed5a8,#fed4a6,#fed3a3,#fed1a1,#fed09e,#fecf9c,#fece9b,#fecd99,#fecc97,#fecb95)"></i>
<i style="background:linear-gradient(90deg,#ffebd3,#ffebd3,#ffebd3,#ffebd3,#ffebd3,#ffebd3,#ffebd3,#ffebd3,#ffebd3,#ffebd3,#ffebd3,#ffebd3,#ffebd3,#ffebd3,#ffebd3,#ffead2,#ffe9d0,#ffe9ce,#ffe8cd,#ffe7cb,#ffe6c9,#ffe5c8,#ffe5c6,#ffe4c5,#ffe3c3,#ffe2c1,#ffe1c0,#ffe0be,#ffdfbc,#ffdfba,#ffdeb9,#ffddb7,#fedcb5,#fedbb3,#fedab1,#fed9af,#fed8ad,#fed7ab,#fed6a9,#fed4a7,#fed3a4,#fed2a2,#fed19f,#fed09d,#fecf9b,#fece99,#fecd97,#fecb95)"></i>
<i style="background:linear-gradient(90deg,#ffebd3,#ffebd3,#ffebd3,#ffebd3,#ffebd3,#ffebd3,#ffebd3,#ffebd3,#ffebd3,#ffebd3,#ffebd3,#ffebd3,#ffebd3,#ffebd3,#ffebd3,#ffead2,#ffead0,#ffe9cf,#ffe8cd,#ffe7cb,#ffe6ca,#ffe6c8,#ffe5c7,#ffe4c5,#ffe3c3,#ffe2c2,#ffe1c0,#ffe1be,#ffe0bd,#ffdfbb,#ffdeb9,#ffddb7,#ffdcb6,#fedbb4,#fedab2,#fed9b0,#fed8ae,#fed7ac,#fed6aa,#fed5a7,#fed4a5,#fed2a3,#fed1a0,#fed09e,#fecf9c,#fece9a,#fecd98,#fecc96)"></i>
<i style="background:linear-gradient(90deg,#ffebd3,#ffebd3,#ffebd3,#ffebd3,#ffebd3,#ffebd3,#ffebd3,#ffebd3,#ffebd3,#ffebd3,#ffebd3,#ffebd3,#ffebd3,#ffebd3,#ffebd3,#ffead2,#ffead1,#ffe9cf,#ffe8cd,#ffe7cc,#ffe7ca,#ffe6c9,#ffe5c7,#ffe4c5,#ffe3c4,#ffe2c2,#ffe2c0,#ffe1bf,#ffe0bd,#ffdfbb,#ffdeba,#ffddb8,#ffdcb6,#fedbb4,#fedbb3,#fedab1,#fed9af,#fed7ad,#fed6aa,#fed5a8,#fed4a6,#fed3a3,#fed2a1,#fed09e,#fecf9d,#fece9b,#fecd99,#fecc97)"></i>
<i style="background:linear-gradient(90deg,#ffebd3,#ffebd3,#ffebd3,#ffebd3,#ffebd3,#ffebd3,#ffebd3,#ffebd3,#ffebd3,#ffebd3,#ffebd3,#ffebd3,#ffebd3,#ffebd3,#ffebd3,#ffebd2,#ffead1,#ffe9cf,#ffe8ce,#ffe8cc,#ffe7ca,#ffe6c9,#ffe5c7,#ffe4c6,#ffe3c4,#ffe3c2,#ffe2c1,#ffe1bf,#ffe0be,#ffdfbc,#ffdeba,#ffdeb8,#ffddb7,#fedcb5,#fedbb3,#fedab1,#fed9af,#fed8ad,#fed7ab,#fed6a9,#fed4a7,#fed3a4,#fed2a2,#fed19f,#fed09d,#fecf9b,#fece9a,#fecd98)"></i>
<i style="background:linear-gradient(90deg,#ffebd3,#ffebd3,#ffebd3,#ffebd3,#ffebd3,#ffebd3,#ffebd3,#ffebd3,#ffebd3,#ffebd3,#ffebd3,#ffebd3,#ffebd3,#ffebd3,#ffebd3,#ffebd3,#ffead1,#ffe9d0,#ffe8ce,#ffe8cc,#ffe7cb,#ffe6c9,#ffe5c8,#ffe4c6,#ffe4c4,#ffe3c3,#ffe2c1,#ffe1c0,#ffe0be,#ffdfbc,#ffdfbb,#ffdeb9,#ffddb7,#ffdcb6,#fedbb4,#fedab2,#fed9b0,#fed8ae,#fed7ac,#fed6aa,#fed5a7,#fed4a5,#fed2a3,#fed1a0,#fed09e,#fecf9c,#fece9a,#fecd98)"></i>
<i style="background:linear-gradient(90deg,#ffebd3,#ffebd3,#ffebd3,#ffebd3,#ffebd3,#ffebd3,#ffebd3,#ffebd3,#ffebd3,#ffebd3,#ffebd3,#ffebd3,#ffebd3,#ffebd3,#ffebd3,#ffebd3,#ffead1,#ffe9d0,#ffe9ce,#ffe8cd,#ffe7cb,#ffe6ca,#ffe5c8,#ffe5c6,#ffe4c5,#ffe3c3,#ffe2c2,#ffe1c0,#ffe1be,#ffe0bd,#ffdfbb,#ffdeb9,#ffddb8,#ffdcb6,#fedbb4,#fedbb3,#fedab1,#fed8af,#fed7ad,#fed6aa,#fed5a8,#fed4a6,#fed3a4,#fed2a1,#fed09f,#fecf9d,#fece9b,#fecd99)"></i>
<i style="background:linear-gradient(90deg,#ffebd3,#ffebd3,#ffebd3,#ffebd3,#ffebd3,#ffebd3,#ffebd3,#ffebd3,#ffebd3,#ffebd3,#ffebd3,#ffebd3,#ffebd3,#ffebd3,#ffebd3,#ffebd3,#ffead2,#ffe9d0,#ffe9cf,#ffe8cd,#ffe7cb,#ffe6ca,#ffe6c8,#ffe5c7,#ffe4c5,#ffe3c4,#ffe2c2,#ffe2c0,#ffe1bf,#ffe0bd,#ffdfbc,#ffdeba,#ffddb8,#ffddb7,#fedcb5,#fedbb3,#fedab1,#fed9af,#fed8ad,#fed7ab,#fed6a9,#fed4a7,#fed3a5,#fed2a2,#fed1a0,#fed09d,#fecf9c,#fece9a)"></i>
<i style="background:linear-gradient(90deg,#ffebd3,#ffebd3,#ffebd3,#ffebd3,#ffebd3,#ffebd3,#ffebd3,#ffebd3,#ffebd3,#ffebd3,#ffebd3,#ffebd3,#ffebd3,#ffebd3,#ffebd3,#ffebd3,#ffead2,#ffead0,#ffe9cf,#ffe8cd,#ffe7cc,#ffe7ca,#ffe6c9,#ffe5c7,#ffe4c6,#ffe3c4,#ffe3c2,#ffe2c1,#ffe1bf,#ffe0be,#ffdfbc,#ffdfba,#ffdeb9,#ffddb7,#fedcb5,#fedbb4,#fedab2,#fed9b0,#fed8ae,#fed7ac,#fed6aa,#fed5a8,#fed4a5,#fed3a3,#fed1a1,#fed09e,#fecf9c,#fece9b)"></i>
<i style="background:linear-gradient(90deg,#ffebd3,#ffebd3,#ffebd3,#ffebd3,#ffebd3,#ffebd3,#ffebd3,#ffebd3,#ffebd3,#ffebd3,#ffebd3,#ffebd3,#ffebd3,#ffebd3,#ffebd3,#ffebd3,#ffead2,#ffead1,#ffe9cf,#ffe8ce,#ffe8cc,#ffe7cb,#ffe6c9,#ffe5c7,#ffe4c6,#ffe4c4,#ffe3c3,#ffe2c1,#ffe1c0,#ffe0be,#ffe0bc,#ffdfbb,#ffdeb9,#ffddb8,#ffdcb6,#fedbb4,#fedab2,#fed9b1,#fed8af,#fed7ad,#fed6ab,#fed5a8,#fed4a6,#fed3a4,#fed2a1,#fed19f,#fecf9d,#fecf9b)"></i>
<i style="background:linear-gradient(90deg,#ffebd3,#ffebd3,#ffebd3,#ffebd3,#ffebd3,#ffebd3,#ffebd3,#ffebd3,#ffebd3,#ffebd3,#ffebd3,#ffebd3,#ffebd3,#ffebd3,#ffebd3,#ffebd3,#ffebd3,#ffead1,#ffe9cf,#ffe8ce,#ffe8cc,#ffe7cb,#ffe6c9,#ffe5c8,#ffe5c6,#ffe4c5,#ffe3c3,#ffe2c2,#ffe1c0,#ffe1be,#ffe0bd,#ffdfbb,#ffdeba,#ffddb8,#ffdcb6,#fedcb5,#fedbb3,#fedab1,#fed9af,#fed8ad,#fed7ab,#fed6a9,#fed5a7,#fed3a5,#fed2a2,#fed1a0,#fed09e,#fecf9c)"></i>
<i style="background:linear-gradient(90deg,#ffebd3,#ffebd3,#ffebd3,#ffebd3,#ffebd3,#ffebd3,#ffebd3,#ffebd3,#ffebd3,#ffebd3,#ffebd3,#ffebd3,#ffebd3,#ffebd3,#ffebd3,#ffebd3,#ffebd3,#ffead1,#ffe9d0,#ffe9ce,#ffe8cd,#ffe7cb,#ffe6ca,#ffe6c8,#ffe5c7,#ffe4c5,#ffe3c4,#ffe2c2,#ffe2c0,#ffe1bf,#ffe0bd,#ffdfbc,#ffdeba,#ffdeb9,#ffddb7,#fedcb5,#fedbb4,#fedab2,#fed9b0,#fed8ae,#fed7ac,#fed6aa,#fed5a8,#fed4a6,#fed3a3,#fed1a1,#fed09e,#fecf9d)"></i>
<i style="background:linear-gradient(90deg,#ffebd3,#ffebd3,#ffebd3,#ffebd3,#ffebd3,#ffebd3,#ffebd3,#ffebd3,#ffebd3,#ffebd3,#ffebd3,#ffebd3,#ffebd3,#ffebd3,#ffebd3,#ffebd3,#ffebd3,#ffead2,#ffe9d0,#ffe9ce,#ffe8cd,#ffe7cb,#ffe6ca,#ffe6c8,#ffe5c7,#ffe4c5,#ffe3c4,#ffe3c2,#ffe2c1,#ffe1bf,#ffe0be,#ffdfbc,#ffdfbb,#ffdeb9,#ffddb7,#ffdcb6,#fedbb4,#fedab2,#fed9b1,#fed9af,#fed7ad,#fed6ab,#fed5a9,#fed4a6,#fed3a4,#fed2a2,#fed19f,#fed09d)"></i>
<i style="background:linear-gradient(90deg,#ffebd3,#ffebd3,#ffebd3,#ffebd3,#ffebd3,#ffebd3,#ffebd3,#ffebd3,#ffebd3,#ffebd3,#ffebd3,#ffebd3,#ffebd3,#ffebd3,#ffebd3,#ffebd3,#ffebd3,#ffead2,#ffead0,#ffe9cf,#ffe8cd,#ffe7cc,#ffe7ca,#ffe6c9,#ffe5c7,#ffe4c6,#ffe4c4,#ffe3c3,#ffe2c1,#ffe1c0,#ffe0be,#ffe0bd,#ffdfbb,#ffdeba,#ffddb8,#ffdcb6,#fedcb5,#fedbb3,#fedab1,#fed9af,#fed8ad,#fed7ab,#fed6a9,#fed5a7,#fed4a5,#fed2a3,#fed1a0,#fed09e)"></i>
<i style="background:linear-gradient(90deg,#ffebd3,#ffebd3,#ffebd3,#ffebd3,#ffebd3,#ffebd3,#ffebd3,#ffebd3,#ffebd3,#ffebd3,#ffebd3,#ffebd3,#ffebd3,#ffebd3,#ffebd3,#ffebd3,#ffebd3,#ffead2,#ffead1,#ffe9cf,#ffe8ce,#ffe8cc,#ffe7cb,#ffe6c9,#ffe5c8,#ffe4c6,#ffe4c5,#ffe3c3,#ffe2c2,#ffe1c0,#ffe1bf,#ffe0bd,#ffdfbc,#ffdeba,#ffddb8,#ffddb7,#fedcb5,#fedbb4,#fedab2,#fed9b0,#fed8ae,#fed7ac,#fed6aa,#fed5a8,#fed4a6,#fed3a3,#fed2a1,#fed09f)"></i>
<i style="background:linear-gradient(90deg,#ffebd3,#ffebd3,#ffebd3,#ffebd3,#ffebd3,#ffebd3,#ffebd3,#ffebd3,#ffebd3,#ffebd3,#ffebd3,#ffebd3,#ffebd3,#ffebd3,#ffebd3,#ffebd3,#ffebd3,#ffead2,#ffead1,#ffe9cf,#ffe8ce,#ffe8cc,#ffe7cb,#ffe6c9,#ffe5c8,#ffe5c6,#ffe4c5,#ffe3c3,#ffe2c2,#ffe2c1,#ffe1bf,#ffe0be,#ffdfbc,#ffdfba,#ffdeb9,#ffddb7,#ffdcb6,#fedbb4,#fedab2,#fedab1,#fed9af,#fed8ad,#fed7ab,#fed5a9,#fed4a7,#fed3a4,#fed2a2,#fed1a0)"></i>
<i style="background:linear-gradient(90deg,#ffebd3,#ffebd3,#ffebd3,#ffebd3,#ffebd3,#ffebd3,#ffebd3,#ffebd3,#ffebd3,#ffebd3,#ffebd3,#ffebd3,#ffebd3,#ffebd3,#ffebd3,#ffebd3,#ffebd3,#ffebd3,#ffead1,#ffe9d0,#ffe9ce,#ffe8cd,#ffe7cb,#ffe6ca,#ffe6c8,#ffe5c7,#ffe4c5,#ffe3c4,#ffe3c2,#ffe2c1,#ffe1bf,#ffe0be,#ffe0bc,#ffdfbb,#ffdeb9,#ffddb8,#ffdcb6,#fedcb5,#fedbb3,#fedab1,#fed9af,#fed8ad,#fed7ab,#fed6a9,#fed5a7,#fed4a5,#fed2a3,#fed1a0)"></i>
<i style="background:linear-gradient(90deg,#ffebd3,#ffebd3,#ffebd3,#ffebd3,#ffebd3,#ffebd3,#ffebd3,#ffebd3,#ffebd3,#ffebd3,#ffebd3,#ffebd3,#ffebd3,#ffebd3,#ffebd3,#ffebd3,#ffebd3,#ffebd3,#ffead1,#ffe9d0,#ffe9ce,#ffe8cd,#ffe7cb,#ffe6ca,#ffe6c9,#ffe5c7,#ffe4c6,#ffe4c4,#ffe3c3,#ffe2c1,#ffe1c0,#ffe1be,#ffe0bd,#ffdfbb,#ffdeba,#ffddb8,#ffddb7,#fedcb5,#fedbb4,#fedab2,#fed9b0,#fed8ae,#fed7ac,#fed6aa,#fed5a8,#fed4a6,#fed3a4,#fed2a1)"></i>
</div>
<svg width="899" height="450" viewBox="0 0 899 450">
<clipPath id="cp0"><rect x="62.9" y="45.0" width="234.6" height="157.0"/></clipPath>
<g clip-path="url(#cp0)">
</g>
<clipPath id="cp1"><rect x="338.7" y="45.0" width="234.6" height="157.0"/></clipPath>
<g clip-path="url(#cp1)">
</g>
<clipPath id="cp2"><rect x="614.4" y="45.0" width="234.6" height="157.0"/></clipPath>
<g clip-path="url(#cp2)">
</g>
<g clip-path="url(#cp0)">
<path d="M63.0 62.3L69.2 67.0L75.3 71.7L81.5 76.2L87.6 80.6L93.8 84.9L99.9 89.1L106.1 93.2L112.2 97.2L118.4 101.1L124.6 104.8L130.7 108.5L136.9 112.0L143.0 115.5L149.2 118.8L155.3 122.0L161.5 125.1L167.6 128.1L173.8 131.0L179.9 133.8L186.1 136.5L192.3 139.0L198.4 141.5L204.6 143.8L210.7 146.1L216.9 148.2L223.0 150.2L229.2 152.2L235.3 154.0L241.5 155.7L247.7 157.3L253.8 158.8L260.0 160.1L266.1 161.4L272.3 162.6L278.4 163.6L284.6 164.6L290.7 165.5L296.9 166.2" fill="none" stroke="#000" stroke-width="0.75"/>
<path d="M63.0 51.7L69.2 55.9L75.3 60.2L81.5 64.3L87.6 68.4L93.8 72.5L99.9 76.5L106.1 80.4L112.2 84.2L118.4 88.0L124.6 91.7L130.7 95.3L136.9 98.8L143.0 102.3L149.2 105.7L155.3 108.9L161.5 112.1L167.6 115.2L173.8 118.2L179.9 121.2L186.1 124.0L192.3 126.7L198.4 129.3L204.6 131.8L210.7 134.2L216.9 136.5L223.0 138.6L229.2 140.7L235.3 142.6L241.5 144.5L247.7 146.1L253.8 147.7L260.0 149.1L266.1 150.5L272.3 151.6L278.4 152.7L284.6 153.6L290.7 154.3L296.9 155.0" fill="none" stroke="#000" stroke-width="0.8" stroke-dasharray="6.3 7.3" stroke-dashoffset="0"/>
<path d="M63.0 75.8L69.2 80.5L75.3 85.1L81.5 89.5L87.6 93.9L93.8 98.1L99.9 102.3L106.1 106.3L112.2 110.2L118.4 114.0L124.6 117.7L130.7 121.3L136.9 124.8L143.0 128.2L149.2 131.4L155.3 134.6L161.5 137.7L167.6 140.6L173.8 143.5L179.9 146.2L186.1 148.9L192.3 151.4L198.4 153.8L204.6 156.2L210.7 158.4L216.9 160.6L223.0 162.6L229.2 164.5L235.3 166.4L241.5 168.1L247.7 169.7L253.8 171.3L260.0 172.7L266.1 174.1L272.3 175.3L278.4 176.5L284.6 177.5L290.7 178.5L296.9 179.4" fill="none" stroke="#000" stroke-width="0.8" stroke-dasharray="6.3 7.3" stroke-dashoffset="0"/>
<path d="M157.3 123.7L156.3 122.4L155.1 121.4L153.7 120.3L152.6 119.5L151.0 118.4L149.5 117.4L148.3 116.6L146.9 115.7L145.2 114.7L143.6 113.7L142.2 112.8L140.9 112.0L139.9 111.5L138.9 110.8L137.8 110.2L136.7 109.6L135.7 108.9L134.6 108.3L133.5 107.7L132.5 107.2L131.5 106.7L130.5 106.1L129.4 105.6L128.4 105.1L127.2 104.5L126.0 104.0L125.0 103.5L123.9 103.1L122.9 102.8L121.3 102.6L121.3 103.8L121.8 104.4L122.8 105.4L123.5 106.0L124.5 106.9L125.4 107.5L126.2 108.1L127.2 108.9L128.3 109.6L129.1 110.1L129.9 110.7L131.0 111.4L132.1 112.1L133.1 112.8L134.1 113.3L135.0 113.9L135.9 114.4L136.9 115.0L138.0 115.5L139.3 116.2L140.9 117.1L142.4 117.9L144.0 118.7L145.6 119.5L147.2 120.3L148.9 121.1L151.0 122.0L152.6 122.7L154.2 123.3L156.4 123.9Z" fill="none" stroke="#fff" stroke-width="1.0" stroke-opacity="0.95"/>
<path d="M166.1 128.8L165.8 127.4L165.1 126.6L163.8 125.4L163.0 124.8L161.7 123.8L160.7 123.0L159.8 122.3L158.4 121.4L157.2 120.5L156.2 119.9L155.2 119.2L153.9 118.3L152.6 117.5L151.5 116.8L150.5 116.2L149.3 115.4L148.0 114.6L146.7 113.8L145.4 113.0L144.3 112.4L143.2 111.7L142.2 111.1L141.0 110.4L140.0 109.8L139.0 109.2L138.1 108.7L137.1 108.1L136.2 107.6L135.3 107.1L134.4 106.6L133.6 106.1L132.7 105.6L131.7 105.1L130.7 104.5L129.7 104.0L128.8 103.5L127.8 103.0L126.8 102.5L125.8 102.0L124.8 101.5L123.9 101.1L122.9 100.6L121.9 100.2L120.9 99.7L119.7 99.2L118.5 98.8L117.5 98.4L116.5 98.2L115.0 97.9L113.9 98.3L114.1 99.3L114.7 100.3L115.5 101.2L116.0 101.8L117.0 102.7L117.5 103.2L118.4 104.1L119.2 104.7L119.9 105.3L120.9 106.1L121.6 106.7L122.3 107.2L123.3 107.9L124.3 108.7L125.0 109.1L125.8 109.7L126.7 110.4L127.7 111.0L128.5 111.6L129.3 112.1L130.2 112.7L131.1 113.3L132.1 113.9L133.1 114.5L134.0 115.0L134.9 115.5L135.7 116.0L136.5 116.5L137.5 117.1L138.7 117.7L140.0 118.4L141.3 119.1L142.6 119.8L143.8 120.5L145.1 121.1L146.4 121.8L147.7 122.4L149.0 123.0L150.3 123.6L151.5 124.2L152.9 124.8L154.4 125.5L156.0 126.2L157.2 126.7L158.5 127.2L159.8 127.7L161.7 128.3L162.9 128.6L164.8 129.0L166.1 128.8Z" fill="none" stroke="#fff" stroke-width="1.0" stroke-opacity="0.95"/>
<path d="M173.8 133.6L174.7 133.1L174.6 132.1L173.9 131.0L172.8 129.9L172.2 129.3L171.0 128.3L170.3 127.7L169.3 126.9L168.1 126.0L167.3 125.4L166.4 124.7L165.2 123.9L164.1 123.2L163.3 122.6L162.3 121.9L161.1 121.2L160.0 120.4L159.0 119.8L158.1 119.2L157.0 118.5L155.9 117.8L154.7 117.1L153.6 116.4L152.7 115.8L151.8 115.2L150.7 114.5L149.5 113.8L148.4 113.1L147.2 112.4L146.1 111.8L145.2 111.2L144.2 110.7L143.1 110.0L142.0 109.4L141.0 108.8L140.1 108.2L139.1 107.7L138.1 107.1L137.3 106.6L136.4 106.1L135.6 105.6L134.7 105.1L133.8 104.6L132.8 104.1L131.8 103.5L130.9 103.0L129.9 102.5L128.9 101.9L127.9 101.4L127.0 100.9L126.0 100.4L125.0 99.9L124.1 99.4L123.1 98.9L122.1 98.4L121.1 97.9L120.2 97.4L119.2 96.9L118.2 96.5L117.3 96.0L116.3 95.6L115.3 95.2L114.3 94.8L113.4 94.4L112.4 94.0L111.1 93.5L110.0 93.2L109.0 92.9L107.5 92.7L106.1 93.1L106.0 94.1L106.4 95.1L107.0 96.0L107.5 96.6L108.3 97.5L108.9 98.2L109.7 99.0L110.4 99.7L111.2 100.5L111.8 101.0L112.8 101.8L113.5 102.4L114.2 103.1L115.2 103.9L115.8 104.4L116.7 105.0L117.6 105.8L118.3 106.3L119.1 106.9L120.0 107.6L121.0 108.3L121.7 108.8L122.5 109.3L123.4 110.0L124.4 110.7L125.2 111.2L125.9 111.7L126.8 112.3L127.8 112.9L128.8 113.6L129.7 114.1L130.4 114.6L131.2 115.1L132.2 115.7L133.1 116.3L134.1 116.8L135.1 117.4L136.0 118.0L137.0 118.5L138.0 119.1L139.0 119.6L140.1 120.2L141.1 120.8L142.2 121.4L143.3 122.0L144.5 122.6L145.6 123.2L146.8 123.8L147.9 124.3L149.1 124.9L150.2 125.5L151.5 126.1L152.7 126.6L154.0 127.2L155.3 127.8L156.6 128.4L157.7 128.9L158.8 129.3L160.0 129.8L161.1 130.3L162.6 130.8L164.0 131.3L165.1 131.7L166.3 132.1L168.0 132.6L169.1 132.9L170.8 133.3L171.9 133.5L173.6 133.6Z" fill="none" stroke="#fff" stroke-width="1.0" stroke-opacity="0.95"/>
<path d="M62.9 55.3L296.9 184.4" fill="none" stroke="#4614cc" stroke-width="1.7" stroke-dasharray="7 3.75 1.5 3.75" stroke-dashoffset="3.5"/>
</g>
<rect x="69.0" y="178" width="30.0" height="14.7" fill="#fff"/>
<text transform="translate(78.0,187.7) scale(1,1.08)" style="font-size:10px">piso</text>
<rect x="62.9" y="45.0" width="234.0" height="157.0" fill="none" stroke="#000" stroke-width="1.5"/>
<path d="M129.7 113.8H149.7M139.7 103.8V123.8" stroke="#1cf01c" stroke-width="2.6" fill="none"/>
<path d="M121.9 45.0v1.8M121.9 202.0v-1.8M163.7 45.0v1.8M163.7 202.0v-1.8M196.1 45.0v1.8M196.1 202.0v-1.8M222.6 45.0v1.8M222.6 202.0v-1.8M245.0 45.0v1.8M245.0 202.0v-1.8M264.5 45.0v1.8M264.5 202.0v-1.8M281.6 45.0v1.8M281.6 202.0v-1.8M62.9 146.1h2.6M296.9 146.1h-2.6M62.9 113.4h2.6M296.9 113.4h-2.6M62.9 90.2h2.6M296.9 90.2h-2.6M62.9 72.1h2.6M296.9 72.1h-2.6M62.9 57.4h2.6M296.9 57.4h-2.6" stroke="#000" stroke-width="1.1" fill="none"/>
<text transform="translate(180.2,233.4) scale(1,1.08)" text-anchor="middle">R<tspan dy="3.6" style="font-size:8.6px">S</tspan><tspan dy="-3.6">, kpc</tspan></text>
<g clip-path="url(#cp1)">
<path d="M339.5 78.9L345.6 83.5L351.8 88.0L357.9 92.4L364.0 96.7L370.2 101.0L376.3 105.2L382.4 109.4L388.6 113.4L394.7 117.4L400.8 121.3L406.9 125.2L413.1 128.9L419.2 132.6L425.3 136.3L431.5 139.8L437.6 143.2L443.7 146.6L449.9 149.9L456.0 153.1L462.1 156.2L468.3 159.3L474.4 162.2L480.5 165.1L486.7 167.9L492.8 170.6L498.9 173.2L505.1 175.7L511.2 178.1L517.3 180.4L523.4 182.7L529.6 184.8L535.7 186.8L541.8 188.8L548.0 190.6L554.1 192.4L560.2 194.1L566.4 195.6L572.5 197.1" fill="none" stroke="#000" stroke-width="0.75"/>
<path d="M339.5 65.9L345.6 70.4L351.8 74.8L357.9 79.1L364.0 83.4L370.2 87.6L376.3 91.8L382.4 95.9L388.6 99.9L394.7 103.9L400.8 107.8L406.9 111.6L413.1 115.4L419.2 119.1L425.3 122.7L431.5 126.2L437.6 129.7L443.7 133.1L449.9 136.4L456.0 139.6L462.1 142.7L468.3 145.7L474.4 148.7L480.5 151.6L486.7 154.3L492.8 157.0L498.9 159.6L505.1 162.1L511.2 164.5L517.3 166.8L523.4 169.0L529.6 171.1L535.7 173.1L541.8 175.0L548.0 176.7L554.1 178.4L560.2 180.0L566.4 181.4L572.5 182.7" fill="none" stroke="#000" stroke-width="0.8" stroke-dasharray="6.3 7.3" stroke-dashoffset="0"/>
<path d="M339.5 95.5L345.5 100.0L351.6 104.4L357.6 108.7L363.7 113.0L369.7 117.2L375.8 121.3L381.8 125.4L387.9 129.4L393.9 133.3L399.9 137.1L406.0 140.9L412.0 144.6L418.1 148.2L424.1 151.8L430.2 155.2L436.2 158.6L442.2 161.9L448.3 165.2L454.3 168.3L460.4 171.4L466.4 174.3L472.5 177.2L478.5 180.0L484.6 182.8L490.6 185.4L496.6 187.9L502.7 190.4L508.7 192.7L514.8 195.0L520.8 197.2L526.9 199.3L532.9 201.2L539.0 203.1L545.0 204.9" fill="none" stroke="#000" stroke-width="0.8" stroke-dasharray="6.3 7.3" stroke-dashoffset="0"/>
<path d="M465.9 158.5L464.8 157.2L463.5 156.2L462.0 155.0L460.7 154.1L458.9 152.9L457.2 151.8L456.0 151.0L454.4 150.0L452.6 148.9L450.8 147.8L449.2 146.9L447.8 146.0L446.3 145.2L444.5 144.2L443.0 143.3L442.0 142.7L441.0 142.1L440.0 141.5L439.1 141.0L438.2 140.5L437.3 140.0L436.3 139.5L435.4 139.0L434.5 138.5L433.5 138.0L432.5 137.5L431.5 137.0L430.5 136.5L429.4 136.0L428.3 135.5L427.2 135.0L426.0 134.5L425.0 134.1L424.0 133.7L423.0 133.4L421.5 133.0L420.5 133.0L419.9 133.5L420.4 134.5L421.0 135.2L421.8 136.0L422.5 136.7L423.5 137.5L424.1 138.0L425.0 138.7L426.0 139.4L426.8 140.0L427.5 140.5L428.5 141.1L429.5 141.8L430.5 142.5L431.4 143.0L432.2 143.5L433.0 144.0L434.0 144.6L435.0 145.2L436.0 145.7L437.0 146.3L438.0 146.8L439.0 147.4L440.0 147.9L441.2 148.5L442.9 149.4L444.7 150.3L446.4 151.1L448.1 152.0L449.9 152.8L451.6 153.6L453.3 154.4L455.2 155.3L457.6 156.3L459.3 157.0L460.9 157.6L463.4 158.5L465.7 158.7Z" fill="none" stroke="#fff" stroke-width="1.0" stroke-opacity="0.95"/>
<path d="M476.5 164.9L477.4 164.5L477.0 163.4L475.9 162.2L475.0 161.4L473.7 160.4L472.8 159.7L471.4 158.7L470.3 157.8L469.3 157.2L468.0 156.3L466.6 155.3L465.4 154.6L464.4 154.0L463.1 153.1L461.7 152.3L460.4 151.4L459.2 150.7L458.1 150.0L456.9 149.3L455.6 148.5L454.2 147.7L452.8 146.9L451.4 146.1L450.3 145.4L449.1 144.7L448.0 144.0L446.7 143.3L445.3 142.5L444.0 141.8L443.1 141.3L442.1 140.7L441.2 140.2L440.2 139.6L439.3 139.1L438.5 138.7L437.6 138.2L436.7 137.7L435.8 137.2L435.0 136.8L434.0 136.3L433.1 135.8L432.1 135.3L431.2 134.8L430.2 134.3L429.3 133.8L428.3 133.4L427.4 132.9L426.4 132.4L425.5 132.0L424.5 131.5L423.6 131.1L422.5 130.6L421.4 130.1L420.3 129.7L419.3 129.3L418.3 128.9L417.4 128.5L416.4 128.2L415.1 127.8L414.0 127.6L412.9 127.4L411.7 127.4L411.0 127.9L411.1 128.9L411.7 129.9L412.4 130.8L413.0 131.5L413.8 132.3L414.4 132.9L415.3 133.7L415.9 134.2L416.8 135.0L417.6 135.7L418.2 136.2L419.1 136.9L420.0 137.6L420.7 138.1L421.5 138.7L422.4 139.3L423.4 140.0L424.0 140.5L424.8 141.0L425.8 141.6L426.7 142.2L427.7 142.9L428.4 143.3L429.2 143.8L430.0 144.3L431.0 144.9L431.9 145.5L432.9 146.1L433.8 146.6L434.7 147.1L435.6 147.6L436.4 148.1L437.3 148.6L438.2 149.0L439.1 149.5L440.0 150.0L441.4 150.8L442.8 151.5L444.1 152.2L445.5 152.8L446.8 153.5L448.2 154.2L449.5 154.9L451.0 155.6L452.5 156.3L454.0 157.0L455.5 157.7L456.9 158.3L458.3 158.9L459.6 159.5L460.9 160.1L462.3 160.6L464.1 161.4L465.6 162.0L466.9 162.5L468.3 162.9L470.2 163.6L471.6 164.0L473.5 164.6L474.8 164.8L476.5 164.9Z" fill="none" stroke="#fff" stroke-width="1.0" stroke-opacity="0.95"/>
<path d="M488.4 171.0L489.4 170.1L489.3 169.5L488.6 168.4L487.5 167.3L486.8 166.7L485.6 165.6L484.8 165.0L483.7 164.1L482.5 163.2L481.7 162.7L480.6 161.9L479.4 161.0L478.3 160.3L477.4 159.7L476.3 159.0L475.0 158.2L473.8 157.4L472.8 156.8L471.8 156.2L470.7 155.5L469.5 154.7L468.3 153.9L467.0 153.2L466.0 152.6L465.0 152.0L464.0 151.3L462.7 150.6L461.5 149.9L460.3 149.2L459.1 148.4L457.9 147.8L456.9 147.2L455.9 146.6L454.8 145.9L453.6 145.2L452.3 144.5L451.1 143.8L449.9 143.1L448.7 142.4L447.4 141.8L446.3 141.1L445.3 140.5L444.4 140.0L443.5 139.5L442.6 139.0L441.6 138.5L440.7 138.0L439.7 137.4L438.8 136.9L437.8 136.4L436.8 135.9L435.9 135.3L434.9 134.8L434.0 134.3L433.0 133.8L432.1 133.3L431.2 132.8L430.2 132.3L429.3 131.9L428.4 131.4L427.5 130.9L426.5 130.4L425.6 129.9L424.6 129.5L423.7 129.0L422.7 128.5L421.7 128.0L420.7 127.5L419.7 127.1L418.7 126.6L417.7 126.1L416.7 125.6L415.7 125.2L414.7 124.8L413.8 124.4L412.8 124.0L411.9 123.6L410.9 123.2L409.8 122.8L408.5 122.3L407.5 122.0L406.6 121.7L405.3 121.4L404.2 121.2L402.7 121.0L401.2 121.4L400.9 122.4L401.3 123.4L401.8 124.4L402.5 125.4L403.1 126.1L403.8 126.8L404.5 127.7L405.2 128.3L406.0 129.1L406.7 129.8L407.4 130.4L408.3 131.2L408.9 131.7L409.8 132.4L410.6 133.2L411.2 133.7L412.2 134.4L413.1 135.1L413.7 135.6L414.6 136.2L415.5 136.9L416.3 137.5L417.0 138.0L417.9 138.6L418.9 139.3L419.8 139.9L420.5 140.4L421.3 141.0L422.2 141.6L423.2 142.2L424.1 142.8L424.9 143.3L425.6 143.8L426.5 144.4L427.5 145.0L428.4 145.6L429.4 146.1L430.3 146.7L431.1 147.2L431.9 147.7L432.8 148.1L433.7 148.7L434.7 149.2L435.6 149.8L436.6 150.3L437.6 150.8L438.5 151.4L439.6 151.9L440.8 152.6L442.1 153.2L443.3 153.9L444.5 154.5L445.7 155.1L446.9 155.7L448.1 156.3L449.4 156.9L450.6 157.5L451.8 158.1L453.0 158.7L454.2 159.3L455.4 159.8L456.6 160.4L457.8 161.0L459.1 161.5L460.3 162.1L461.6 162.7L463.1 163.3L464.5 163.9L465.7 164.4L466.9 164.9L468.1 165.4L469.3 165.9L471.0 166.5L472.3 167.0L473.5 167.4L474.7 167.9L476.5 168.5L477.7 168.9L478.9 169.3L480.7 169.8L481.9 170.1L483.7 170.5L484.9 170.8L486.6 171.0L488.4 171.0Z" fill="none" stroke="#fff" stroke-width="1.0" stroke-opacity="0.95"/>
<path d="M338.7 119.0L505.0 203.1" fill="none" stroke="#4614cc" stroke-width="1.7" stroke-dasharray="7 3.75 1.5 3.75" stroke-dashoffset="11.5"/>
</g>
<rect x="344.8" y="178" width="31.0" height="14.7" fill="#fff"/>
<text transform="translate(353.8,187.7) scale(1,1.08)" style="font-size:10px">burk</text>
<rect x="338.7" y="45.0" width="234.0" height="157.0" fill="none" stroke="#000" stroke-width="1.5"/>
<path d="M432.0 146.0H452.0M442.0 136.0V156.0" stroke="#1cf01c" stroke-width="2.6" fill="none"/>
<path d="M394.6 45.0v1.8M394.6 202.0v-1.8M438.0 45.0v1.8M438.0 202.0v-1.8M473.4 45.0v1.8M473.4 202.0v-1.8M503.4 45.0v1.8M503.4 202.0v-1.8M529.3 45.0v1.8M529.3 202.0v-1.8M552.2 45.0v1.8M552.2 202.0v-1.8M338.7 162.4h2.6M572.7 162.4h-2.6M338.7 134.4h2.6M572.7 134.4h-2.6M338.7 112.6h2.6M572.7 112.6h-2.6M338.7 94.8h2.6M572.7 94.8h-2.6M338.7 79.8h2.6M572.7 79.8h-2.6M338.7 66.8h2.6M572.7 66.8h-2.6M338.7 55.3h2.6M572.7 55.3h-2.6" stroke="#000" stroke-width="1.1" fill="none"/>
<text transform="translate(456.0,233.4) scale(1,1.08)" text-anchor="middle">R<tspan dy="3.6" style="font-size:8.6px">S</tspan><tspan dy="-3.6">, kpc</tspan></text>
<g clip-path="url(#cp2)">
<path d="M694.0 40.7L700.2 44.3L706.3 48.0L712.5 51.6L718.6 55.2L724.8 58.8L730.9 62.3L737.1 65.9L743.2 69.4L749.4 72.9L755.5 76.4L761.7 79.8L767.8 83.2L774.0 86.7L780.1 90.0L786.3 93.4L792.4 96.7L798.6 100.0L804.7 103.3L810.9 106.6L817.0 109.8L823.2 113.0L829.3 116.2L835.5 119.4L841.6 122.5L847.8 125.6" fill="none" stroke="#000" stroke-width="0.75"/>
<path d="M716.0 40.0L722.3 43.6L728.6 47.2L734.8 50.8L741.1 54.4L747.4 57.9L753.7 61.4L759.9 64.9L766.2 68.4L772.5 71.9L778.8 75.3L785.0 78.7L791.3 82.2L797.6 85.5L803.9 88.9L810.1 92.3L816.4 95.6L822.7 98.9L829.0 102.2L835.2 105.5L841.5 108.8L847.8 112.1" fill="none" stroke="#000" stroke-width="0.8" stroke-dasharray="6.3 7.3" stroke-dashoffset="0"/>
<path d="M664.0 40.1L670.1 43.5L676.3 46.9L682.4 50.3L688.5 53.8L694.6 57.2L700.8 60.7L706.9 64.2L713.0 67.7L719.1 71.2L725.3 74.7L731.4 78.2L737.5 81.7L743.6 85.2L749.8 88.7L755.9 92.1L762.0 95.6L768.2 99.1L774.3 102.5L780.4 105.9L786.5 109.3L792.7 112.6L798.8 116.0L804.9 119.3L811.0 122.5L817.2 125.7L823.3 128.9L829.4 132.1L835.5 135.2L841.7 138.2L847.8 141.2" fill="none" stroke="#000" stroke-width="0.8" stroke-dasharray="6.3 7.3" stroke-dashoffset="0"/>
<path d="M850.5 123.7L849.5 123.2L848.2 122.6L847.0 122.0L845.7 121.3L844.4 120.7L843.2 120.1L841.9 119.5L840.7 118.9L839.4 118.2L838.1 117.6L836.9 117.0L835.6 116.4L834.3 115.8L833.1 115.1L831.7 114.5L830.3 113.8L829.0 113.2L827.6 112.5L826.2 111.9L824.9 111.3L823.6 110.7L822.4 110.1L821.1 109.5L819.9 109.0L818.6 108.4L817.3 107.8L816.0 107.2L814.3 106.6L813.0 106.1L811.7 105.7L811.1 106.2L811.9 106.9L813.2 107.9L814.2 108.6L815.1 109.3L816.4 110.1L817.7 110.9L818.9 111.7L819.9 112.3L820.9 113.0L822.2 113.8L823.4 114.5L824.7 115.3L825.9 116.0L826.9 116.7L827.9 117.3L829.2 118.0L830.5 118.8L831.8 119.6L833.0 120.3L834.2 121.0L835.3 121.7L836.3 122.3L837.5 123.0L838.8 123.7L840.1 124.5L841.3 125.2L842.6 125.9L843.8 126.7L844.9 127.3L846.0 127.9L847.0 128.5L848.0 129.1L849.0 129.7L850.0 130.2" fill="none" stroke="#fff" stroke-width="1.0" stroke-opacity="0.95"/>
<path d="M850.5 121.7L849.5 121.2L848.5 120.7L847.5 120.2L846.5 119.7L845.5 119.2L844.5 118.7L843.5 118.2L842.5 117.7L841.5 117.2L840.5 116.7L839.5 116.2L838.5 115.7L837.5 115.2L836.5 114.7L835.5 114.2L834.5 113.7L833.5 113.2L832.5 112.7L831.5 112.2L830.5 111.7L829.5 111.2L828.5 110.7L827.5 110.2L826.5 109.7L825.5 109.2L824.5 108.7L823.5 108.2L822.5 107.7L821.5 107.2L820.5 106.7L819.5 106.3L818.5 105.8L817.5 105.3L816.5 104.8L815.5 104.3L814.5 103.8L813.5 103.3L812.5 102.8L811.5 102.3L810.5 101.8L809.5 101.4L808.5 100.9L807.5 100.4L806.5 99.9L805.5 99.4L804.5 98.9L803.5 98.5L802.5 98.0L801.5 97.5L800.4 97.0L799.4 96.5L798.3 96.0L797.2 95.5L796.2 95.0L795.1 94.5L794.0 94.0L793.0 93.5L792.0 93.1L791.0 92.6L790.0 92.2L789.0 91.8L788.0 91.3L787.0 90.9L786.0 90.5L784.9 90.0L783.6 89.5L782.5 89.1L781.5 88.8L780.5 88.4L779.0 88.3L779.1 89.0L780.0 89.9L780.7 90.5L781.5 91.1L782.5 91.8L783.4 92.5L784.1 93.0L785.0 93.6L786.0 94.3L787.0 95.0L787.8 95.5L788.6 96.0L789.5 96.6L790.5 97.2L791.5 97.9L792.5 98.5L793.3 99.0L794.0 99.5L795.0 100.1L796.0 100.7L797.0 101.3L798.0 102.0L798.9 102.5L799.7 103.0L800.5 103.5L801.5 104.1L802.5 104.7L803.5 105.3L804.5 105.9L805.4 106.5L806.3 107.0L807.1 107.5L808.0 108.0L809.0 108.6L810.0 109.2L811.0 109.8L812.0 110.4L813.0 111.0L813.8 111.5L814.6 112.0L815.5 112.5L816.5 113.1L817.5 113.7L818.5 114.3L819.5 114.9L820.5 115.4L821.5 116.0L822.3 116.5L823.2 117.0L824.0 117.5L825.0 118.1L826.0 118.6L827.0 119.2L828.0 119.8L829.0 120.4L830.0 121.0L830.9 121.5L831.8 122.0L832.7 122.5L833.5 123.0L834.5 123.6L835.5 124.1L836.5 124.7L837.5 125.3L838.5 125.8L839.5 126.4L840.5 127.0L841.4 127.5L842.3 128.0L843.2 128.5L844.0 129.0L845.0 129.5L846.0 130.1L847.0 130.7L848.0 131.2L849.0 131.8L850.0 132.4" fill="none" stroke="#fff" stroke-width="1.0" stroke-opacity="0.95"/>
<path d="M850.6 119.8L849.7 119.4L848.8 118.9L847.8 118.4L846.9 118.0L846.0 117.5L845.1 117.1L844.2 116.6L843.3 116.1L842.4 115.7L841.5 115.2L840.6 114.8L839.7 114.3L838.8 113.8L837.9 113.4L837.0 112.9L836.1 112.4L835.2 112.0L834.3 111.5L833.3 111.1L832.4 110.6L831.5 110.1L830.6 109.7L829.7 109.2L828.8 108.8L827.9 108.3L827.0 107.9L826.1 107.4L825.2 107.0L824.4 106.5L823.5 106.1L822.6 105.6L821.7 105.2L820.8 104.7L819.9 104.3L819.0 103.8L818.1 103.4L817.2 102.9L816.3 102.5L815.4 102.0L814.6 101.6L813.7 101.1L812.8 100.7L811.9 100.2L811.0 99.8L810.1 99.3L809.2 98.9L808.3 98.4L807.4 98.0L806.5 97.5L805.6 97.1L804.7 96.6L803.8 96.2L802.9 95.7L802.0 95.3L801.1 94.8L800.2 94.4L799.3 93.9L798.4 93.5L797.5 93.0L796.6 92.6L795.7 92.1L794.8 91.7L793.9 91.2L793.0 90.8L792.1 90.3L791.2 89.9L790.3 89.4L789.4 89.0L788.5 88.5L787.6 88.1L786.7 87.6L785.8 87.2L784.8 86.7L783.9 86.3L783.0 85.8L782.1 85.4L781.2 84.9L780.3 84.5L779.4 84.0L778.4 83.6L777.5 83.1L776.6 82.7L775.7 82.2L774.7 81.8L773.8 81.3L772.9 80.9L771.9 80.4L771.0 80.0L770.1 79.5L769.1 79.1L768.2 78.6L767.2 78.2L766.3 77.8L765.3 77.3L764.4 76.9L763.5 76.5L762.6 76.1L761.7 75.6L760.8 75.2L759.9 74.8L759.0 74.4L758.1 74.0L757.2 73.6L756.3 73.2L755.4 72.8L754.4 72.4L753.3 72.0L752.2 71.5L751.3 71.1L750.3 70.8L749.4 70.5L748.5 70.1L747.3 69.8L746.2 69.5L745.1 69.9L745.7 70.8L746.2 71.3L747.1 72.1L747.7 72.7L748.4 73.2L749.3 73.9L750.1 74.5L750.7 75.0L751.5 75.6L752.4 76.3L753.3 76.8L753.9 77.3L754.7 77.8L755.6 78.4L756.5 79.1L757.3 79.6L758.0 80.1L758.7 80.6L759.6 81.2L760.5 81.8L761.4 82.3L762.2 82.8L762.9 83.3L763.7 83.8L764.6 84.4L765.5 85.0L766.4 85.5L767.1 86.0L767.9 86.5L768.7 87.0L769.6 87.5L770.5 88.1L771.4 88.7L772.2 89.2L773.0 89.7L773.7 90.1L774.5 90.6L775.4 91.2L776.3 91.7L777.2 92.3L778.1 92.9L778.9 93.3L779.6 93.8L780.4 94.2L781.3 94.8L782.2 95.3L783.1 95.9L784.0 96.4L784.9 97.0L785.6 97.4L786.4 97.9L787.2 98.3L788.1 98.9L789.0 99.4L789.9 100.0L790.8 100.5L791.7 101.0L792.5 101.5L793.3 102.0L794.0 102.4L794.8 102.9L795.7 103.4L796.6 104.0L797.5 104.5L798.4 105.0L799.3 105.6L800.2 106.1L801.0 106.5L801.7 107.0L802.5 107.4L803.4 108.0L804.3 108.5L805.2 109.0L806.1 109.5L807.0 110.1L807.9 110.6L808.7 111.1L809.5 111.5L810.3 112.0L811.1 112.4L812.0 113.0L812.9 113.5L813.8 114.0L814.7 114.5L815.6 115.0L816.5 115.6L817.4 116.1L818.2 116.5L819.0 117.0L819.8 117.4L820.6 117.9L821.5 118.4L822.4 118.9L823.3 119.5L824.2 120.0L825.1 120.5L826.0 121.0L826.9 121.5L827.7 122.0L828.5 122.4L829.3 122.9L830.1 123.4L831.0 123.8L831.9 124.3L832.8 124.9L833.7 125.4L834.6 125.9L835.5 126.4L836.4 126.9L837.3 127.4L838.2 127.9L839.0 128.3L839.8 128.8L840.6 129.2L841.4 129.7L842.3 130.2L843.2 130.7L844.1 131.2L845.0 131.7L846.0 132.3L847.0 132.8L848.0 133.4L849.0 134.0L850.0 134.5" fill="none" stroke="#fff" stroke-width="1.0" stroke-opacity="0.95"/>
<path d="M813.0 45.0L847.8 62.6" fill="none" stroke="#4614cc" stroke-width="1.7" stroke-dasharray="7 3.75 1.5 3.75" stroke-dashoffset="0"/>
</g>
<rect x="620.5" y="178" width="27.6" height="14.7" fill="#fff"/>
<text transform="translate(629.5,187.7) scale(1,1.08)" style="font-size:10px">nfw</text>
<rect x="614.4" y="45.0" width="234.0" height="157.0" fill="none" stroke="#000" stroke-width="1.5"/>
<path d="M837.1 126.2H849.3M847.1 116.2V136.2" stroke="#1cf01c" stroke-width="2.6" fill="none"/>
<path d="M670.3 45.0v1.8M670.3 202.0v-1.8M713.7 45.0v1.8M713.7 202.0v-1.8M749.1 45.0v1.8M749.1 202.0v-1.8M779.1 45.0v1.8M779.1 202.0v-1.8M805.0 45.0v1.8M805.0 202.0v-1.8M827.9 45.0v1.8M827.9 202.0v-1.8M614.4 162.4h2.6M848.4 162.4h-2.6M614.4 134.4h2.6M848.4 134.4h-2.6M614.4 112.6h2.6M848.4 112.6h-2.6M614.4 94.8h2.6M848.4 94.8h-2.6M614.4 79.8h2.6M848.4 79.8h-2.6M614.4 66.8h2.6M848.4 66.8h-2.6M614.4 55.3h2.6M848.4 55.3h-2.6" stroke="#000" stroke-width="1.1" fill="none"/>
<text transform="translate(731.7,233.4) scale(1,1.08)" text-anchor="middle">R<tspan dy="3.6" style="font-size:8.6px">S</tspan><tspan dy="-3.6">, kpc</tspan></text>
<text transform="translate(58.8,202.9) scale(1,1.08)" text-anchor="end">0.01</text>
<text transform="translate(296.2,219.4) scale(1,1.08)" text-anchor="middle">10</text>
<text transform="translate(333.8,52.9) scale(1,1.08)" text-anchor="end">0.1</text>
<text transform="translate(571.8,219.4) scale(1,1.08)" text-anchor="middle">10</text>
<text transform="translate(609.6,52.9) scale(1,1.08)" text-anchor="end">0.001</text>
<text transform="translate(847.4,219.4) scale(1,1.08)" text-anchor="middle">100</text>
<text transform="translate(60.6,35.5) scale(1,1.08)" style="font-size:13.6px">NGC7793: Model B</text>
<text transform="translate(24.3,158.7) rotate(-90) scale(1,1.08)"><tspan x="0.8" y="0">ρ</tspan><tspan x="8.9" y="3.0" style="font-size:7.6px">0,</tspan><tspan x="18.5" y="0">M</tspan><tspan x="31.8" y="3.3" style="font-size:10.6px">⊙</tspan><tspan x="41.4" y="0">pc</tspan><tspan x="56.3" y="-5.8" style="font-size:8.6px">-3</tspan></text>
<text transform="translate(25,366.8) rotate(-90) scale(1,1.08)" style="font-size:13.8px">Velocity, km/s</text>
<path d="M66.0 352.0L71.5 349.2L77.0 344.4L82.6 340.2L88.1 337.0L93.6 334.9L99.2 333.2L104.7 331.2L110.2 328.4L115.7 324.4L121.3 321.6L126.8 318.7L132.3 316.3L137.9 314.6L143.4 314.1L148.9 314.4L154.5 314.6L160.0 314.5L165.5 314.4L171.1 314.2L176.6 314.1L182.1 314.4L187.6 315.3L193.2 316.3L198.7 317.5L204.2 318.7L209.8 319.9L215.3 321.5L220.8 323.1L226.4 324.6L231.9 326.0L237.4 327.4L242.9 328.7L248.5 330.1L254.0 331.5L259.5 332.7L265.1 333.9L270.6 335.1L276.1 336.5L281.7 337.9" fill="none" stroke="#4a48c0" stroke-width="0.8" stroke-dasharray="9 5.5"/>
<path d="M66.0 398.6L69.7 398.2L73.3 397.7L77.0 397.4L80.7 397.3L84.4 397.2L88.1 397.1L91.8 397.0L95.5 396.7L99.2 396.0L102.8 395.2L106.5 393.5L110.2 391.3L113.9 389.1L117.6 388.3L121.3 387.5L125.0 386.8L128.7 386.2L132.3 385.7L136.0 385.2L139.7 384.6L143.4 384.6L147.1 384.6L150.8 382.0L154.5 378.7L158.1 376.0L161.8 374.2L165.5 373.5L169.2 372.8L172.9 371.7L176.6 370.6L180.3 369.5L184.0 368.4L187.6 367.3L191.3 366.2L195.0 365.2L198.7 364.3L202.4 363.4L206.1 363.1L209.8 363.2L213.5 363.3L217.1 363.3L220.8 362.9L224.5 362.5L228.2 362.0L231.9 361.6L235.6 361.2L239.3 360.7L242.9 360.2L246.6 359.7L250.3 359.2L254.0 359.3L257.7 359.7L261.4 360.0L265.1 359.8L268.8 359.7L272.4 359.6L276.1 359.5L279.8 359.4L283.5 358.5" fill="none" stroke="#ff6644" stroke-width="0.8" stroke-dasharray="13 4.5 1.5 4.5"/>
<path d="M66.0 350.6L67.8 351.8L69.7 353.7L71.5 355.2L73.3 356.7L75.2 358.2L77.0 359.6L78.9 361.1L80.7 362.5L82.6 363.7L84.4 364.9L86.3 366.1L88.1 367.0L89.9 368.0L91.8 368.9L93.6 369.8L95.5 370.7L97.3 371.5L99.2 372.3L101.0 373.2L102.8 373.8L104.7 374.2L106.5 374.7L108.4 375.1L110.2 375.6L112.1 376.0L113.9 376.4L115.7 376.8L117.6 377.2L119.4 377.6L121.3 378.0L123.1 378.4L125.0 378.7L126.8 379.0L128.7 379.3L130.5 379.6L132.3 379.9L134.2 380.1L136.0 380.4L137.9 380.6L139.7 380.9L141.6 381.1L143.4 381.4L145.2 381.6L147.1 381.9L148.9 382.1L150.8 382.2L152.6 382.3L154.5 382.4L156.3 382.6L158.1 382.7L160.0 382.8L161.8 382.9L163.7 383.0L165.5 383.1L167.4 383.2L169.2 383.4L171.1 383.5L172.9 383.6L174.7 383.7L176.6 383.8L178.4 383.9L180.3 384.0L182.1 384.1L184.0 384.2L185.8 384.3L187.6 384.3L189.5 384.4L191.3 384.5L193.2 384.6L195.0 384.7L196.9 384.8L198.7 384.8L200.5 384.9L202.4 385.0L204.2 385.1L206.1 385.2L207.9 385.3L209.8 385.3L211.6 385.4L213.5 385.5L215.3 385.6L217.1 385.7L219.0 385.8L220.8 385.8L222.7 385.9L224.5 386.0L226.4 386.1L228.2 386.1L230.0 386.2L231.9 386.3L233.7 386.3L235.6 386.4L237.4 386.5L239.3 386.6L241.1 386.6L242.9 386.7L244.8 386.8L246.6 386.9L248.5 386.9L250.3 387.0L252.2 387.1L254.0 387.2L255.9 387.2L257.7 387.3L259.5 387.4L261.4 387.5L263.2 387.5L265.1 387.6L266.9 387.7L268.8 387.7L270.6 387.8L272.4 387.9L274.3 388.0L276.1 388.0L278.0 388.1L279.8 388.2L281.7 388.3L283.5 388.3L285.3 388.4" fill="none" stroke="#a050b4" stroke-width="1.0" stroke-dasharray="1.1 4.0"/>
<path d="M66.0 395.9L71.5 390.6L77.0 385.3L82.6 380.1L88.1 375.0L93.6 370.0L99.2 365.2L104.7 360.6L110.2 356.1L115.7 351.8L121.3 347.8L126.8 343.9L132.3 340.2L137.9 336.6L143.4 333.3L148.9 330.1L154.5 327.1L160.0 324.3L165.5 321.6L171.1 319.1L176.6 316.6L182.1 314.3L187.6 312.2L193.2 310.1L198.7 308.1L204.2 306.3L209.8 304.5L215.3 302.8L220.8 301.2L226.4 299.7L231.9 298.2L237.4 296.8L242.9 295.5L248.5 294.2L254.0 293.0L259.5 291.8L265.1 290.7L270.6 289.7L276.1 288.6L281.7 287.6" fill="none" stroke="#111" stroke-width="0.75"/>
<path d="M66.0 376.5v3.0m-1.2 0h2.4m-2.4 -3.0h2.4M69.3 363.0v4.0m-1.2 0h2.4m-2.4 -4.0h2.4M72.6 352.8v4.4m-1.2 0h2.4m-2.4 -4.4h2.4M75.9 342.8v4.4m-1.2 0h2.4m-2.4 -4.4h2.4M79.2 337.8v4.4m-1.2 0h2.4m-2.4 -4.4h2.4M82.5 334.4v4.4m-1.2 0h2.4m-2.4 -4.4h2.4M86.0 331.8v4.4m-1.2 0h2.4m-2.4 -4.4h2.4M89.6 329.8v4.4m-1.2 0h2.4m-2.4 -4.4h2.4M92.8 327.7v4.6m-1.2 0h2.4m-2.4 -4.6h2.4M96.0 325.0v4.8m-1.2 0h2.4m-2.4 -4.8h2.4M99.3 322.9v5.0m-1.2 0h2.4m-2.4 -5.0h2.4M102.4 320.8v5.2m-1.2 0h2.4m-2.4 -5.2h2.4M105.6 318.2v5.6m-1.2 0h2.4m-2.4 -5.6h2.4M108.8 316.6v6.0m-1.2 0h2.4m-2.4 -6.0h2.4M112.0 314.8v6.4m-1.2 0h2.4m-2.4 -6.4h2.4M115.4 311.6v6.8m-1.2 0h2.4m-2.4 -6.8h2.4M118.6 308.4v7.2m-1.2 0h2.4m-2.4 -7.2h2.4M121.8 305.6v7.6m-1.2 0h2.4m-2.4 -7.6h2.4M125.0 303.0v8.0m-1.2 0h2.4m-2.4 -8.0h2.4M128.4 299.8v8.4m-1.2 0h2.4m-2.4 -8.4h2.4M131.6 295.6v8.8m-1.2 0h2.4m-2.4 -8.8h2.4M135.0 292.0v9.2m-1.2 0h2.4m-2.4 -9.2h2.4M138.0 288.2v9.6m-1.2 0h2.4m-2.4 -9.6h2.4M141.4 285.0v10.0m-1.2 0h2.4m-2.4 -10.0h2.4M144.6 283.0v10.0m-1.2 0h2.4m-2.4 -10.0h2.4M148.0 280.0v10.0m-1.2 0h2.4m-2.4 -10.0h2.4M151.4 277.6v10.0m-1.2 0h2.4m-2.4 -10.0h2.4M154.4 275.6v10.0m-1.2 0h2.4m-2.4 -10.0h2.4M158.0 273.0v10.0m-1.2 0h2.4m-2.4 -10.0h2.4M161.0 270.4v10.0m-1.2 0h2.4m-2.4 -10.0h2.4M164.4 268.0v10.0m-1.2 0h2.4m-2.4 -10.0h2.4M167.6 265.6v10.0m-1.2 0h2.4m-2.4 -10.0h2.4M171.0 264.4v10.0m-1.2 0h2.4m-2.4 -10.0h2.4M174.0 263.0v10.0m-1.2 0h2.4m-2.4 -10.0h2.4M177.4 261.0v10.0m-1.2 0h2.4m-2.4 -10.0h2.4M180.0 260.0v10.0m-1.2 0h2.4m-2.4 -10.0h2.4M184.0 258.8v10.4m-1.2 0h2.4m-2.4 -10.4h2.4M187.4 257.2v10.8m-1.2 0h2.4m-2.4 -10.8h2.4M190.6 255.8v11.2m-1.2 0h2.4m-2.4 -11.2h2.4M194.0 254.8v11.6m-1.2 0h2.4m-2.4 -11.6h2.4M197.4 255.2v11.6m-1.2 0h2.4m-2.4 -11.6h2.4M200.6 256.4v11.2m-1.2 0h2.4m-2.4 -11.2h2.4M204.0 258.6v10.8m-1.2 0h2.4m-2.4 -10.8h2.4M207.4 259.8v10.4m-1.2 0h2.4m-2.4 -10.4h2.4M210.6 260.0v10.0m-1.2 0h2.4m-2.4 -10.0h2.4M214.0 260.0v10.0m-1.2 0h2.4m-2.4 -10.0h2.4M217.0 260.0v10.0m-1.2 0h2.4m-2.4 -10.0h2.4M220.4 261.0v10.0m-1.2 0h2.4m-2.4 -10.0h2.4M223.6 262.0v10.0m-1.2 0h2.4m-2.4 -10.0h2.4M227.0 263.0v10.0m-1.2 0h2.4m-2.4 -10.0h2.4M230.0 263.6v10.0m-1.2 0h2.4m-2.4 -10.0h2.4M233.4 263.6v10.0m-1.2 0h2.4m-2.4 -10.0h2.4M236.6 263.0v10.0m-1.2 0h2.4m-2.4 -10.0h2.4M240.0 261.6v10.0m-1.2 0h2.4m-2.4 -10.0h2.4M243.4 260.4v10.0m-1.2 0h2.4m-2.4 -10.0h2.4M246.6 261.0v10.0m-1.2 0h2.4m-2.4 -10.0h2.4M250.0 262.0v10.0m-1.2 0h2.4m-2.4 -10.0h2.4M253.0 263.4v10.4m-1.2 0h2.4m-2.4 -10.4h2.4M256.4 264.2v10.8m-1.2 0h2.4m-2.4 -10.8h2.4M259.6 265.0v11.2m-1.2 0h2.4m-2.4 -11.2h2.4M263.0 265.2v11.6m-1.2 0h2.4m-2.4 -11.6h2.4M266.0 268.0v12.0m-1.2 0h2.4m-2.4 -12.0h2.4M269.4 268.1v15.0m-1.2 0h2.4m-2.4 -15.0h2.4M272.6 269.0v12.0m-1.2 0h2.4m-2.4 -12.0h2.4M276.0 271.0v12.0m-1.2 0h2.4m-2.4 -12.0h2.4M279.4 275.5v13.0m-1.2 0h2.4m-2.4 -13.0h2.4M282.6 278.5v11.0m-1.2 0h2.4m-2.4 -11.0h2.4M285.6 273.0v14.0m-1.2 0h2.4m-2.4 -14.0h2.4" stroke="#000" stroke-width="0.55" fill="none"/>
<g fill="#000"><circle cx="66.0" cy="378.0" r="1.45"/><circle cx="69.3" cy="365.0" r="1.45"/><circle cx="72.6" cy="355.0" r="1.45"/><circle cx="75.9" cy="345.0" r="1.45"/><circle cx="79.2" cy="340.0" r="1.45"/><circle cx="82.5" cy="336.6" r="1.45"/><circle cx="86.0" cy="334.0" r="1.45"/><circle cx="89.6" cy="332.0" r="1.45"/><circle cx="92.8" cy="330.0" r="1.45"/><circle cx="96.0" cy="327.4" r="1.45"/><circle cx="99.3" cy="325.4" r="1.45"/><circle cx="102.4" cy="323.4" r="1.45"/><circle cx="105.6" cy="321.0" r="1.45"/><circle cx="108.8" cy="319.6" r="1.45"/><circle cx="112.0" cy="318.0" r="1.45"/><circle cx="115.4" cy="315.0" r="1.45"/><circle cx="118.6" cy="312.0" r="1.45"/><circle cx="121.8" cy="309.4" r="1.45"/><circle cx="125.0" cy="307.0" r="1.45"/><circle cx="128.4" cy="304.0" r="1.45"/><circle cx="131.6" cy="300.0" r="1.45"/><circle cx="135.0" cy="296.6" r="1.45"/><circle cx="138.0" cy="293.0" r="1.45"/><circle cx="141.4" cy="290.0" r="1.45"/><circle cx="144.6" cy="288.0" r="1.45"/><circle cx="148.0" cy="285.0" r="1.45"/><circle cx="151.4" cy="282.6" r="1.45"/><circle cx="154.4" cy="280.6" r="1.45"/><circle cx="158.0" cy="278.0" r="1.45"/><circle cx="161.0" cy="275.4" r="1.45"/><circle cx="164.4" cy="273.0" r="1.45"/><circle cx="167.6" cy="270.6" r="1.45"/><circle cx="171.0" cy="269.4" r="1.45"/><circle cx="174.0" cy="268.0" r="1.45"/><circle cx="177.4" cy="266.0" r="1.45"/><circle cx="180.0" cy="265.0" r="1.45"/><circle cx="184.0" cy="264.0" r="1.45"/><circle cx="187.4" cy="262.6" r="1.45"/><circle cx="190.6" cy="261.4" r="1.45"/><circle cx="194.0" cy="260.6" r="1.45"/><circle cx="197.4" cy="261.0" r="1.45"/><circle cx="200.6" cy="262.0" r="1.45"/><circle cx="204.0" cy="264.0" r="1.45"/><circle cx="207.4" cy="265.0" r="1.45"/><circle cx="210.6" cy="265.0" r="1.45"/><circle cx="214.0" cy="265.0" r="1.45"/><circle cx="217.0" cy="265.0" r="1.45"/><circle cx="220.4" cy="266.0" r="1.45"/><circle cx="223.6" cy="267.0" r="1.45"/><circle cx="227.0" cy="268.0" r="1.45"/><circle cx="230.0" cy="268.6" r="1.45"/><circle cx="233.4" cy="268.6" r="1.45"/><circle cx="236.6" cy="268.0" r="1.45"/><circle cx="240.0" cy="266.6" r="1.45"/><circle cx="243.4" cy="265.4" r="1.45"/><circle cx="246.6" cy="266.0" r="1.45"/><circle cx="250.0" cy="267.0" r="1.45"/><circle cx="253.0" cy="268.6" r="1.45"/><circle cx="256.4" cy="269.6" r="1.45"/><circle cx="259.6" cy="270.6" r="1.45"/><circle cx="263.0" cy="271.0" r="1.45"/><circle cx="266.0" cy="274.0" r="1.45"/><circle cx="269.4" cy="275.6" r="1.45"/><circle cx="272.6" cy="275.0" r="1.45"/><circle cx="276.0" cy="277.0" r="1.45"/><circle cx="279.4" cy="282.0" r="1.45"/><circle cx="282.6" cy="284.0" r="1.45"/><circle cx="285.6" cy="280.0" r="1.45"/></g>
<path d="M66.0 330.0L67.8 329.4L69.7 329.3L71.5 330.3L73.3 330.7L75.2 330.8L77.0 330.0L78.9 328.9L80.7 327.7L82.6 326.6L84.4 325.9L86.3 325.2L88.1 324.5L89.9 323.8L91.8 323.0L93.6 322.2L95.5 321.5L97.3 320.8L99.2 320.1L101.0 319.3L102.8 318.3L104.7 317.0L106.5 315.6L108.4 314.1L110.2 312.2L112.1 310.4L113.9 308.5L115.7 307.4L117.6 306.2L119.4 304.9L121.3 302.7L123.1 300.5L125.0 298.4L126.8 297.6L128.7 296.8L130.5 295.3L132.3 293.7L134.2 292.0L136.0 291.1L137.9 290.7L139.7 290.3L141.6 289.5L143.4 288.5L145.2 287.6L147.1 286.8L148.9 286.2L150.8 285.6L152.6 284.9L154.5 284.0L156.3 283.0L158.1 282.1L160.0 281.6L161.8 281.1L163.7 280.7L165.5 280.0L167.4 279.2L169.2 278.5L171.1 277.4L172.9 276.4L174.7 275.7L176.6 275.5L178.4 275.3L180.3 275.1L182.1 274.3L184.0 273.5L185.8 272.7L187.6 271.9L189.5 271.9L191.3 272.0L193.2 272.1L195.0 272.1L196.9 271.9L198.7 271.3L200.5 270.7L202.4 270.1L204.2 269.6L206.1 269.7L207.9 269.7L209.8 269.8L211.6 269.8L213.5 269.6L215.3 269.3L217.1 269.1L219.0 268.8L220.8 268.6L222.7 268.4L224.5 268.3L226.4 268.2L228.2 268.0L230.0 267.9L231.9 267.7L233.7 267.5L235.6 267.3L237.4 267.2L239.3 267.0L241.1 266.8L242.9 266.6L244.8 266.5L246.6 266.3L248.5 266.1L250.3 265.9L252.2 265.8L254.0 265.7L255.9 265.6L257.7 265.5L259.5 265.4L261.4 265.3L263.2 265.3L265.1 265.2L266.9 265.1L268.8 265.1L270.6 265.0L272.4 265.0L274.3 265.0L276.1 264.9L278.0 264.9L279.8 264.9L281.7 264.7L283.5 264.6L285.3 264.5" fill="none" stroke="#c0141c" stroke-width="1.9" stroke-linejoin="round"/>
<rect x="62.9" y="247.4" width="234.0" height="157.4" fill="none" stroke="#000" stroke-width="1.5"/>
<path d="M77.3 247.4v1.6M77.3 404.8v-1.6M91.6 247.4v1.6M91.6 404.8v-1.6M106.0 247.4v1.6M106.0 404.8v-1.6M120.4 247.4v3.1M120.4 404.8v-3.1M134.8 247.4v1.6M134.8 404.8v-1.6M149.1 247.4v1.6M149.1 404.8v-1.6M163.5 247.4v1.6M163.5 404.8v-1.6M177.9 247.4v3.1M177.9 404.8v-3.1M192.2 247.4v1.6M192.2 404.8v-1.6M206.6 247.4v1.6M206.6 404.8v-1.6M221.0 247.4v1.6M221.0 404.8v-1.6M235.3 247.4v3.1M235.3 404.8v-3.1M249.7 247.4v1.6M249.7 404.8v-1.6M264.1 247.4v1.6M264.1 404.8v-1.6M278.4 247.4v1.6M278.4 404.8v-1.6M292.8 247.4v3.1M292.8 404.8v-3.1M62.9 398.9h4.7M296.9 398.9h-4.7M62.9 393.1h2.4M296.9 393.1h-2.4M62.9 387.2h2.4M296.9 387.2h-2.4M62.9 381.4h2.4M296.9 381.4h-2.4M62.9 375.5h4.7M296.9 375.5h-4.7M62.9 369.7h2.4M296.9 369.7h-2.4M62.9 363.9h2.4M296.9 363.9h-2.4M62.9 358.0h2.4M296.9 358.0h-2.4M62.9 352.2h4.7M296.9 352.2h-4.7M62.9 346.3h2.4M296.9 346.3h-2.4M62.9 340.5h2.4M296.9 340.5h-2.4M62.9 334.7h2.4M296.9 334.7h-2.4M62.9 328.8h4.7M296.9 328.8h-4.7M62.9 323.0h2.4M296.9 323.0h-2.4M62.9 317.1h2.4M296.9 317.1h-2.4M62.9 311.3h2.4M296.9 311.3h-2.4M62.9 305.5h4.7M296.9 305.5h-4.7M62.9 299.6h2.4M296.9 299.6h-2.4M62.9 293.8h2.4M296.9 293.8h-2.4M62.9 287.9h2.4M296.9 287.9h-2.4M62.9 282.1h4.7M296.9 282.1h-4.7M62.9 276.3h2.4M296.9 276.3h-2.4M62.9 270.4h2.4M296.9 270.4h-2.4M62.9 264.6h2.4M296.9 264.6h-2.4M62.9 258.7h4.7M296.9 258.7h-4.7M62.9 252.9h2.4M296.9 252.9h-2.4M62.9 247.1h2.4M296.9 247.1h-2.4" stroke="#000" stroke-width="1.1" fill="none"/>
<text transform="translate(58.9,403.5) scale(1,1.08)" text-anchor="end">0</text>
<text transform="translate(58.9,380.1) scale(1,1.08)" text-anchor="end">20</text>
<text transform="translate(58.9,356.8) scale(1,1.08)" text-anchor="end">40</text>
<text transform="translate(58.9,333.4) scale(1,1.08)" text-anchor="end">60</text>
<text transform="translate(58.9,310.1) scale(1,1.08)" text-anchor="end">80</text>
<text transform="translate(58.9,286.7) scale(1,1.08)" text-anchor="end">100</text>
<text transform="translate(58.9,263.3) scale(1,1.08)" text-anchor="end">120</text>
<text transform="translate(62.5,422.0) scale(1,1.08)" text-anchor="middle">0</text>
<text transform="translate(120.0,422.0) scale(1,1.08)" text-anchor="middle">2</text>
<text transform="translate(177.5,422.0) scale(1,1.08)" text-anchor="middle">4</text>
<text transform="translate(234.9,422.0) scale(1,1.08)" text-anchor="middle">6</text>
<text transform="translate(292.4,422.0) scale(1,1.08)" text-anchor="middle">8</text>
<text transform="translate(179.9,436.4) scale(1,1.08)" text-anchor="middle" style="font-size:13.7px">Radius, kpc</text>
<path d="M341.8 352.0L347.3 349.2L352.8 344.4L358.4 340.2L363.9 337.0L369.4 334.9L375.0 333.2L380.5 331.2L386.0 328.4L391.5 324.4L397.1 321.6L402.6 318.7L408.1 316.3L413.7 314.6L419.2 314.1L424.7 314.4L430.3 314.6L435.8 314.5L441.3 314.4L446.9 314.2L452.4 314.1L457.9 314.4L463.4 315.3L469.0 316.3L474.5 317.5L480.0 318.7L485.6 319.9L491.1 321.5L496.6 323.1L502.2 324.6L507.7 326.0L513.2 327.4L518.7 328.7L524.3 330.1L529.8 331.5L535.3 332.7L540.9 333.9L546.4 335.1L551.9 336.5L557.5 337.9" fill="none" stroke="#4a48c0" stroke-width="0.8" stroke-dasharray="9 5.5"/>
<path d="M341.8 398.6L345.5 398.2L349.1 397.7L352.8 397.4L356.5 397.3L360.2 397.2L363.9 397.1L367.6 397.0L371.3 396.7L375.0 396.0L378.6 395.2L382.3 393.5L386.0 391.3L389.7 389.1L393.4 388.3L397.1 387.5L400.8 386.8L404.5 386.2L408.1 385.7L411.8 385.2L415.5 384.6L419.2 384.6L422.9 384.6L426.6 382.0L430.3 378.7L433.9 376.0L437.6 374.2L441.3 373.5L445.0 372.8L448.7 371.7L452.4 370.6L456.1 369.5L459.8 368.4L463.4 367.3L467.1 366.2L470.8 365.2L474.5 364.3L478.2 363.4L481.9 363.1L485.6 363.2L489.3 363.3L492.9 363.3L496.6 362.9L500.3 362.5L504.0 362.0L507.7 361.6L511.4 361.2L515.1 360.7L518.7 360.2L522.4 359.7L526.1 359.2L529.8 359.3L533.5 359.7L537.2 360.0L540.9 359.8L544.6 359.7L548.2 359.6L551.9 359.5L555.6 359.4L559.3 358.5" fill="none" stroke="#ff6644" stroke-width="0.8" stroke-dasharray="13 4.5 1.5 4.5"/>
<path d="M341.8 350.6L343.6 351.8L345.5 353.7L347.3 355.2L349.1 356.7L351.0 358.2L352.8 359.6L354.7 361.1L356.5 362.5L358.4 363.7L360.2 364.9L362.1 366.1L363.9 367.0L365.7 368.0L367.6 368.9L369.4 369.8L371.3 370.7L373.1 371.5L375.0 372.3L376.8 373.2L378.6 373.8L380.5 374.2L382.3 374.7L384.2 375.1L386.0 375.6L387.9 376.0L389.7 376.4L391.5 376.8L393.4 377.2L395.2 377.6L397.1 378.0L398.9 378.4L400.8 378.7L402.6 379.0L404.5 379.3L406.3 379.6L408.1 379.9L410.0 380.1L411.8 380.4L413.7 380.6L415.5 380.9L417.4 381.1L419.2 381.4L421.0 381.6L422.9 381.9L424.7 382.1L426.6 382.2L428.4 382.3L430.3 382.4L432.1 382.6L433.9 382.7L435.8 382.8L437.6 382.9L439.5 383.0L441.3 383.1L443.2 383.2L445.0 383.4L446.9 383.5L448.7 383.6L450.5 383.7L452.4 383.8L454.2 383.9L456.1 384.0L457.9 384.1L459.8 384.2L461.6 384.3L463.4 384.3L465.3 384.4L467.1 384.5L469.0 384.6L470.8 384.7L472.7 384.8L474.5 384.8L476.3 384.9L478.2 385.0L480.0 385.1L481.9 385.2L483.7 385.3L485.6 385.3L487.4 385.4L489.3 385.5L491.1 385.6L492.9 385.7L494.8 385.8L496.6 385.8L498.5 385.9L500.3 386.0L502.2 386.1L504.0 386.1L505.8 386.2L507.7 386.3L509.5 386.3L511.4 386.4L513.2 386.5L515.1 386.6L516.9 386.6L518.7 386.7L520.6 386.8L522.4 386.9L524.3 386.9L526.1 387.0L528.0 387.1L529.8 387.2L531.7 387.2L533.5 387.3L535.3 387.4L537.2 387.5L539.0 387.5L540.9 387.6L542.7 387.7L544.6 387.7L546.4 387.8L548.2 387.9L550.1 388.0L551.9 388.0L553.8 388.1L555.6 388.2L557.5 388.3L559.3 388.3L561.1 388.4" fill="none" stroke="#a050b4" stroke-width="1.0" stroke-dasharray="1.1 4.0"/>
<path d="M341.8 395.7L347.3 389.9L352.8 384.4L358.4 379.1L363.9 373.9L369.4 368.9L375.0 364.2L380.5 359.6L386.0 355.2L391.5 351.0L397.1 346.9L402.6 343.1L408.1 339.4L413.7 336.0L419.2 332.6L424.7 329.5L430.3 326.5L435.8 323.7L441.3 321.0L446.9 318.5L452.4 316.1L457.9 313.8L463.4 311.7L469.0 309.7L474.5 307.7L480.0 305.9L485.6 304.2L491.1 302.6L496.6 301.1L502.2 299.7L507.7 298.3L513.2 297.0L518.7 295.8L524.3 294.7L529.8 293.6L535.3 292.6L540.9 291.7L546.4 290.8L551.9 289.9L557.5 289.1" fill="none" stroke="#111" stroke-width="0.75"/>
<path d="M341.8 376.5v3.0m-1.2 0h2.4m-2.4 -3.0h2.4M345.1 363.0v4.0m-1.2 0h2.4m-2.4 -4.0h2.4M348.4 352.8v4.4m-1.2 0h2.4m-2.4 -4.4h2.4M351.7 342.8v4.4m-1.2 0h2.4m-2.4 -4.4h2.4M355.0 337.8v4.4m-1.2 0h2.4m-2.4 -4.4h2.4M358.3 334.4v4.4m-1.2 0h2.4m-2.4 -4.4h2.4M361.8 331.8v4.4m-1.2 0h2.4m-2.4 -4.4h2.4M365.4 329.8v4.4m-1.2 0h2.4m-2.4 -4.4h2.4M368.6 327.7v4.6m-1.2 0h2.4m-2.4 -4.6h2.4M371.8 325.0v4.8m-1.2 0h2.4m-2.4 -4.8h2.4M375.1 322.9v5.0m-1.2 0h2.4m-2.4 -5.0h2.4M378.2 320.8v5.2m-1.2 0h2.4m-2.4 -5.2h2.4M381.4 318.2v5.6m-1.2 0h2.4m-2.4 -5.6h2.4M384.6 316.6v6.0m-1.2 0h2.4m-2.4 -6.0h2.4M387.8 314.8v6.4m-1.2 0h2.4m-2.4 -6.4h2.4M391.2 311.6v6.8m-1.2 0h2.4m-2.4 -6.8h2.4M394.4 308.4v7.2m-1.2 0h2.4m-2.4 -7.2h2.4M397.6 305.6v7.6m-1.2 0h2.4m-2.4 -7.6h2.4M400.8 303.0v8.0m-1.2 0h2.4m-2.4 -8.0h2.4M404.2 299.8v8.4m-1.2 0h2.4m-2.4 -8.4h2.4M407.4 295.6v8.8m-1.2 0h2.4m-2.4 -8.8h2.4M410.8 292.0v9.2m-1.2 0h2.4m-2.4 -9.2h2.4M413.8 288.2v9.6m-1.2 0h2.4m-2.4 -9.6h2.4M417.2 285.0v10.0m-1.2 0h2.4m-2.4 -10.0h2.4M420.4 283.0v10.0m-1.2 0h2.4m-2.4 -10.0h2.4M423.8 280.0v10.0m-1.2 0h2.4m-2.4 -10.0h2.4M427.2 277.6v10.0m-1.2 0h2.4m-2.4 -10.0h2.4M430.2 275.6v10.0m-1.2 0h2.4m-2.4 -10.0h2.4M433.8 273.0v10.0m-1.2 0h2.4m-2.4 -10.0h2.4M436.8 270.4v10.0m-1.2 0h2.4m-2.4 -10.0h2.4M440.2 268.0v10.0m-1.2 0h2.4m-2.4 -10.0h2.4M443.4 265.6v10.0m-1.2 0h2.4m-2.4 -10.0h2.4M446.8 264.4v10.0m-1.2 0h2.4m-2.4 -10.0h2.4M449.8 263.0v10.0m-1.2 0h2.4m-2.4 -10.0h2.4M453.2 261.0v10.0m-1.2 0h2.4m-2.4 -10.0h2.4M455.8 260.0v10.0m-1.2 0h2.4m-2.4 -10.0h2.4M459.8 258.8v10.4m-1.2 0h2.4m-2.4 -10.4h2.4M463.2 257.2v10.8m-1.2 0h2.4m-2.4 -10.8h2.4M466.4 255.8v11.2m-1.2 0h2.4m-2.4 -11.2h2.4M469.8 254.8v11.6m-1.2 0h2.4m-2.4 -11.6h2.4M473.2 255.2v11.6m-1.2 0h2.4m-2.4 -11.6h2.4M476.4 256.4v11.2m-1.2 0h2.4m-2.4 -11.2h2.4M479.8 258.6v10.8m-1.2 0h2.4m-2.4 -10.8h2.4M483.2 259.8v10.4m-1.2 0h2.4m-2.4 -10.4h2.4M486.4 260.0v10.0m-1.2 0h2.4m-2.4 -10.0h2.4M489.8 260.0v10.0m-1.2 0h2.4m-2.4 -10.0h2.4M492.8 260.0v10.0m-1.2 0h2.4m-2.4 -10.0h2.4M496.2 261.0v10.0m-1.2 0h2.4m-2.4 -10.0h2.4M499.4 262.0v10.0m-1.2 0h2.4m-2.4 -10.0h2.4M502.8 263.0v10.0m-1.2 0h2.4m-2.4 -10.0h2.4M505.8 263.6v10.0m-1.2 0h2.4m-2.4 -10.0h2.4M509.2 263.6v10.0m-1.2 0h2.4m-2.4 -10.0h2.4M512.4 263.0v10.0m-1.2 0h2.4m-2.4 -10.0h2.4M515.8 261.6v10.0m-1.2 0h2.4m-2.4 -10.0h2.4M519.2 260.4v10.0m-1.2 0h2.4m-2.4 -10.0h2.4M522.4 261.0v10.0m-1.2 0h2.4m-2.4 -10.0h2.4M525.8 262.0v10.0m-1.2 0h2.4m-2.4 -10.0h2.4M528.8 263.4v10.4m-1.2 0h2.4m-2.4 -10.4h2.4M532.2 264.2v10.8m-1.2 0h2.4m-2.4 -10.8h2.4M535.4 265.0v11.2m-1.2 0h2.4m-2.4 -11.2h2.4M538.8 265.2v11.6m-1.2 0h2.4m-2.4 -11.6h2.4M541.8 268.0v12.0m-1.2 0h2.4m-2.4 -12.0h2.4M545.2 268.1v15.0m-1.2 0h2.4m-2.4 -15.0h2.4M548.4 269.0v12.0m-1.2 0h2.4m-2.4 -12.0h2.4M551.8 271.0v12.0m-1.2 0h2.4m-2.4 -12.0h2.4M555.2 275.5v13.0m-1.2 0h2.4m-2.4 -13.0h2.4M558.4 278.5v11.0m-1.2 0h2.4m-2.4 -11.0h2.4M561.4 273.0v14.0m-1.2 0h2.4m-2.4 -14.0h2.4" stroke="#000" stroke-width="0.55" fill="none"/>
<g fill="#000"><circle cx="341.8" cy="378.0" r="1.45"/><circle cx="345.1" cy="365.0" r="1.45"/><circle cx="348.4" cy="355.0" r="1.45"/><circle cx="351.7" cy="345.0" r="1.45"/><circle cx="355.0" cy="340.0" r="1.45"/><circle cx="358.3" cy="336.6" r="1.45"/><circle cx="361.8" cy="334.0" r="1.45"/><circle cx="365.4" cy="332.0" r="1.45"/><circle cx="368.6" cy="330.0" r="1.45"/><circle cx="371.8" cy="327.4" r="1.45"/><circle cx="375.1" cy="325.4" r="1.45"/><circle cx="378.2" cy="323.4" r="1.45"/><circle cx="381.4" cy="321.0" r="1.45"/><circle cx="384.6" cy="319.6" r="1.45"/><circle cx="387.8" cy="318.0" r="1.45"/><circle cx="391.2" cy="315.0" r="1.45"/><circle cx="394.4" cy="312.0" r="1.45"/><circle cx="397.6" cy="309.4" r="1.45"/><circle cx="400.8" cy="307.0" r="1.45"/><circle cx="404.2" cy="304.0" r="1.45"/><circle cx="407.4" cy="300.0" r="1.45"/><circle cx="410.8" cy="296.6" r="1.45"/><circle cx="413.8" cy="293.0" r="1.45"/><circle cx="417.2" cy="290.0" r="1.45"/><circle cx="420.4" cy="288.0" r="1.45"/><circle cx="423.8" cy="285.0" r="1.45"/><circle cx="427.2" cy="282.6" r="1.45"/><circle cx="430.2" cy="280.6" r="1.45"/><circle cx="433.8" cy="278.0" r="1.45"/><circle cx="436.8" cy="275.4" r="1.45"/><circle cx="440.2" cy="273.0" r="1.45"/><circle cx="443.4" cy="270.6" r="1.45"/><circle cx="446.8" cy="269.4" r="1.45"/><circle cx="449.8" cy="268.0" r="1.45"/><circle cx="453.2" cy="266.0" r="1.45"/><circle cx="455.8" cy="265.0" r="1.45"/><circle cx="459.8" cy="264.0" r="1.45"/><circle cx="463.2" cy="262.6" r="1.45"/><circle cx="466.4" cy="261.4" r="1.45"/><circle cx="469.8" cy="260.6" r="1.45"/><circle cx="473.2" cy="261.0" r="1.45"/><circle cx="476.4" cy="262.0" r="1.45"/><circle cx="479.8" cy="264.0" r="1.45"/><circle cx="483.2" cy="265.0" r="1.45"/><circle cx="486.4" cy="265.0" r="1.45"/><circle cx="489.8" cy="265.0" r="1.45"/><circle cx="492.8" cy="265.0" r="1.45"/><circle cx="496.2" cy="266.0" r="1.45"/><circle cx="499.4" cy="267.0" r="1.45"/><circle cx="502.8" cy="268.0" r="1.45"/><circle cx="505.8" cy="268.6" r="1.45"/><circle cx="509.2" cy="268.6" r="1.45"/><circle cx="512.4" cy="268.0" r="1.45"/><circle cx="515.8" cy="266.6" r="1.45"/><circle cx="519.2" cy="265.4" r="1.45"/><circle cx="522.4" cy="266.0" r="1.45"/><circle cx="525.8" cy="267.0" r="1.45"/><circle cx="528.8" cy="268.6" r="1.45"/><circle cx="532.2" cy="269.6" r="1.45"/><circle cx="535.4" cy="270.6" r="1.45"/><circle cx="538.8" cy="271.0" r="1.45"/><circle cx="541.8" cy="274.0" r="1.45"/><circle cx="545.2" cy="275.6" r="1.45"/><circle cx="548.4" cy="275.0" r="1.45"/><circle cx="551.8" cy="277.0" r="1.45"/><circle cx="555.2" cy="282.0" r="1.45"/><circle cx="558.4" cy="284.0" r="1.45"/><circle cx="561.4" cy="280.0" r="1.45"/></g>
<path d="M341.8 330.0L343.6 329.4L345.5 329.3L347.3 330.2L349.1 330.6L351.0 330.7L352.8 329.8L354.7 328.7L356.5 327.5L358.4 326.4L360.2 325.6L362.1 324.9L363.9 324.1L365.7 323.4L367.6 322.6L369.4 321.8L371.3 321.1L373.1 320.3L375.0 319.6L376.8 318.9L378.6 317.9L380.5 316.5L382.3 315.1L384.2 313.6L386.0 311.8L387.9 309.9L389.7 308.1L391.5 306.9L393.4 305.8L395.2 304.4L397.1 302.3L398.9 300.1L400.8 298.0L402.6 297.2L404.5 296.4L406.3 294.9L408.1 293.3L410.0 291.6L411.8 290.7L413.7 290.3L415.5 289.9L417.4 289.1L419.2 288.1L421.0 287.2L422.9 286.5L424.7 285.8L426.6 285.2L428.4 284.5L430.3 283.6L432.1 282.6L433.9 281.8L435.8 281.3L437.6 280.8L439.5 280.3L441.3 279.6L443.2 278.8L445.0 278.1L446.9 277.0L448.7 276.0L450.5 275.3L452.4 275.2L454.2 275.0L456.1 274.7L457.9 273.9L459.8 273.2L461.6 272.4L463.4 271.6L465.3 271.5L467.1 271.6L469.0 271.7L470.8 271.8L472.7 271.6L474.5 271.0L476.3 270.5L478.2 269.9L480.0 269.4L481.9 269.4L483.7 269.5L485.6 269.6L487.4 269.6L489.3 269.5L491.1 269.2L492.9 268.9L494.8 268.7L496.6 268.5L498.5 268.4L500.3 268.3L502.2 268.2L504.0 268.0L505.8 267.9L507.7 267.8L509.5 267.6L511.4 267.5L513.2 267.3L515.1 267.2L516.9 267.0L518.7 266.9L520.6 266.8L522.4 266.6L524.3 266.5L526.1 266.4L528.0 266.3L529.8 266.2L531.7 266.2L533.5 266.1L535.3 266.0L537.2 266.0L539.0 266.0L540.9 266.0L542.7 265.9L544.6 265.9L546.4 265.9L548.2 265.9L550.1 266.0L551.9 266.0L553.8 266.0L555.6 266.0L557.5 266.0L559.3 265.9L561.1 265.8" fill="none" stroke="#c0141c" stroke-width="1.9" stroke-linejoin="round"/>
<rect x="338.7" y="247.4" width="234.0" height="157.4" fill="none" stroke="#000" stroke-width="1.5"/>
<path d="M353.1 247.4v1.6M353.1 404.8v-1.6M367.4 247.4v1.6M367.4 404.8v-1.6M381.8 247.4v1.6M381.8 404.8v-1.6M396.2 247.4v3.1M396.2 404.8v-3.1M410.5 247.4v1.6M410.5 404.8v-1.6M424.9 247.4v1.6M424.9 404.8v-1.6M439.3 247.4v1.6M439.3 404.8v-1.6M453.7 247.4v3.1M453.7 404.8v-3.1M468.0 247.4v1.6M468.0 404.8v-1.6M482.4 247.4v1.6M482.4 404.8v-1.6M496.8 247.4v1.6M496.8 404.8v-1.6M511.1 247.4v3.1M511.1 404.8v-3.1M525.5 247.4v1.6M525.5 404.8v-1.6M539.9 247.4v1.6M539.9 404.8v-1.6M554.2 247.4v1.6M554.2 404.8v-1.6M568.6 247.4v3.1M568.6 404.8v-3.1M338.7 398.9h4.7M572.7 398.9h-4.7M338.7 393.1h2.4M572.7 393.1h-2.4M338.7 387.2h2.4M572.7 387.2h-2.4M338.7 381.4h2.4M572.7 381.4h-2.4M338.7 375.5h4.7M572.7 375.5h-4.7M338.7 369.7h2.4M572.7 369.7h-2.4M338.7 363.9h2.4M572.7 363.9h-2.4M338.7 358.0h2.4M572.7 358.0h-2.4M338.7 352.2h4.7M572.7 352.2h-4.7M338.7 346.3h2.4M572.7 346.3h-2.4M338.7 340.5h2.4M572.7 340.5h-2.4M338.7 334.7h2.4M572.7 334.7h-2.4M338.7 328.8h4.7M572.7 328.8h-4.7M338.7 323.0h2.4M572.7 323.0h-2.4M338.7 317.1h2.4M572.7 317.1h-2.4M338.7 311.3h2.4M572.7 311.3h-2.4M338.7 305.5h4.7M572.7 305.5h-4.7M338.7 299.6h2.4M572.7 299.6h-2.4M338.7 293.8h2.4M572.7 293.8h-2.4M338.7 287.9h2.4M572.7 287.9h-2.4M338.7 282.1h4.7M572.7 282.1h-4.7M338.7 276.3h2.4M572.7 276.3h-2.4M338.7 270.4h2.4M572.7 270.4h-2.4M338.7 264.6h2.4M572.7 264.6h-2.4M338.7 258.7h4.7M572.7 258.7h-4.7M338.7 252.9h2.4M572.7 252.9h-2.4M338.7 247.1h2.4M572.7 247.1h-2.4" stroke="#000" stroke-width="1.1" fill="none"/>
<text transform="translate(334.7,403.5) scale(1,1.08)" text-anchor="end">0</text>
<text transform="translate(334.7,380.1) scale(1,1.08)" text-anchor="end">20</text>
<text transform="translate(334.7,356.8) scale(1,1.08)" text-anchor="end">40</text>
<text transform="translate(334.7,333.4) scale(1,1.08)" text-anchor="end">60</text>
<text transform="translate(334.7,310.1) scale(1,1.08)" text-anchor="end">80</text>
<text transform="translate(334.7,286.7) scale(1,1.08)" text-anchor="end">100</text>
<text transform="translate(334.7,263.3) scale(1,1.08)" text-anchor="end">120</text>
<text transform="translate(338.3,422.0) scale(1,1.08)" text-anchor="middle">0</text>
<text transform="translate(395.8,422.0) scale(1,1.08)" text-anchor="middle">2</text>
<text transform="translate(453.3,422.0) scale(1,1.08)" text-anchor="middle">4</text>
<text transform="translate(510.7,422.0) scale(1,1.08)" text-anchor="middle">6</text>
<text transform="translate(568.2,422.0) scale(1,1.08)" text-anchor="middle">8</text>
<text transform="translate(455.7,436.4) scale(1,1.08)" text-anchor="middle" style="font-size:13.7px">Radius, kpc</text>
<path d="M617.5 352.0L623.0 349.2L628.5 344.4L634.1 340.2L639.6 337.0L645.1 334.9L650.7 333.2L656.2 331.2L661.7 328.4L667.2 324.4L672.8 321.6L678.3 318.7L683.8 316.3L689.4 314.6L694.9 314.1L700.4 314.4L706.0 314.6L711.5 314.5L717.0 314.4L722.6 314.2L728.1 314.1L733.6 314.4L739.1 315.3L744.7 316.3L750.2 317.5L755.7 318.7L761.3 319.9L766.8 321.5L772.3 323.1L777.9 324.6L783.4 326.0L788.9 327.4L794.4 328.7L800.0 330.1L805.5 331.5L811.0 332.7L816.6 333.9L822.1 335.1L827.6 336.5L833.2 337.9" fill="none" stroke="#4a48c0" stroke-width="0.8" stroke-dasharray="9 5.5"/>
<path d="M617.5 398.6L621.2 398.2L624.8 397.7L628.5 397.4L632.2 397.3L635.9 397.2L639.6 397.1L643.3 397.0L647.0 396.7L650.7 396.0L654.3 395.2L658.0 393.5L661.7 391.3L665.4 389.1L669.1 388.3L672.8 387.5L676.5 386.8L680.2 386.2L683.8 385.7L687.5 385.2L691.2 384.6L694.9 384.6L698.6 384.6L702.3 382.0L706.0 378.7L709.6 376.0L713.3 374.2L717.0 373.5L720.7 372.8L724.4 371.7L728.1 370.6L731.8 369.5L735.5 368.4L739.1 367.3L742.8 366.2L746.5 365.2L750.2 364.3L753.9 363.4L757.6 363.1L761.3 363.2L765.0 363.3L768.6 363.3L772.3 362.9L776.0 362.5L779.7 362.0L783.4 361.6L787.1 361.2L790.8 360.7L794.4 360.2L798.1 359.7L801.8 359.2L805.5 359.3L809.2 359.7L812.9 360.0L816.6 359.8L820.3 359.7L823.9 359.6L827.6 359.5L831.3 359.4L835.0 358.5" fill="none" stroke="#ff6644" stroke-width="0.8" stroke-dasharray="13 4.5 1.5 4.5"/>
<path d="M617.5 350.6L619.3 351.8L621.2 353.7L623.0 355.2L624.8 356.7L626.7 358.2L628.5 359.6L630.4 361.1L632.2 362.5L634.1 363.7L635.9 364.9L637.8 366.1L639.6 367.0L641.4 368.0L643.3 368.9L645.1 369.8L647.0 370.7L648.8 371.5L650.7 372.3L652.5 373.2L654.3 373.8L656.2 374.2L658.0 374.7L659.9 375.1L661.7 375.6L663.6 376.0L665.4 376.4L667.2 376.8L669.1 377.2L670.9 377.6L672.8 378.0L674.6 378.4L676.5 378.7L678.3 379.0L680.2 379.3L682.0 379.6L683.8 379.9L685.7 380.1L687.5 380.4L689.4 380.6L691.2 380.9L693.1 381.1L694.9 381.4L696.7 381.6L698.6 381.9L700.4 382.1L702.3 382.2L704.1 382.3L706.0 382.4L707.8 382.6L709.6 382.7L711.5 382.8L713.3 382.9L715.2 383.0L717.0 383.1L718.9 383.2L720.7 383.4L722.6 383.5L724.4 383.6L726.2 383.7L728.1 383.8L729.9 383.9L731.8 384.0L733.6 384.1L735.5 384.2L737.3 384.3L739.1 384.3L741.0 384.4L742.8 384.5L744.7 384.6L746.5 384.7L748.4 384.8L750.2 384.8L752.0 384.9L753.9 385.0L755.7 385.1L757.6 385.2L759.4 385.3L761.3 385.3L763.1 385.4L765.0 385.5L766.8 385.6L768.6 385.7L770.5 385.8L772.3 385.8L774.2 385.9L776.0 386.0L777.9 386.1L779.7 386.1L781.5 386.2L783.4 386.3L785.2 386.3L787.1 386.4L788.9 386.5L790.8 386.6L792.6 386.6L794.4 386.7L796.3 386.8L798.1 386.9L800.0 386.9L801.8 387.0L803.7 387.1L805.5 387.2L807.4 387.2L809.2 387.3L811.0 387.4L812.9 387.5L814.7 387.5L816.6 387.6L818.4 387.7L820.3 387.7L822.1 387.8L823.9 387.9L825.8 388.0L827.6 388.0L829.5 388.1L831.3 388.2L833.2 388.3L835.0 388.3L836.8 388.4" fill="none" stroke="#a050b4" stroke-width="1.0" stroke-dasharray="1.1 4.0"/>
<path d="M617.5 385.8L623.0 377.0L628.5 370.9L634.1 365.9L639.6 361.6L645.1 357.7L650.7 354.2L656.2 351.0L661.7 348.0L667.2 345.2L672.8 342.5L678.3 340.0L683.8 337.6L689.4 335.2L694.9 333.0L700.4 330.9L706.0 328.8L711.5 326.8L717.0 324.9L722.6 323.0L728.1 321.2L733.6 319.4L739.1 317.7L744.7 316.0L750.2 314.4L755.7 312.8L761.3 311.2L766.8 309.7L772.3 308.2L777.9 306.7L783.4 305.3L788.9 303.9L794.4 302.5L800.0 301.2L805.5 299.9L811.0 298.6L816.6 297.3L822.1 296.0L827.6 294.8L833.2 293.6" fill="none" stroke="#111" stroke-width="0.75"/>
<path d="M617.5 376.5v3.0m-1.2 0h2.4m-2.4 -3.0h2.4M620.8 363.0v4.0m-1.2 0h2.4m-2.4 -4.0h2.4M624.1 352.8v4.4m-1.2 0h2.4m-2.4 -4.4h2.4M627.4 342.8v4.4m-1.2 0h2.4m-2.4 -4.4h2.4M630.7 337.8v4.4m-1.2 0h2.4m-2.4 -4.4h2.4M634.0 334.4v4.4m-1.2 0h2.4m-2.4 -4.4h2.4M637.5 331.8v4.4m-1.2 0h2.4m-2.4 -4.4h2.4M641.1 329.8v4.4m-1.2 0h2.4m-2.4 -4.4h2.4M644.3 327.7v4.6m-1.2 0h2.4m-2.4 -4.6h2.4M647.5 325.0v4.8m-1.2 0h2.4m-2.4 -4.8h2.4M650.8 322.9v5.0m-1.2 0h2.4m-2.4 -5.0h2.4M653.9 320.8v5.2m-1.2 0h2.4m-2.4 -5.2h2.4M657.1 318.2v5.6m-1.2 0h2.4m-2.4 -5.6h2.4M660.3 316.6v6.0m-1.2 0h2.4m-2.4 -6.0h2.4M663.5 314.8v6.4m-1.2 0h2.4m-2.4 -6.4h2.4M666.9 311.6v6.8m-1.2 0h2.4m-2.4 -6.8h2.4M670.1 308.4v7.2m-1.2 0h2.4m-2.4 -7.2h2.4M673.3 305.6v7.6m-1.2 0h2.4m-2.4 -7.6h2.4M676.5 303.0v8.0m-1.2 0h2.4m-2.4 -8.0h2.4M679.9 299.8v8.4m-1.2 0h2.4m-2.4 -8.4h2.4M683.1 295.6v8.8m-1.2 0h2.4m-2.4 -8.8h2.4M686.5 292.0v9.2m-1.2 0h2.4m-2.4 -9.2h2.4M689.5 288.2v9.6m-1.2 0h2.4m-2.4 -9.6h2.4M692.9 285.0v10.0m-1.2 0h2.4m-2.4 -10.0h2.4M696.1 283.0v10.0m-1.2 0h2.4m-2.4 -10.0h2.4M699.5 280.0v10.0m-1.2 0h2.4m-2.4 -10.0h2.4M702.9 277.6v10.0m-1.2 0h2.4m-2.4 -10.0h2.4M705.9 275.6v10.0m-1.2 0h2.4m-2.4 -10.0h2.4M709.5 273.0v10.0m-1.2 0h2.4m-2.4 -10.0h2.4M712.5 270.4v10.0m-1.2 0h2.4m-2.4 -10.0h2.4M715.9 268.0v10.0m-1.2 0h2.4m-2.4 -10.0h2.4M719.1 265.6v10.0m-1.2 0h2.4m-2.4 -10.0h2.4M722.5 264.4v10.0m-1.2 0h2.4m-2.4 -10.0h2.4M725.5 263.0v10.0m-1.2 0h2.4m-2.4 -10.0h2.4M728.9 261.0v10.0m-1.2 0h2.4m-2.4 -10.0h2.4M731.5 260.0v10.0m-1.2 0h2.4m-2.4 -10.0h2.4M735.5 258.8v10.4m-1.2 0h2.4m-2.4 -10.4h2.4M738.9 257.2v10.8m-1.2 0h2.4m-2.4 -10.8h2.4M742.1 255.8v11.2m-1.2 0h2.4m-2.4 -11.2h2.4M745.5 254.8v11.6m-1.2 0h2.4m-2.4 -11.6h2.4M748.9 255.2v11.6m-1.2 0h2.4m-2.4 -11.6h2.4M752.1 256.4v11.2m-1.2 0h2.4m-2.4 -11.2h2.4M755.5 258.6v10.8m-1.2 0h2.4m-2.4 -10.8h2.4M758.9 259.8v10.4m-1.2 0h2.4m-2.4 -10.4h2.4M762.1 260.0v10.0m-1.2 0h2.4m-2.4 -10.0h2.4M765.5 260.0v10.0m-1.2 0h2.4m-2.4 -10.0h2.4M768.5 260.0v10.0m-1.2 0h2.4m-2.4 -10.0h2.4M771.9 261.0v10.0m-1.2 0h2.4m-2.4 -10.0h2.4M775.1 262.0v10.0m-1.2 0h2.4m-2.4 -10.0h2.4M778.5 263.0v10.0m-1.2 0h2.4m-2.4 -10.0h2.4M781.5 263.6v10.0m-1.2 0h2.4m-2.4 -10.0h2.4M784.9 263.6v10.0m-1.2 0h2.4m-2.4 -10.0h2.4M788.1 263.0v10.0m-1.2 0h2.4m-2.4 -10.0h2.4M791.5 261.6v10.0m-1.2 0h2.4m-2.4 -10.0h2.4M794.9 260.4v10.0m-1.2 0h2.4m-2.4 -10.0h2.4M798.1 261.0v10.0m-1.2 0h2.4m-2.4 -10.0h2.4M801.5 262.0v10.0m-1.2 0h2.4m-2.4 -10.0h2.4M804.5 263.4v10.4m-1.2 0h2.4m-2.4 -10.4h2.4M807.9 264.2v10.8m-1.2 0h2.4m-2.4 -10.8h2.4M811.1 265.0v11.2m-1.2 0h2.4m-2.4 -11.2h2.4M814.5 265.2v11.6m-1.2 0h2.4m-2.4 -11.6h2.4M817.5 268.0v12.0m-1.2 0h2.4m-2.4 -12.0h2.4M820.9 268.1v15.0m-1.2 0h2.4m-2.4 -15.0h2.4M824.1 269.0v12.0m-1.2 0h2.4m-2.4 -12.0h2.4M827.5 271.0v12.0m-1.2 0h2.4m-2.4 -12.0h2.4M830.9 275.5v13.0m-1.2 0h2.4m-2.4 -13.0h2.4M834.1 278.5v11.0m-1.2 0h2.4m-2.4 -11.0h2.4M837.1 273.0v14.0m-1.2 0h2.4m-2.4 -14.0h2.4" stroke="#000" stroke-width="0.55" fill="none"/>
<g fill="#000"><circle cx="617.5" cy="378.0" r="1.45"/><circle cx="620.8" cy="365.0" r="1.45"/><circle cx="624.1" cy="355.0" r="1.45"/><circle cx="627.4" cy="345.0" r="1.45"/><circle cx="630.7" cy="340.0" r="1.45"/><circle cx="634.0" cy="336.6" r="1.45"/><circle cx="637.5" cy="334.0" r="1.45"/><circle cx="641.1" cy="332.0" r="1.45"/><circle cx="644.3" cy="330.0" r="1.45"/><circle cx="647.5" cy="327.4" r="1.45"/><circle cx="650.8" cy="325.4" r="1.45"/><circle cx="653.9" cy="323.4" r="1.45"/><circle cx="657.1" cy="321.0" r="1.45"/><circle cx="660.3" cy="319.6" r="1.45"/><circle cx="663.5" cy="318.0" r="1.45"/><circle cx="666.9" cy="315.0" r="1.45"/><circle cx="670.1" cy="312.0" r="1.45"/><circle cx="673.3" cy="309.4" r="1.45"/><circle cx="676.5" cy="307.0" r="1.45"/><circle cx="679.9" cy="304.0" r="1.45"/><circle cx="683.1" cy="300.0" r="1.45"/><circle cx="686.5" cy="296.6" r="1.45"/><circle cx="689.5" cy="293.0" r="1.45"/><circle cx="692.9" cy="290.0" r="1.45"/><circle cx="696.1" cy="288.0" r="1.45"/><circle cx="699.5" cy="285.0" r="1.45"/><circle cx="702.9" cy="282.6" r="1.45"/><circle cx="705.9" cy="280.6" r="1.45"/><circle cx="709.5" cy="278.0" r="1.45"/><circle cx="712.5" cy="275.4" r="1.45"/><circle cx="715.9" cy="273.0" r="1.45"/><circle cx="719.1" cy="270.6" r="1.45"/><circle cx="722.5" cy="269.4" r="1.45"/><circle cx="725.5" cy="268.0" r="1.45"/><circle cx="728.9" cy="266.0" r="1.45"/><circle cx="731.5" cy="265.0" r="1.45"/><circle cx="735.5" cy="264.0" r="1.45"/><circle cx="738.9" cy="262.6" r="1.45"/><circle cx="742.1" cy="261.4" r="1.45"/><circle cx="745.5" cy="260.6" r="1.45"/><circle cx="748.9" cy="261.0" r="1.45"/><circle cx="752.1" cy="262.0" r="1.45"/><circle cx="755.5" cy="264.0" r="1.45"/><circle cx="758.9" cy="265.0" r="1.45"/><circle cx="762.1" cy="265.0" r="1.45"/><circle cx="765.5" cy="265.0" r="1.45"/><circle cx="768.5" cy="265.0" r="1.45"/><circle cx="771.9" cy="266.0" r="1.45"/><circle cx="775.1" cy="267.0" r="1.45"/><circle cx="778.5" cy="268.0" r="1.45"/><circle cx="781.5" cy="268.6" r="1.45"/><circle cx="784.9" cy="268.6" r="1.45"/><circle cx="788.1" cy="268.0" r="1.45"/><circle cx="791.5" cy="266.6" r="1.45"/><circle cx="794.9" cy="265.4" r="1.45"/><circle cx="798.1" cy="266.0" r="1.45"/><circle cx="801.5" cy="267.0" r="1.45"/><circle cx="804.5" cy="268.6" r="1.45"/><circle cx="807.9" cy="269.6" r="1.45"/><circle cx="811.1" cy="270.6" r="1.45"/><circle cx="814.5" cy="271.0" r="1.45"/><circle cx="817.5" cy="274.0" r="1.45"/><circle cx="820.9" cy="275.6" r="1.45"/><circle cx="824.1" cy="275.0" r="1.45"/><circle cx="827.5" cy="277.0" r="1.45"/><circle cx="830.9" cy="282.0" r="1.45"/><circle cx="834.1" cy="284.0" r="1.45"/><circle cx="837.1" cy="280.0" r="1.45"/></g>
<path d="M617.5 328.8L619.3 327.6L621.2 327.0L623.0 327.4L624.8 327.3L626.7 327.0L628.5 325.7L630.4 324.4L632.2 323.0L634.1 321.7L635.9 320.8L637.8 320.0L639.6 319.2L641.4 318.4L643.3 317.6L645.1 316.8L647.0 316.1L648.8 315.4L650.7 314.8L652.5 314.2L654.3 313.3L656.2 312.1L658.0 310.9L659.9 309.6L661.7 308.0L663.6 306.3L665.4 304.7L667.2 303.8L669.1 302.9L670.9 301.7L672.8 299.8L674.6 297.9L676.5 296.0L678.3 295.4L680.2 294.9L682.0 293.6L683.8 292.2L685.7 290.8L687.5 290.0L689.4 289.9L691.2 289.7L693.1 289.1L694.9 288.3L696.7 287.6L698.6 287.1L700.4 286.7L702.3 286.2L704.1 285.7L706.0 285.0L707.8 284.2L709.6 283.5L711.5 283.2L713.3 282.9L715.2 282.6L717.0 282.1L718.9 281.5L720.7 280.9L722.6 280.0L724.4 279.1L726.2 278.5L728.1 278.5L729.9 278.5L731.8 278.3L733.6 277.7L735.5 277.0L737.3 276.3L739.1 275.7L741.0 275.7L742.8 275.9L744.7 276.1L746.5 276.3L748.4 276.2L750.2 275.7L752.0 275.2L753.9 274.6L755.7 274.2L757.6 274.3L759.4 274.5L761.3 274.6L763.1 274.7L765.0 274.6L766.8 274.4L768.6 274.1L770.5 273.9L772.3 273.7L774.2 273.6L776.0 273.5L777.9 273.4L779.7 273.3L781.5 273.2L783.4 273.1L785.2 272.9L787.1 272.7L788.9 272.6L790.8 272.4L792.6 272.2L794.4 272.1L796.3 271.9L798.1 271.7L800.0 271.5L801.8 271.3L803.7 271.2L805.5 271.1L807.4 271.0L809.2 270.9L811.0 270.7L812.9 270.6L814.7 270.5L816.6 270.4L818.4 270.4L820.3 270.2L822.1 270.2L823.9 270.1L825.8 270.0L827.6 269.9L829.5 269.9L831.3 269.8L833.2 269.6L835.0 269.4L836.8 269.2" fill="none" stroke="#c0141c" stroke-width="1.9" stroke-linejoin="round"/>
<rect x="614.4" y="247.4" width="234.0" height="157.4" fill="none" stroke="#000" stroke-width="1.5"/>
<path d="M628.8 247.4v1.6M628.8 404.8v-1.6M643.1 247.4v1.6M643.1 404.8v-1.6M657.5 247.4v1.6M657.5 404.8v-1.6M671.9 247.4v3.1M671.9 404.8v-3.1M686.2 247.4v1.6M686.2 404.8v-1.6M700.6 247.4v1.6M700.6 404.8v-1.6M715.0 247.4v1.6M715.0 404.8v-1.6M729.4 247.4v3.1M729.4 404.8v-3.1M743.7 247.4v1.6M743.7 404.8v-1.6M758.1 247.4v1.6M758.1 404.8v-1.6M772.5 247.4v1.6M772.5 404.8v-1.6M786.8 247.4v3.1M786.8 404.8v-3.1M801.2 247.4v1.6M801.2 404.8v-1.6M815.6 247.4v1.6M815.6 404.8v-1.6M829.9 247.4v1.6M829.9 404.8v-1.6M844.3 247.4v3.1M844.3 404.8v-3.1M614.4 398.9h4.7M848.4 398.9h-4.7M614.4 393.1h2.4M848.4 393.1h-2.4M614.4 387.2h2.4M848.4 387.2h-2.4M614.4 381.4h2.4M848.4 381.4h-2.4M614.4 375.5h4.7M848.4 375.5h-4.7M614.4 369.7h2.4M848.4 369.7h-2.4M614.4 363.9h2.4M848.4 363.9h-2.4M614.4 358.0h2.4M848.4 358.0h-2.4M614.4 352.2h4.7M848.4 352.2h-4.7M614.4 346.3h2.4M848.4 346.3h-2.4M614.4 340.5h2.4M848.4 340.5h-2.4M614.4 334.7h2.4M848.4 334.7h-2.4M614.4 328.8h4.7M848.4 328.8h-4.7M614.4 323.0h2.4M848.4 323.0h-2.4M614.4 317.1h2.4M848.4 317.1h-2.4M614.4 311.3h2.4M848.4 311.3h-2.4M614.4 305.5h4.7M848.4 305.5h-4.7M614.4 299.6h2.4M848.4 299.6h-2.4M614.4 293.8h2.4M848.4 293.8h-2.4M614.4 287.9h2.4M848.4 287.9h-2.4M614.4 282.1h4.7M848.4 282.1h-4.7M614.4 276.3h2.4M848.4 276.3h-2.4M614.4 270.4h2.4M848.4 270.4h-2.4M614.4 264.6h2.4M848.4 264.6h-2.4M614.4 258.7h4.7M848.4 258.7h-4.7M614.4 252.9h2.4M848.4 252.9h-2.4M614.4 247.1h2.4M848.4 247.1h-2.4" stroke="#000" stroke-width="1.1" fill="none"/>
<text transform="translate(610.4,403.5) scale(1,1.08)" text-anchor="end">0</text>
<text transform="translate(610.4,380.1) scale(1,1.08)" text-anchor="end">20</text>
<text transform="translate(610.4,356.8) scale(1,1.08)" text-anchor="end">40</text>
<text transform="translate(610.4,333.4) scale(1,1.08)" text-anchor="end">60</text>
<text transform="translate(610.4,310.1) scale(1,1.08)" text-anchor="end">80</text>
<text transform="translate(610.4,286.7) scale(1,1.08)" text-anchor="end">100</text>
<text transform="translate(610.4,263.3) scale(1,1.08)" text-anchor="end">120</text>
<text transform="translate(614.0,422.0) scale(1,1.08)" text-anchor="middle">0</text>
<text transform="translate(671.5,422.0) scale(1,1.08)" text-anchor="middle">2</text>
<text transform="translate(729.0,422.0) scale(1,1.08)" text-anchor="middle">4</text>
<text transform="translate(786.4,422.0) scale(1,1.08)" text-anchor="middle">6</text>
<text transform="translate(843.9,422.0) scale(1,1.08)" text-anchor="middle">8</text>
<text transform="translate(731.4,436.4) scale(1,1.08)" text-anchor="middle" style="font-size:13.7px">Radius, kpc</text>
</svg>
</body></html>
